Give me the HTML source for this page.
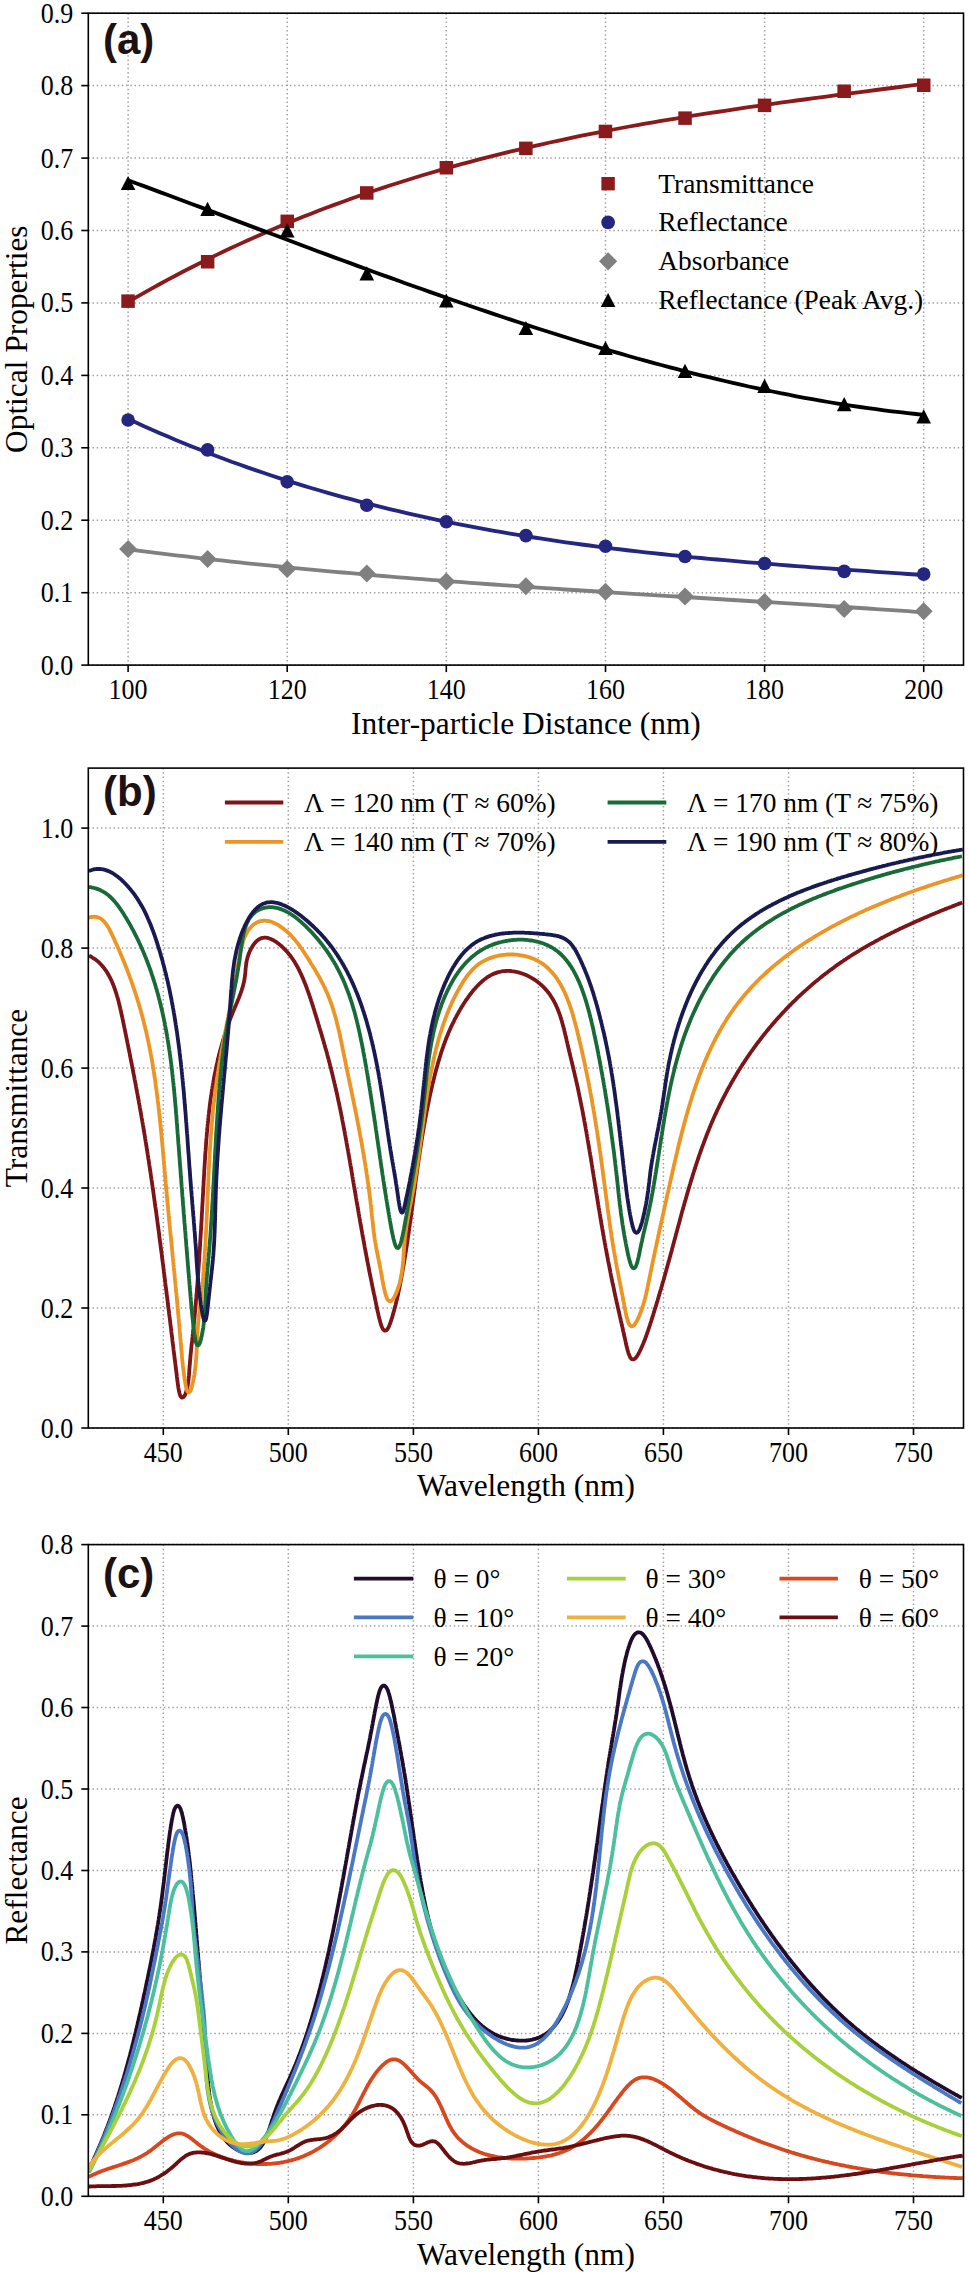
<!DOCTYPE html>
<html><head><meta charset="utf-8"><title>Optical properties</title>
<style>html,body{margin:0;padding:0;background:#fff;width:969px;height:2274px;overflow:hidden}svg{display:block}</style></head>
<body><svg width="969" height="2274" viewBox="0 0 969 2274" font-family='"Liberation Serif", serif' fill="#000">
<rect x="0" y="0" width="969" height="2274" fill="#fff"/>
<line x1="128.1" y1="13.2" x2="128.1" y2="665.1" stroke="#a2a2a2" stroke-width="1.5" stroke-dasharray="1.5 2.7"/>
<line x1="287.2" y1="13.2" x2="287.2" y2="665.1" stroke="#a2a2a2" stroke-width="1.5" stroke-dasharray="1.5 2.7"/>
<line x1="446.3" y1="13.2" x2="446.3" y2="665.1" stroke="#a2a2a2" stroke-width="1.5" stroke-dasharray="1.5 2.7"/>
<line x1="605.5" y1="13.2" x2="605.5" y2="665.1" stroke="#a2a2a2" stroke-width="1.5" stroke-dasharray="1.5 2.7"/>
<line x1="764.6" y1="13.2" x2="764.6" y2="665.1" stroke="#a2a2a2" stroke-width="1.5" stroke-dasharray="1.5 2.7"/>
<line x1="923.7" y1="13.2" x2="923.7" y2="665.1" stroke="#a2a2a2" stroke-width="1.5" stroke-dasharray="1.5 2.7"/>
<line x1="88.3" y1="665.1" x2="963.5" y2="665.1" stroke="#a2a2a2" stroke-width="1.5" stroke-dasharray="1.5 2.7"/>
<line x1="88.3" y1="592.7" x2="963.5" y2="592.7" stroke="#a2a2a2" stroke-width="1.5" stroke-dasharray="1.5 2.7"/>
<line x1="88.3" y1="520.2" x2="963.5" y2="520.2" stroke="#a2a2a2" stroke-width="1.5" stroke-dasharray="1.5 2.7"/>
<line x1="88.3" y1="447.8" x2="963.5" y2="447.8" stroke="#a2a2a2" stroke-width="1.5" stroke-dasharray="1.5 2.7"/>
<line x1="88.3" y1="375.4" x2="963.5" y2="375.4" stroke="#a2a2a2" stroke-width="1.5" stroke-dasharray="1.5 2.7"/>
<line x1="88.3" y1="302.9" x2="963.5" y2="302.9" stroke="#a2a2a2" stroke-width="1.5" stroke-dasharray="1.5 2.7"/>
<line x1="88.3" y1="230.5" x2="963.5" y2="230.5" stroke="#a2a2a2" stroke-width="1.5" stroke-dasharray="1.5 2.7"/>
<line x1="88.3" y1="158.1" x2="963.5" y2="158.1" stroke="#a2a2a2" stroke-width="1.5" stroke-dasharray="1.5 2.7"/>
<line x1="88.3" y1="85.6" x2="963.5" y2="85.6" stroke="#a2a2a2" stroke-width="1.5" stroke-dasharray="1.5 2.7"/>
<line x1="88.3" y1="13.2" x2="963.5" y2="13.2" stroke="#a2a2a2" stroke-width="1.5" stroke-dasharray="1.5 2.7"/>
<clipPath id="clipA"><rect x="88.3" y="13.2" width="875.2" height="651.9"/></clipPath>
<path d="M128.1,302.0 L136.0,297.4 L144.0,292.9 L152.0,288.4 L159.9,284.0 L167.9,279.7 L175.8,275.5 L183.8,271.3 L191.7,267.2 L199.7,263.2 L207.6,259.2 L215.6,255.4 L223.6,251.5 L231.5,247.8 L239.5,244.1 L247.4,240.5 L255.4,236.9 L263.3,233.4 L271.3,230.0 L279.3,226.6 L287.2,223.3 L295.2,220.0 L303.1,216.8 L311.1,213.7 L319.0,210.6 L327.0,207.5 L334.9,204.6 L342.9,201.7 L350.9,198.8 L358.8,196.0 L366.8,193.2 L374.7,190.5 L382.7,187.9 L390.6,185.3 L398.6,182.7 L406.6,180.2 L414.5,177.7 L422.5,175.3 L430.4,173.0 L438.4,170.6 L446.3,168.4 L454.3,166.1 L462.2,163.9 L470.2,161.8 L478.2,159.7 L486.1,157.6 L494.1,155.6 L502.0,153.6 L510.0,151.7 L517.9,149.8 L525.9,147.9 L533.9,146.1 L541.8,144.3 L549.8,142.5 L557.7,140.8 L565.7,139.1 L573.6,137.4 L581.6,135.7 L589.6,134.1 L597.5,132.6 L605.5,131.0 L613.4,129.5 L621.4,128.0 L629.3,126.5 L637.3,125.1 L645.2,123.7 L653.2,122.3 L661.2,120.9 L669.1,119.6 L677.1,118.3 L685.0,117.0 L693.0,115.7 L700.9,114.4 L708.9,113.2 L716.9,112.0 L724.8,110.8 L732.8,109.6 L740.7,108.4 L748.7,107.2 L756.6,106.1 L764.6,104.9 L772.5,103.8 L780.5,102.7 L788.5,101.6 L796.4,100.5 L804.4,99.5 L812.3,98.4 L820.3,97.3 L828.2,96.3 L836.2,95.2 L844.2,94.2 L852.1,93.1 L860.1,92.1 L868.0,91.1 L876.0,90.0 L883.9,89.0 L891.9,88.0 L899.8,87.0 L907.8,85.9 L915.8,84.9 L923.7,83.9" fill="none" stroke="#8a1a1c" stroke-width="3.8" stroke-linejoin="round" stroke-linecap="butt" />
<path d="M128.1,419.0 L136.0,422.6 L144.0,426.2 L152.0,429.7 L159.9,433.2 L167.9,436.6 L175.8,440.0 L183.8,443.2 L191.7,446.4 L199.7,449.6 L207.6,452.7 L215.6,455.7 L223.6,458.7 L231.5,461.7 L239.5,464.5 L247.4,467.4 L255.4,470.1 L263.3,472.8 L271.3,475.5 L279.3,478.1 L287.2,480.6 L295.2,483.1 L303.1,485.6 L311.1,488.0 L319.0,490.3 L327.0,492.6 L334.9,494.9 L342.9,497.1 L350.9,499.2 L358.8,501.3 L366.8,503.4 L374.7,505.4 L382.7,507.4 L390.6,509.3 L398.6,511.2 L406.6,513.1 L414.5,514.9 L422.5,516.6 L430.4,518.4 L438.4,520.1 L446.3,521.7 L454.3,523.3 L462.2,524.9 L470.2,526.4 L478.2,527.9 L486.1,529.4 L494.1,530.8 L502.0,532.2 L510.0,533.6 L517.9,534.9 L525.9,536.2 L533.9,537.5 L541.8,538.7 L549.8,539.9 L557.7,541.1 L565.7,542.3 L573.6,543.4 L581.6,544.5 L589.6,545.5 L597.5,546.6 L605.5,547.6 L613.4,548.6 L621.4,549.5 L629.3,550.5 L637.3,551.4 L645.2,552.3 L653.2,553.2 L661.2,554.0 L669.1,554.9 L677.1,555.7 L685.0,556.5 L693.0,557.3 L700.9,558.0 L708.9,558.8 L716.9,559.5 L724.8,560.2 L732.8,560.9 L740.7,561.6 L748.7,562.3 L756.6,562.9 L764.6,563.6 L772.5,564.2 L780.5,564.9 L788.5,565.5 L796.4,566.1 L804.4,566.7 L812.3,567.3 L820.3,567.9 L828.2,568.4 L836.2,569.0 L844.2,569.6 L852.1,570.1 L860.1,570.7 L868.0,571.2 L876.0,571.8 L883.9,572.3 L891.9,572.9 L899.8,573.4 L907.8,574.0 L915.8,574.5 L923.7,575.1" fill="none" stroke="#24267f" stroke-width="3.8" stroke-linejoin="round" stroke-linecap="butt" />
<path d="M128.1,549.3 L136.0,550.4 L144.0,551.4 L152.0,552.4 L159.9,553.3 L167.9,554.3 L175.8,555.3 L183.8,556.2 L191.7,557.1 L199.7,558.1 L207.6,559.0 L215.6,559.8 L223.6,560.7 L231.5,561.6 L239.5,562.4 L247.4,563.3 L255.4,564.1 L263.3,564.9 L271.3,565.7 L279.3,566.5 L287.2,567.3 L295.2,568.1 L303.1,568.9 L311.1,569.6 L319.0,570.4 L327.0,571.1 L334.9,571.8 L342.9,572.5 L350.9,573.2 L358.8,573.9 L366.8,574.6 L374.7,575.3 L382.7,576.0 L390.6,576.6 L398.6,577.3 L406.6,577.9 L414.5,578.6 L422.5,579.2 L430.4,579.8 L438.4,580.4 L446.3,581.0 L454.3,581.6 L462.2,582.2 L470.2,582.8 L478.2,583.4 L486.1,584.0 L494.1,584.5 L502.0,585.1 L510.0,585.7 L517.9,586.2 L525.9,586.8 L533.9,587.3 L541.8,587.9 L549.8,588.4 L557.7,588.9 L565.7,589.5 L573.6,590.0 L581.6,590.5 L589.6,591.0 L597.5,591.5 L605.5,592.0 L613.4,592.6 L621.4,593.1 L629.3,593.6 L637.3,594.1 L645.2,594.6 L653.2,595.1 L661.2,595.6 L669.1,596.1 L677.1,596.5 L685.0,597.0 L693.0,597.5 L700.9,598.0 L708.9,598.5 L716.9,599.0 L724.8,599.5 L732.8,600.0 L740.7,600.5 L748.7,601.0 L756.6,601.5 L764.6,602.0 L772.5,602.4 L780.5,602.9 L788.5,603.4 L796.4,603.9 L804.4,604.4 L812.3,604.9 L820.3,605.4 L828.2,606.0 L836.2,606.5 L844.2,607.0 L852.1,607.5 L860.1,608.0 L868.0,608.5 L876.0,609.1 L883.9,609.6 L891.9,610.1 L899.8,610.7 L907.8,611.2 L915.8,611.8 L923.7,612.3" fill="none" stroke="#808080" stroke-width="3.8" stroke-linejoin="round" stroke-linecap="butt" />
<path d="M128.1,180.2 L136.0,183.2 L144.0,186.1 L152.0,189.1 L159.9,192.1 L167.9,195.0 L175.8,198.0 L183.8,201.0 L191.7,204.0 L199.7,206.9 L207.6,209.9 L215.6,212.9 L223.6,215.9 L231.5,218.9 L239.5,221.9 L247.4,224.9 L255.4,227.9 L263.3,230.9 L271.3,233.8 L279.3,236.8 L287.2,239.8 L295.2,242.8 L303.1,245.7 L311.1,248.7 L319.0,251.7 L327.0,254.6 L334.9,257.6 L342.9,260.5 L350.9,263.4 L358.8,266.4 L366.8,269.3 L374.7,272.2 L382.7,275.1 L390.6,277.9 L398.6,280.8 L406.6,283.7 L414.5,286.5 L422.5,289.3 L430.4,292.1 L438.4,294.9 L446.3,297.7 L454.3,300.5 L462.2,303.2 L470.2,306.0 L478.2,308.7 L486.1,311.4 L494.1,314.1 L502.0,316.7 L510.0,319.4 L517.9,322.0 L525.9,324.6 L533.9,327.2 L541.8,329.7 L549.8,332.3 L557.7,334.8 L565.7,337.3 L573.6,339.7 L581.6,342.2 L589.6,344.6 L597.5,347.0 L605.5,349.3 L613.4,351.6 L621.4,353.9 L629.3,356.2 L637.3,358.5 L645.2,360.7 L653.2,362.9 L661.2,365.0 L669.1,367.1 L677.1,369.2 L685.0,371.3 L693.0,373.3 L700.9,375.3 L708.9,377.2 L716.9,379.2 L724.8,381.0 L732.8,382.9 L740.7,384.7 L748.7,386.5 L756.6,388.2 L764.6,389.9 L772.5,391.5 L780.5,393.2 L788.5,394.7 L796.4,396.3 L804.4,397.8 L812.3,399.2 L820.3,400.6 L828.2,402.0 L836.2,403.3 L844.2,404.6 L852.1,405.8 L860.1,407.0 L868.0,408.1 L876.0,409.2 L883.9,410.3 L891.9,411.3 L899.8,412.2 L907.8,413.1 L915.8,414.0 L923.7,414.8" fill="none" stroke="#000000" stroke-width="3.8" stroke-linejoin="round" stroke-linecap="butt" />
<path d="M128.1,539.9 L137.1,548.9 L128.1,557.9 L119.1,548.9Z" fill="#808080"/>
<path d="M207.6,549.9 L216.6,558.9 L207.6,567.9 L198.6,558.9Z" fill="#808080"/>
<path d="M287.2,559.9 L296.2,568.9 L287.2,577.9 L278.2,568.9Z" fill="#808080"/>
<path d="M366.8,564.5 L375.8,573.5 L366.8,582.5 L357.8,573.5Z" fill="#808080"/>
<path d="M446.3,572.6 L455.3,581.6 L446.3,590.6 L437.3,581.6Z" fill="#808080"/>
<path d="M525.9,577.2 L534.9,586.2 L525.9,595.2 L516.9,586.2Z" fill="#808080"/>
<path d="M605.5,582.8 L614.5,591.8 L605.5,600.8 L596.5,591.8Z" fill="#808080"/>
<path d="M685.0,587.4 L694.0,596.4 L685.0,605.4 L676.0,596.4Z" fill="#808080"/>
<path d="M764.6,593.0 L773.6,602.0 L764.6,611.0 L755.6,602.0Z" fill="#808080"/>
<path d="M844.2,599.9 L853.2,608.9 L844.2,617.9 L835.2,608.9Z" fill="#808080"/>
<path d="M923.7,602.2 L932.7,611.2 L923.7,620.2 L914.7,611.2Z" fill="#808080"/>
<circle cx="128.1" cy="420.0" r="6.8" fill="#24267f"/>
<circle cx="207.6" cy="449.9" r="6.8" fill="#24267f"/>
<circle cx="287.2" cy="481.7" r="6.8" fill="#24267f"/>
<circle cx="366.8" cy="505.3" r="6.8" fill="#24267f"/>
<circle cx="446.3" cy="521.7" r="6.8" fill="#24267f"/>
<circle cx="525.9" cy="535.6" r="6.8" fill="#24267f"/>
<circle cx="605.5" cy="546.3" r="6.8" fill="#24267f"/>
<circle cx="685.0" cy="556.5" r="6.8" fill="#24267f"/>
<circle cx="764.6" cy="563.5" r="6.8" fill="#24267f"/>
<circle cx="844.2" cy="571.4" r="6.8" fill="#24267f"/>
<circle cx="923.7" cy="574.1" r="6.8" fill="#24267f"/>
<rect x="121.3" y="294.4" width="13.5" height="13.5" fill="#8a1a1c"/>
<rect x="200.9" y="255.0" width="13.5" height="13.5" fill="#8a1a1c"/>
<rect x="280.5" y="214.6" width="13.5" height="13.5" fill="#8a1a1c"/>
<rect x="360.0" y="186.2" width="13.5" height="13.5" fill="#8a1a1c"/>
<rect x="439.6" y="161.0" width="13.5" height="13.5" fill="#8a1a1c"/>
<rect x="519.1" y="141.6" width="13.5" height="13.5" fill="#8a1a1c"/>
<rect x="598.7" y="124.7" width="13.5" height="13.5" fill="#8a1a1c"/>
<rect x="678.3" y="111.4" width="13.5" height="13.5" fill="#8a1a1c"/>
<rect x="757.8" y="98.6" width="13.5" height="13.5" fill="#8a1a1c"/>
<rect x="837.4" y="84.5" width="13.5" height="13.5" fill="#8a1a1c"/>
<rect x="917.0" y="78.5" width="13.5" height="13.5" fill="#8a1a1c"/>
<path d="M128.1,175.9 L135.4,190.1 L120.8,190.1Z" fill="#000000"/>
<path d="M207.6,201.7 L214.9,215.9 L200.3,215.9Z" fill="#000000"/>
<path d="M287.2,223.3 L294.5,237.6 L279.9,237.6Z" fill="#000000"/>
<path d="M366.8,266.2 L374.1,280.4 L359.5,280.4Z" fill="#000000"/>
<path d="M446.3,293.4 L453.6,307.6 L439.0,307.6Z" fill="#000000"/>
<path d="M525.9,320.9 L533.2,335.1 L518.6,335.1Z" fill="#000000"/>
<path d="M605.5,340.9 L612.8,355.1 L598.2,355.1Z" fill="#000000"/>
<path d="M685.0,363.8 L692.3,378.0 L677.7,378.0Z" fill="#000000"/>
<path d="M764.6,378.7 L771.9,392.9 L757.3,392.9Z" fill="#000000"/>
<path d="M844.2,397.1 L851.5,411.3 L836.9,411.3Z" fill="#000000"/>
<path d="M923.7,409.2 L931.0,423.4 L916.4,423.4Z" fill="#000000"/>
<rect x="601.4" y="177.0" width="13.4" height="13.4" fill="#8a1a1c"/>
<text x="658.3" y="192.7" font-size="27.4">Transmittance</text>
<circle cx="608.1" cy="222.4" r="6.85" fill="#24267f"/>
<text x="658.3" y="231.4" font-size="27.4">Reflectance</text>
<path d="M608.1,252.2 L617.2,261.3 L608.1,270.4 L599.0,261.3Z" fill="#808080"/>
<text x="658.3" y="270.3" font-size="27.4">Absorbance</text>
<path d="M608.1,292.9 L615.4,307.1 L600.8,307.1Z" fill="#000000"/>
<text x="658.3" y="309.2" font-size="27.4">Reflectance (Peak Avg.)</text>
<text x="103" y="54" font-family='"Liberation Sans", sans-serif' font-weight="bold" font-size="42" fill="#1c1212">(a)</text>
<rect x="88.3" y="13.2" width="875.2" height="651.9" fill="none" stroke="#000" stroke-width="1.6"/>
<line x1="128.1" y1="665.1" x2="128.1" y2="672.1" stroke="#000" stroke-width="1.6"/>
<text transform="translate(128.1,698.7) scale(1,1.11)" text-anchor="middle" font-size="26">100</text>
<line x1="287.2" y1="665.1" x2="287.2" y2="672.1" stroke="#000" stroke-width="1.6"/>
<text transform="translate(287.2,698.7) scale(1,1.11)" text-anchor="middle" font-size="26">120</text>
<line x1="446.3" y1="665.1" x2="446.3" y2="672.1" stroke="#000" stroke-width="1.6"/>
<text transform="translate(446.3,698.7) scale(1,1.11)" text-anchor="middle" font-size="26">140</text>
<line x1="605.5" y1="665.1" x2="605.5" y2="672.1" stroke="#000" stroke-width="1.6"/>
<text transform="translate(605.5,698.7) scale(1,1.11)" text-anchor="middle" font-size="26">160</text>
<line x1="764.6" y1="665.1" x2="764.6" y2="672.1" stroke="#000" stroke-width="1.6"/>
<text transform="translate(764.6,698.7) scale(1,1.11)" text-anchor="middle" font-size="26">180</text>
<line x1="923.7" y1="665.1" x2="923.7" y2="672.1" stroke="#000" stroke-width="1.6"/>
<text transform="translate(923.7,698.7) scale(1,1.11)" text-anchor="middle" font-size="26">200</text>
<line x1="81.3" y1="665.1" x2="88.3" y2="665.1" stroke="#000" stroke-width="1.6"/>
<text transform="translate(73.2,674.6) scale(1,1.11)" text-anchor="end" font-size="26">0.0</text>
<line x1="81.3" y1="592.7" x2="88.3" y2="592.7" stroke="#000" stroke-width="1.6"/>
<text transform="translate(73.2,602.2) scale(1,1.11)" text-anchor="end" font-size="26">0.1</text>
<line x1="81.3" y1="520.2" x2="88.3" y2="520.2" stroke="#000" stroke-width="1.6"/>
<text transform="translate(73.2,529.7) scale(1,1.11)" text-anchor="end" font-size="26">0.2</text>
<line x1="81.3" y1="447.8" x2="88.3" y2="447.8" stroke="#000" stroke-width="1.6"/>
<text transform="translate(73.2,457.3) scale(1,1.11)" text-anchor="end" font-size="26">0.3</text>
<line x1="81.3" y1="375.4" x2="88.3" y2="375.4" stroke="#000" stroke-width="1.6"/>
<text transform="translate(73.2,384.9) scale(1,1.11)" text-anchor="end" font-size="26">0.4</text>
<line x1="81.3" y1="302.9" x2="88.3" y2="302.9" stroke="#000" stroke-width="1.6"/>
<text transform="translate(73.2,312.4) scale(1,1.11)" text-anchor="end" font-size="26">0.5</text>
<line x1="81.3" y1="230.5" x2="88.3" y2="230.5" stroke="#000" stroke-width="1.6"/>
<text transform="translate(73.2,240.0) scale(1,1.11)" text-anchor="end" font-size="26">0.6</text>
<line x1="81.3" y1="158.1" x2="88.3" y2="158.1" stroke="#000" stroke-width="1.6"/>
<text transform="translate(73.2,167.6) scale(1,1.11)" text-anchor="end" font-size="26">0.7</text>
<line x1="81.3" y1="85.6" x2="88.3" y2="85.6" stroke="#000" stroke-width="1.6"/>
<text transform="translate(73.2,95.1) scale(1,1.11)" text-anchor="end" font-size="26">0.8</text>
<line x1="81.3" y1="13.2" x2="88.3" y2="13.2" stroke="#000" stroke-width="1.6"/>
<text transform="translate(73.2,22.7) scale(1,1.11)" text-anchor="end" font-size="26">0.9</text>
<text x="525.9" y="733.7" text-anchor="middle" font-size="31.4">Inter-particle Distance (nm)</text>
<text transform="translate(27.0,339.2) rotate(-90)" text-anchor="middle" font-size="31.4">Optical Properties</text>
<line x1="163.3" y1="768.1" x2="163.3" y2="1428.0" stroke="#a2a2a2" stroke-width="1.5" stroke-dasharray="1.5 2.7"/>
<line x1="288.3" y1="768.1" x2="288.3" y2="1428.0" stroke="#a2a2a2" stroke-width="1.5" stroke-dasharray="1.5 2.7"/>
<line x1="413.4" y1="768.1" x2="413.4" y2="1428.0" stroke="#a2a2a2" stroke-width="1.5" stroke-dasharray="1.5 2.7"/>
<line x1="538.4" y1="768.1" x2="538.4" y2="1428.0" stroke="#a2a2a2" stroke-width="1.5" stroke-dasharray="1.5 2.7"/>
<line x1="663.4" y1="768.1" x2="663.4" y2="1428.0" stroke="#a2a2a2" stroke-width="1.5" stroke-dasharray="1.5 2.7"/>
<line x1="788.5" y1="768.1" x2="788.5" y2="1428.0" stroke="#a2a2a2" stroke-width="1.5" stroke-dasharray="1.5 2.7"/>
<line x1="913.5" y1="768.1" x2="913.5" y2="1428.0" stroke="#a2a2a2" stroke-width="1.5" stroke-dasharray="1.5 2.7"/>
<line x1="88.3" y1="1428.0" x2="963.5" y2="1428.0" stroke="#a2a2a2" stroke-width="1.5" stroke-dasharray="1.5 2.7"/>
<line x1="88.3" y1="1308.0" x2="963.5" y2="1308.0" stroke="#a2a2a2" stroke-width="1.5" stroke-dasharray="1.5 2.7"/>
<line x1="88.3" y1="1188.0" x2="963.5" y2="1188.0" stroke="#a2a2a2" stroke-width="1.5" stroke-dasharray="1.5 2.7"/>
<line x1="88.3" y1="1068.1" x2="963.5" y2="1068.1" stroke="#a2a2a2" stroke-width="1.5" stroke-dasharray="1.5 2.7"/>
<line x1="88.3" y1="948.1" x2="963.5" y2="948.1" stroke="#a2a2a2" stroke-width="1.5" stroke-dasharray="1.5 2.7"/>
<line x1="88.3" y1="828.1" x2="963.5" y2="828.1" stroke="#a2a2a2" stroke-width="1.5" stroke-dasharray="1.5 2.7"/>
<clipPath id="clipB"><rect x="88.3" y="768.1" width="875.2" height="659.9"/></clipPath>
<path d="M88.9,955.6 L89.8,956.1 L91.1,956.7 L92.3,957.5 L93.6,958.3 L94.9,959.1 L96.1,960.0 L97.2,960.9 L98.4,961.9 L99.5,962.9 L100.5,964.0 L101.6,965.1 L102.5,966.2 L103.5,967.4 L104.4,968.5 L105.3,969.8 L106.2,971.0 L107.0,972.2 L107.8,973.5 L108.5,974.8 L109.2,976.1 L109.9,977.5 L110.6,978.8 L111.3,980.2 L111.9,981.5 L112.5,982.9 L113.0,984.3 L113.6,985.7 L114.1,987.1 L114.6,988.5 L115.1,989.9 L115.6,991.3 L116.1,992.8 L116.5,994.2 L116.9,995.6 L117.4,997.1 L117.8,998.5 L118.2,1000.0 L118.6,1001.4 L118.9,1002.9 L119.3,1004.3 L119.6,1005.8 L120.0,1007.2 L120.3,1008.7 L120.7,1010.2 L121.0,1011.6 L121.3,1013.1 L121.6,1014.5 L121.9,1016.0 L122.3,1017.5 L122.6,1019.0 L122.9,1020.4 L123.2,1021.9 L123.5,1023.4 L123.8,1024.8 L124.1,1026.3 L124.4,1027.8 L124.7,1029.2 L125.0,1030.7 L125.3,1032.2 L125.6,1033.6 L125.9,1035.1 L126.2,1036.6 L126.5,1038.1 L126.8,1039.5 L127.1,1041.0 L127.4,1042.5 L127.7,1043.9 L128.0,1045.4 L128.3,1046.9 L128.6,1048.3 L128.9,1049.8 L129.2,1051.3 L129.5,1052.8 L129.8,1054.2 L130.0,1055.7 L130.3,1057.2 L130.6,1058.6 L130.9,1060.1 L131.2,1061.6 L131.5,1063.1 L131.8,1064.5 L132.1,1066.0 L132.4,1067.5 L132.7,1068.9 L132.9,1070.4 L133.2,1071.9 L133.5,1073.4 L133.8,1074.8 L134.1,1076.3 L134.4,1077.8 L134.6,1079.3 L134.9,1080.7 L135.2,1082.2 L135.5,1083.7 L135.8,1085.1 L136.0,1086.6 L136.3,1088.1 L136.6,1089.6 L136.9,1091.0 L137.1,1092.5 L137.4,1094.0 L137.7,1095.5 L137.9,1096.9 L138.2,1098.4 L138.5,1099.9 L138.8,1101.4 L139.0,1102.8 L139.3,1104.3 L139.6,1105.8 L139.8,1107.3 L140.1,1108.8 L140.3,1110.2 L140.6,1111.7 L140.9,1113.2 L141.1,1114.7 L141.4,1116.1 L141.6,1117.6 L141.9,1119.1 L142.2,1120.6 L142.4,1122.1 L142.7,1123.5 L142.9,1125.0 L143.2,1126.5 L143.4,1128.0 L143.7,1129.4 L143.9,1130.9 L144.2,1132.4 L144.4,1133.9 L144.7,1135.4 L144.9,1136.8 L145.1,1138.3 L145.4,1139.8 L145.6,1141.3 L145.9,1142.8 L146.1,1144.2 L146.3,1145.7 L146.6,1147.2 L146.8,1148.7 L147.0,1150.2 L147.3,1151.7 L147.5,1153.1 L147.7,1154.6 L148.0,1156.1 L148.2,1157.6 L148.4,1159.1 L148.7,1160.5 L148.9,1162.0 L149.1,1163.5 L149.3,1165.0 L149.6,1166.5 L149.8,1168.0 L150.0,1169.4 L150.2,1170.9 L150.5,1172.4 L150.7,1173.9 L150.9,1175.4 L151.1,1176.9 L151.3,1178.3 L151.5,1179.8 L151.8,1181.3 L152.0,1182.8 L152.2,1184.3 L152.4,1185.8 L152.6,1187.3 L152.8,1188.7 L153.1,1190.2 L153.3,1191.7 L153.5,1193.2 L153.7,1194.7 L153.9,1196.2 L154.1,1197.7 L154.3,1199.1 L154.5,1200.6 L154.7,1202.1 L154.9,1203.6 L155.1,1205.1 L155.3,1206.6 L155.6,1208.1 L155.8,1209.5 L156.0,1211.0 L156.2,1212.5 L156.4,1214.0 L156.6,1215.5 L156.8,1217.0 L157.0,1218.5 L157.2,1219.9 L157.4,1221.4 L157.6,1222.9 L157.8,1224.4 L158.0,1225.9 L158.2,1227.4 L158.4,1228.9 L158.6,1230.3 L158.8,1231.8 L159.0,1233.3 L159.2,1234.8 L159.3,1236.3 L159.5,1237.8 L159.7,1239.3 L159.9,1240.8 L160.1,1242.2 L160.3,1243.7 L160.5,1245.2 L160.7,1246.7 L160.9,1248.2 L161.1,1249.7 L161.3,1251.2 L161.5,1252.7 L161.7,1254.1 L161.9,1255.6 L162.0,1257.1 L162.2,1258.6 L162.4,1260.1 L162.6,1261.6 L162.8,1263.1 L163.0,1264.6 L163.2,1266.1 L163.4,1267.5 L163.6,1269.0 L163.8,1270.5 L163.9,1272.0 L164.1,1273.5 L164.3,1275.0 L164.5,1276.5 L164.7,1278.0 L164.9,1279.4 L165.1,1280.9 L165.2,1282.4 L165.4,1283.9 L165.6,1285.4 L165.8,1286.9 L166.0,1288.4 L166.2,1289.9 L166.4,1291.4 L166.5,1292.8 L166.7,1294.3 L166.9,1295.8 L167.1,1297.3 L167.3,1298.8 L167.5,1300.3 L167.7,1301.8 L167.8,1303.3 L168.0,1304.7 L168.2,1306.2 L168.4,1307.7 L168.6,1309.2 L168.8,1310.7 L169.0,1312.2 L169.1,1313.7 L169.3,1315.2 L169.5,1316.7 L169.7,1318.1 L169.9,1319.6 L170.1,1321.1 L170.2,1322.6 L170.4,1324.1 L170.6,1325.6 L170.8,1327.1 L171.0,1328.6 L171.2,1330.1 L171.3,1331.5 L171.5,1333.0 L171.7,1334.5 L171.9,1336.0 L172.1,1337.5 L172.3,1339.0 L172.4,1340.5 L172.6,1342.0 L172.8,1343.5 L173.0,1344.9 L173.2,1346.4 L173.4,1347.9 L173.5,1349.4 L173.7,1350.9 L173.9,1352.4 L174.1,1353.9 L174.3,1355.4 L174.5,1356.9 L174.6,1358.3 L174.8,1359.8 L175.0,1361.3 L175.2,1362.8 L175.4,1364.3 L175.6,1365.8 L175.7,1367.3 L175.9,1368.8 L176.1,1370.3 L176.3,1371.7 L176.5,1373.2 L176.7,1374.7 L176.8,1376.2 L177.0,1377.7 L177.2,1379.2 L177.4,1380.7 L177.6,1382.2 L177.8,1383.6 L178.0,1385.1 L178.2,1386.6 L178.4,1388.1 L178.7,1389.6 L179.0,1391.1 L179.3,1392.5 L179.7,1394.0 L180.1,1395.4 L180.8,1396.7 L181.7,1397.5 L182.7,1397.5 L183.8,1396.8 L184.6,1395.6 L185.3,1394.3 L185.8,1392.9 L186.3,1391.5 L186.7,1390.0 L187.1,1388.6 L187.4,1387.1 L187.7,1385.6 L187.9,1384.2 L188.2,1382.7 L188.4,1381.2 L188.5,1379.7 L188.7,1378.2 L188.8,1376.7 L189.0,1375.2 L189.1,1373.7 L189.2,1372.2 L189.3,1370.7 L189.4,1369.2 L189.5,1367.8 L189.6,1366.3 L189.8,1364.8 L189.9,1363.3 L190.0,1361.8 L190.1,1360.3 L190.3,1358.8 L190.4,1357.3 L190.5,1355.8 L190.7,1354.3 L190.8,1352.8 L191.0,1351.3 L191.1,1349.8 L191.3,1348.3 L191.4,1346.8 L191.6,1345.3 L191.7,1343.9 L191.9,1342.4 L192.1,1340.9 L192.2,1339.4 L192.4,1337.9 L192.6,1336.4 L192.7,1334.9 L192.9,1333.4 L193.0,1331.9 L193.2,1330.4 L193.4,1328.9 L193.5,1327.4 L193.7,1326.0 L193.8,1324.5 L194.0,1323.0 L194.1,1321.5 L194.3,1320.0 L194.4,1318.5 L194.6,1317.0 L194.7,1315.5 L194.8,1314.0 L195.0,1312.5 L195.1,1311.0 L195.3,1309.5 L195.4,1308.0 L195.5,1306.5 L195.7,1305.1 L195.8,1303.6 L195.9,1302.1 L196.0,1300.6 L196.2,1299.1 L196.3,1297.6 L196.4,1296.1 L196.5,1294.6 L196.7,1293.1 L196.8,1291.6 L196.9,1290.1 L197.0,1288.6 L197.1,1287.1 L197.3,1285.6 L197.4,1284.1 L197.5,1282.6 L197.6,1281.1 L197.7,1279.6 L197.8,1278.1 L197.9,1276.6 L198.0,1275.1 L198.2,1273.7 L198.3,1272.2 L198.4,1270.7 L198.5,1269.2 L198.6,1267.7 L198.7,1266.2 L198.8,1264.7 L198.9,1263.2 L199.0,1261.7 L199.1,1260.2 L199.2,1258.7 L199.3,1257.2 L199.4,1255.7 L199.5,1254.2 L199.6,1252.7 L199.7,1251.2 L199.8,1249.7 L199.9,1248.2 L200.0,1246.7 L200.1,1245.2 L200.1,1243.7 L200.2,1242.2 L200.3,1240.7 L200.4,1239.2 L200.5,1237.7 L200.6,1236.2 L200.7,1234.7 L200.8,1233.2 L200.9,1231.7 L201.0,1230.2 L201.1,1228.7 L201.1,1227.2 L201.2,1225.7 L201.3,1224.3 L201.4,1222.8 L201.5,1221.3 L201.6,1219.8 L201.7,1218.3 L201.7,1216.8 L201.8,1215.3 L201.9,1213.8 L202.0,1212.3 L202.1,1210.8 L202.2,1209.3 L202.2,1207.8 L202.3,1206.3 L202.4,1204.8 L202.5,1203.3 L202.6,1201.8 L202.7,1200.3 L202.7,1198.8 L202.8,1197.3 L202.9,1195.8 L203.0,1194.3 L203.1,1192.8 L203.2,1191.3 L203.2,1189.8 L203.3,1188.3 L203.4,1186.8 L203.5,1185.3 L203.6,1183.8 L203.6,1182.3 L203.7,1180.8 L203.8,1179.3 L203.9,1177.8 L204.0,1176.3 L204.1,1174.8 L204.2,1173.3 L204.2,1171.8 L204.3,1170.3 L204.4,1168.8 L204.5,1167.3 L204.6,1165.8 L204.7,1164.3 L204.8,1162.8 L204.9,1161.4 L205.0,1159.9 L205.1,1158.4 L205.1,1156.9 L205.2,1155.4 L205.3,1153.9 L205.4,1152.4 L205.6,1150.9 L205.7,1149.4 L205.8,1147.9 L205.9,1146.4 L206.0,1144.9 L206.1,1143.4 L206.2,1141.9 L206.3,1140.4 L206.4,1138.9 L206.6,1137.4 L206.7,1135.9 L206.8,1134.4 L206.9,1132.9 L207.1,1131.4 L207.2,1129.9 L207.3,1128.4 L207.5,1127.0 L207.6,1125.5 L207.8,1124.0 L207.9,1122.5 L208.1,1121.0 L208.2,1119.5 L208.4,1118.0 L208.5,1116.5 L208.7,1115.0 L208.9,1113.5 L209.0,1112.0 L209.2,1110.5 L209.4,1109.1 L209.6,1107.6 L209.7,1106.1 L209.9,1104.6 L210.1,1103.1 L210.3,1101.6 L210.5,1100.1 L210.7,1098.6 L210.9,1097.2 L211.2,1095.7 L211.4,1094.2 L211.6,1092.7 L211.8,1091.2 L212.0,1089.7 L212.3,1088.3 L212.5,1086.8 L212.8,1085.3 L213.0,1083.8 L213.3,1082.3 L213.5,1080.9 L213.8,1079.4 L214.1,1077.9 L214.3,1076.4 L214.6,1075.0 L214.9,1073.5 L215.2,1072.0 L215.5,1070.5 L215.8,1069.1 L216.1,1067.6 L216.4,1066.1 L216.7,1064.7 L217.1,1063.2 L217.4,1061.8 L217.7,1060.3 L218.1,1058.8 L218.4,1057.4 L218.8,1055.9 L219.2,1054.5 L219.5,1053.0 L219.9,1051.6 L220.3,1050.1 L220.7,1048.7 L221.1,1047.2 L221.5,1045.8 L221.9,1044.3 L222.3,1042.9 L222.7,1041.4 L223.1,1040.0 L223.6,1038.6 L224.0,1037.1 L224.4,1035.7 L224.9,1034.3 L225.4,1032.8 L225.8,1031.4 L226.3,1030.0 L226.8,1028.6 L227.3,1027.1 L227.8,1025.7 L228.3,1024.3 L228.8,1022.9 L229.3,1021.5 L229.8,1020.1 L230.3,1018.7 L230.9,1017.3 L231.4,1015.9 L232.0,1014.5 L232.5,1013.1 L233.1,1011.7 L233.7,1010.3 L234.3,1009.0 L234.8,1007.6 L235.4,1006.2 L236.0,1004.8 L236.6,1003.4 L237.2,1002.0 L237.7,1000.6 L238.3,999.3 L238.9,997.9 L239.4,996.5 L239.9,995.1 L240.5,993.7 L241.0,992.2 L241.5,990.8 L241.9,989.4 L242.4,988.0 L242.8,986.5 L243.2,985.1 L243.6,983.6 L243.9,982.2 L244.2,980.7 L244.5,979.2 L244.7,977.8 L244.9,976.3 L245.1,974.8 L245.3,973.3 L245.4,971.8 L245.5,970.3 L245.6,968.8 L245.8,967.3 L246.0,965.8 L246.1,964.3 L246.4,962.9 L246.6,961.4 L246.9,959.9 L247.3,958.5 L247.7,957.0 L248.1,955.6 L248.6,954.2 L249.2,952.8 L249.7,951.4 L250.4,950.0 L251.1,948.7 L251.8,947.4 L252.6,946.1 L253.4,944.9 L254.3,943.7 L255.3,942.5 L256.3,941.4 L257.4,940.5 L258.6,939.6 L259.9,938.8 L261.3,938.2 L262.7,937.8 L264.2,937.7 L265.7,937.7 L267.2,937.9 L268.6,938.2 L270.0,938.7 L271.4,939.3 L272.8,939.9 L274.1,940.7 L275.3,941.4 L276.6,942.3 L277.8,943.2 L279.0,944.1 L280.1,945.0 L281.3,946.0 L282.4,947.0 L283.5,948.1 L284.5,949.1 L285.6,950.2 L286.6,951.3 L287.6,952.4 L288.5,953.6 L289.5,954.7 L290.4,955.9 L291.3,957.1 L292.2,958.3 L293.0,959.6 L293.9,960.8 L294.7,962.1 L295.4,963.4 L296.2,964.7 L296.9,966.0 L297.7,967.3 L298.4,968.6 L299.0,970.0 L299.7,971.3 L300.3,972.6 L301.0,974.0 L301.6,975.4 L302.2,976.7 L302.8,978.1 L303.4,979.5 L304.0,980.9 L304.5,982.3 L305.1,983.7 L305.6,985.1 L306.2,986.5 L306.7,987.9 L307.2,989.3 L307.7,990.7 L308.2,992.1 L308.7,993.5 L309.2,994.9 L309.7,996.3 L310.2,997.8 L310.7,999.2 L311.1,1000.6 L311.6,1002.0 L312.1,1003.5 L312.5,1004.9 L313.0,1006.3 L313.4,1007.8 L313.9,1009.2 L314.3,1010.6 L314.7,1012.1 L315.2,1013.5 L315.6,1014.9 L316.1,1016.4 L316.5,1017.8 L316.9,1019.2 L317.4,1020.7 L317.8,1022.1 L318.2,1023.5 L318.7,1025.0 L319.1,1026.4 L319.5,1027.8 L320.0,1029.3 L320.4,1030.7 L320.8,1032.2 L321.3,1033.6 L321.7,1035.0 L322.1,1036.5 L322.5,1037.9 L323.0,1039.4 L323.4,1040.8 L323.8,1042.2 L324.2,1043.7 L324.6,1045.1 L325.0,1046.6 L325.4,1048.0 L325.8,1049.4 L326.3,1050.9 L326.7,1052.3 L327.1,1053.8 L327.4,1055.2 L327.8,1056.7 L328.2,1058.1 L328.6,1059.6 L329.0,1061.0 L329.4,1062.5 L329.8,1063.9 L330.1,1065.4 L330.5,1066.8 L330.9,1068.3 L331.2,1069.7 L331.6,1071.2 L332.0,1072.7 L332.3,1074.1 L332.7,1075.6 L333.0,1077.0 L333.4,1078.5 L333.7,1079.9 L334.1,1081.4 L334.4,1082.9 L334.8,1084.3 L335.1,1085.8 L335.4,1087.2 L335.8,1088.7 L336.1,1090.2 L336.4,1091.6 L336.8,1093.1 L337.1,1094.6 L337.4,1096.0 L337.7,1097.5 L338.0,1099.0 L338.3,1100.4 L338.7,1101.9 L339.0,1103.4 L339.3,1104.8 L339.6,1106.3 L339.9,1107.8 L340.2,1109.2 L340.5,1110.7 L340.8,1112.2 L341.1,1113.7 L341.4,1115.1 L341.7,1116.6 L342.0,1118.1 L342.2,1119.5 L342.5,1121.0 L342.8,1122.5 L343.1,1124.0 L343.4,1125.4 L343.7,1126.9 L343.9,1128.4 L344.2,1129.9 L344.5,1131.3 L344.8,1132.8 L345.0,1134.3 L345.3,1135.7 L345.6,1137.2 L345.8,1138.7 L346.1,1140.2 L346.4,1141.7 L346.6,1143.1 L346.9,1144.6 L347.2,1146.1 L347.4,1147.6 L347.7,1149.0 L348.0,1150.5 L348.2,1152.0 L348.5,1153.5 L348.7,1154.9 L349.0,1156.4 L349.3,1157.9 L349.5,1159.4 L349.8,1160.9 L350.0,1162.3 L350.3,1163.8 L350.5,1165.3 L350.8,1166.8 L351.0,1168.2 L351.3,1169.7 L351.5,1171.2 L351.8,1172.7 L352.0,1174.2 L352.3,1175.6 L352.5,1177.1 L352.8,1178.6 L353.0,1180.1 L353.3,1181.6 L353.5,1183.0 L353.8,1184.5 L354.0,1186.0 L354.3,1187.5 L354.5,1189.0 L354.8,1190.4 L355.0,1191.9 L355.3,1193.4 L355.5,1194.9 L355.8,1196.3 L356.0,1197.8 L356.3,1199.3 L356.5,1200.8 L356.8,1202.3 L357.0,1203.7 L357.3,1205.2 L357.6,1206.7 L357.8,1208.2 L358.1,1209.7 L358.3,1211.1 L358.6,1212.6 L358.8,1214.1 L359.1,1215.6 L359.3,1217.0 L359.6,1218.5 L359.9,1220.0 L360.1,1221.5 L360.4,1223.0 L360.6,1224.4 L360.9,1225.9 L361.2,1227.4 L361.4,1228.9 L361.7,1230.3 L362.0,1231.8 L362.2,1233.3 L362.5,1234.8 L362.7,1236.2 L363.0,1237.7 L363.3,1239.2 L363.6,1240.7 L363.8,1242.2 L364.1,1243.6 L364.4,1245.1 L364.6,1246.6 L364.9,1248.1 L365.2,1249.5 L365.5,1251.0 L365.7,1252.5 L366.0,1253.9 L366.3,1255.4 L366.6,1256.9 L366.8,1258.4 L367.1,1259.8 L367.4,1261.3 L367.7,1262.8 L368.0,1264.3 L368.3,1265.7 L368.6,1267.2 L368.8,1268.7 L369.1,1270.2 L369.4,1271.6 L369.7,1273.1 L370.0,1274.6 L370.3,1276.0 L370.6,1277.5 L370.9,1279.0 L371.2,1280.4 L371.5,1281.9 L371.8,1283.4 L372.1,1284.9 L372.4,1286.3 L372.7,1287.8 L373.0,1289.3 L373.3,1290.7 L373.6,1292.2 L373.9,1293.7 L374.3,1295.1 L374.6,1296.6 L374.9,1298.1 L375.2,1299.5 L375.5,1301.0 L375.8,1302.5 L376.1,1303.9 L376.4,1305.4 L376.7,1306.9 L377.0,1308.3 L377.3,1309.8 L377.6,1311.3 L378.0,1312.7 L378.3,1314.2 L378.6,1315.7 L379.0,1317.1 L379.3,1318.6 L379.7,1320.0 L380.1,1321.5 L380.5,1322.9 L380.9,1324.4 L381.4,1325.8 L382.0,1327.2 L382.6,1328.5 L383.4,1329.7 L384.4,1330.6 L385.6,1330.7 L386.7,1330.1 L387.6,1329.0 L388.3,1327.7 L389.0,1326.4 L389.5,1325.0 L390.1,1323.6 L390.6,1322.2 L391.1,1320.7 L391.5,1319.3 L392.0,1317.9 L392.4,1316.4 L392.8,1315.0 L393.2,1313.6 L393.6,1312.1 L394.1,1310.7 L394.4,1309.2 L394.8,1307.8 L395.2,1306.3 L395.6,1304.9 L395.9,1303.4 L396.3,1302.0 L396.6,1300.5 L397.0,1299.0 L397.3,1297.6 L397.7,1296.1 L398.0,1294.7 L398.3,1293.2 L398.6,1291.7 L398.9,1290.2 L399.2,1288.8 L399.5,1287.3 L399.8,1285.8 L400.1,1284.4 L400.4,1282.9 L400.7,1281.4 L400.9,1279.9 L401.2,1278.5 L401.5,1277.0 L401.8,1275.5 L402.0,1274.0 L402.3,1272.6 L402.6,1271.1 L402.8,1269.6 L403.1,1268.1 L403.3,1266.7 L403.6,1265.2 L403.9,1263.7 L404.1,1262.2 L404.3,1260.7 L404.6,1259.3 L404.8,1257.8 L405.1,1256.3 L405.3,1254.8 L405.5,1253.3 L405.8,1251.9 L406.0,1250.4 L406.2,1248.9 L406.5,1247.4 L406.7,1245.9 L406.9,1244.5 L407.2,1243.0 L407.4,1241.5 L407.6,1240.0 L407.8,1238.5 L408.0,1237.0 L408.3,1235.5 L408.5,1234.1 L408.7,1232.6 L408.9,1231.1 L409.1,1229.6 L409.3,1228.1 L409.5,1226.6 L409.7,1225.2 L409.9,1223.7 L410.1,1222.2 L410.4,1220.7 L410.6,1219.2 L410.8,1217.7 L411.0,1216.2 L411.2,1214.8 L411.4,1213.3 L411.6,1211.8 L411.8,1210.3 L412.0,1208.8 L412.2,1207.3 L412.4,1205.8 L412.6,1204.3 L412.8,1202.9 L413.0,1201.4 L413.2,1199.9 L413.4,1198.4 L413.6,1196.9 L413.8,1195.4 L414.0,1193.9 L414.2,1192.5 L414.4,1191.0 L414.6,1189.5 L414.8,1188.0 L415.0,1186.5 L415.2,1185.0 L415.4,1183.5 L415.6,1182.1 L415.8,1180.6 L416.0,1179.1 L416.2,1177.6 L416.4,1176.1 L416.6,1174.6 L416.8,1173.1 L417.0,1171.6 L417.2,1170.2 L417.4,1168.7 L417.6,1167.2 L417.9,1165.7 L418.1,1164.2 L418.3,1162.7 L418.5,1161.3 L418.7,1159.8 L418.9,1158.3 L419.1,1156.8 L419.4,1155.3 L419.6,1153.8 L419.8,1152.3 L420.0,1150.9 L420.2,1149.4 L420.5,1147.9 L420.7,1146.4 L420.9,1144.9 L421.2,1143.5 L421.4,1142.0 L421.6,1140.5 L421.9,1139.0 L422.1,1137.5 L422.3,1136.0 L422.6,1134.6 L422.8,1133.1 L423.1,1131.6 L423.3,1130.1 L423.6,1128.6 L423.8,1127.2 L424.1,1125.7 L424.4,1124.2 L424.6,1122.7 L424.9,1121.3 L425.1,1119.8 L425.4,1118.3 L425.7,1116.8 L426.0,1115.4 L426.2,1113.9 L426.5,1112.4 L426.8,1110.9 L427.1,1109.5 L427.4,1108.0 L427.7,1106.5 L428.0,1105.1 L428.3,1103.6 L428.6,1102.1 L428.9,1100.6 L429.2,1099.2 L429.5,1097.7 L429.8,1096.2 L430.1,1094.8 L430.4,1093.3 L430.8,1091.8 L431.1,1090.4 L431.4,1088.9 L431.8,1087.5 L432.1,1086.0 L432.4,1084.5 L432.8,1083.1 L433.1,1081.6 L433.5,1080.2 L433.9,1078.7 L434.2,1077.3 L434.6,1075.8 L435.0,1074.3 L435.3,1072.9 L435.7,1071.4 L436.1,1070.0 L436.5,1068.5 L436.9,1067.1 L437.3,1065.7 L437.7,1064.2 L438.1,1062.8 L438.5,1061.3 L439.0,1059.9 L439.4,1058.4 L439.8,1057.0 L440.3,1055.6 L440.7,1054.2 L441.2,1052.7 L441.6,1051.3 L442.1,1049.9 L442.6,1048.5 L443.1,1047.0 L443.6,1045.6 L444.1,1044.2 L444.6,1042.8 L445.1,1041.4 L445.6,1040.0 L446.2,1038.6 L446.7,1037.2 L447.3,1035.8 L447.9,1034.4 L448.4,1033.0 L449.0,1031.6 L449.6,1030.3 L450.2,1028.9 L450.8,1027.5 L451.5,1026.2 L452.1,1024.8 L452.7,1023.5 L453.4,1022.1 L454.1,1020.8 L454.7,1019.4 L455.4,1018.1 L456.1,1016.8 L456.8,1015.4 L457.6,1014.1 L458.3,1012.8 L459.0,1011.5 L459.8,1010.2 L460.5,1008.9 L461.3,1007.6 L462.1,1006.3 L462.9,1005.1 L463.7,1003.8 L464.5,1002.5 L465.3,1001.3 L466.1,1000.0 L467.0,998.8 L467.9,997.6 L468.7,996.4 L469.6,995.2 L470.5,994.0 L471.4,992.8 L472.4,991.6 L473.3,990.4 L474.3,989.3 L475.3,988.2 L476.3,987.0 L477.3,986.0 L478.4,984.9 L479.4,983.8 L480.5,982.8 L481.6,981.8 L482.8,980.8 L483.9,979.9 L485.1,978.9 L486.3,978.0 L487.5,977.2 L488.8,976.4 L490.1,975.6 L491.4,974.9 L492.8,974.2 L494.1,973.6 L495.5,973.1 L496.9,972.6 L498.4,972.1 L499.8,971.8 L501.3,971.5 L502.8,971.2 L504.2,971.1 L505.7,971.0 L507.2,970.9 L508.7,970.9 L510.2,971.0 L511.7,971.2 L513.2,971.3 L514.7,971.6 L516.2,971.9 L517.6,972.2 L519.1,972.6 L520.5,973.0 L521.9,973.5 L523.4,974.0 L524.7,974.5 L526.1,975.1 L527.5,975.7 L528.8,976.4 L530.2,977.1 L531.5,977.8 L532.8,978.6 L534.0,979.4 L535.3,980.2 L536.5,981.1 L537.7,982.0 L538.9,982.9 L540.0,983.9 L541.2,984.8 L542.3,985.9 L543.4,986.9 L544.4,988.0 L545.4,989.1 L546.4,990.2 L547.4,991.3 L548.3,992.5 L549.2,993.7 L550.1,994.9 L550.9,996.2 L551.7,997.4 L552.5,998.7 L553.3,1000.0 L554.0,1001.3 L554.7,1002.7 L555.4,1004.0 L556.0,1005.4 L556.6,1006.7 L557.2,1008.1 L557.8,1009.5 L558.3,1010.9 L558.9,1012.3 L559.4,1013.7 L559.9,1015.1 L560.4,1016.5 L560.8,1018.0 L561.3,1019.4 L561.7,1020.8 L562.1,1022.3 L562.5,1023.7 L562.9,1025.2 L563.3,1026.6 L563.7,1028.1 L564.1,1029.5 L564.4,1031.0 L564.8,1032.4 L565.1,1033.9 L565.5,1035.3 L565.8,1036.8 L566.2,1038.3 L566.5,1039.7 L566.8,1041.2 L567.2,1042.6 L567.5,1044.1 L567.8,1045.6 L568.2,1047.0 L568.5,1048.5 L568.9,1050.0 L569.2,1051.4 L569.6,1052.9 L569.9,1054.3 L570.3,1055.8 L570.6,1057.2 L571.0,1058.7 L571.3,1060.2 L571.7,1061.6 L572.0,1063.1 L572.4,1064.5 L572.7,1066.0 L573.1,1067.5 L573.4,1068.9 L573.8,1070.4 L574.1,1071.8 L574.5,1073.3 L574.8,1074.8 L575.1,1076.2 L575.5,1077.7 L575.8,1079.1 L576.1,1080.6 L576.5,1082.1 L576.8,1083.5 L577.1,1085.0 L577.5,1086.5 L577.8,1087.9 L578.1,1089.4 L578.4,1090.9 L578.7,1092.3 L579.0,1093.8 L579.3,1095.3 L579.6,1096.7 L579.9,1098.2 L580.2,1099.7 L580.5,1101.1 L580.8,1102.6 L581.1,1104.1 L581.4,1105.5 L581.7,1107.0 L582.0,1108.5 L582.3,1110.0 L582.6,1111.4 L582.9,1112.9 L583.1,1114.4 L583.4,1115.9 L583.7,1117.3 L584.0,1118.8 L584.2,1120.3 L584.5,1121.8 L584.8,1123.2 L585.0,1124.7 L585.3,1126.2 L585.6,1127.7 L585.8,1129.1 L586.1,1130.6 L586.4,1132.1 L586.6,1133.6 L586.9,1135.0 L587.1,1136.5 L587.4,1138.0 L587.6,1139.5 L587.9,1141.0 L588.1,1142.4 L588.4,1143.9 L588.6,1145.4 L588.9,1146.9 L589.1,1148.4 L589.4,1149.8 L589.6,1151.3 L589.9,1152.8 L590.1,1154.3 L590.4,1155.8 L590.6,1157.2 L590.9,1158.7 L591.1,1160.2 L591.3,1161.7 L591.6,1163.2 L591.8,1164.6 L592.1,1166.1 L592.3,1167.6 L592.5,1169.1 L592.8,1170.6 L593.0,1172.0 L593.2,1173.5 L593.5,1175.0 L593.7,1176.5 L594.0,1178.0 L594.2,1179.4 L594.4,1180.9 L594.7,1182.4 L594.9,1183.9 L595.1,1185.4 L595.4,1186.9 L595.6,1188.3 L595.9,1189.8 L596.1,1191.3 L596.3,1192.8 L596.6,1194.3 L596.8,1195.7 L597.0,1197.2 L597.3,1198.7 L597.5,1200.2 L597.8,1201.7 L598.0,1203.1 L598.2,1204.6 L598.5,1206.1 L598.7,1207.6 L599.0,1209.1 L599.2,1210.5 L599.5,1212.0 L599.7,1213.5 L600.0,1215.0 L600.2,1216.5 L600.4,1217.9 L600.7,1219.4 L600.9,1220.9 L601.2,1222.4 L601.4,1223.9 L601.7,1225.3 L602.0,1226.8 L602.2,1228.3 L602.5,1229.8 L602.7,1231.2 L603.0,1232.7 L603.2,1234.2 L603.5,1235.7 L603.8,1237.2 L604.0,1238.6 L604.3,1240.1 L604.6,1241.6 L604.8,1243.1 L605.1,1244.5 L605.4,1246.0 L605.6,1247.5 L605.9,1249.0 L606.2,1250.4 L606.5,1251.9 L606.7,1253.4 L607.0,1254.9 L607.3,1256.3 L607.6,1257.8 L607.9,1259.3 L608.1,1260.8 L608.4,1262.2 L608.7,1263.7 L609.0,1265.2 L609.3,1266.6 L609.6,1268.1 L609.9,1269.6 L610.2,1271.1 L610.4,1272.5 L610.7,1274.0 L611.0,1275.5 L611.3,1276.9 L611.6,1278.4 L611.9,1279.9 L612.2,1281.4 L612.5,1282.8 L612.8,1284.3 L613.2,1285.8 L613.5,1287.2 L613.8,1288.7 L614.1,1290.2 L614.4,1291.6 L614.7,1293.1 L615.0,1294.6 L615.3,1296.0 L615.7,1297.5 L616.0,1299.0 L616.3,1300.4 L616.6,1301.9 L617.0,1303.4 L617.3,1304.8 L617.6,1306.3 L617.9,1307.7 L618.3,1309.2 L618.6,1310.7 L618.9,1312.1 L619.3,1313.6 L619.6,1315.1 L619.9,1316.5 L620.3,1318.0 L620.6,1319.4 L620.9,1320.9 L621.3,1322.4 L621.6,1323.8 L621.9,1325.3 L622.3,1326.8 L622.6,1328.2 L622.9,1329.7 L623.2,1331.2 L623.6,1332.6 L623.9,1334.1 L624.2,1335.5 L624.5,1337.0 L624.9,1338.5 L625.2,1339.9 L625.5,1341.4 L625.8,1342.9 L626.1,1344.3 L626.5,1345.8 L626.8,1347.3 L627.2,1348.7 L627.6,1350.2 L628.0,1351.6 L628.4,1353.0 L628.9,1354.5 L629.5,1355.8 L630.1,1357.2 L631.0,1358.4 L632.0,1359.2 L633.3,1359.4 L634.5,1358.9 L635.6,1358.0 L636.5,1356.8 L637.4,1355.6 L638.2,1354.3 L638.9,1353.0 L639.6,1351.6 L640.2,1350.3 L640.9,1348.9 L641.5,1347.6 L642.1,1346.2 L642.7,1344.8 L643.3,1343.5 L643.9,1342.1 L644.4,1340.7 L645.0,1339.3 L645.5,1337.9 L646.0,1336.5 L646.5,1335.1 L647.0,1333.6 L647.5,1332.2 L648.0,1330.8 L648.5,1329.4 L648.9,1328.0 L649.4,1326.5 L649.9,1325.1 L650.3,1323.7 L650.8,1322.3 L651.3,1320.8 L651.7,1319.4 L652.2,1318.0 L652.6,1316.5 L653.1,1315.1 L653.5,1313.7 L654.0,1312.2 L654.4,1310.8 L654.8,1309.4 L655.3,1307.9 L655.7,1306.5 L656.2,1305.1 L656.6,1303.6 L657.0,1302.2 L657.5,1300.8 L657.9,1299.3 L658.3,1297.9 L658.7,1296.4 L659.2,1295.0 L659.6,1293.6 L660.0,1292.1 L660.4,1290.7 L660.9,1289.3 L661.3,1287.8 L661.7,1286.4 L662.1,1284.9 L662.5,1283.5 L662.9,1282.0 L663.4,1280.6 L663.8,1279.2 L664.2,1277.7 L664.6,1276.3 L665.0,1274.8 L665.4,1273.4 L665.8,1271.9 L666.2,1270.5 L666.6,1269.1 L667.0,1267.6 L667.4,1266.2 L667.8,1264.7 L668.2,1263.3 L668.6,1261.8 L669.0,1260.4 L669.4,1258.9 L669.8,1257.5 L670.2,1256.0 L670.6,1254.6 L671.0,1253.1 L671.4,1251.7 L671.8,1250.2 L672.1,1248.8 L672.5,1247.4 L672.9,1245.9 L673.3,1244.5 L673.7,1243.0 L674.1,1241.6 L674.5,1240.1 L674.9,1238.7 L675.3,1237.2 L675.7,1235.8 L676.0,1234.3 L676.4,1232.9 L676.8,1231.4 L677.2,1230.0 L677.6,1228.5 L678.0,1227.1 L678.4,1225.6 L678.8,1224.2 L679.2,1222.7 L679.6,1221.3 L680.0,1219.8 L680.3,1218.4 L680.7,1216.9 L681.1,1215.5 L681.5,1214.0 L681.9,1212.6 L682.3,1211.1 L682.7,1209.7 L683.1,1208.3 L683.5,1206.8 L683.9,1205.4 L684.3,1203.9 L684.7,1202.5 L685.1,1201.0 L685.6,1199.6 L686.0,1198.1 L686.4,1196.7 L686.8,1195.3 L687.2,1193.8 L687.6,1192.4 L688.0,1190.9 L688.5,1189.5 L688.9,1188.1 L689.3,1186.6 L689.7,1185.2 L690.2,1183.8 L690.6,1182.3 L691.0,1180.9 L691.5,1179.4 L691.9,1178.0 L692.4,1176.6 L692.8,1175.1 L693.2,1173.7 L693.7,1172.3 L694.1,1170.9 L694.6,1169.4 L695.1,1168.0 L695.5,1166.6 L696.0,1165.1 L696.5,1163.7 L696.9,1162.3 L697.4,1160.9 L697.9,1159.4 L698.4,1158.0 L698.8,1156.6 L699.3,1155.2 L699.8,1153.8 L700.3,1152.4 L700.8,1150.9 L701.3,1149.5 L701.8,1148.1 L702.3,1146.7 L702.8,1145.3 L703.4,1143.9 L703.9,1142.5 L704.4,1141.1 L704.9,1139.7 L705.5,1138.3 L706.0,1136.9 L706.5,1135.5 L707.1,1134.1 L707.6,1132.7 L708.2,1131.3 L708.8,1129.9 L709.3,1128.5 L709.9,1127.1 L710.5,1125.7 L711.0,1124.3 L711.6,1123.0 L712.2,1121.6 L712.8,1120.2 L713.4,1118.8 L714.0,1117.5 L714.6,1116.1 L715.2,1114.7 L715.9,1113.4 L716.5,1112.0 L717.1,1110.6 L717.7,1109.3 L718.4,1107.9 L719.0,1106.6 L719.7,1105.2 L720.3,1103.9 L721.0,1102.5 L721.7,1101.2 L722.3,1099.8 L723.0,1098.5 L723.7,1097.2 L724.4,1095.8 L725.1,1094.5 L725.8,1093.2 L726.5,1091.8 L727.2,1090.5 L727.9,1089.2 L728.6,1087.9 L729.4,1086.6 L730.1,1085.3 L730.8,1083.9 L731.6,1082.6 L732.3,1081.3 L733.1,1080.0 L733.8,1078.7 L734.6,1077.5 L735.3,1076.2 L736.1,1074.9 L736.9,1073.6 L737.7,1072.3 L738.4,1071.0 L739.2,1069.8 L740.0,1068.5 L740.8,1067.2 L741.6,1066.0 L742.4,1064.7 L743.3,1063.4 L744.1,1062.2 L744.9,1060.9 L745.7,1059.7 L746.6,1058.4 L747.4,1057.2 L748.3,1055.9 L749.1,1054.7 L750.0,1053.5 L750.8,1052.3 L751.7,1051.0 L752.6,1049.8 L753.4,1048.6 L754.3,1047.4 L755.2,1046.2 L756.1,1045.0 L757.0,1043.7 L757.9,1042.5 L758.8,1041.3 L759.7,1040.2 L760.6,1039.0 L761.5,1037.8 L762.4,1036.6 L763.4,1035.4 L764.3,1034.2 L765.2,1033.1 L766.2,1031.9 L767.1,1030.7 L768.1,1029.6 L769.0,1028.4 L770.0,1027.3 L771.0,1026.1 L771.9,1025.0 L772.9,1023.8 L773.9,1022.7 L774.9,1021.6 L775.9,1020.4 L776.8,1019.3 L777.8,1018.2 L778.8,1017.1 L779.9,1016.0 L780.9,1014.9 L781.9,1013.7 L782.9,1012.6 L783.9,1011.6 L785.0,1010.5 L786.0,1009.4 L787.0,1008.3 L788.1,1007.2 L789.1,1006.1 L790.2,1005.1 L791.2,1004.0 L792.3,1002.9 L793.3,1001.9 L794.4,1000.8 L795.5,999.8 L796.6,998.7 L797.6,997.7 L798.7,996.7 L799.8,995.6 L800.9,994.6 L802.0,993.6 L803.1,992.6 L804.2,991.6 L805.3,990.6 L806.5,989.6 L807.6,988.6 L808.7,987.6 L809.8,986.6 L811.0,985.6 L812.1,984.6 L813.2,983.6 L814.4,982.7 L815.5,981.7 L816.7,980.8 L817.8,979.8 L819.0,978.9 L820.2,977.9 L821.3,977.0 L822.5,976.0 L823.7,975.1 L824.9,974.2 L826.1,973.3 L827.3,972.4 L828.5,971.4 L829.7,970.5 L830.9,969.6 L832.1,968.8 L833.3,967.9 L834.5,967.0 L835.7,966.1 L836.9,965.2 L838.1,964.4 L839.4,963.5 L840.6,962.7 L841.8,961.8 L843.1,961.0 L844.3,960.1 L845.6,959.3 L846.8,958.5 L848.1,957.7 L849.3,956.8 L850.6,956.0 L851.9,955.2 L853.1,954.4 L854.4,953.6 L855.7,952.8 L857.0,952.0 L858.2,951.3 L859.5,950.5 L860.8,949.7 L862.1,948.9 L863.4,948.2 L864.7,947.4 L866.0,946.7 L867.3,945.9 L868.6,945.2 L869.9,944.4 L871.2,943.7 L872.5,943.0 L873.8,942.3 L875.1,941.5 L876.5,940.8 L877.8,940.1 L879.1,939.4 L880.4,938.7 L881.7,938.0 L883.1,937.3 L884.4,936.6 L885.7,935.9 L887.1,935.2 L888.4,934.5 L889.8,933.9 L891.1,933.2 L892.4,932.5 L893.8,931.9 L895.1,931.2 L896.5,930.5 L897.8,929.9 L899.2,929.2 L900.5,928.6 L901.9,928.0 L903.2,927.3 L904.6,926.7 L906.0,926.0 L907.3,925.4 L908.7,924.8 L910.0,924.2 L911.4,923.5 L912.8,922.9 L914.1,922.3 L915.5,921.7 L916.9,921.1 L918.3,920.5 L919.6,919.9 L921.0,919.3 L922.4,918.7 L923.8,918.1 L925.1,917.5 L926.5,916.9 L927.9,916.3 L929.3,915.7 L930.7,915.1 L932.0,914.6 L933.4,914.0 L934.8,913.4 L936.2,912.8 L937.6,912.3 L939.0,911.7 L940.4,911.1 L941.7,910.6 L943.1,910.0 L944.5,909.4 L945.9,908.9 L947.3,908.3 L948.7,907.8 L950.1,907.2 L951.5,906.7 L952.9,906.1 L954.3,905.6 L955.7,905.0 L957.1,904.5 L958.5,903.9 L959.9,903.4 L961.2,902.9 L962.3,902.4" fill="none" stroke="#7c1418" stroke-width="3.8" stroke-linejoin="round" stroke-linecap="butt" clip-path="url(#clipB)" />
<path d="M88.8,917.7 L89.8,917.4 L91.2,917.0 L92.6,916.8 L94.1,916.7 L95.6,916.8 L97.0,917.1 L98.5,917.5 L99.8,918.2 L101.1,918.9 L102.3,919.8 L103.4,920.9 L104.4,921.9 L105.4,923.1 L106.3,924.3 L107.1,925.5 L107.9,926.8 L108.7,928.1 L109.4,929.4 L110.1,930.7 L110.8,932.1 L111.4,933.4 L112.1,934.8 L112.7,936.1 L113.4,937.5 L114.0,938.8 L114.6,940.2 L115.2,941.6 L115.8,942.9 L116.5,944.3 L117.1,945.7 L117.7,947.0 L118.3,948.4 L118.9,949.8 L119.5,951.2 L120.1,952.5 L120.7,953.9 L121.2,955.3 L121.8,956.7 L122.4,958.1 L123.0,959.5 L123.5,960.9 L124.1,962.2 L124.7,963.6 L125.2,965.0 L125.8,966.4 L126.3,967.8 L126.9,969.2 L127.4,970.6 L127.9,972.0 L128.5,973.4 L129.0,974.8 L129.5,976.2 L130.0,977.6 L130.5,979.0 L131.1,980.5 L131.6,981.9 L132.1,983.3 L132.6,984.7 L133.0,986.1 L133.5,987.5 L134.0,989.0 L134.5,990.4 L135.0,991.8 L135.4,993.2 L135.9,994.7 L136.3,996.1 L136.8,997.5 L137.3,998.9 L137.7,1000.4 L138.1,1001.8 L138.6,1003.2 L139.0,1004.7 L139.4,1006.1 L139.8,1007.6 L140.3,1009.0 L140.7,1010.4 L141.1,1011.9 L141.5,1013.3 L141.9,1014.8 L142.3,1016.2 L142.6,1017.7 L143.0,1019.1 L143.4,1020.6 L143.8,1022.0 L144.1,1023.5 L144.5,1024.9 L144.9,1026.4 L145.2,1027.9 L145.6,1029.3 L145.9,1030.8 L146.3,1032.2 L146.6,1033.7 L146.9,1035.2 L147.3,1036.6 L147.6,1038.1 L147.9,1039.6 L148.2,1041.0 L148.5,1042.5 L148.8,1044.0 L149.1,1045.4 L149.4,1046.9 L149.7,1048.4 L150.0,1049.8 L150.3,1051.3 L150.6,1052.8 L150.8,1054.3 L151.1,1055.7 L151.4,1057.2 L151.6,1058.7 L151.9,1060.2 L152.2,1061.7 L152.4,1063.1 L152.7,1064.6 L152.9,1066.1 L153.1,1067.6 L153.4,1069.1 L153.6,1070.5 L153.9,1072.0 L154.1,1073.5 L154.3,1075.0 L154.5,1076.5 L154.8,1077.9 L155.0,1079.4 L155.2,1080.9 L155.4,1082.4 L155.6,1083.9 L155.8,1085.4 L156.0,1086.9 L156.2,1088.3 L156.4,1089.8 L156.6,1091.3 L156.8,1092.8 L157.0,1094.3 L157.2,1095.8 L157.4,1097.3 L157.6,1098.8 L157.7,1100.2 L157.9,1101.7 L158.1,1103.2 L158.3,1104.7 L158.5,1106.2 L158.6,1107.7 L158.8,1109.2 L159.0,1110.7 L159.1,1112.2 L159.3,1113.7 L159.5,1115.1 L159.6,1116.6 L159.8,1118.1 L159.9,1119.6 L160.1,1121.1 L160.2,1122.6 L160.4,1124.1 L160.5,1125.6 L160.7,1127.1 L160.8,1128.6 L161.0,1130.1 L161.1,1131.6 L161.3,1133.1 L161.4,1134.5 L161.6,1136.0 L161.7,1137.5 L161.8,1139.0 L162.0,1140.5 L162.1,1142.0 L162.3,1143.5 L162.4,1145.0 L162.5,1146.5 L162.7,1148.0 L162.8,1149.5 L162.9,1151.0 L163.1,1152.5 L163.2,1154.0 L163.3,1155.5 L163.5,1157.0 L163.6,1158.4 L163.7,1159.9 L163.9,1161.4 L164.0,1162.9 L164.1,1164.4 L164.3,1165.9 L164.4,1167.4 L164.5,1168.9 L164.6,1170.4 L164.8,1171.9 L164.9,1173.4 L165.0,1174.9 L165.2,1176.4 L165.3,1177.9 L165.4,1179.4 L165.6,1180.9 L165.7,1182.4 L165.8,1183.9 L166.0,1185.3 L166.1,1186.8 L166.2,1188.3 L166.4,1189.8 L166.5,1191.3 L166.6,1192.8 L166.8,1194.3 L166.9,1195.8 L167.0,1197.3 L167.2,1198.8 L167.3,1200.3 L167.4,1201.8 L167.6,1203.3 L167.7,1204.8 L167.9,1206.3 L168.0,1207.8 L168.1,1209.2 L168.3,1210.7 L168.4,1212.2 L168.6,1213.7 L168.7,1215.2 L168.9,1216.7 L169.0,1218.2 L169.1,1219.7 L169.3,1221.2 L169.4,1222.7 L169.6,1224.2 L169.7,1225.7 L169.9,1227.2 L170.0,1228.7 L170.2,1230.1 L170.3,1231.6 L170.4,1233.1 L170.6,1234.6 L170.7,1236.1 L170.9,1237.6 L171.0,1239.1 L171.2,1240.6 L171.3,1242.1 L171.5,1243.6 L171.6,1245.1 L171.8,1246.6 L171.9,1248.1 L172.1,1249.6 L172.2,1251.0 L172.4,1252.5 L172.5,1254.0 L172.6,1255.5 L172.8,1257.0 L172.9,1258.5 L173.1,1260.0 L173.2,1261.5 L173.4,1263.0 L173.5,1264.5 L173.7,1266.0 L173.8,1267.5 L174.0,1269.0 L174.1,1270.5 L174.3,1271.9 L174.4,1273.4 L174.6,1274.9 L174.7,1276.4 L174.8,1277.9 L175.0,1279.4 L175.1,1280.9 L175.3,1282.4 L175.4,1283.9 L175.6,1285.4 L175.7,1286.9 L175.9,1288.4 L176.0,1289.9 L176.1,1291.4 L176.3,1292.9 L176.4,1294.3 L176.6,1295.8 L176.7,1297.3 L176.9,1298.8 L177.0,1300.3 L177.1,1301.8 L177.3,1303.3 L177.4,1304.8 L177.5,1306.3 L177.7,1307.8 L177.8,1309.3 L178.0,1310.8 L178.1,1312.3 L178.2,1313.8 L178.4,1315.3 L178.5,1316.7 L178.6,1318.2 L178.8,1319.7 L178.9,1321.2 L179.0,1322.7 L179.2,1324.2 L179.3,1325.7 L179.4,1327.2 L179.6,1328.7 L179.7,1330.2 L179.8,1331.7 L180.0,1333.2 L180.1,1334.7 L180.2,1336.2 L180.3,1337.7 L180.5,1339.2 L180.6,1340.7 L180.7,1342.2 L180.8,1343.6 L181.0,1345.1 L181.1,1346.6 L181.2,1348.1 L181.3,1349.6 L181.5,1351.1 L181.6,1352.6 L181.7,1354.1 L181.9,1355.6 L182.0,1357.1 L182.1,1358.6 L182.3,1360.1 L182.4,1361.6 L182.6,1363.1 L182.8,1364.6 L182.9,1366.0 L183.1,1367.5 L183.3,1369.0 L183.5,1370.5 L183.7,1372.0 L183.9,1373.5 L184.1,1375.0 L184.3,1376.5 L184.5,1377.9 L184.7,1379.4 L184.9,1380.9 L185.2,1382.4 L185.4,1383.9 L185.7,1385.3 L186.0,1386.8 L186.3,1388.3 L186.7,1389.7 L187.2,1391.1 L188.0,1392.1 L188.9,1392.4 L189.8,1391.7 L190.5,1390.5 L191.0,1389.1 L191.5,1387.7 L191.9,1386.3 L192.3,1384.8 L192.6,1383.4 L193.0,1381.9 L193.3,1380.4 L193.6,1379.0 L193.9,1377.5 L194.1,1376.0 L194.4,1374.5 L194.6,1373.1 L194.8,1371.6 L195.0,1370.1 L195.2,1368.6 L195.4,1367.1 L195.5,1365.6 L195.7,1364.1 L195.8,1362.6 L195.9,1361.1 L196.1,1359.6 L196.2,1358.1 L196.3,1356.7 L196.4,1355.2 L196.5,1353.7 L196.6,1352.2 L196.6,1350.7 L196.7,1349.2 L196.8,1347.7 L196.9,1346.2 L196.9,1344.7 L197.0,1343.2 L197.1,1341.7 L197.1,1340.2 L197.2,1338.7 L197.3,1337.2 L197.4,1335.7 L197.4,1334.2 L197.5,1332.7 L197.6,1331.2 L197.7,1329.7 L197.8,1328.2 L197.9,1326.7 L198.0,1325.2 L198.1,1323.7 L198.2,1322.2 L198.4,1320.7 L198.5,1319.2 L198.7,1317.7 L198.8,1316.2 L199.0,1314.7 L199.2,1313.3 L199.3,1311.8 L199.5,1310.3 L199.7,1308.8 L199.9,1307.3 L200.1,1305.8 L200.2,1304.3 L200.4,1302.8 L200.6,1301.3 L200.8,1299.9 L201.0,1298.4 L201.1,1296.9 L201.3,1295.4 L201.5,1293.9 L201.6,1292.4 L201.8,1290.9 L201.9,1289.4 L202.1,1287.9 L202.2,1286.4 L202.4,1284.9 L202.5,1283.4 L202.7,1282.0 L202.8,1280.5 L202.9,1279.0 L203.1,1277.5 L203.2,1276.0 L203.3,1274.5 L203.4,1273.0 L203.6,1271.5 L203.7,1270.0 L203.8,1268.5 L203.9,1267.0 L204.0,1265.5 L204.1,1264.0 L204.2,1262.5 L204.4,1261.0 L204.5,1259.5 L204.6,1258.0 L204.7,1256.5 L204.8,1255.0 L204.8,1253.5 L204.9,1252.0 L205.0,1250.5 L205.1,1249.0 L205.2,1247.5 L205.3,1246.1 L205.4,1244.6 L205.5,1243.1 L205.6,1241.6 L205.6,1240.1 L205.7,1238.6 L205.8,1237.1 L205.9,1235.6 L205.9,1234.1 L206.0,1232.6 L206.1,1231.1 L206.2,1229.6 L206.2,1228.1 L206.3,1226.6 L206.4,1225.1 L206.5,1223.6 L206.5,1222.1 L206.6,1220.6 L206.7,1219.1 L206.7,1217.6 L206.8,1216.1 L206.9,1214.6 L206.9,1213.1 L207.0,1211.6 L207.1,1210.1 L207.1,1208.6 L207.2,1207.1 L207.2,1205.6 L207.3,1204.1 L207.4,1202.6 L207.4,1201.1 L207.5,1199.6 L207.6,1198.1 L207.6,1196.6 L207.7,1195.1 L207.8,1193.6 L207.8,1192.1 L207.9,1190.6 L207.9,1189.1 L208.0,1187.6 L208.1,1186.1 L208.1,1184.6 L208.2,1183.1 L208.3,1181.6 L208.3,1180.1 L208.4,1178.6 L208.5,1177.1 L208.5,1175.6 L208.6,1174.1 L208.7,1172.6 L208.8,1171.1 L208.8,1169.6 L208.9,1168.1 L209.0,1166.6 L209.1,1165.1 L209.1,1163.6 L209.2,1162.1 L209.3,1160.6 L209.4,1159.1 L209.5,1157.7 L209.5,1156.2 L209.6,1154.7 L209.7,1153.2 L209.8,1151.7 L209.9,1150.2 L210.0,1148.7 L210.1,1147.2 L210.2,1145.7 L210.3,1144.2 L210.4,1142.7 L210.5,1141.2 L210.6,1139.7 L210.7,1138.2 L210.8,1136.7 L210.9,1135.2 L211.0,1133.7 L211.1,1132.2 L211.2,1130.7 L211.3,1129.2 L211.5,1127.7 L211.6,1126.2 L211.7,1124.7 L211.8,1123.2 L212.0,1121.7 L212.1,1120.2 L212.2,1118.8 L212.4,1117.3 L212.5,1115.8 L212.6,1114.3 L212.8,1112.8 L212.9,1111.3 L213.1,1109.8 L213.2,1108.3 L213.4,1106.8 L213.6,1105.3 L213.7,1103.8 L213.9,1102.3 L214.1,1100.8 L214.2,1099.4 L214.4,1097.9 L214.6,1096.4 L214.8,1094.9 L215.0,1093.4 L215.1,1091.9 L215.3,1090.4 L215.5,1088.9 L215.7,1087.5 L215.9,1086.0 L216.2,1084.5 L216.4,1083.0 L216.6,1081.5 L216.8,1080.0 L217.0,1078.5 L217.2,1077.1 L217.5,1075.6 L217.7,1074.1 L217.9,1072.6 L218.2,1071.1 L218.4,1069.7 L218.7,1068.2 L218.9,1066.7 L219.1,1065.2 L219.4,1063.7 L219.6,1062.3 L219.9,1060.8 L220.2,1059.3 L220.4,1057.8 L220.7,1056.3 L220.9,1054.9 L221.2,1053.4 L221.5,1051.9 L221.7,1050.4 L222.0,1049.0 L222.3,1047.5 L222.6,1046.0 L222.8,1044.5 L223.1,1043.1 L223.4,1041.6 L223.7,1040.1 L224.0,1038.6 L224.2,1037.2 L224.5,1035.7 L224.8,1034.2 L225.1,1032.8 L225.4,1031.3 L225.7,1029.8 L225.9,1028.3 L226.2,1026.9 L226.5,1025.4 L226.8,1023.9 L227.1,1022.4 L227.4,1021.0 L227.7,1019.5 L228.0,1018.0 L228.3,1016.6 L228.5,1015.1 L228.8,1013.6 L229.1,1012.1 L229.4,1010.7 L229.7,1009.2 L230.0,1007.7 L230.3,1006.3 L230.6,1004.8 L230.9,1003.3 L231.1,1001.8 L231.4,1000.4 L231.7,998.9 L232.0,997.4 L232.3,995.9 L232.6,994.5 L232.9,993.0 L233.1,991.5 L233.4,990.1 L233.7,988.6 L234.0,987.1 L234.2,985.6 L234.5,984.2 L234.8,982.7 L235.1,981.2 L235.3,979.7 L235.6,978.3 L235.9,976.8 L236.1,975.3 L236.4,973.8 L236.6,972.3 L236.9,970.9 L237.2,969.4 L237.4,967.9 L237.7,966.4 L237.9,965.0 L238.1,963.5 L238.4,962.0 L238.6,960.5 L238.9,959.0 L239.2,957.6 L239.4,956.1 L239.7,954.6 L240.0,953.1 L240.3,951.7 L240.6,950.2 L241.0,948.7 L241.3,947.3 L241.7,945.8 L242.1,944.4 L242.6,943.0 L243.0,941.5 L243.5,940.1 L244.1,938.7 L244.6,937.3 L245.3,936.0 L245.9,934.6 L246.6,933.3 L247.3,932.0 L248.1,930.7 L248.9,929.5 L249.9,928.3 L250.8,927.1 L251.9,926.1 L253.0,925.0 L254.1,924.1 L255.4,923.3 L256.7,922.6 L258.0,921.9 L259.5,921.4 L260.9,921.0 L262.4,920.8 L263.9,920.6 L265.3,920.6 L266.8,920.8 L268.3,921.0 L269.8,921.3 L271.2,921.8 L272.6,922.3 L274.0,922.9 L275.3,923.5 L276.7,924.2 L278.0,924.9 L279.2,925.7 L280.5,926.6 L281.7,927.4 L282.9,928.3 L284.1,929.3 L285.3,930.2 L286.4,931.2 L287.5,932.2 L288.6,933.2 L289.7,934.2 L290.8,935.3 L291.8,936.4 L292.8,937.5 L293.8,938.6 L294.8,939.7 L295.7,940.9 L296.7,942.1 L297.6,943.2 L298.5,944.4 L299.4,945.6 L300.3,946.9 L301.2,948.1 L302.0,949.3 L302.9,950.6 L303.7,951.8 L304.5,953.1 L305.3,954.3 L306.1,955.6 L306.9,956.8 L307.8,958.1 L308.6,959.4 L309.4,960.6 L310.2,961.9 L310.9,963.2 L311.7,964.5 L312.5,965.7 L313.3,967.0 L314.1,968.3 L314.9,969.6 L315.6,970.9 L316.4,972.2 L317.1,973.5 L317.9,974.8 L318.6,976.1 L319.4,977.4 L320.1,978.7 L320.8,980.0 L321.5,981.3 L322.2,982.7 L322.9,984.0 L323.5,985.3 L324.2,986.7 L324.9,988.0 L325.5,989.4 L326.1,990.8 L326.7,992.1 L327.3,993.5 L327.9,994.9 L328.5,996.3 L329.0,997.7 L329.6,999.1 L330.1,1000.5 L330.6,1001.9 L331.1,1003.3 L331.6,1004.7 L332.1,1006.1 L332.6,1007.6 L333.0,1009.0 L333.5,1010.4 L333.9,1011.9 L334.3,1013.3 L334.8,1014.7 L335.2,1016.2 L335.6,1017.6 L336.0,1019.1 L336.4,1020.5 L336.7,1022.0 L337.1,1023.4 L337.5,1024.9 L337.8,1026.3 L338.2,1027.8 L338.5,1029.2 L338.9,1030.7 L339.2,1032.2 L339.6,1033.6 L339.9,1035.1 L340.2,1036.6 L340.5,1038.0 L340.8,1039.5 L341.1,1041.0 L341.4,1042.4 L341.7,1043.9 L342.0,1045.4 L342.3,1046.8 L342.6,1048.3 L342.9,1049.8 L343.2,1051.3 L343.5,1052.7 L343.8,1054.2 L344.1,1055.7 L344.4,1057.1 L344.7,1058.6 L345.0,1060.1 L345.3,1061.5 L345.6,1063.0 L345.9,1064.5 L346.2,1066.0 L346.5,1067.4 L346.8,1068.9 L347.1,1070.4 L347.4,1071.8 L347.7,1073.3 L348.0,1074.8 L348.3,1076.2 L348.6,1077.7 L348.9,1079.2 L349.2,1080.6 L349.5,1082.1 L349.9,1083.6 L350.2,1085.0 L350.5,1086.5 L350.8,1088.0 L351.1,1089.5 L351.4,1090.9 L351.7,1092.4 L352.0,1093.9 L352.3,1095.3 L352.6,1096.8 L352.9,1098.3 L353.2,1099.7 L353.5,1101.2 L353.8,1102.7 L354.1,1104.1 L354.4,1105.6 L354.7,1107.1 L355.0,1108.6 L355.3,1110.0 L355.6,1111.5 L355.9,1113.0 L356.2,1114.4 L356.5,1115.9 L356.8,1117.4 L357.0,1118.9 L357.3,1120.3 L357.6,1121.8 L357.9,1123.3 L358.2,1124.7 L358.5,1126.2 L358.8,1127.7 L359.0,1129.2 L359.3,1130.6 L359.6,1132.1 L359.9,1133.6 L360.1,1135.1 L360.4,1136.5 L360.7,1138.0 L361.0,1139.5 L361.2,1141.0 L361.5,1142.4 L361.8,1143.9 L362.0,1145.4 L362.3,1146.9 L362.5,1148.3 L362.8,1149.8 L363.0,1151.3 L363.3,1152.8 L363.6,1154.3 L363.8,1155.7 L364.0,1157.2 L364.3,1158.7 L364.5,1160.2 L364.8,1161.7 L365.0,1163.1 L365.3,1164.6 L365.5,1166.1 L365.7,1167.6 L366.0,1169.1 L366.2,1170.5 L366.4,1172.0 L366.6,1173.5 L366.9,1175.0 L367.1,1176.5 L367.3,1178.0 L367.5,1179.5 L367.7,1180.9 L367.9,1182.4 L368.2,1183.9 L368.4,1185.4 L368.6,1186.9 L368.8,1188.4 L369.0,1189.9 L369.2,1191.3 L369.4,1192.8 L369.5,1194.3 L369.7,1195.8 L369.9,1197.3 L370.1,1198.8 L370.3,1200.3 L370.5,1201.8 L370.6,1203.2 L370.8,1204.7 L371.0,1206.2 L371.1,1207.7 L371.3,1209.2 L371.5,1210.7 L371.6,1212.2 L371.8,1213.7 L371.9,1215.2 L372.1,1216.7 L372.2,1218.2 L372.4,1219.7 L372.6,1221.1 L372.7,1222.6 L372.9,1224.1 L373.0,1225.6 L373.2,1227.1 L373.4,1228.6 L373.5,1230.1 L373.7,1231.6 L373.9,1233.1 L374.1,1234.6 L374.3,1236.0 L374.5,1237.5 L374.7,1239.0 L375.0,1240.5 L375.2,1242.0 L375.5,1243.5 L375.7,1244.9 L376.0,1246.4 L376.3,1247.9 L376.5,1249.4 L376.8,1250.8 L377.1,1252.3 L377.4,1253.8 L377.7,1255.2 L378.0,1256.7 L378.3,1258.2 L378.6,1259.6 L378.9,1261.1 L379.2,1262.6 L379.5,1264.1 L379.8,1265.5 L380.1,1267.0 L380.3,1268.5 L380.6,1270.0 L380.9,1271.4 L381.2,1272.9 L381.4,1274.4 L381.7,1275.9 L382.0,1277.3 L382.2,1278.8 L382.5,1280.3 L382.8,1281.8 L383.0,1283.2 L383.3,1284.7 L383.6,1286.2 L383.9,1287.6 L384.2,1289.1 L384.6,1290.6 L384.9,1292.0 L385.3,1293.5 L385.7,1294.9 L386.2,1296.4 L386.7,1297.8 L387.3,1299.1 L388.2,1300.3 L389.2,1301.1 L390.4,1301.3 L391.6,1300.7 L392.6,1299.7 L393.5,1298.5 L394.2,1297.2 L394.9,1295.8 L395.6,1294.5 L396.2,1293.1 L396.8,1291.7 L397.3,1290.3 L397.8,1288.9 L398.3,1287.5 L398.7,1286.1 L399.2,1284.6 L399.6,1283.2 L400.0,1281.7 L400.3,1280.3 L400.6,1278.8 L400.9,1277.3 L401.2,1275.9 L401.5,1274.4 L401.7,1272.9 L402.0,1271.4 L402.2,1269.9 L402.4,1268.5 L402.6,1267.0 L402.7,1265.5 L402.9,1264.0 L403.0,1262.5 L403.2,1261.0 L403.3,1259.5 L403.4,1258.0 L403.5,1256.5 L403.6,1255.0 L403.7,1253.5 L403.8,1252.0 L403.9,1250.5 L404.0,1249.0 L404.1,1247.5 L404.2,1246.0 L404.3,1244.5 L404.5,1243.1 L404.6,1241.6 L404.7,1240.1 L404.9,1238.6 L405.0,1237.1 L405.2,1235.6 L405.4,1234.1 L405.6,1232.6 L405.8,1231.1 L406.0,1229.6 L406.2,1228.2 L406.4,1226.7 L406.6,1225.2 L406.9,1223.7 L407.1,1222.2 L407.4,1220.7 L407.6,1219.3 L407.9,1217.8 L408.1,1216.3 L408.4,1214.8 L408.7,1213.4 L409.0,1211.9 L409.2,1210.4 L409.5,1208.9 L409.8,1207.5 L410.1,1206.0 L410.4,1204.5 L410.7,1203.1 L411.0,1201.6 L411.3,1200.1 L411.6,1198.6 L411.8,1197.2 L412.1,1195.7 L412.4,1194.2 L412.7,1192.8 L413.0,1191.3 L413.2,1189.8 L413.5,1188.3 L413.8,1186.9 L414.0,1185.4 L414.3,1183.9 L414.6,1182.4 L414.8,1180.9 L415.1,1179.5 L415.3,1178.0 L415.5,1176.5 L415.8,1175.0 L416.0,1173.5 L416.3,1172.1 L416.5,1170.6 L416.7,1169.1 L416.9,1167.6 L417.2,1166.1 L417.4,1164.6 L417.6,1163.2 L417.8,1161.7 L418.0,1160.2 L418.2,1158.7 L418.4,1157.2 L418.7,1155.7 L418.9,1154.2 L419.1,1152.8 L419.3,1151.3 L419.5,1149.8 L419.7,1148.3 L419.9,1146.8 L420.1,1145.3 L420.3,1143.8 L420.5,1142.4 L420.7,1140.9 L420.9,1139.4 L421.1,1137.9 L421.3,1136.4 L421.5,1134.9 L421.7,1133.4 L421.9,1131.9 L422.1,1130.5 L422.3,1129.0 L422.5,1127.5 L422.7,1126.0 L422.9,1124.5 L423.1,1123.0 L423.3,1121.5 L423.5,1120.1 L423.7,1118.6 L423.9,1117.1 L424.1,1115.6 L424.3,1114.1 L424.5,1112.6 L424.7,1111.1 L424.9,1109.7 L425.1,1108.2 L425.3,1106.7 L425.5,1105.2 L425.7,1103.7 L426.0,1102.2 L426.2,1100.7 L426.4,1099.3 L426.6,1097.8 L426.9,1096.3 L427.1,1094.8 L427.3,1093.3 L427.5,1091.9 L427.8,1090.4 L428.0,1088.9 L428.3,1087.4 L428.5,1085.9 L428.8,1084.5 L429.0,1083.0 L429.3,1081.5 L429.5,1080.0 L429.8,1078.5 L430.1,1077.1 L430.3,1075.6 L430.6,1074.1 L430.9,1072.6 L431.2,1071.2 L431.5,1069.7 L431.8,1068.2 L432.1,1066.8 L432.4,1065.3 L432.7,1063.8 L433.0,1062.4 L433.3,1060.9 L433.6,1059.4 L434.0,1058.0 L434.3,1056.5 L434.6,1055.0 L435.0,1053.6 L435.3,1052.1 L435.7,1050.7 L436.0,1049.2 L436.4,1047.7 L436.8,1046.3 L437.2,1044.8 L437.5,1043.4 L437.9,1041.9 L438.3,1040.5 L438.7,1039.1 L439.1,1037.6 L439.6,1036.2 L440.0,1034.7 L440.4,1033.3 L440.9,1031.9 L441.3,1030.4 L441.8,1029.0 L442.2,1027.6 L442.7,1026.2 L443.2,1024.7 L443.7,1023.3 L444.2,1021.9 L444.7,1020.5 L445.2,1019.1 L445.7,1017.7 L446.2,1016.3 L446.8,1014.9 L447.3,1013.5 L447.9,1012.1 L448.4,1010.7 L449.0,1009.3 L449.6,1007.9 L450.2,1006.5 L450.8,1005.2 L451.4,1003.8 L452.0,1002.4 L452.6,1001.1 L453.3,999.7 L453.9,998.4 L454.6,997.0 L455.3,995.7 L456.0,994.3 L456.7,993.0 L457.4,991.7 L458.1,990.4 L458.8,989.1 L459.6,987.8 L460.3,986.5 L461.1,985.2 L461.8,983.9 L462.6,982.6 L463.4,981.3 L464.2,980.1 L465.1,978.8 L465.9,977.6 L466.8,976.4 L467.7,975.2 L468.7,974.0 L469.6,972.9 L470.6,971.7 L471.6,970.6 L472.6,969.5 L473.7,968.5 L474.8,967.4 L475.9,966.4 L477.0,965.5 L478.2,964.5 L479.4,963.7 L480.7,962.8 L481.9,962.0 L483.2,961.3 L484.6,960.6 L485.9,959.9 L487.3,959.3 L488.6,958.7 L490.0,958.1 L491.4,957.6 L492.9,957.1 L494.3,956.7 L495.8,956.3 L497.2,956.0 L498.7,955.7 L500.1,955.4 L501.6,955.1 L503.1,954.9 L504.6,954.8 L506.1,954.6 L507.6,954.5 L509.1,954.5 L510.6,954.5 L512.1,954.5 L513.6,954.5 L515.1,954.6 L516.6,954.7 L518.1,954.9 L519.6,955.1 L521.0,955.3 L522.5,955.6 L524.0,955.9 L525.5,956.2 L526.9,956.6 L528.3,957.0 L529.8,957.4 L531.2,957.9 L532.6,958.5 L534.0,959.0 L535.3,959.7 L536.7,960.3 L538.0,961.0 L539.3,961.8 L540.6,962.5 L541.9,963.4 L543.1,964.2 L544.3,965.1 L545.5,966.0 L546.6,967.0 L547.7,968.0 L548.8,969.0 L549.9,970.1 L550.9,971.2 L551.9,972.3 L552.9,973.4 L553.9,974.6 L554.8,975.7 L555.7,976.9 L556.6,978.2 L557.4,979.4 L558.2,980.7 L559.0,981.9 L559.8,983.2 L560.6,984.5 L561.3,985.8 L562.0,987.1 L562.7,988.5 L563.4,989.8 L564.0,991.1 L564.7,992.5 L565.3,993.9 L565.9,995.2 L566.5,996.6 L567.0,998.0 L567.6,999.4 L568.1,1000.8 L568.7,1002.2 L569.2,1003.6 L569.7,1005.0 L570.2,1006.5 L570.6,1007.9 L571.1,1009.3 L571.6,1010.7 L572.0,1012.2 L572.5,1013.6 L572.9,1015.0 L573.3,1016.5 L573.7,1017.9 L574.1,1019.4 L574.5,1020.8 L574.9,1022.3 L575.3,1023.7 L575.7,1025.2 L576.1,1026.6 L576.4,1028.1 L576.8,1029.5 L577.2,1031.0 L577.5,1032.4 L577.9,1033.9 L578.2,1035.3 L578.6,1036.8 L578.9,1038.3 L579.3,1039.7 L579.6,1041.2 L580.0,1042.6 L580.3,1044.1 L580.6,1045.6 L581.0,1047.0 L581.3,1048.5 L581.7,1049.9 L582.0,1051.4 L582.3,1052.9 L582.6,1054.3 L583.0,1055.8 L583.3,1057.3 L583.6,1058.7 L583.9,1060.2 L584.2,1061.7 L584.6,1063.1 L584.9,1064.6 L585.2,1066.1 L585.5,1067.5 L585.8,1069.0 L586.1,1070.5 L586.4,1071.9 L586.7,1073.4 L587.0,1074.9 L587.3,1076.3 L587.6,1077.8 L587.9,1079.3 L588.2,1080.8 L588.5,1082.2 L588.8,1083.7 L589.1,1085.2 L589.3,1086.6 L589.6,1088.1 L589.9,1089.6 L590.2,1091.1 L590.4,1092.5 L590.7,1094.0 L591.0,1095.5 L591.3,1097.0 L591.5,1098.4 L591.8,1099.9 L592.1,1101.4 L592.3,1102.9 L592.6,1104.4 L592.8,1105.8 L593.1,1107.3 L593.4,1108.8 L593.6,1110.3 L593.9,1111.7 L594.1,1113.2 L594.4,1114.7 L594.6,1116.2 L594.8,1117.7 L595.1,1119.1 L595.3,1120.6 L595.6,1122.1 L595.8,1123.6 L596.0,1125.1 L596.3,1126.5 L596.5,1128.0 L596.7,1129.5 L597.0,1131.0 L597.2,1132.5 L597.4,1134.0 L597.7,1135.4 L597.9,1136.9 L598.1,1138.4 L598.3,1139.9 L598.6,1141.4 L598.8,1142.9 L599.0,1144.3 L599.2,1145.8 L599.4,1147.3 L599.6,1148.8 L599.8,1150.3 L600.1,1151.8 L600.3,1153.2 L600.5,1154.7 L600.7,1156.2 L600.9,1157.7 L601.1,1159.2 L601.3,1160.7 L601.5,1162.2 L601.7,1163.6 L601.9,1165.1 L602.1,1166.6 L602.3,1168.1 L602.5,1169.6 L602.7,1171.1 L602.9,1172.6 L603.1,1174.1 L603.3,1175.5 L603.5,1177.0 L603.7,1178.5 L603.9,1180.0 L604.1,1181.5 L604.3,1183.0 L604.5,1184.5 L604.7,1186.0 L604.9,1187.4 L605.1,1188.9 L605.3,1190.4 L605.5,1191.9 L605.7,1193.4 L605.9,1194.9 L606.1,1196.4 L606.3,1197.8 L606.5,1199.3 L606.7,1200.8 L606.9,1202.3 L607.1,1203.8 L607.2,1205.3 L607.4,1206.8 L607.6,1208.3 L607.8,1209.7 L608.0,1211.2 L608.2,1212.7 L608.5,1214.2 L608.7,1215.7 L608.9,1217.2 L609.1,1218.7 L609.3,1220.1 L609.5,1221.6 L609.7,1223.1 L609.9,1224.6 L610.1,1226.1 L610.3,1227.6 L610.5,1229.1 L610.8,1230.5 L611.0,1232.0 L611.2,1233.5 L611.4,1235.0 L611.6,1236.5 L611.9,1238.0 L612.1,1239.4 L612.3,1240.9 L612.6,1242.4 L612.8,1243.9 L613.0,1245.4 L613.3,1246.8 L613.5,1248.3 L613.8,1249.8 L614.0,1251.3 L614.3,1252.8 L614.5,1254.2 L614.8,1255.7 L615.0,1257.2 L615.3,1258.7 L615.6,1260.2 L615.8,1261.6 L616.1,1263.1 L616.4,1264.6 L616.7,1266.1 L616.9,1267.5 L617.2,1269.0 L617.5,1270.5 L617.8,1271.9 L618.1,1273.4 L618.4,1274.9 L618.6,1276.4 L618.9,1277.8 L619.2,1279.3 L619.5,1280.8 L619.8,1282.2 L620.1,1283.7 L620.4,1285.2 L620.7,1286.7 L621.0,1288.1 L621.2,1289.6 L621.5,1291.1 L621.8,1292.6 L622.1,1294.0 L622.4,1295.5 L622.7,1297.0 L622.9,1298.4 L623.2,1299.9 L623.5,1301.4 L623.8,1302.9 L624.1,1304.3 L624.3,1305.8 L624.6,1307.3 L624.9,1308.8 L625.2,1310.2 L625.5,1311.7 L625.8,1313.2 L626.1,1314.6 L626.4,1316.1 L626.8,1317.6 L627.2,1319.0 L627.6,1320.4 L628.1,1321.9 L628.7,1323.2 L629.4,1324.6 L630.2,1325.6 L631.4,1326.3 L632.6,1326.1 L633.8,1325.4 L634.8,1324.3 L635.6,1323.1 L636.4,1321.8 L637.1,1320.5 L637.8,1319.2 L638.4,1317.8 L639.0,1316.4 L639.6,1315.0 L640.1,1313.6 L640.7,1312.2 L641.2,1310.8 L641.7,1309.4 L642.2,1308.0 L642.6,1306.6 L643.1,1305.1 L643.5,1303.7 L644.0,1302.3 L644.4,1300.8 L644.8,1299.4 L645.2,1297.9 L645.5,1296.5 L645.9,1295.0 L646.2,1293.6 L646.6,1292.1 L646.9,1290.6 L647.2,1289.2 L647.5,1287.7 L647.8,1286.2 L648.1,1284.8 L648.4,1283.3 L648.7,1281.8 L649.0,1280.4 L649.3,1278.9 L649.6,1277.4 L649.9,1275.9 L650.2,1274.5 L650.5,1273.0 L650.8,1271.5 L651.1,1270.1 L651.4,1268.6 L651.7,1267.1 L652.0,1265.7 L652.3,1264.2 L652.6,1262.7 L652.9,1261.3 L653.2,1259.8 L653.5,1258.3 L653.9,1256.8 L654.2,1255.4 L654.5,1253.9 L654.8,1252.4 L655.1,1251.0 L655.4,1249.5 L655.7,1248.0 L656.0,1246.6 L656.3,1245.1 L656.7,1243.6 L657.0,1242.2 L657.3,1240.7 L657.6,1239.2 L657.9,1237.8 L658.2,1236.3 L658.6,1234.8 L658.9,1233.4 L659.2,1231.9 L659.5,1230.4 L659.8,1229.0 L660.1,1227.5 L660.5,1226.1 L660.8,1224.6 L661.1,1223.1 L661.4,1221.7 L661.8,1220.2 L662.1,1218.7 L662.4,1217.3 L662.7,1215.8 L663.0,1214.3 L663.4,1212.9 L663.7,1211.4 L664.0,1209.9 L664.3,1208.5 L664.7,1207.0 L665.0,1205.5 L665.3,1204.1 L665.6,1202.6 L666.0,1201.2 L666.3,1199.7 L666.6,1198.2 L666.9,1196.8 L667.3,1195.3 L667.6,1193.8 L667.9,1192.4 L668.3,1190.9 L668.6,1189.4 L668.9,1188.0 L669.2,1186.5 L669.6,1185.0 L669.9,1183.6 L670.2,1182.1 L670.5,1180.7 L670.9,1179.2 L671.2,1177.7 L671.5,1176.3 L671.9,1174.8 L672.2,1173.3 L672.5,1171.9 L672.8,1170.4 L673.2,1168.9 L673.5,1167.5 L673.8,1166.0 L674.2,1164.6 L674.5,1163.1 L674.8,1161.6 L675.2,1160.2 L675.5,1158.7 L675.9,1157.3 L676.2,1155.8 L676.5,1154.3 L676.9,1152.9 L677.2,1151.4 L677.6,1150.0 L677.9,1148.5 L678.3,1147.0 L678.6,1145.6 L679.0,1144.1 L679.3,1142.7 L679.7,1141.2 L680.1,1139.8 L680.4,1138.3 L680.8,1136.8 L681.2,1135.4 L681.5,1133.9 L681.9,1132.5 L682.3,1131.0 L682.7,1129.6 L683.0,1128.1 L683.4,1126.7 L683.8,1125.2 L684.2,1123.8 L684.6,1122.3 L685.0,1120.9 L685.4,1119.4 L685.8,1118.0 L686.2,1116.5 L686.6,1115.1 L687.0,1113.7 L687.4,1112.2 L687.8,1110.8 L688.2,1109.3 L688.7,1107.9 L689.1,1106.5 L689.5,1105.0 L690.0,1103.6 L690.4,1102.1 L690.8,1100.7 L691.3,1099.3 L691.7,1097.9 L692.2,1096.4 L692.6,1095.0 L693.1,1093.6 L693.6,1092.1 L694.0,1090.7 L694.5,1089.3 L695.0,1087.9 L695.5,1086.5 L696.0,1085.0 L696.5,1083.6 L697.0,1082.2 L697.5,1080.8 L698.0,1079.4 L698.5,1078.0 L699.0,1076.6 L699.5,1075.2 L700.1,1073.8 L700.6,1072.3 L701.1,1070.9 L701.7,1069.6 L702.2,1068.2 L702.8,1066.8 L703.3,1065.4 L703.9,1064.0 L704.5,1062.6 L705.0,1061.2 L705.6,1059.8 L706.2,1058.4 L706.8,1057.1 L707.4,1055.7 L708.0,1054.3 L708.6,1053.0 L709.3,1051.6 L709.9,1050.2 L710.5,1048.9 L711.2,1047.5 L711.8,1046.2 L712.5,1044.8 L713.1,1043.5 L713.8,1042.1 L714.5,1040.8 L715.2,1039.5 L715.8,1038.1 L716.5,1036.8 L717.3,1035.5 L718.0,1034.1 L718.7,1032.8 L719.4,1031.5 L720.1,1030.2 L720.9,1028.9 L721.6,1027.6 L722.4,1026.3 L723.2,1025.0 L723.9,1023.7 L724.7,1022.5 L725.5,1021.2 L726.3,1019.9 L727.1,1018.6 L727.9,1017.4 L728.7,1016.1 L729.6,1014.9 L730.4,1013.6 L731.3,1012.4 L732.1,1011.2 L733.0,1009.9 L733.8,1008.7 L734.7,1007.5 L735.6,1006.3 L736.5,1005.1 L737.4,1003.9 L738.3,1002.7 L739.3,1001.5 L740.2,1000.4 L741.1,999.2 L742.1,998.0 L743.0,996.9 L744.0,995.7 L745.0,994.6 L745.9,993.4 L746.9,992.3 L747.9,991.2 L748.9,990.1 L749.9,988.9 L750.9,987.8 L751.9,986.7 L753.0,985.6 L754.0,984.6 L755.1,983.5 L756.1,982.4 L757.1,981.3 L758.2,980.3 L759.3,979.2 L760.3,978.2 L761.4,977.1 L762.5,976.1 L763.6,975.1 L764.7,974.0 L765.8,973.0 L766.9,972.0 L768.0,971.0 L769.1,970.0 L770.3,969.0 L771.4,968.0 L772.5,967.0 L773.7,966.1 L774.8,965.1 L776.0,964.1 L777.1,963.2 L778.3,962.2 L779.5,961.3 L780.6,960.4 L781.8,959.4 L783.0,958.5 L784.2,957.6 L785.4,956.7 L786.6,955.8 L787.7,954.9 L789.0,954.0 L790.2,953.1 L791.4,952.2 L792.6,951.3 L793.8,950.4 L795.0,949.6 L796.3,948.7 L797.5,947.8 L798.7,947.0 L800.0,946.1 L801.2,945.3 L802.5,944.5 L803.7,943.6 L805.0,942.8 L806.2,942.0 L807.5,941.2 L808.7,940.4 L810.0,939.6 L811.3,938.8 L812.5,938.0 L813.8,937.2 L815.1,936.4 L816.4,935.6 L817.7,934.9 L819.0,934.1 L820.3,933.3 L821.6,932.6 L822.8,931.8 L824.1,931.1 L825.5,930.3 L826.8,929.6 L828.1,928.9 L829.4,928.1 L830.7,927.4 L832.0,926.7 L833.3,926.0 L834.7,925.3 L836.0,924.6 L837.3,923.9 L838.6,923.2 L840.0,922.5 L841.3,921.8 L842.6,921.1 L844.0,920.4 L845.3,919.8 L846.6,919.1 L848.0,918.4 L849.3,917.8 L850.7,917.1 L852.0,916.5 L853.4,915.8 L854.7,915.2 L856.1,914.5 L857.5,913.9 L858.8,913.2 L860.2,912.6 L861.5,912.0 L862.9,911.4 L864.3,910.8 L865.6,910.1 L867.0,909.5 L868.4,908.9 L869.8,908.3 L871.1,907.7 L872.5,907.1 L873.9,906.5 L875.3,905.9 L876.6,905.4 L878.0,904.8 L879.4,904.2 L880.8,903.6 L882.2,903.1 L883.6,902.5 L885.0,901.9 L886.4,901.4 L887.7,900.8 L889.1,900.2 L890.5,899.7 L891.9,899.1 L893.3,898.6 L894.7,898.1 L896.1,897.5 L897.5,897.0 L898.9,896.5 L900.3,895.9 L901.7,895.4 L903.1,894.9 L904.6,894.4 L906.0,893.8 L907.4,893.3 L908.8,892.8 L910.2,892.3 L911.6,891.8 L913.0,891.3 L914.4,890.8 L915.8,890.3 L917.3,889.8 L918.7,889.3 L920.1,888.8 L921.5,888.3 L922.9,887.8 L924.4,887.4 L925.8,886.9 L927.2,886.4 L928.6,885.9 L930.0,885.4 L931.5,885.0 L932.9,884.5 L934.3,884.0 L935.7,883.6 L937.2,883.1 L938.6,882.7 L940.0,882.2 L941.5,881.7 L942.9,881.3 L944.3,880.8 L945.7,880.4 L947.2,880.0 L948.6,879.5 L950.0,879.1 L951.5,878.6 L952.9,878.2 L954.4,877.8 L955.8,877.3 L957.2,876.9 L958.7,876.5 L960.1,876.0 L961.4,875.6 L962.4,875.3" fill="none" stroke="#ec9424" stroke-width="3.8" stroke-linejoin="round" stroke-linecap="butt" clip-path="url(#clipB)" />
<path d="M88.9,887.1 L89.9,887.2 L91.3,887.4 L92.7,887.7 L94.2,888.0 L95.6,888.4 L97.1,888.9 L98.5,889.4 L99.9,889.9 L101.2,890.6 L102.5,891.3 L103.8,892.0 L105.1,892.8 L106.3,893.7 L107.5,894.6 L108.7,895.5 L109.8,896.5 L110.9,897.5 L112.0,898.6 L113.0,899.7 L114.1,900.8 L115.0,901.9 L116.0,903.1 L116.9,904.2 L117.8,905.4 L118.7,906.6 L119.6,907.9 L120.4,909.1 L121.3,910.3 L122.1,911.6 L122.9,912.8 L123.7,914.1 L124.5,915.4 L125.3,916.7 L126.1,917.9 L126.9,919.2 L127.6,920.5 L128.4,921.8 L129.1,923.1 L129.9,924.4 L130.6,925.7 L131.3,927.0 L132.0,928.4 L132.8,929.7 L133.5,931.0 L134.2,932.3 L134.8,933.7 L135.5,935.0 L136.2,936.3 L136.9,937.7 L137.5,939.0 L138.2,940.4 L138.8,941.7 L139.4,943.1 L140.1,944.5 L140.7,945.8 L141.3,947.2 L141.9,948.6 L142.5,950.0 L143.1,951.3 L143.7,952.7 L144.3,954.1 L144.8,955.5 L145.4,956.9 L146.0,958.3 L146.5,959.7 L147.0,961.1 L147.6,962.5 L148.1,963.9 L148.6,965.3 L149.2,966.7 L149.7,968.1 L150.2,969.5 L150.7,970.9 L151.2,972.3 L151.6,973.8 L152.1,975.2 L152.6,976.6 L153.1,978.0 L153.5,979.5 L154.0,980.9 L154.4,982.3 L154.9,983.7 L155.3,985.2 L155.7,986.6 L156.1,988.1 L156.6,989.5 L157.0,990.9 L157.4,992.4 L157.8,993.8 L158.2,995.3 L158.6,996.7 L158.9,998.2 L159.3,999.6 L159.7,1001.1 L160.1,1002.5 L160.4,1004.0 L160.8,1005.4 L161.1,1006.9 L161.5,1008.4 L161.8,1009.8 L162.2,1011.3 L162.5,1012.8 L162.8,1014.2 L163.1,1015.7 L163.4,1017.1 L163.8,1018.6 L164.1,1020.1 L164.4,1021.6 L164.7,1023.0 L164.9,1024.5 L165.2,1026.0 L165.5,1027.4 L165.8,1028.9 L166.1,1030.4 L166.3,1031.9 L166.6,1033.3 L166.9,1034.8 L167.1,1036.3 L167.4,1037.8 L167.6,1039.3 L167.9,1040.7 L168.1,1042.2 L168.3,1043.7 L168.6,1045.2 L168.8,1046.7 L169.0,1048.1 L169.2,1049.6 L169.5,1051.1 L169.7,1052.6 L169.9,1054.1 L170.1,1055.6 L170.3,1057.1 L170.5,1058.5 L170.7,1060.0 L170.9,1061.5 L171.1,1063.0 L171.3,1064.5 L171.5,1066.0 L171.6,1067.5 L171.8,1069.0 L172.0,1070.4 L172.2,1071.9 L172.3,1073.4 L172.5,1074.9 L172.7,1076.4 L172.8,1077.9 L173.0,1079.4 L173.1,1080.9 L173.3,1082.4 L173.5,1083.9 L173.6,1085.4 L173.8,1086.9 L173.9,1088.3 L174.0,1089.8 L174.2,1091.3 L174.3,1092.8 L174.5,1094.3 L174.6,1095.8 L174.7,1097.3 L174.9,1098.8 L175.0,1100.3 L175.1,1101.8 L175.3,1103.3 L175.4,1104.8 L175.5,1106.3 L175.7,1107.8 L175.8,1109.3 L175.9,1110.8 L176.0,1112.3 L176.1,1113.7 L176.3,1115.2 L176.4,1116.7 L176.5,1118.2 L176.6,1119.7 L176.7,1121.2 L176.8,1122.7 L177.0,1124.2 L177.1,1125.7 L177.2,1127.2 L177.3,1128.7 L177.4,1130.2 L177.5,1131.7 L177.6,1133.2 L177.8,1134.7 L177.9,1136.2 L178.0,1137.7 L178.1,1139.2 L178.2,1140.7 L178.3,1142.2 L178.4,1143.7 L178.6,1145.2 L178.7,1146.7 L178.8,1148.1 L178.9,1149.6 L179.0,1151.1 L179.1,1152.6 L179.2,1154.1 L179.3,1155.6 L179.5,1157.1 L179.6,1158.6 L179.7,1160.1 L179.8,1161.6 L179.9,1163.1 L180.0,1164.6 L180.1,1166.1 L180.3,1167.6 L180.4,1169.1 L180.5,1170.6 L180.6,1172.1 L180.7,1173.6 L180.8,1175.1 L180.9,1176.6 L181.1,1178.1 L181.2,1179.6 L181.3,1181.1 L181.4,1182.5 L181.5,1184.0 L181.6,1185.5 L181.7,1187.0 L181.9,1188.5 L182.0,1190.0 L182.1,1191.5 L182.2,1193.0 L182.3,1194.5 L182.4,1196.0 L182.6,1197.5 L182.7,1199.0 L182.8,1200.5 L182.9,1202.0 L183.0,1203.5 L183.1,1205.0 L183.3,1206.5 L183.4,1208.0 L183.5,1209.5 L183.6,1211.0 L183.7,1212.5 L183.8,1214.0 L184.0,1215.4 L184.1,1216.9 L184.2,1218.4 L184.3,1219.9 L184.4,1221.4 L184.5,1222.9 L184.7,1224.4 L184.8,1225.9 L184.9,1227.4 L185.0,1228.9 L185.1,1230.4 L185.3,1231.9 L185.4,1233.4 L185.5,1234.9 L185.6,1236.4 L185.7,1237.9 L185.9,1239.4 L186.0,1240.9 L186.1,1242.4 L186.2,1243.9 L186.3,1245.4 L186.5,1246.8 L186.6,1248.3 L186.7,1249.8 L186.8,1251.3 L186.9,1252.8 L187.1,1254.3 L187.2,1255.8 L187.3,1257.3 L187.4,1258.8 L187.6,1260.3 L187.7,1261.8 L187.8,1263.3 L187.9,1264.8 L188.0,1266.3 L188.2,1267.8 L188.3,1269.3 L188.4,1270.8 L188.5,1272.3 L188.7,1273.8 L188.8,1275.3 L188.9,1276.7 L189.0,1278.2 L189.2,1279.7 L189.3,1281.2 L189.4,1282.7 L189.5,1284.2 L189.7,1285.7 L189.8,1287.2 L189.9,1288.7 L190.0,1290.2 L190.2,1291.7 L190.3,1293.2 L190.4,1294.7 L190.5,1296.2 L190.7,1297.7 L190.8,1299.2 L190.9,1300.7 L191.1,1302.2 L191.2,1303.7 L191.3,1305.1 L191.4,1306.6 L191.6,1308.1 L191.7,1309.6 L191.9,1311.1 L192.0,1312.6 L192.1,1314.1 L192.3,1315.6 L192.4,1317.1 L192.6,1318.6 L192.8,1320.1 L192.9,1321.6 L193.1,1323.1 L193.2,1324.5 L193.4,1326.0 L193.6,1327.5 L193.8,1329.0 L194.0,1330.5 L194.1,1332.0 L194.3,1333.5 L194.6,1335.0 L194.8,1336.4 L195.0,1337.9 L195.3,1339.4 L195.6,1340.9 L195.9,1342.3 L196.4,1343.7 L197.0,1344.9 L197.9,1345.4 L198.8,1344.9 L199.5,1343.8 L200.0,1342.4 L200.5,1341.0 L200.9,1339.5 L201.2,1338.1 L201.6,1336.6 L201.9,1335.2 L202.2,1333.7 L202.4,1332.2 L202.7,1330.7 L202.9,1329.3 L203.2,1327.8 L203.4,1326.3 L203.6,1324.8 L203.8,1323.3 L203.9,1321.8 L204.1,1320.3 L204.3,1318.8 L204.4,1317.3 L204.5,1315.9 L204.6,1314.4 L204.8,1312.9 L204.8,1311.4 L204.9,1309.9 L205.0,1308.4 L205.1,1306.9 L205.1,1305.4 L205.2,1303.9 L205.2,1302.4 L205.3,1300.9 L205.4,1299.4 L205.4,1297.9 L205.5,1296.4 L205.6,1294.9 L205.7,1293.4 L205.8,1291.9 L205.9,1290.4 L206.0,1288.9 L206.1,1287.4 L206.2,1285.9 L206.3,1284.4 L206.4,1282.9 L206.5,1281.4 L206.6,1279.9 L206.7,1278.4 L206.9,1276.9 L207.0,1275.4 L207.1,1273.9 L207.2,1272.4 L207.4,1270.9 L207.5,1269.5 L207.6,1268.0 L207.8,1266.5 L207.9,1265.0 L208.0,1263.5 L208.2,1262.0 L208.3,1260.5 L208.4,1259.0 L208.6,1257.5 L208.7,1256.0 L208.8,1254.5 L208.9,1253.0 L209.1,1251.5 L209.2,1250.0 L209.3,1248.5 L209.4,1247.0 L209.6,1245.5 L209.7,1244.0 L209.8,1242.6 L209.9,1241.1 L210.0,1239.6 L210.2,1238.1 L210.3,1236.6 L210.4,1235.1 L210.5,1233.6 L210.6,1232.1 L210.7,1230.6 L210.8,1229.1 L210.9,1227.6 L211.0,1226.1 L211.1,1224.6 L211.2,1223.1 L211.3,1221.6 L211.4,1220.1 L211.5,1218.6 L211.6,1217.1 L211.7,1215.6 L211.8,1214.1 L211.9,1212.6 L212.0,1211.1 L212.1,1209.6 L212.2,1208.1 L212.2,1206.6 L212.3,1205.1 L212.4,1203.6 L212.5,1202.1 L212.6,1200.6 L212.7,1199.1 L212.8,1197.7 L212.8,1196.2 L212.9,1194.7 L213.0,1193.2 L213.1,1191.7 L213.2,1190.2 L213.3,1188.7 L213.3,1187.2 L213.4,1185.7 L213.5,1184.2 L213.6,1182.7 L213.7,1181.2 L213.7,1179.7 L213.8,1178.2 L213.9,1176.7 L214.0,1175.2 L214.0,1173.7 L214.1,1172.2 L214.2,1170.7 L214.3,1169.2 L214.4,1167.7 L214.4,1166.2 L214.5,1164.7 L214.6,1163.2 L214.7,1161.7 L214.8,1160.2 L214.8,1158.7 L214.9,1157.2 L215.0,1155.7 L215.1,1154.2 L215.1,1152.7 L215.2,1151.2 L215.3,1149.7 L215.4,1148.2 L215.5,1146.7 L215.6,1145.2 L215.6,1143.7 L215.7,1142.2 L215.8,1140.7 L215.9,1139.2 L216.0,1137.7 L216.1,1136.2 L216.1,1134.7 L216.2,1133.2 L216.3,1131.7 L216.4,1130.3 L216.5,1128.8 L216.6,1127.3 L216.7,1125.8 L216.8,1124.3 L216.9,1122.8 L217.0,1121.3 L217.1,1119.8 L217.2,1118.3 L217.3,1116.8 L217.3,1115.3 L217.4,1113.8 L217.6,1112.3 L217.7,1110.8 L217.8,1109.3 L217.9,1107.8 L218.0,1106.3 L218.1,1104.8 L218.2,1103.3 L218.3,1101.8 L218.4,1100.3 L218.5,1098.8 L218.6,1097.3 L218.8,1095.8 L218.9,1094.3 L219.0,1092.8 L219.1,1091.3 L219.2,1089.9 L219.4,1088.4 L219.5,1086.9 L219.6,1085.4 L219.7,1083.9 L219.9,1082.4 L220.0,1080.9 L220.1,1079.4 L220.3,1077.9 L220.4,1076.4 L220.6,1074.9 L220.7,1073.4 L220.9,1071.9 L221.0,1070.4 L221.2,1068.9 L221.3,1067.4 L221.5,1066.0 L221.6,1064.5 L221.8,1063.0 L222.0,1061.5 L222.1,1060.0 L222.3,1058.5 L222.5,1057.0 L222.7,1055.5 L222.9,1054.0 L223.1,1052.5 L223.2,1051.1 L223.4,1049.6 L223.6,1048.1 L223.9,1046.6 L224.1,1045.1 L224.3,1043.6 L224.5,1042.1 L224.7,1040.7 L224.9,1039.2 L225.2,1037.7 L225.4,1036.2 L225.7,1034.7 L225.9,1033.3 L226.2,1031.8 L226.4,1030.3 L226.7,1028.8 L226.9,1027.3 L227.2,1025.9 L227.5,1024.4 L227.7,1022.9 L228.0,1021.4 L228.3,1020.0 L228.6,1018.5 L228.9,1017.0 L229.2,1015.6 L229.4,1014.1 L229.7,1012.6 L230.0,1011.1 L230.3,1009.7 L230.6,1008.2 L230.9,1006.7 L231.2,1005.3 L231.5,1003.8 L231.8,1002.3 L232.1,1000.8 L232.4,999.4 L232.7,997.9 L233.0,996.4 L233.3,995.0 L233.6,993.5 L233.9,992.0 L234.2,990.6 L234.4,989.1 L234.7,987.6 L235.0,986.1 L235.3,984.7 L235.6,983.2 L235.9,981.7 L236.1,980.2 L236.4,978.8 L236.7,977.3 L236.9,975.8 L237.2,974.3 L237.4,972.9 L237.7,971.4 L238.0,969.9 L238.2,968.4 L238.4,966.9 L238.7,965.5 L238.9,964.0 L239.1,962.5 L239.4,961.0 L239.6,959.5 L239.8,958.0 L240.0,956.6 L240.2,955.1 L240.4,953.6 L240.6,952.1 L240.8,950.6 L241.0,949.1 L241.2,947.6 L241.4,946.2 L241.6,944.7 L241.9,943.2 L242.1,941.7 L242.3,940.2 L242.6,938.7 L242.9,937.3 L243.2,935.8 L243.5,934.3 L243.8,932.9 L244.2,931.4 L244.6,930.0 L245.0,928.5 L245.5,927.1 L246.0,925.7 L246.5,924.3 L247.1,922.9 L247.8,921.6 L248.5,920.2 L249.2,918.9 L250.0,917.7 L250.9,916.5 L251.8,915.3 L252.9,914.2 L253.9,913.2 L255.1,912.2 L256.3,911.3 L257.6,910.5 L258.9,909.8 L260.2,909.2 L261.6,908.7 L263.1,908.2 L264.5,907.8 L266.0,907.5 L267.5,907.3 L269.0,907.2 L270.5,907.2 L272.0,907.2 L273.4,907.4 L274.9,907.6 L276.4,907.9 L277.9,908.2 L279.3,908.6 L280.7,909.1 L282.1,909.6 L283.5,910.2 L284.9,910.8 L286.2,911.5 L287.5,912.2 L288.8,912.9 L290.1,913.7 L291.4,914.5 L292.6,915.4 L293.9,916.2 L295.1,917.1 L296.3,918.0 L297.4,918.9 L298.6,919.9 L299.8,920.9 L300.9,921.8 L302.0,922.8 L303.1,923.8 L304.2,924.9 L305.3,925.9 L306.4,926.9 L307.4,928.0 L308.5,929.1 L309.5,930.1 L310.6,931.2 L311.6,932.3 L312.6,933.4 L313.6,934.5 L314.6,935.6 L315.6,936.8 L316.6,937.9 L317.6,939.0 L318.5,940.2 L319.5,941.4 L320.4,942.5 L321.4,943.7 L322.3,944.9 L323.2,946.1 L324.1,947.3 L325.0,948.5 L325.9,949.7 L326.8,950.9 L327.6,952.1 L328.5,953.4 L329.3,954.6 L330.1,955.9 L330.9,957.1 L331.7,958.4 L332.5,959.7 L333.3,961.0 L334.1,962.2 L334.8,963.5 L335.6,964.8 L336.3,966.2 L337.0,967.5 L337.7,968.8 L338.4,970.1 L339.1,971.5 L339.8,972.8 L340.4,974.1 L341.1,975.5 L341.7,976.9 L342.4,978.2 L343.0,979.6 L343.6,981.0 L344.2,982.3 L344.8,983.7 L345.3,985.1 L345.9,986.5 L346.4,987.9 L347.0,989.3 L347.5,990.7 L348.0,992.1 L348.6,993.5 L349.1,994.9 L349.6,996.3 L350.0,997.7 L350.5,999.2 L351.0,1000.6 L351.5,1002.0 L351.9,1003.5 L352.4,1004.9 L352.8,1006.3 L353.2,1007.8 L353.6,1009.2 L354.1,1010.6 L354.5,1012.1 L354.9,1013.5 L355.3,1015.0 L355.6,1016.4 L356.0,1017.9 L356.4,1019.3 L356.8,1020.8 L357.1,1022.2 L357.5,1023.7 L357.8,1025.2 L358.2,1026.6 L358.5,1028.1 L358.8,1029.5 L359.2,1031.0 L359.5,1032.5 L359.8,1033.9 L360.1,1035.4 L360.4,1036.9 L360.7,1038.3 L361.0,1039.8 L361.3,1041.3 L361.6,1042.7 L361.9,1044.2 L362.2,1045.7 L362.5,1047.2 L362.8,1048.6 L363.1,1050.1 L363.3,1051.6 L363.6,1053.1 L363.9,1054.5 L364.2,1056.0 L364.4,1057.5 L364.7,1059.0 L365.0,1060.4 L365.2,1061.9 L365.5,1063.4 L365.7,1064.9 L366.0,1066.3 L366.3,1067.8 L366.5,1069.3 L366.8,1070.8 L367.0,1072.3 L367.3,1073.7 L367.5,1075.2 L367.8,1076.7 L368.0,1078.2 L368.3,1079.7 L368.5,1081.1 L368.7,1082.6 L369.0,1084.1 L369.2,1085.6 L369.5,1087.1 L369.7,1088.5 L369.9,1090.0 L370.2,1091.5 L370.4,1093.0 L370.6,1094.5 L370.9,1095.9 L371.1,1097.4 L371.3,1098.9 L371.6,1100.4 L371.8,1101.9 L372.0,1103.4 L372.3,1104.8 L372.5,1106.3 L372.7,1107.8 L372.9,1109.3 L373.2,1110.8 L373.4,1112.3 L373.6,1113.7 L373.8,1115.2 L374.1,1116.7 L374.3,1118.2 L374.5,1119.7 L374.7,1121.2 L375.0,1122.6 L375.2,1124.1 L375.4,1125.6 L375.6,1127.1 L375.8,1128.6 L376.0,1130.1 L376.3,1131.5 L376.5,1133.0 L376.7,1134.5 L376.9,1136.0 L377.1,1137.5 L377.3,1139.0 L377.6,1140.4 L377.8,1141.9 L378.0,1143.4 L378.2,1144.9 L378.4,1146.4 L378.6,1147.9 L378.9,1149.4 L379.1,1150.8 L379.3,1152.3 L379.5,1153.8 L379.7,1155.3 L379.9,1156.8 L380.1,1158.3 L380.4,1159.7 L380.6,1161.2 L380.8,1162.7 L381.0,1164.2 L381.2,1165.7 L381.4,1167.2 L381.7,1168.6 L381.9,1170.1 L382.1,1171.6 L382.3,1173.1 L382.5,1174.6 L382.8,1176.1 L383.0,1177.6 L383.2,1179.0 L383.4,1180.5 L383.7,1182.0 L383.9,1183.5 L384.1,1185.0 L384.4,1186.4 L384.6,1187.9 L384.8,1189.4 L385.1,1190.9 L385.3,1192.4 L385.5,1193.9 L385.8,1195.3 L386.0,1196.8 L386.2,1198.3 L386.5,1199.8 L386.7,1201.3 L387.0,1202.7 L387.2,1204.2 L387.4,1205.7 L387.7,1207.2 L387.9,1208.7 L388.2,1210.1 L388.4,1211.6 L388.7,1213.1 L388.9,1214.6 L389.2,1216.1 L389.4,1217.5 L389.7,1219.0 L389.9,1220.5 L390.2,1222.0 L390.4,1223.4 L390.7,1224.9 L391.0,1226.4 L391.2,1227.9 L391.5,1229.4 L391.8,1230.8 L392.1,1232.3 L392.4,1233.8 L392.7,1235.2 L393.0,1236.7 L393.3,1238.2 L393.7,1239.6 L394.1,1241.1 L394.5,1242.5 L394.9,1244.0 L395.4,1245.4 L396.1,1246.7 L396.9,1247.7 L397.9,1248.0 L398.9,1247.4 L399.6,1246.2 L400.2,1244.8 L400.7,1243.4 L401.1,1242.0 L401.5,1240.5 L401.8,1239.1 L402.2,1237.6 L402.5,1236.1 L402.8,1234.7 L403.1,1233.2 L403.4,1231.7 L403.7,1230.3 L404.0,1228.8 L404.2,1227.3 L404.5,1225.8 L404.8,1224.4 L405.1,1222.9 L405.3,1221.4 L405.6,1219.9 L405.9,1218.5 L406.1,1217.0 L406.4,1215.5 L406.6,1214.0 L406.9,1212.6 L407.2,1211.1 L407.4,1209.6 L407.7,1208.1 L407.9,1206.6 L408.2,1205.2 L408.4,1203.7 L408.6,1202.2 L408.9,1200.7 L409.1,1199.2 L409.4,1197.8 L409.6,1196.3 L409.9,1194.8 L410.1,1193.3 L410.3,1191.8 L410.6,1190.4 L410.8,1188.9 L411.1,1187.4 L411.3,1185.9 L411.6,1184.4 L411.8,1183.0 L412.1,1181.5 L412.3,1180.0 L412.5,1178.5 L412.8,1177.0 L413.0,1175.6 L413.3,1174.1 L413.5,1172.6 L413.8,1171.1 L414.0,1169.6 L414.3,1168.2 L414.5,1166.7 L414.8,1165.2 L415.0,1163.7 L415.2,1162.2 L415.5,1160.8 L415.7,1159.3 L416.0,1157.8 L416.2,1156.3 L416.4,1154.8 L416.7,1153.4 L416.9,1151.9 L417.1,1150.4 L417.4,1148.9 L417.6,1147.4 L417.8,1145.9 L418.1,1144.5 L418.3,1143.0 L418.5,1141.5 L418.7,1140.0 L419.0,1138.5 L419.2,1137.0 L419.4,1135.6 L419.6,1134.1 L419.8,1132.6 L420.0,1131.1 L420.3,1129.6 L420.5,1128.1 L420.7,1126.6 L420.9,1125.2 L421.1,1123.7 L421.3,1122.2 L421.5,1120.7 L421.6,1119.2 L421.8,1117.7 L422.0,1116.2 L422.2,1114.7 L422.4,1113.3 L422.6,1111.8 L422.7,1110.3 L422.9,1108.8 L423.1,1107.3 L423.2,1105.8 L423.4,1104.3 L423.6,1102.8 L423.7,1101.3 L423.9,1099.8 L424.1,1098.4 L424.2,1096.9 L424.4,1095.4 L424.6,1093.9 L424.7,1092.4 L424.9,1090.9 L425.1,1089.4 L425.2,1087.9 L425.4,1086.4 L425.6,1084.9 L425.7,1083.4 L425.9,1082.0 L426.1,1080.5 L426.2,1079.0 L426.4,1077.5 L426.6,1076.0 L426.8,1074.5 L426.9,1073.0 L427.1,1071.5 L427.3,1070.0 L427.5,1068.6 L427.7,1067.1 L427.9,1065.6 L428.1,1064.1 L428.3,1062.6 L428.5,1061.1 L428.7,1059.6 L428.9,1058.1 L429.1,1056.7 L429.3,1055.2 L429.6,1053.7 L429.8,1052.2 L430.0,1050.7 L430.3,1049.3 L430.5,1047.8 L430.8,1046.3 L431.0,1044.8 L431.3,1043.3 L431.6,1041.9 L431.9,1040.4 L432.2,1038.9 L432.5,1037.5 L432.8,1036.0 L433.1,1034.5 L433.4,1033.0 L433.7,1031.6 L434.0,1030.1 L434.4,1028.7 L434.7,1027.2 L435.1,1025.7 L435.5,1024.3 L435.8,1022.8 L436.2,1021.4 L436.6,1019.9 L437.0,1018.5 L437.4,1017.1 L437.9,1015.6 L438.3,1014.2 L438.8,1012.8 L439.2,1011.3 L439.7,1009.9 L440.2,1008.5 L440.7,1007.1 L441.2,1005.7 L441.7,1004.2 L442.2,1002.8 L442.8,1001.4 L443.3,1000.1 L443.9,998.7 L444.5,997.3 L445.0,995.9 L445.7,994.5 L446.3,993.2 L446.9,991.8 L447.6,990.5 L448.2,989.1 L448.9,987.8 L449.6,986.4 L450.3,985.1 L451.0,983.8 L451.7,982.5 L452.5,981.2 L453.2,979.9 L454.0,978.6 L454.8,977.3 L455.6,976.1 L456.4,974.8 L457.3,973.6 L458.1,972.3 L459.0,971.1 L459.9,969.9 L460.8,968.7 L461.8,967.6 L462.7,966.4 L463.7,965.3 L464.7,964.1 L465.7,963.0 L466.7,961.9 L467.8,960.9 L468.8,959.8 L469.9,958.8 L471.0,957.8 L472.2,956.8 L473.3,955.8 L474.5,954.9 L475.7,954.0 L476.9,953.1 L478.1,952.2 L479.3,951.4 L480.6,950.6 L481.9,949.8 L483.2,949.0 L484.5,948.3 L485.8,947.6 L487.2,947.0 L488.5,946.3 L489.9,945.7 L491.3,945.2 L492.7,944.6 L494.1,944.1 L495.5,943.6 L497.0,943.2 L498.4,942.7 L499.8,942.3 L501.3,942.0 L502.8,941.6 L504.2,941.3 L505.7,941.0 L507.2,940.8 L508.7,940.5 L510.1,940.3 L511.6,940.1 L513.1,940.0 L514.6,939.9 L516.1,939.8 L517.6,939.7 L519.1,939.7 L520.6,939.7 L522.1,939.7 L523.6,939.7 L525.1,939.8 L526.6,939.9 L528.1,940.1 L529.6,940.3 L531.1,940.5 L532.5,940.7 L534.0,941.0 L535.5,941.3 L536.9,941.6 L538.4,942.0 L539.8,942.4 L541.3,942.8 L542.7,943.3 L544.1,943.8 L545.5,944.4 L546.9,945.0 L548.2,945.6 L549.6,946.3 L550.9,947.0 L552.2,947.7 L553.5,948.5 L554.7,949.3 L556.0,950.2 L557.2,951.1 L558.3,952.0 L559.5,953.0 L560.6,954.0 L561.7,955.0 L562.7,956.1 L563.8,957.2 L564.8,958.3 L565.7,959.5 L566.7,960.6 L567.6,961.8 L568.5,963.0 L569.4,964.2 L570.2,965.5 L571.1,966.7 L571.9,968.0 L572.6,969.3 L573.4,970.5 L574.1,971.9 L574.8,973.2 L575.5,974.5 L576.2,975.8 L576.9,977.2 L577.5,978.5 L578.1,979.9 L578.8,981.3 L579.4,982.7 L579.9,984.0 L580.5,985.4 L581.0,986.8 L581.6,988.2 L582.1,989.6 L582.6,991.0 L583.1,992.4 L583.6,993.9 L584.1,995.3 L584.6,996.7 L585.0,998.1 L585.5,999.6 L585.9,1001.0 L586.4,1002.4 L586.8,1003.9 L587.2,1005.3 L587.6,1006.8 L588.0,1008.2 L588.4,1009.6 L588.8,1011.1 L589.2,1012.5 L589.6,1014.0 L589.9,1015.5 L590.3,1016.9 L590.7,1018.4 L591.0,1019.8 L591.4,1021.3 L591.7,1022.7 L592.1,1024.2 L592.4,1025.7 L592.7,1027.1 L593.1,1028.6 L593.4,1030.0 L593.7,1031.5 L594.0,1033.0 L594.3,1034.4 L594.7,1035.9 L595.0,1037.4 L595.3,1038.8 L595.6,1040.3 L595.9,1041.8 L596.2,1043.3 L596.5,1044.7 L596.8,1046.2 L597.1,1047.7 L597.4,1049.1 L597.7,1050.6 L598.0,1052.1 L598.3,1053.6 L598.5,1055.0 L598.8,1056.5 L599.1,1058.0 L599.4,1059.4 L599.7,1060.9 L599.9,1062.4 L600.2,1063.9 L600.5,1065.3 L600.8,1066.8 L601.0,1068.3 L601.3,1069.8 L601.6,1071.2 L601.8,1072.7 L602.1,1074.2 L602.4,1075.7 L602.6,1077.1 L602.9,1078.6 L603.2,1080.1 L603.4,1081.6 L603.7,1083.1 L603.9,1084.5 L604.2,1086.0 L604.4,1087.5 L604.7,1089.0 L604.9,1090.5 L605.2,1091.9 L605.4,1093.4 L605.6,1094.9 L605.9,1096.4 L606.1,1097.9 L606.4,1099.3 L606.6,1100.8 L606.8,1102.3 L607.1,1103.8 L607.3,1105.3 L607.5,1106.7 L607.8,1108.2 L608.0,1109.7 L608.2,1111.2 L608.4,1112.7 L608.7,1114.2 L608.9,1115.6 L609.1,1117.1 L609.3,1118.6 L609.5,1120.1 L609.7,1121.6 L610.0,1123.1 L610.2,1124.5 L610.4,1126.0 L610.6,1127.5 L610.8,1129.0 L611.0,1130.5 L611.2,1132.0 L611.4,1133.5 L611.6,1134.9 L611.8,1136.4 L612.0,1137.9 L612.2,1139.4 L612.4,1140.9 L612.6,1142.4 L612.8,1143.9 L613.0,1145.4 L613.2,1146.8 L613.4,1148.3 L613.6,1149.8 L613.8,1151.3 L614.0,1152.8 L614.2,1154.3 L614.3,1155.8 L614.5,1157.3 L614.7,1158.7 L614.9,1160.2 L615.1,1161.7 L615.2,1163.2 L615.4,1164.7 L615.6,1166.2 L615.8,1167.7 L615.9,1169.2 L616.1,1170.7 L616.3,1172.2 L616.4,1173.6 L616.6,1175.1 L616.8,1176.6 L616.9,1178.1 L617.1,1179.6 L617.3,1181.1 L617.4,1182.6 L617.6,1184.1 L617.7,1185.6 L617.9,1187.1 L618.1,1188.6 L618.2,1190.1 L618.4,1191.5 L618.5,1193.0 L618.7,1194.5 L618.9,1196.0 L619.0,1197.5 L619.2,1199.0 L619.4,1200.5 L619.6,1202.0 L619.7,1203.5 L619.9,1205.0 L620.1,1206.4 L620.3,1207.9 L620.5,1209.4 L620.7,1210.9 L620.8,1212.4 L621.0,1213.9 L621.2,1215.4 L621.5,1216.9 L621.7,1218.3 L621.9,1219.8 L622.1,1221.3 L622.3,1222.8 L622.5,1224.3 L622.8,1225.8 L623.0,1227.2 L623.2,1228.7 L623.5,1230.2 L623.7,1231.7 L624.0,1233.2 L624.2,1234.6 L624.5,1236.1 L624.8,1237.6 L625.0,1239.1 L625.3,1240.5 L625.6,1242.0 L625.8,1243.5 L626.1,1245.0 L626.4,1246.4 L626.7,1247.9 L627.0,1249.4 L627.3,1250.9 L627.6,1252.3 L627.9,1253.8 L628.2,1255.3 L628.6,1256.7 L628.9,1258.2 L629.3,1259.6 L629.7,1261.1 L630.1,1262.5 L630.6,1263.9 L631.1,1265.3 L631.8,1266.7 L632.6,1267.8 L633.6,1268.3 L634.6,1268.0 L635.5,1267.0 L636.1,1265.7 L636.6,1264.3 L637.1,1262.9 L637.5,1261.4 L637.9,1260.0 L638.2,1258.5 L638.6,1257.0 L638.9,1255.6 L639.2,1254.1 L639.5,1252.6 L639.8,1251.2 L640.1,1249.7 L640.4,1248.2 L640.7,1246.8 L641.0,1245.3 L641.3,1243.8 L641.6,1242.4 L642.0,1240.9 L642.3,1239.4 L642.6,1238.0 L642.9,1236.5 L643.2,1235.0 L643.6,1233.6 L643.9,1232.1 L644.3,1230.7 L644.6,1229.2 L645.0,1227.7 L645.3,1226.3 L645.7,1224.8 L646.0,1223.4 L646.4,1221.9 L646.7,1220.4 L647.0,1219.0 L647.4,1217.5 L647.7,1216.1 L648.0,1214.6 L648.4,1213.1 L648.7,1211.7 L649.0,1210.2 L649.3,1208.7 L649.6,1207.3 L649.9,1205.8 L650.2,1204.3 L650.5,1202.8 L650.8,1201.4 L651.1,1199.9 L651.4,1198.4 L651.6,1197.0 L651.9,1195.5 L652.2,1194.0 L652.5,1192.5 L652.7,1191.1 L653.0,1189.6 L653.2,1188.1 L653.5,1186.6 L653.8,1185.1 L654.0,1183.7 L654.3,1182.2 L654.5,1180.7 L654.8,1179.2 L655.0,1177.7 L655.2,1176.3 L655.5,1174.8 L655.7,1173.3 L656.0,1171.8 L656.2,1170.3 L656.4,1168.9 L656.7,1167.4 L656.9,1165.9 L657.1,1164.4 L657.4,1162.9 L657.6,1161.5 L657.8,1160.0 L658.1,1158.5 L658.3,1157.0 L658.5,1155.5 L658.8,1154.0 L659.0,1152.6 L659.2,1151.1 L659.4,1149.6 L659.7,1148.1 L659.9,1146.6 L660.1,1145.2 L660.4,1143.7 L660.6,1142.2 L660.8,1140.7 L661.1,1139.2 L661.3,1137.7 L661.5,1136.3 L661.8,1134.8 L662.0,1133.3 L662.2,1131.8 L662.5,1130.3 L662.7,1128.9 L662.9,1127.4 L663.2,1125.9 L663.4,1124.4 L663.7,1122.9 L663.9,1121.4 L664.1,1120.0 L664.4,1118.5 L664.6,1117.0 L664.9,1115.5 L665.2,1114.1 L665.4,1112.6 L665.7,1111.1 L665.9,1109.6 L666.2,1108.1 L666.5,1106.7 L666.7,1105.2 L667.0,1103.7 L667.3,1102.2 L667.6,1100.8 L667.8,1099.3 L668.1,1097.8 L668.4,1096.4 L668.7,1094.9 L669.0,1093.4 L669.3,1091.9 L669.6,1090.5 L669.9,1089.0 L670.2,1087.5 L670.5,1086.1 L670.8,1084.6 L671.2,1083.1 L671.5,1081.7 L671.8,1080.2 L672.1,1078.7 L672.5,1077.3 L672.8,1075.8 L673.2,1074.4 L673.5,1072.9 L673.9,1071.4 L674.2,1070.0 L674.6,1068.5 L675.0,1067.1 L675.3,1065.6 L675.7,1064.2 L676.1,1062.7 L676.5,1061.3 L676.9,1059.8 L677.3,1058.4 L677.7,1056.9 L678.1,1055.5 L678.5,1054.1 L679.0,1052.6 L679.4,1051.2 L679.8,1049.8 L680.3,1048.3 L680.7,1046.9 L681.2,1045.5 L681.6,1044.0 L682.1,1042.6 L682.6,1041.2 L683.0,1039.8 L683.5,1038.3 L684.0,1036.9 L684.5,1035.5 L685.0,1034.1 L685.5,1032.7 L686.1,1031.3 L686.6,1029.9 L687.1,1028.5 L687.7,1027.1 L688.2,1025.7 L688.8,1024.3 L689.3,1022.9 L689.9,1021.5 L690.4,1020.1 L691.0,1018.7 L691.6,1017.3 L692.2,1016.0 L692.8,1014.6 L693.4,1013.2 L694.0,1011.9 L694.7,1010.5 L695.3,1009.1 L695.9,1007.8 L696.6,1006.4 L697.2,1005.1 L697.9,1003.7 L698.5,1002.4 L699.2,1001.0 L699.9,999.7 L700.6,998.4 L701.3,997.0 L702.0,995.7 L702.7,994.4 L703.4,993.1 L704.1,991.8 L704.9,990.5 L705.6,989.2 L706.4,987.9 L707.1,986.6 L707.9,985.3 L708.7,984.0 L709.5,982.7 L710.3,981.4 L711.1,980.2 L711.9,978.9 L712.7,977.6 L713.5,976.4 L714.3,975.1 L715.2,973.9 L716.0,972.7 L716.9,971.4 L717.8,970.2 L718.6,969.0 L719.5,967.8 L720.4,966.6 L721.3,965.4 L722.2,964.2 L723.2,963.0 L724.1,961.8 L725.0,960.7 L726.0,959.5 L726.9,958.3 L727.9,957.2 L728.9,956.1 L729.8,954.9 L730.8,953.8 L731.8,952.7 L732.9,951.6 L733.9,950.5 L734.9,949.4 L735.9,948.3 L737.0,947.2 L738.0,946.2 L739.1,945.1 L740.2,944.1 L741.3,943.0 L742.4,942.0 L743.5,941.0 L744.6,940.0 L745.7,939.0 L746.8,938.0 L748.0,937.0 L749.1,936.1 L750.3,935.1 L751.4,934.2 L752.6,933.2 L753.8,932.3 L755.0,931.4 L756.2,930.5 L757.4,929.6 L758.6,928.7 L759.8,927.8 L761.0,926.9 L762.2,926.1 L763.5,925.2 L764.7,924.4 L765.9,923.5 L767.2,922.7 L768.5,921.9 L769.7,921.1 L771.0,920.3 L772.3,919.5 L773.5,918.7 L774.8,917.9 L776.1,917.1 L777.4,916.4 L778.7,915.6 L780.0,914.9 L781.3,914.1 L782.6,913.4 L783.9,912.7 L785.3,912.0 L786.6,911.3 L787.9,910.6 L789.2,909.9 L790.6,909.2 L791.9,908.5 L793.3,907.8 L794.6,907.2 L795.9,906.5 L797.3,905.9 L798.6,905.2 L800.0,904.6 L801.4,904.0 L802.7,903.3 L804.1,902.7 L805.5,902.1 L806.8,901.5 L808.2,900.9 L809.6,900.3 L811.0,899.7 L812.4,899.1 L813.7,898.5 L815.1,898.0 L816.5,897.4 L817.9,896.8 L819.3,896.3 L820.7,895.7 L822.1,895.2 L823.5,894.6 L824.9,894.1 L826.3,893.6 L827.7,893.0 L829.1,892.5 L830.5,892.0 L831.9,891.5 L833.3,891.0 L834.7,890.4 L836.1,889.9 L837.5,889.4 L839.0,888.9 L840.4,888.4 L841.8,888.0 L843.2,887.5 L844.6,887.0 L846.1,886.5 L847.5,886.0 L848.9,885.5 L850.3,885.1 L851.7,884.6 L853.2,884.1 L854.6,883.7 L856.0,883.2 L857.5,882.7 L858.9,882.3 L860.3,881.8 L861.7,881.4 L863.2,880.9 L864.6,880.5 L866.0,880.0 L867.5,879.6 L868.9,879.2 L870.3,878.7 L871.8,878.3 L873.2,877.9 L874.7,877.4 L876.1,877.0 L877.5,876.6 L879.0,876.2 L880.4,875.8 L881.9,875.3 L883.3,874.9 L884.7,874.5 L886.2,874.1 L887.6,873.7 L889.1,873.3 L890.5,872.9 L892.0,872.5 L893.4,872.1 L894.9,871.7 L896.3,871.3 L897.8,870.9 L899.2,870.6 L900.7,870.2 L902.1,869.8 L903.6,869.4 L905.0,869.0 L906.5,868.7 L907.9,868.3 L909.4,867.9 L910.8,867.6 L912.3,867.2 L913.7,866.8 L915.2,866.5 L916.7,866.1 L918.1,865.8 L919.6,865.4 L921.0,865.1 L922.5,864.7 L923.9,864.4 L925.4,864.0 L926.9,863.7 L928.3,863.4 L929.8,863.0 L931.3,862.7 L932.7,862.4 L934.2,862.0 L935.6,861.7 L937.1,861.4 L938.6,861.1 L940.0,860.7 L941.5,860.4 L943.0,860.1 L944.4,859.8 L945.9,859.5 L947.4,859.2 L948.8,858.9 L950.3,858.6 L951.8,858.3 L953.2,857.9 L954.7,857.6 L956.2,857.3 L957.7,857.1 L959.1,856.8 L960.6,856.5 L961.9,856.2" fill="none" stroke="#186b36" stroke-width="3.8" stroke-linejoin="round" stroke-linecap="butt" clip-path="url(#clipB)" />
<path d="M88.8,871.0 L89.8,870.6 L91.1,870.2 L92.5,869.7 L94.0,869.4 L95.4,869.1 L96.9,869.0 L98.4,868.9 L99.9,869.0 L101.4,869.1 L102.9,869.3 L104.3,869.7 L105.8,870.1 L107.2,870.6 L108.6,871.1 L110.0,871.8 L111.3,872.4 L112.6,873.2 L113.9,874.0 L115.1,874.8 L116.3,875.7 L117.5,876.6 L118.7,877.5 L119.9,878.5 L121.0,879.4 L122.1,880.5 L123.2,881.5 L124.2,882.5 L125.3,883.6 L126.3,884.7 L127.3,885.8 L128.3,886.9 L129.3,888.1 L130.3,889.2 L131.2,890.4 L132.2,891.6 L133.1,892.7 L134.0,893.9 L134.9,895.2 L135.7,896.4 L136.6,897.6 L137.4,898.9 L138.2,900.1 L139.0,901.4 L139.8,902.7 L140.6,904.0 L141.3,905.3 L142.1,906.6 L142.8,907.9 L143.5,909.2 L144.2,910.5 L144.9,911.9 L145.5,913.2 L146.2,914.6 L146.8,915.9 L147.4,917.3 L148.0,918.7 L148.6,920.0 L149.2,921.4 L149.8,922.8 L150.4,924.2 L150.9,925.6 L151.5,927.0 L152.0,928.4 L152.5,929.8 L153.1,931.2 L153.6,932.6 L154.1,934.0 L154.6,935.4 L155.1,936.8 L155.6,938.3 L156.0,939.7 L156.5,941.1 L157.0,942.5 L157.4,944.0 L157.9,945.4 L158.3,946.8 L158.8,948.3 L159.2,949.7 L159.7,951.1 L160.1,952.6 L160.5,954.0 L160.9,955.4 L161.3,956.9 L161.8,958.3 L162.2,959.8 L162.6,961.2 L162.9,962.7 L163.3,964.1 L163.7,965.6 L164.1,967.0 L164.5,968.5 L164.8,969.9 L165.2,971.4 L165.6,972.8 L165.9,974.3 L166.3,975.7 L166.6,977.2 L167.0,978.7 L167.3,980.1 L167.7,981.6 L168.0,983.0 L168.3,984.5 L168.6,986.0 L169.0,987.4 L169.3,988.9 L169.6,990.4 L169.9,991.8 L170.2,993.3 L170.5,994.8 L170.8,996.3 L171.1,997.7 L171.4,999.2 L171.7,1000.7 L171.9,1002.1 L172.2,1003.6 L172.5,1005.1 L172.8,1006.6 L173.0,1008.0 L173.3,1009.5 L173.6,1011.0 L173.8,1012.5 L174.1,1014.0 L174.3,1015.4 L174.6,1016.9 L174.8,1018.4 L175.0,1019.9 L175.3,1021.4 L175.5,1022.8 L175.7,1024.3 L176.0,1025.8 L176.2,1027.3 L176.4,1028.8 L176.6,1030.2 L176.9,1031.7 L177.1,1033.2 L177.3,1034.7 L177.5,1036.2 L177.7,1037.7 L177.9,1039.2 L178.1,1040.6 L178.3,1042.1 L178.5,1043.6 L178.7,1045.1 L178.9,1046.6 L179.1,1048.1 L179.3,1049.6 L179.5,1051.1 L179.6,1052.5 L179.8,1054.0 L180.0,1055.5 L180.2,1057.0 L180.3,1058.5 L180.5,1060.0 L180.7,1061.5 L180.9,1063.0 L181.0,1064.5 L181.2,1066.0 L181.3,1067.4 L181.5,1068.9 L181.7,1070.4 L181.8,1071.9 L182.0,1073.4 L182.1,1074.9 L182.3,1076.4 L182.4,1077.9 L182.6,1079.4 L182.7,1080.9 L182.9,1082.4 L183.0,1083.9 L183.1,1085.4 L183.3,1086.9 L183.4,1088.3 L183.6,1089.8 L183.7,1091.3 L183.8,1092.8 L184.0,1094.3 L184.1,1095.8 L184.2,1097.3 L184.3,1098.8 L184.5,1100.3 L184.6,1101.8 L184.7,1103.3 L184.8,1104.8 L185.0,1106.3 L185.1,1107.8 L185.2,1109.3 L185.3,1110.8 L185.5,1112.3 L185.6,1113.8 L185.7,1115.3 L185.8,1116.7 L185.9,1118.2 L186.0,1119.7 L186.1,1121.2 L186.3,1122.7 L186.4,1124.2 L186.5,1125.7 L186.6,1127.2 L186.7,1128.7 L186.8,1130.2 L186.9,1131.7 L187.0,1133.2 L187.2,1134.7 L187.3,1136.2 L187.4,1137.7 L187.5,1139.2 L187.6,1140.7 L187.7,1142.2 L187.8,1143.7 L187.9,1145.2 L188.0,1146.7 L188.1,1148.2 L188.2,1149.7 L188.3,1151.2 L188.4,1152.6 L188.6,1154.1 L188.7,1155.6 L188.8,1157.1 L188.9,1158.6 L189.0,1160.1 L189.1,1161.6 L189.2,1163.1 L189.3,1164.6 L189.4,1166.1 L189.5,1167.6 L189.6,1169.1 L189.8,1170.6 L189.9,1172.1 L190.0,1173.6 L190.1,1175.1 L190.2,1176.6 L190.3,1178.1 L190.4,1179.6 L190.5,1181.1 L190.7,1182.6 L190.8,1184.1 L190.9,1185.6 L191.0,1187.1 L191.1,1188.5 L191.2,1190.0 L191.4,1191.5 L191.5,1193.0 L191.6,1194.5 L191.7,1196.0 L191.9,1197.5 L192.0,1199.0 L192.1,1200.5 L192.2,1202.0 L192.3,1203.5 L192.5,1205.0 L192.6,1206.5 L192.7,1208.0 L192.8,1209.5 L193.0,1211.0 L193.1,1212.5 L193.2,1214.0 L193.3,1215.5 L193.5,1217.0 L193.6,1218.4 L193.7,1219.9 L193.8,1221.4 L193.9,1222.9 L194.1,1224.4 L194.2,1225.9 L194.3,1227.4 L194.4,1228.9 L194.5,1230.4 L194.7,1231.9 L194.8,1233.4 L194.9,1234.9 L195.0,1236.4 L195.1,1237.9 L195.2,1239.4 L195.3,1240.9 L195.4,1242.4 L195.6,1243.9 L195.7,1245.4 L195.8,1246.9 L195.9,1248.4 L196.0,1249.9 L196.1,1251.4 L196.2,1252.9 L196.2,1254.3 L196.3,1255.8 L196.4,1257.3 L196.5,1258.8 L196.6,1260.3 L196.7,1261.8 L196.8,1263.3 L196.9,1264.8 L197.0,1266.3 L197.1,1267.8 L197.2,1269.3 L197.3,1270.8 L197.4,1272.3 L197.5,1273.8 L197.7,1275.3 L197.8,1276.8 L197.9,1278.3 L198.1,1279.8 L198.2,1281.3 L198.3,1282.8 L198.5,1284.3 L198.6,1285.8 L198.8,1287.2 L199.0,1288.7 L199.1,1290.2 L199.3,1291.7 L199.5,1293.2 L199.7,1294.7 L199.8,1296.2 L200.0,1297.7 L200.2,1299.2 L200.4,1300.6 L200.6,1302.1 L200.8,1303.6 L201.0,1305.1 L201.3,1306.6 L201.5,1308.1 L201.7,1309.6 L202.0,1311.0 L202.2,1312.5 L202.5,1314.0 L202.8,1315.5 L203.1,1316.9 L203.5,1318.4 L203.9,1319.7 L204.6,1320.5 L205.3,1320.4 L205.9,1319.4 L206.2,1318.0 L206.5,1316.5 L206.8,1315.0 L207.0,1313.5 L207.2,1312.0 L207.4,1310.6 L207.5,1309.1 L207.7,1307.6 L207.9,1306.1 L208.0,1304.6 L208.2,1303.1 L208.3,1301.6 L208.5,1300.1 L208.7,1298.6 L208.8,1297.1 L209.0,1295.6 L209.1,1294.1 L209.3,1292.7 L209.5,1291.2 L209.6,1289.7 L209.8,1288.2 L210.0,1286.7 L210.1,1285.2 L210.3,1283.7 L210.5,1282.2 L210.6,1280.7 L210.8,1279.2 L211.0,1277.8 L211.1,1276.3 L211.3,1274.8 L211.5,1273.3 L211.6,1271.8 L211.8,1270.3 L212.0,1268.8 L212.1,1267.3 L212.3,1265.8 L212.4,1264.3 L212.6,1262.8 L212.7,1261.3 L212.9,1259.9 L213.0,1258.4 L213.1,1256.9 L213.3,1255.4 L213.4,1253.9 L213.5,1252.4 L213.6,1250.9 L213.7,1249.4 L213.8,1247.9 L213.9,1246.4 L214.0,1244.9 L214.1,1243.4 L214.2,1241.9 L214.3,1240.4 L214.3,1238.9 L214.4,1237.4 L214.5,1235.9 L214.5,1234.4 L214.6,1232.9 L214.7,1231.4 L214.7,1229.9 L214.8,1228.4 L214.8,1226.9 L214.9,1225.4 L214.9,1223.9 L215.0,1222.4 L215.0,1220.9 L215.1,1219.4 L215.1,1217.9 L215.2,1216.4 L215.2,1214.9 L215.2,1213.4 L215.3,1211.9 L215.3,1210.4 L215.4,1208.9 L215.4,1207.4 L215.4,1205.9 L215.5,1204.4 L215.5,1202.9 L215.6,1201.4 L215.6,1199.9 L215.7,1198.4 L215.7,1196.9 L215.7,1195.4 L215.8,1193.9 L215.8,1192.4 L215.9,1190.9 L215.9,1189.4 L216.0,1187.9 L216.1,1186.4 L216.1,1184.9 L216.2,1183.4 L216.2,1181.9 L216.3,1180.4 L216.4,1178.9 L216.4,1177.4 L216.5,1175.9 L216.6,1174.4 L216.7,1172.9 L216.7,1171.4 L216.8,1170.0 L216.9,1168.5 L217.0,1167.0 L217.1,1165.5 L217.1,1164.0 L217.2,1162.5 L217.3,1161.0 L217.4,1159.5 L217.5,1158.0 L217.6,1156.5 L217.7,1155.0 L217.8,1153.5 L217.9,1152.0 L218.0,1150.5 L218.1,1149.0 L218.2,1147.5 L218.3,1146.0 L218.4,1144.5 L218.5,1143.0 L218.6,1141.5 L218.7,1140.0 L218.8,1138.5 L218.9,1137.0 L219.0,1135.5 L219.2,1134.0 L219.3,1132.5 L219.4,1131.0 L219.5,1129.5 L219.6,1128.0 L219.7,1126.6 L219.9,1125.1 L220.0,1123.6 L220.1,1122.1 L220.2,1120.6 L220.3,1119.1 L220.5,1117.6 L220.6,1116.1 L220.7,1114.6 L220.9,1113.1 L221.0,1111.6 L221.1,1110.1 L221.2,1108.6 L221.4,1107.1 L221.5,1105.6 L221.6,1104.1 L221.8,1102.6 L221.9,1101.1 L222.0,1099.6 L222.2,1098.2 L222.3,1096.7 L222.4,1095.2 L222.6,1093.7 L222.7,1092.2 L222.8,1090.7 L223.0,1089.2 L223.1,1087.7 L223.2,1086.2 L223.4,1084.7 L223.5,1083.2 L223.7,1081.7 L223.8,1080.2 L223.9,1078.7 L224.1,1077.2 L224.2,1075.7 L224.3,1074.3 L224.5,1072.8 L224.6,1071.3 L224.8,1069.8 L224.9,1068.3 L225.0,1066.8 L225.2,1065.3 L225.3,1063.8 L225.4,1062.3 L225.6,1060.8 L225.7,1059.3 L225.8,1057.8 L226.0,1056.3 L226.1,1054.8 L226.3,1053.3 L226.4,1051.8 L226.5,1050.4 L226.7,1048.9 L226.8,1047.4 L226.9,1045.9 L227.1,1044.4 L227.2,1042.9 L227.3,1041.4 L227.4,1039.9 L227.6,1038.4 L227.7,1036.9 L227.8,1035.4 L228.0,1033.9 L228.1,1032.4 L228.2,1030.9 L228.3,1029.4 L228.5,1027.9 L228.6,1026.4 L228.7,1024.9 L228.8,1023.5 L229.0,1022.0 L229.1,1020.5 L229.2,1019.0 L229.3,1017.5 L229.4,1016.0 L229.5,1014.5 L229.7,1013.0 L229.8,1011.5 L229.9,1010.0 L230.0,1008.5 L230.1,1007.0 L230.2,1005.5 L230.3,1004.0 L230.4,1002.5 L230.5,1001.0 L230.6,999.5 L230.7,998.0 L230.8,996.5 L230.9,995.0 L231.0,993.5 L231.1,992.0 L231.2,990.5 L231.4,989.0 L231.5,987.5 L231.6,986.1 L231.7,984.6 L231.8,983.1 L231.9,981.6 L232.1,980.1 L232.2,978.6 L232.4,977.1 L232.5,975.6 L232.7,974.1 L232.8,972.6 L233.0,971.1 L233.2,969.6 L233.4,968.1 L233.6,966.7 L233.8,965.2 L234.0,963.7 L234.2,962.2 L234.5,960.7 L234.7,959.3 L235.0,957.8 L235.3,956.3 L235.6,954.8 L235.9,953.4 L236.2,951.9 L236.5,950.4 L236.9,949.0 L237.2,947.5 L237.6,946.1 L238.0,944.6 L238.4,943.2 L238.9,941.7 L239.3,940.3 L239.7,938.9 L240.2,937.5 L240.7,936.0 L241.2,934.6 L241.7,933.2 L242.3,931.8 L242.8,930.4 L243.4,929.0 L244.0,927.7 L244.6,926.3 L245.2,924.9 L245.9,923.6 L246.6,922.2 L247.3,920.9 L248.0,919.6 L248.7,918.3 L249.5,917.0 L250.3,915.8 L251.2,914.5 L252.1,913.3 L253.0,912.1 L254.0,911.0 L255.0,909.9 L256.0,908.8 L257.1,907.8 L258.3,906.8 L259.4,905.9 L260.7,905.1 L262.0,904.4 L263.3,903.7 L264.7,903.2 L266.2,902.7 L267.6,902.4 L269.1,902.3 L270.6,902.2 L272.1,902.2 L273.6,902.4 L275.1,902.6 L276.6,902.9 L278.0,903.2 L279.4,903.6 L280.9,904.1 L282.3,904.7 L283.7,905.2 L285.0,905.8 L286.4,906.5 L287.7,907.2 L289.0,907.9 L290.3,908.6 L291.6,909.4 L292.9,910.2 L294.2,911.0 L295.4,911.8 L296.6,912.7 L297.9,913.5 L299.1,914.4 L300.3,915.3 L301.5,916.2 L302.6,917.2 L303.8,918.1 L305.0,919.1 L306.1,920.0 L307.3,921.0 L308.4,922.0 L309.5,923.0 L310.6,924.0 L311.7,925.0 L312.8,926.0 L313.9,927.0 L315.0,928.1 L316.1,929.1 L317.1,930.2 L318.2,931.3 L319.2,932.3 L320.3,933.4 L321.3,934.5 L322.3,935.6 L323.3,936.8 L324.3,937.9 L325.3,939.0 L326.2,940.2 L327.2,941.3 L328.1,942.5 L329.1,943.7 L330.0,944.8 L330.9,946.0 L331.8,947.2 L332.7,948.4 L333.6,949.7 L334.4,950.9 L335.3,952.1 L336.1,953.4 L337.0,954.6 L337.8,955.9 L338.6,957.1 L339.4,958.4 L340.2,959.7 L341.0,960.9 L341.7,962.2 L342.5,963.5 L343.3,964.8 L344.0,966.1 L344.7,967.4 L345.5,968.7 L346.2,970.1 L346.9,971.4 L347.6,972.7 L348.2,974.1 L348.9,975.4 L349.6,976.7 L350.2,978.1 L350.9,979.4 L351.5,980.8 L352.1,982.2 L352.8,983.5 L353.4,984.9 L354.0,986.3 L354.6,987.7 L355.2,989.0 L355.7,990.4 L356.3,991.8 L356.9,993.2 L357.4,994.6 L358.0,996.0 L358.5,997.4 L359.0,998.8 L359.6,1000.2 L360.1,1001.6 L360.6,1003.0 L361.1,1004.4 L361.6,1005.8 L362.1,1007.3 L362.6,1008.7 L363.0,1010.1 L363.5,1011.5 L364.0,1013.0 L364.4,1014.4 L364.9,1015.8 L365.3,1017.3 L365.7,1018.7 L366.2,1020.1 L366.6,1021.6 L367.0,1023.0 L367.4,1024.4 L367.8,1025.9 L368.2,1027.3 L368.6,1028.8 L369.0,1030.2 L369.4,1031.7 L369.8,1033.1 L370.2,1034.6 L370.5,1036.0 L370.9,1037.5 L371.2,1038.9 L371.6,1040.4 L372.0,1041.9 L372.3,1043.3 L372.6,1044.8 L373.0,1046.2 L373.3,1047.7 L373.6,1049.2 L374.0,1050.6 L374.3,1052.1 L374.6,1053.6 L374.9,1055.0 L375.2,1056.5 L375.5,1058.0 L375.8,1059.4 L376.1,1060.9 L376.4,1062.4 L376.7,1063.9 L377.0,1065.3 L377.3,1066.8 L377.5,1068.3 L377.8,1069.8 L378.1,1071.2 L378.4,1072.7 L378.6,1074.2 L378.9,1075.7 L379.1,1077.1 L379.4,1078.6 L379.7,1080.1 L379.9,1081.6 L380.2,1083.0 L380.4,1084.5 L380.7,1086.0 L380.9,1087.5 L381.1,1089.0 L381.4,1090.4 L381.6,1091.9 L381.9,1093.4 L382.1,1094.9 L382.3,1096.4 L382.6,1097.9 L382.8,1099.3 L383.0,1100.8 L383.3,1102.3 L383.5,1103.8 L383.7,1105.3 L383.9,1106.7 L384.2,1108.2 L384.4,1109.7 L384.6,1111.2 L384.8,1112.7 L385.1,1114.2 L385.3,1115.6 L385.5,1117.1 L385.7,1118.6 L385.9,1120.1 L386.2,1121.6 L386.4,1123.1 L386.6,1124.6 L386.8,1126.0 L387.0,1127.5 L387.3,1129.0 L387.5,1130.5 L387.7,1132.0 L387.9,1133.5 L388.1,1134.9 L388.4,1136.4 L388.6,1137.9 L388.8,1139.4 L389.0,1140.9 L389.3,1142.3 L389.5,1143.8 L389.7,1145.3 L390.0,1146.8 L390.2,1148.3 L390.4,1149.8 L390.7,1151.2 L390.9,1152.7 L391.2,1154.2 L391.4,1155.7 L391.7,1157.2 L391.9,1158.6 L392.2,1160.1 L392.4,1161.6 L392.7,1163.1 L393.0,1164.5 L393.2,1166.0 L393.5,1167.5 L393.7,1169.0 L394.0,1170.5 L394.2,1171.9 L394.5,1173.4 L394.7,1174.9 L395.0,1176.4 L395.2,1177.9 L395.5,1179.3 L395.7,1180.8 L395.9,1182.3 L396.1,1183.8 L396.4,1185.3 L396.6,1186.7 L396.8,1188.2 L397.0,1189.7 L397.3,1191.2 L397.5,1192.7 L397.7,1194.2 L397.9,1195.7 L398.1,1197.1 L398.3,1198.6 L398.5,1200.1 L398.8,1201.6 L399.0,1203.1 L399.3,1204.6 L399.5,1206.0 L399.8,1207.5 L400.1,1209.0 L400.5,1210.4 L401.0,1211.7 L401.7,1212.6 L402.5,1212.5 L403.2,1211.5 L403.6,1210.2 L404.0,1208.7 L404.3,1207.2 L404.7,1205.8 L405.0,1204.3 L405.3,1202.8 L405.6,1201.4 L405.9,1199.9 L406.2,1198.4 L406.5,1197.0 L406.9,1195.5 L407.2,1194.0 L407.5,1192.6 L407.8,1191.1 L408.1,1189.6 L408.4,1188.2 L408.7,1186.7 L409.0,1185.2 L409.3,1183.8 L409.6,1182.3 L409.9,1180.8 L410.1,1179.3 L410.4,1177.9 L410.7,1176.4 L411.0,1174.9 L411.3,1173.5 L411.6,1172.0 L411.8,1170.5 L412.1,1169.0 L412.4,1167.6 L412.7,1166.1 L412.9,1164.6 L413.2,1163.1 L413.5,1161.7 L413.7,1160.2 L414.0,1158.7 L414.3,1157.2 L414.5,1155.7 L414.8,1154.3 L415.0,1152.8 L415.3,1151.3 L415.5,1149.8 L415.8,1148.4 L416.0,1146.9 L416.3,1145.4 L416.5,1143.9 L416.7,1142.4 L417.0,1141.0 L417.2,1139.5 L417.4,1138.0 L417.7,1136.5 L417.9,1135.0 L418.1,1133.5 L418.3,1132.1 L418.5,1130.6 L418.7,1129.1 L419.0,1127.6 L419.2,1126.1 L419.4,1124.6 L419.6,1123.1 L419.8,1121.6 L419.9,1120.2 L420.1,1118.7 L420.3,1117.2 L420.5,1115.7 L420.7,1114.2 L420.9,1112.7 L421.0,1111.2 L421.2,1109.7 L421.4,1108.2 L421.5,1106.8 L421.7,1105.3 L421.8,1103.8 L422.0,1102.3 L422.2,1100.8 L422.3,1099.3 L422.5,1097.8 L422.6,1096.3 L422.8,1094.8 L422.9,1093.3 L423.1,1091.8 L423.2,1090.3 L423.4,1088.8 L423.5,1087.4 L423.7,1085.9 L423.8,1084.4 L424.0,1082.9 L424.1,1081.4 L424.3,1079.9 L424.4,1078.4 L424.6,1076.9 L424.7,1075.4 L424.9,1073.9 L425.0,1072.4 L425.2,1070.9 L425.3,1069.4 L425.5,1068.0 L425.7,1066.5 L425.8,1065.0 L426.0,1063.5 L426.2,1062.0 L426.3,1060.5 L426.5,1059.0 L426.7,1057.5 L426.9,1056.0 L427.1,1054.6 L427.3,1053.1 L427.5,1051.6 L427.7,1050.1 L427.9,1048.6 L428.1,1047.1 L428.3,1045.6 L428.5,1044.2 L428.8,1042.7 L429.0,1041.2 L429.2,1039.7 L429.5,1038.2 L429.7,1036.7 L430.0,1035.3 L430.3,1033.8 L430.5,1032.3 L430.8,1030.8 L431.1,1029.4 L431.4,1027.9 L431.7,1026.4 L432.0,1025.0 L432.3,1023.5 L432.6,1022.0 L433.0,1020.6 L433.3,1019.1 L433.6,1017.6 L434.0,1016.2 L434.4,1014.7 L434.7,1013.3 L435.1,1011.8 L435.5,1010.4 L435.9,1008.9 L436.3,1007.5 L436.8,1006.1 L437.2,1004.6 L437.6,1003.2 L438.1,1001.8 L438.5,1000.3 L439.0,998.9 L439.5,997.5 L440.0,996.1 L440.5,994.7 L441.0,993.3 L441.5,991.8 L442.1,990.4 L442.6,989.1 L443.2,987.7 L443.8,986.3 L444.3,984.9 L444.9,983.5 L445.5,982.1 L446.2,980.8 L446.8,979.4 L447.4,978.1 L448.1,976.7 L448.7,975.4 L449.4,974.0 L450.1,972.7 L450.8,971.4 L451.5,970.1 L452.3,968.7 L453.0,967.4 L453.8,966.2 L454.6,964.9 L455.4,963.6 L456.2,962.4 L457.0,961.1 L457.9,959.9 L458.8,958.7 L459.7,957.5 L460.6,956.3 L461.5,955.1 L462.5,954.0 L463.5,952.8 L464.5,951.7 L465.5,950.7 L466.6,949.6 L467.7,948.6 L468.8,947.6 L469.9,946.6 L471.1,945.6 L472.3,944.7 L473.5,943.8 L474.7,943.0 L476.0,942.2 L477.3,941.4 L478.6,940.7 L479.9,940.0 L481.3,939.3 L482.7,938.7 L484.0,938.2 L485.4,937.6 L486.8,937.1 L488.3,936.6 L489.7,936.2 L491.1,935.8 L492.6,935.4 L494.1,935.1 L495.5,934.7 L497.0,934.5 L498.5,934.2 L499.9,933.9 L501.4,933.7 L502.9,933.5 L504.4,933.4 L505.9,933.2 L507.4,933.1 L508.9,933.0 L510.4,932.9 L511.9,932.8 L513.4,932.7 L514.9,932.7 L516.4,932.7 L517.9,932.6 L519.4,932.6 L520.9,932.7 L522.4,932.7 L523.9,932.7 L525.4,932.8 L526.9,932.8 L528.4,932.9 L529.9,933.0 L531.4,933.1 L532.9,933.2 L534.4,933.3 L535.9,933.4 L537.4,933.5 L538.9,933.6 L540.3,933.8 L541.8,933.9 L543.3,934.0 L544.8,934.2 L546.3,934.3 L547.8,934.5 L549.3,934.6 L550.8,934.8 L552.3,935.0 L553.8,935.3 L555.2,935.5 L556.7,935.8 L558.2,936.2 L559.6,936.6 L561.0,937.1 L562.4,937.6 L563.8,938.3 L565.1,939.0 L566.3,939.8 L567.6,940.7 L568.7,941.6 L569.8,942.7 L570.8,943.7 L571.8,944.9 L572.7,946.1 L573.5,947.3 L574.4,948.6 L575.2,949.8 L575.9,951.1 L576.7,952.4 L577.4,953.8 L578.1,955.1 L578.7,956.4 L579.4,957.8 L580.0,959.1 L580.7,960.5 L581.3,961.9 L581.9,963.2 L582.5,964.6 L583.1,966.0 L583.7,967.3 L584.3,968.7 L584.9,970.1 L585.4,971.5 L586.0,972.9 L586.6,974.3 L587.1,975.7 L587.6,977.1 L588.2,978.5 L588.7,979.9 L589.2,981.3 L589.7,982.7 L590.2,984.1 L590.7,985.5 L591.2,987.0 L591.7,988.4 L592.1,989.8 L592.6,991.2 L593.1,992.7 L593.5,994.1 L593.9,995.5 L594.4,997.0 L594.8,998.4 L595.2,999.8 L595.7,1001.3 L596.1,1002.7 L596.5,1004.2 L596.9,1005.6 L597.3,1007.1 L597.7,1008.5 L598.1,1009.9 L598.5,1011.4 L598.8,1012.8 L599.2,1014.3 L599.6,1015.8 L600.0,1017.2 L600.3,1018.7 L600.7,1020.1 L601.1,1021.6 L601.4,1023.0 L601.8,1024.5 L602.1,1025.9 L602.5,1027.4 L602.8,1028.9 L603.2,1030.3 L603.5,1031.8 L603.9,1033.2 L604.2,1034.7 L604.5,1036.2 L604.8,1037.6 L605.2,1039.1 L605.5,1040.6 L605.8,1042.0 L606.1,1043.5 L606.4,1045.0 L606.7,1046.4 L607.0,1047.9 L607.3,1049.4 L607.6,1050.8 L607.9,1052.3 L608.2,1053.8 L608.5,1055.3 L608.8,1056.7 L609.0,1058.2 L609.3,1059.7 L609.6,1061.2 L609.9,1062.6 L610.1,1064.1 L610.4,1065.6 L610.6,1067.1 L610.9,1068.5 L611.2,1070.0 L611.4,1071.5 L611.6,1073.0 L611.9,1074.5 L612.1,1075.9 L612.4,1077.4 L612.6,1078.9 L612.8,1080.4 L613.1,1081.9 L613.3,1083.3 L613.5,1084.8 L613.7,1086.3 L614.0,1087.8 L614.2,1089.3 L614.4,1090.8 L614.6,1092.3 L614.8,1093.7 L615.0,1095.2 L615.2,1096.7 L615.4,1098.2 L615.6,1099.7 L615.8,1101.2 L616.0,1102.7 L616.2,1104.1 L616.4,1105.6 L616.6,1107.1 L616.8,1108.6 L617.0,1110.1 L617.2,1111.6 L617.4,1113.1 L617.6,1114.6 L617.7,1116.0 L617.9,1117.5 L618.1,1119.0 L618.3,1120.5 L618.5,1122.0 L618.6,1123.5 L618.8,1125.0 L619.0,1126.5 L619.2,1128.0 L619.3,1129.4 L619.5,1130.9 L619.7,1132.4 L619.9,1133.9 L620.0,1135.4 L620.2,1136.9 L620.4,1138.4 L620.5,1139.9 L620.7,1141.4 L620.9,1142.9 L621.0,1144.4 L621.2,1145.8 L621.4,1147.3 L621.6,1148.8 L621.7,1150.3 L621.9,1151.8 L622.1,1153.3 L622.2,1154.8 L622.4,1156.3 L622.6,1157.8 L622.7,1159.3 L622.9,1160.7 L623.1,1162.2 L623.2,1163.7 L623.4,1165.2 L623.6,1166.7 L623.7,1168.2 L623.9,1169.7 L624.1,1171.2 L624.3,1172.7 L624.4,1174.2 L624.6,1175.6 L624.8,1177.1 L625.0,1178.6 L625.1,1180.1 L625.3,1181.6 L625.5,1183.1 L625.7,1184.6 L625.9,1186.1 L626.1,1187.6 L626.2,1189.1 L626.4,1190.5 L626.6,1192.0 L626.8,1193.5 L627.0,1195.0 L627.2,1196.5 L627.4,1198.0 L627.7,1199.5 L627.9,1200.9 L628.1,1202.4 L628.3,1203.9 L628.6,1205.4 L628.8,1206.9 L629.0,1208.3 L629.3,1209.8 L629.5,1211.3 L629.8,1212.8 L630.0,1214.3 L630.3,1215.7 L630.6,1217.2 L630.9,1218.7 L631.2,1220.2 L631.5,1221.6 L631.8,1223.1 L632.2,1224.5 L632.5,1226.0 L633.0,1227.4 L633.4,1228.9 L634.0,1230.3 L634.6,1231.5 L635.5,1232.5 L636.6,1232.8 L637.7,1232.3 L638.6,1231.2 L639.3,1229.9 L639.9,1228.5 L640.4,1227.1 L640.9,1225.7 L641.3,1224.2 L641.8,1222.8 L642.2,1221.4 L642.5,1219.9 L642.9,1218.4 L643.3,1217.0 L643.6,1215.5 L644.0,1214.1 L644.3,1212.6 L644.6,1211.1 L644.9,1209.7 L645.2,1208.2 L645.5,1206.7 L645.8,1205.3 L646.1,1203.8 L646.3,1202.3 L646.6,1200.8 L646.8,1199.4 L647.1,1197.9 L647.3,1196.4 L647.5,1194.9 L647.7,1193.4 L648.0,1191.9 L648.2,1190.4 L648.3,1189.0 L648.5,1187.5 L648.7,1186.0 L648.9,1184.5 L649.1,1183.0 L649.3,1181.5 L649.4,1180.0 L649.6,1178.5 L649.8,1177.0 L650.0,1175.6 L650.1,1174.1 L650.3,1172.6 L650.5,1171.1 L650.7,1169.6 L650.9,1168.1 L651.1,1166.6 L651.4,1165.2 L651.6,1163.7 L651.8,1162.2 L652.1,1160.7 L652.3,1159.2 L652.6,1157.8 L652.8,1156.3 L653.1,1154.8 L653.4,1153.3 L653.6,1151.8 L653.9,1150.4 L654.2,1148.9 L654.5,1147.4 L654.7,1145.9 L655.0,1144.5 L655.3,1143.0 L655.6,1141.5 L655.9,1140.1 L656.2,1138.6 L656.5,1137.1 L656.7,1135.6 L657.0,1134.2 L657.3,1132.7 L657.6,1131.2 L657.9,1129.8 L658.2,1128.3 L658.5,1126.8 L658.7,1125.3 L659.0,1123.9 L659.3,1122.4 L659.6,1120.9 L659.9,1119.4 L660.1,1118.0 L660.4,1116.5 L660.6,1115.0 L660.9,1113.5 L661.2,1112.1 L661.4,1110.6 L661.7,1109.1 L661.9,1107.6 L662.1,1106.1 L662.4,1104.6 L662.6,1103.2 L662.8,1101.7 L663.0,1100.2 L663.3,1098.7 L663.5,1097.2 L663.7,1095.7 L663.9,1094.3 L664.1,1092.8 L664.3,1091.3 L664.6,1089.8 L664.8,1088.3 L665.0,1086.8 L665.2,1085.4 L665.4,1083.9 L665.6,1082.4 L665.9,1080.9 L666.1,1079.4 L666.3,1077.9 L666.6,1076.5 L666.8,1075.0 L667.0,1073.5 L667.3,1072.0 L667.5,1070.5 L667.8,1069.1 L668.1,1067.6 L668.3,1066.1 L668.6,1064.6 L668.9,1063.2 L669.2,1061.7 L669.5,1060.2 L669.8,1058.8 L670.1,1057.3 L670.4,1055.8 L670.7,1054.3 L671.0,1052.9 L671.4,1051.4 L671.7,1050.0 L672.0,1048.5 L672.4,1047.0 L672.7,1045.6 L673.1,1044.1 L673.5,1042.7 L673.8,1041.2 L674.2,1039.8 L674.6,1038.3 L675.0,1036.9 L675.4,1035.4 L675.8,1034.0 L676.2,1032.5 L676.6,1031.1 L677.1,1029.7 L677.5,1028.2 L677.9,1026.8 L678.4,1025.4 L678.8,1023.9 L679.3,1022.5 L679.8,1021.1 L680.2,1019.7 L680.7,1018.2 L681.2,1016.8 L681.7,1015.4 L682.2,1014.0 L682.7,1012.6 L683.2,1011.2 L683.7,1009.8 L684.3,1008.4 L684.8,1007.0 L685.4,1005.6 L685.9,1004.2 L686.5,1002.8 L687.0,1001.4 L687.6,1000.0 L688.2,998.6 L688.8,997.2 L689.4,995.9 L690.0,994.5 L690.6,993.1 L691.2,991.8 L691.9,990.4 L692.5,989.0 L693.2,987.7 L693.8,986.3 L694.5,985.0 L695.2,983.7 L695.8,982.3 L696.5,981.0 L697.2,979.7 L698.0,978.3 L698.7,977.0 L699.4,975.7 L700.1,974.4 L700.9,973.1 L701.6,971.8 L702.4,970.5 L703.2,969.2 L704.0,968.0 L704.7,966.7 L705.5,965.4 L706.4,964.2 L707.2,962.9 L708.0,961.6 L708.8,960.4 L709.7,959.2 L710.6,957.9 L711.4,956.7 L712.3,955.5 L713.2,954.3 L714.1,953.1 L715.0,951.9 L715.9,950.7 L716.8,949.5 L717.8,948.4 L718.7,947.2 L719.7,946.1 L720.7,944.9 L721.6,943.8 L722.6,942.6 L723.6,941.5 L724.6,940.4 L725.7,939.3 L726.7,938.2 L727.7,937.2 L728.8,936.1 L729.9,935.0 L730.9,934.0 L732.0,932.9 L733.1,931.9 L734.2,930.9 L735.3,929.9 L736.4,928.9 L737.6,927.9 L738.7,927.0 L739.9,926.0 L741.0,925.0 L742.2,924.1 L743.4,923.2 L744.6,922.3 L745.8,921.3 L747.0,920.4 L748.2,919.6 L749.4,918.7 L750.6,917.8 L751.8,917.0 L753.1,916.1 L754.3,915.3 L755.6,914.4 L756.8,913.6 L758.1,912.8 L759.4,912.0 L760.6,911.2 L761.9,910.5 L763.2,909.7 L764.5,908.9 L765.8,908.2 L767.1,907.4 L768.4,906.7 L769.7,906.0 L771.0,905.3 L772.4,904.5 L773.7,903.8 L775.0,903.2 L776.4,902.5 L777.7,901.8 L779.0,901.1 L780.4,900.5 L781.7,899.8 L783.1,899.2 L784.5,898.5 L785.8,897.9 L787.2,897.3 L788.5,896.7 L789.9,896.0 L791.3,895.4 L792.7,894.9 L794.0,894.3 L795.4,893.7 L796.8,893.1 L798.2,892.5 L799.6,892.0 L801.0,891.4 L802.4,890.9 L803.8,890.3 L805.2,889.8 L806.6,889.2 L808.0,888.7 L809.4,888.2 L810.8,887.7 L812.2,887.1 L813.6,886.6 L815.0,886.1 L816.4,885.6 L817.9,885.1 L819.3,884.6 L820.7,884.2 L822.1,883.7 L823.5,883.2 L825.0,882.7 L826.4,882.3 L827.8,881.8 L829.2,881.3 L830.7,880.9 L832.1,880.4 L833.5,880.0 L835.0,879.5 L836.4,879.1 L837.8,878.6 L839.3,878.2 L840.7,877.8 L842.1,877.3 L843.6,876.9 L845.0,876.5 L846.4,876.1 L847.9,875.6 L849.3,875.2 L850.8,874.8 L852.2,874.4 L853.6,874.0 L855.1,873.6 L856.5,873.2 L858.0,872.8 L859.4,872.4 L860.9,872.0 L862.3,871.6 L863.8,871.2 L865.2,870.8 L866.7,870.4 L868.1,870.0 L869.6,869.6 L871.0,869.2 L872.5,868.8 L873.9,868.4 L875.4,868.1 L876.8,867.7 L878.3,867.3 L879.7,866.9 L881.2,866.6 L882.6,866.2 L884.1,865.8 L885.5,865.5 L887.0,865.1 L888.4,864.7 L889.9,864.4 L891.4,864.0 L892.8,863.7 L894.3,863.3 L895.7,863.0 L897.2,862.6 L898.6,862.3 L900.1,861.9 L901.6,861.6 L903.0,861.3 L904.5,860.9 L906.0,860.6 L907.4,860.3 L908.9,859.9 L910.3,859.6 L911.8,859.3 L913.3,859.0 L914.7,858.7 L916.2,858.3 L917.7,858.0 L919.1,857.7 L920.6,857.4 L922.1,857.1 L923.5,856.8 L925.0,856.5 L926.5,856.2 L928.0,855.9 L929.4,855.6 L930.9,855.3 L932.4,855.0 L933.8,854.7 L935.3,854.4 L936.8,854.1 L938.3,853.8 L939.7,853.6 L941.2,853.3 L942.7,853.0 L944.2,852.7 L945.6,852.4 L947.1,852.2 L948.6,851.9 L950.1,851.6 L951.5,851.4 L953.0,851.1 L954.5,850.8 L956.0,850.6 L957.4,850.3 L958.9,850.1 L960.4,849.8 L961.8,849.6 L962.8,849.4" fill="none" stroke="#1a1a52" stroke-width="3.8" stroke-linejoin="round" stroke-linecap="butt" clip-path="url(#clipB)" />
<line x1="224.9" y1="802.5" x2="283.3" y2="802.5" stroke="#7c1418" stroke-width="3.8"/>
<text x="304.1" y="812.0" font-size="27.4">Λ = 120 nm (T ≈ 60%)</text>
<line x1="224.9" y1="841.8" x2="283.3" y2="841.8" stroke="#ec9424" stroke-width="3.8"/>
<text x="304.1" y="851.3" font-size="27.4">Λ = 140 nm (T ≈ 70%)</text>
<line x1="607.6" y1="802.5" x2="666.3" y2="802.5" stroke="#186b36" stroke-width="3.8"/>
<text x="687.0" y="812.0" font-size="27.4">Λ = 170 nm (T ≈ 75%)</text>
<line x1="607.6" y1="841.8" x2="666.3" y2="841.8" stroke="#1a1a52" stroke-width="3.8"/>
<text x="687.0" y="851.3" font-size="27.4">Λ = 190 nm (T ≈ 80%)</text>
<text x="103" y="805.5" font-family='"Liberation Sans", sans-serif' font-weight="bold" font-size="42" fill="#1c1212">(b)</text>
<rect x="88.3" y="768.1" width="875.2" height="659.9" fill="none" stroke="#000" stroke-width="1.6"/>
<line x1="163.3" y1="1428.0" x2="163.3" y2="1435.0" stroke="#000" stroke-width="1.6"/>
<text transform="translate(163.3,1461.6) scale(1,1.11)" text-anchor="middle" font-size="26">450</text>
<line x1="288.3" y1="1428.0" x2="288.3" y2="1435.0" stroke="#000" stroke-width="1.6"/>
<text transform="translate(288.3,1461.6) scale(1,1.11)" text-anchor="middle" font-size="26">500</text>
<line x1="413.4" y1="1428.0" x2="413.4" y2="1435.0" stroke="#000" stroke-width="1.6"/>
<text transform="translate(413.4,1461.6) scale(1,1.11)" text-anchor="middle" font-size="26">550</text>
<line x1="538.4" y1="1428.0" x2="538.4" y2="1435.0" stroke="#000" stroke-width="1.6"/>
<text transform="translate(538.4,1461.6) scale(1,1.11)" text-anchor="middle" font-size="26">600</text>
<line x1="663.4" y1="1428.0" x2="663.4" y2="1435.0" stroke="#000" stroke-width="1.6"/>
<text transform="translate(663.4,1461.6) scale(1,1.11)" text-anchor="middle" font-size="26">650</text>
<line x1="788.5" y1="1428.0" x2="788.5" y2="1435.0" stroke="#000" stroke-width="1.6"/>
<text transform="translate(788.5,1461.6) scale(1,1.11)" text-anchor="middle" font-size="26">700</text>
<line x1="913.5" y1="1428.0" x2="913.5" y2="1435.0" stroke="#000" stroke-width="1.6"/>
<text transform="translate(913.5,1461.6) scale(1,1.11)" text-anchor="middle" font-size="26">750</text>
<line x1="81.3" y1="1428.0" x2="88.3" y2="1428.0" stroke="#000" stroke-width="1.6"/>
<text transform="translate(73.2,1437.5) scale(1,1.11)" text-anchor="end" font-size="26">0.0</text>
<line x1="81.3" y1="1308.0" x2="88.3" y2="1308.0" stroke="#000" stroke-width="1.6"/>
<text transform="translate(73.2,1317.5) scale(1,1.11)" text-anchor="end" font-size="26">0.2</text>
<line x1="81.3" y1="1188.0" x2="88.3" y2="1188.0" stroke="#000" stroke-width="1.6"/>
<text transform="translate(73.2,1197.5) scale(1,1.11)" text-anchor="end" font-size="26">0.4</text>
<line x1="81.3" y1="1068.1" x2="88.3" y2="1068.1" stroke="#000" stroke-width="1.6"/>
<text transform="translate(73.2,1077.6) scale(1,1.11)" text-anchor="end" font-size="26">0.6</text>
<line x1="81.3" y1="948.1" x2="88.3" y2="948.1" stroke="#000" stroke-width="1.6"/>
<text transform="translate(73.2,957.6) scale(1,1.11)" text-anchor="end" font-size="26">0.8</text>
<line x1="81.3" y1="828.1" x2="88.3" y2="828.1" stroke="#000" stroke-width="1.6"/>
<text transform="translate(73.2,837.6) scale(1,1.11)" text-anchor="end" font-size="26">1.0</text>
<text x="525.9" y="1496.2" text-anchor="middle" font-size="31.4">Wavelength (nm)</text>
<text transform="translate(27.2,1098.0) rotate(-90)" text-anchor="middle" font-size="31.4">Transmittance</text>
<line x1="163.3" y1="1544.6" x2="163.3" y2="2196.3" stroke="#a2a2a2" stroke-width="1.5" stroke-dasharray="1.5 2.7"/>
<line x1="288.3" y1="1544.6" x2="288.3" y2="2196.3" stroke="#a2a2a2" stroke-width="1.5" stroke-dasharray="1.5 2.7"/>
<line x1="413.4" y1="1544.6" x2="413.4" y2="2196.3" stroke="#a2a2a2" stroke-width="1.5" stroke-dasharray="1.5 2.7"/>
<line x1="538.4" y1="1544.6" x2="538.4" y2="2196.3" stroke="#a2a2a2" stroke-width="1.5" stroke-dasharray="1.5 2.7"/>
<line x1="663.4" y1="1544.6" x2="663.4" y2="2196.3" stroke="#a2a2a2" stroke-width="1.5" stroke-dasharray="1.5 2.7"/>
<line x1="788.5" y1="1544.6" x2="788.5" y2="2196.3" stroke="#a2a2a2" stroke-width="1.5" stroke-dasharray="1.5 2.7"/>
<line x1="913.5" y1="1544.6" x2="913.5" y2="2196.3" stroke="#a2a2a2" stroke-width="1.5" stroke-dasharray="1.5 2.7"/>
<line x1="88.3" y1="2196.3" x2="963.5" y2="2196.3" stroke="#a2a2a2" stroke-width="1.5" stroke-dasharray="1.5 2.7"/>
<line x1="88.3" y1="2114.8" x2="963.5" y2="2114.8" stroke="#a2a2a2" stroke-width="1.5" stroke-dasharray="1.5 2.7"/>
<line x1="88.3" y1="2033.4" x2="963.5" y2="2033.4" stroke="#a2a2a2" stroke-width="1.5" stroke-dasharray="1.5 2.7"/>
<line x1="88.3" y1="1951.9" x2="963.5" y2="1951.9" stroke="#a2a2a2" stroke-width="1.5" stroke-dasharray="1.5 2.7"/>
<line x1="88.3" y1="1870.5" x2="963.5" y2="1870.5" stroke="#a2a2a2" stroke-width="1.5" stroke-dasharray="1.5 2.7"/>
<line x1="88.3" y1="1789.0" x2="963.5" y2="1789.0" stroke="#a2a2a2" stroke-width="1.5" stroke-dasharray="1.5 2.7"/>
<line x1="88.3" y1="1707.5" x2="963.5" y2="1707.5" stroke="#a2a2a2" stroke-width="1.5" stroke-dasharray="1.5 2.7"/>
<line x1="88.3" y1="1626.1" x2="963.5" y2="1626.1" stroke="#a2a2a2" stroke-width="1.5" stroke-dasharray="1.5 2.7"/>
<line x1="88.3" y1="1544.6" x2="963.5" y2="1544.6" stroke="#a2a2a2" stroke-width="1.5" stroke-dasharray="1.5 2.7"/>
<clipPath id="clipC"><rect x="88.3" y="1544.6" width="875.2" height="651.7"/></clipPath>
<path d="M89.0,2169.1 L89.4,2168.3 L89.9,2167.4 L90.4,2166.2 L91.0,2165.0 L91.6,2163.7 L92.2,2162.4 L92.9,2161.1 L93.5,2159.7 L94.1,2158.3 L94.7,2157.0 L95.4,2155.6 L96.0,2154.2 L96.6,2152.9 L97.2,2151.5 L97.8,2150.1 L98.4,2148.7 L99.0,2147.4 L99.6,2146.0 L100.2,2144.6 L100.8,2143.2 L101.3,2141.8 L101.9,2140.5 L102.5,2139.1 L103.1,2137.7 L103.6,2136.3 L104.2,2134.9 L104.7,2133.5 L105.3,2132.1 L105.8,2130.7 L106.4,2129.3 L106.9,2127.9 L107.5,2126.5 L108.0,2125.1 L108.5,2123.7 L109.0,2122.3 L109.6,2120.9 L110.1,2119.5 L110.6,2118.1 L111.1,2116.7 L111.6,2115.3 L112.1,2113.8 L112.6,2112.4 L113.1,2111.0 L113.6,2109.6 L114.1,2108.2 L114.6,2106.8 L115.0,2105.3 L115.5,2103.9 L116.0,2102.5 L116.5,2101.1 L116.9,2099.6 L117.4,2098.2 L117.9,2096.8 L118.3,2095.4 L118.8,2093.9 L119.2,2092.5 L119.7,2091.1 L120.1,2089.6 L120.6,2088.2 L121.0,2086.8 L121.4,2085.3 L121.9,2083.9 L122.3,2082.5 L122.7,2081.0 L123.1,2079.6 L123.6,2078.1 L124.0,2076.7 L124.4,2075.3 L124.8,2073.8 L125.2,2072.4 L125.6,2070.9 L126.0,2069.5 L126.4,2068.1 L126.8,2066.6 L127.2,2065.2 L127.6,2063.7 L128.0,2062.3 L128.4,2060.8 L128.8,2059.4 L129.2,2057.9 L129.6,2056.5 L130.0,2055.0 L130.3,2053.6 L130.7,2052.1 L131.1,2050.7 L131.5,2049.2 L131.8,2047.8 L132.2,2046.3 L132.6,2044.8 L132.9,2043.4 L133.3,2041.9 L133.6,2040.5 L134.0,2039.0 L134.4,2037.6 L134.7,2036.1 L135.1,2034.6 L135.4,2033.2 L135.8,2031.7 L136.1,2030.3 L136.5,2028.8 L136.8,2027.4 L137.1,2025.9 L137.5,2024.4 L137.8,2023.0 L138.2,2021.5 L138.5,2020.0 L138.8,2018.6 L139.2,2017.1 L139.5,2015.7 L139.8,2014.2 L140.2,2012.7 L140.5,2011.3 L140.8,2009.8 L141.1,2008.3 L141.5,2006.9 L141.8,2005.4 L142.1,2003.9 L142.4,2002.5 L142.8,2001.0 L143.1,1999.6 L143.4,1998.1 L143.7,1996.6 L144.0,1995.2 L144.3,1993.7 L144.7,1992.2 L145.0,1990.8 L145.3,1989.3 L145.6,1987.8 L145.9,1986.4 L146.2,1984.9 L146.5,1983.4 L146.8,1982.0 L147.2,1980.5 L147.5,1979.0 L147.8,1977.5 L148.1,1976.1 L148.4,1974.6 L148.7,1973.1 L149.0,1971.7 L149.3,1970.2 L149.6,1968.7 L149.9,1967.3 L150.2,1965.8 L150.5,1964.3 L150.8,1962.9 L151.1,1961.4 L151.4,1959.9 L151.7,1958.4 L151.9,1957.0 L152.2,1955.5 L152.5,1954.0 L152.8,1952.5 L153.1,1951.1 L153.4,1949.6 L153.7,1948.1 L153.9,1946.7 L154.2,1945.2 L154.5,1943.7 L154.8,1942.2 L155.0,1940.8 L155.3,1939.3 L155.6,1937.8 L155.8,1936.3 L156.1,1934.9 L156.3,1933.4 L156.6,1931.9 L156.9,1930.4 L157.1,1928.9 L157.4,1927.5 L157.6,1926.0 L157.9,1924.5 L158.1,1923.0 L158.3,1921.5 L158.6,1920.1 L158.8,1918.6 L159.0,1917.1 L159.3,1915.6 L159.5,1914.1 L159.7,1912.6 L159.9,1911.2 L160.2,1909.7 L160.4,1908.2 L160.6,1906.7 L160.8,1905.2 L161.0,1903.7 L161.2,1902.3 L161.4,1900.8 L161.6,1899.3 L161.8,1897.8 L162.0,1896.3 L162.2,1894.8 L162.4,1893.3 L162.6,1891.8 L162.7,1890.4 L162.9,1888.9 L163.1,1887.4 L163.3,1885.9 L163.5,1884.4 L163.7,1882.9 L163.9,1881.4 L164.0,1879.9 L164.2,1878.4 L164.4,1877.0 L164.6,1875.5 L164.7,1874.0 L164.9,1872.5 L165.1,1871.0 L165.3,1869.5 L165.5,1868.0 L165.6,1866.5 L165.8,1865.0 L166.0,1863.5 L166.2,1862.1 L166.3,1860.6 L166.5,1859.1 L166.7,1857.6 L166.9,1856.1 L167.0,1854.6 L167.2,1853.1 L167.4,1851.6 L167.6,1850.1 L167.8,1848.7 L168.0,1847.2 L168.1,1845.7 L168.3,1844.2 L168.5,1842.7 L168.7,1841.2 L168.9,1839.7 L169.1,1838.2 L169.3,1836.8 L169.5,1835.3 L169.7,1833.8 L169.9,1832.3 L170.1,1830.8 L170.4,1829.3 L170.6,1827.8 L170.8,1826.4 L171.1,1824.9 L171.3,1823.4 L171.6,1821.9 L171.8,1820.4 L172.1,1819.0 L172.4,1817.5 L172.7,1816.0 L173.0,1814.6 L173.3,1813.1 L173.7,1811.7 L174.1,1810.3 L174.6,1809.0 L175.2,1807.8 L175.8,1806.8 L176.5,1806.1 L177.3,1805.7 L178.0,1805.8 L178.8,1806.2 L179.5,1807.0 L180.1,1808.0 L180.7,1809.3 L181.1,1810.6 L181.6,1812.0 L182.0,1813.5 L182.3,1814.9 L182.7,1816.4 L183.0,1817.8 L183.3,1819.3 L183.6,1820.8 L183.9,1822.2 L184.2,1823.7 L184.4,1825.2 L184.7,1826.7 L184.9,1828.1 L185.2,1829.6 L185.4,1831.1 L185.7,1832.6 L185.9,1834.1 L186.1,1835.5 L186.4,1837.0 L186.6,1838.5 L186.8,1840.0 L187.0,1841.5 L187.3,1843.0 L187.5,1844.5 L187.7,1845.9 L187.9,1847.4 L188.1,1848.9 L188.3,1850.4 L188.5,1851.9 L188.7,1853.4 L188.8,1854.9 L189.0,1856.3 L189.2,1857.8 L189.4,1859.3 L189.6,1860.8 L189.7,1862.3 L189.9,1863.8 L190.1,1865.3 L190.2,1866.8 L190.4,1868.3 L190.6,1869.8 L190.7,1871.3 L190.9,1872.7 L191.0,1874.2 L191.2,1875.7 L191.3,1877.2 L191.4,1878.7 L191.6,1880.2 L191.7,1881.7 L191.9,1883.2 L192.0,1884.7 L192.2,1886.2 L192.3,1887.7 L192.4,1889.2 L192.6,1890.7 L192.7,1892.2 L192.8,1893.7 L193.0,1895.1 L193.1,1896.6 L193.2,1898.1 L193.4,1899.6 L193.5,1901.1 L193.6,1902.6 L193.8,1904.1 L193.9,1905.6 L194.0,1907.1 L194.2,1908.6 L194.3,1910.1 L194.4,1911.6 L194.6,1913.1 L194.7,1914.6 L194.8,1916.1 L194.9,1917.6 L195.1,1919.1 L195.2,1920.5 L195.3,1922.0 L195.5,1923.5 L195.6,1925.0 L195.7,1926.5 L195.8,1928.0 L196.0,1929.5 L196.1,1931.0 L196.2,1932.5 L196.3,1934.0 L196.5,1935.5 L196.6,1937.0 L196.7,1938.5 L196.8,1940.0 L197.0,1941.5 L197.1,1943.0 L197.2,1944.5 L197.3,1946.0 L197.5,1947.5 L197.6,1948.9 L197.7,1950.4 L197.8,1951.9 L198.0,1953.4 L198.1,1954.9 L198.2,1956.4 L198.3,1957.9 L198.4,1959.4 L198.6,1960.9 L198.7,1962.4 L198.8,1963.9 L198.9,1965.4 L199.0,1966.9 L199.2,1968.4 L199.3,1969.9 L199.4,1971.4 L199.5,1972.9 L199.6,1974.4 L199.8,1975.9 L199.9,1977.4 L200.0,1978.9 L200.1,1980.3 L200.2,1981.8 L200.3,1983.3 L200.5,1984.8 L200.6,1986.3 L200.7,1987.8 L200.8,1989.3 L200.9,1990.8 L201.0,1992.3 L201.2,1993.8 L201.3,1995.3 L201.4,1996.8 L201.5,1998.3 L201.6,1999.8 L201.7,2001.3 L201.9,2002.8 L202.0,2004.3 L202.1,2005.8 L202.2,2007.3 L202.3,2008.8 L202.4,2010.3 L202.6,2011.8 L202.7,2013.2 L202.8,2014.7 L202.9,2016.2 L203.0,2017.7 L203.1,2019.2 L203.2,2020.7 L203.4,2022.2 L203.5,2023.7 L203.6,2025.2 L203.7,2026.7 L203.8,2028.2 L203.9,2029.7 L204.0,2031.2 L204.2,2032.7 L204.3,2034.2 L204.4,2035.7 L204.5,2037.2 L204.6,2038.7 L204.7,2040.2 L204.9,2041.7 L205.0,2043.2 L205.1,2044.7 L205.2,2046.2 L205.3,2047.6 L205.4,2049.1 L205.5,2050.6 L205.7,2052.1 L205.8,2053.6 L205.9,2055.1 L206.0,2056.6 L206.1,2058.1 L206.2,2059.6 L206.4,2061.1 L206.5,2062.6 L206.6,2064.1 L206.7,2065.6 L206.8,2067.1 L206.9,2068.6 L207.1,2070.1 L207.2,2071.6 L207.3,2073.1 L207.4,2074.6 L207.5,2076.1 L207.7,2077.6 L207.8,2079.0 L207.9,2080.5 L208.1,2082.0 L208.2,2083.5 L208.3,2085.0 L208.5,2086.5 L208.6,2088.0 L208.8,2089.5 L209.0,2091.0 L209.1,2092.5 L209.3,2094.0 L209.5,2095.5 L209.7,2096.9 L209.9,2098.4 L210.2,2099.9 L210.4,2101.4 L210.7,2102.9 L210.9,2104.3 L211.2,2105.8 L211.5,2107.3 L211.8,2108.8 L212.1,2110.2 L212.4,2111.7 L212.8,2113.1 L213.2,2114.6 L213.6,2116.0 L214.0,2117.5 L214.4,2118.9 L214.9,2120.3 L215.4,2121.7 L215.9,2123.2 L216.4,2124.6 L217.0,2125.9 L217.6,2127.3 L218.2,2128.7 L218.9,2130.0 L219.6,2131.3 L220.3,2132.7 L221.0,2134.0 L221.8,2135.2 L222.7,2136.5 L223.5,2137.7 L224.4,2138.9 L225.4,2140.0 L226.3,2141.2 L227.4,2142.3 L228.4,2143.3 L229.5,2144.3 L230.6,2145.3 L231.8,2146.3 L233.0,2147.2 L234.2,2148.0 L235.5,2148.8 L236.7,2149.6 L238.1,2150.3 L239.4,2150.9 L240.8,2151.5 L242.2,2151.9 L243.6,2152.4 L245.1,2152.7 L246.5,2152.9 L248.0,2153.0 L249.4,2153.0 L250.9,2152.9 L252.3,2152.6 L253.7,2152.2 L255.0,2151.6 L256.3,2151.0 L257.5,2150.1 L258.6,2149.2 L259.7,2148.2 L260.6,2147.1 L261.5,2145.9 L262.4,2144.7 L263.2,2143.4 L263.9,2142.1 L264.6,2140.8 L265.2,2139.5 L265.8,2138.1 L266.4,2136.7 L267.0,2135.3 L267.5,2133.9 L268.0,2132.5 L268.5,2131.1 L269.0,2129.7 L269.5,2128.3 L270.0,2126.8 L270.4,2125.4 L270.9,2124.0 L271.4,2122.6 L271.8,2121.1 L272.3,2119.7 L272.8,2118.3 L273.2,2116.9 L273.7,2115.4 L274.2,2114.0 L274.7,2112.6 L275.2,2111.2 L275.7,2109.8 L276.2,2108.4 L276.8,2107.0 L277.3,2105.6 L277.9,2104.2 L278.4,2102.8 L279.0,2101.4 L279.6,2100.0 L280.2,2098.7 L280.8,2097.3 L281.4,2095.9 L282.0,2094.5 L282.6,2093.2 L283.3,2091.8 L283.9,2090.5 L284.5,2089.1 L285.2,2087.7 L285.8,2086.4 L286.4,2085.0 L287.1,2083.7 L287.7,2082.3 L288.3,2080.9 L289.0,2079.6 L289.6,2078.2 L290.2,2076.9 L290.8,2075.5 L291.4,2074.1 L292.0,2072.7 L292.6,2071.4 L293.2,2070.0 L293.8,2068.6 L294.4,2067.2 L295.0,2065.8 L295.6,2064.5 L296.1,2063.1 L296.7,2061.7 L297.2,2060.3 L297.8,2058.9 L298.3,2057.5 L298.9,2056.1 L299.4,2054.7 L300.0,2053.3 L300.5,2051.9 L301.0,2050.5 L301.5,2049.1 L302.0,2047.7 L302.5,2046.3 L303.1,2044.8 L303.6,2043.4 L304.1,2042.0 L304.5,2040.6 L305.0,2039.2 L305.5,2037.8 L306.0,2036.3 L306.5,2034.9 L306.9,2033.5 L307.4,2032.1 L307.9,2030.6 L308.3,2029.2 L308.8,2027.8 L309.2,2026.4 L309.7,2024.9 L310.1,2023.5 L310.6,2022.1 L311.0,2020.6 L311.5,2019.2 L311.9,2017.8 L312.3,2016.3 L312.7,2014.9 L313.2,2013.4 L313.6,2012.0 L314.0,2010.6 L314.4,2009.1 L314.8,2007.7 L315.2,2006.2 L315.6,2004.8 L316.0,2003.3 L316.4,2001.9 L316.8,2000.4 L317.2,1999.0 L317.6,1997.5 L318.0,1996.1 L318.4,1994.6 L318.8,1993.2 L319.1,1991.7 L319.5,1990.3 L319.9,1988.8 L320.3,1987.4 L320.6,1985.9 L321.0,1984.5 L321.4,1983.0 L321.7,1981.6 L322.1,1980.1 L322.4,1978.7 L322.8,1977.2 L323.2,1975.7 L323.5,1974.3 L323.9,1972.8 L324.2,1971.4 L324.5,1969.9 L324.9,1968.4 L325.2,1967.0 L325.6,1965.5 L325.9,1964.1 L326.2,1962.6 L326.6,1961.1 L326.9,1959.7 L327.2,1958.2 L327.6,1956.7 L327.9,1955.3 L328.2,1953.8 L328.5,1952.4 L328.9,1950.9 L329.2,1949.4 L329.5,1948.0 L329.8,1946.5 L330.1,1945.0 L330.4,1943.6 L330.7,1942.1 L331.1,1940.6 L331.4,1939.2 L331.7,1937.7 L332.0,1936.2 L332.3,1934.7 L332.6,1933.3 L332.9,1931.8 L333.2,1930.3 L333.5,1928.9 L333.8,1927.4 L334.1,1925.9 L334.4,1924.5 L334.7,1923.0 L335.0,1921.5 L335.3,1920.0 L335.5,1918.6 L335.8,1917.1 L336.1,1915.6 L336.4,1914.2 L336.7,1912.7 L337.0,1911.2 L337.3,1909.7 L337.5,1908.3 L337.8,1906.8 L338.1,1905.3 L338.4,1903.8 L338.7,1902.4 L338.9,1900.9 L339.2,1899.4 L339.5,1897.9 L339.8,1896.5 L340.0,1895.0 L340.3,1893.5 L340.6,1892.0 L340.9,1890.6 L341.1,1889.1 L341.4,1887.6 L341.7,1886.1 L341.9,1884.7 L342.2,1883.2 L342.5,1881.7 L342.7,1880.2 L343.0,1878.8 L343.3,1877.3 L343.5,1875.8 L343.8,1874.3 L344.1,1872.9 L344.3,1871.4 L344.6,1869.9 L344.9,1868.4 L345.1,1867.0 L345.4,1865.5 L345.7,1864.0 L345.9,1862.5 L346.2,1861.0 L346.5,1859.6 L346.7,1858.1 L347.0,1856.6 L347.2,1855.1 L347.5,1853.7 L347.8,1852.2 L348.0,1850.7 L348.3,1849.2 L348.6,1847.8 L348.8,1846.3 L349.1,1844.8 L349.3,1843.3 L349.6,1841.8 L349.9,1840.4 L350.1,1838.9 L350.4,1837.4 L350.7,1835.9 L350.9,1834.5 L351.2,1833.0 L351.4,1831.5 L351.7,1830.0 L352.0,1828.6 L352.2,1827.1 L352.5,1825.6 L352.8,1824.1 L353.0,1822.7 L353.3,1821.2 L353.6,1819.7 L353.8,1818.2 L354.1,1816.8 L354.4,1815.3 L354.6,1813.8 L354.9,1812.3 L355.2,1810.8 L355.5,1809.4 L355.7,1807.9 L356.0,1806.4 L356.3,1804.9 L356.6,1803.5 L356.8,1802.0 L357.1,1800.5 L357.4,1799.1 L357.7,1797.6 L357.9,1796.1 L358.2,1794.6 L358.5,1793.2 L358.8,1791.7 L359.1,1790.2 L359.4,1788.7 L359.7,1787.3 L360.0,1785.8 L360.3,1784.3 L360.6,1782.9 L360.8,1781.4 L361.1,1779.9 L361.5,1778.4 L361.8,1777.0 L362.1,1775.5 L362.4,1774.0 L362.7,1772.6 L363.0,1771.1 L363.3,1769.6 L363.6,1768.2 L363.9,1766.7 L364.2,1765.2 L364.6,1763.8 L364.9,1762.3 L365.2,1760.8 L365.5,1759.4 L365.8,1757.9 L366.1,1756.4 L366.4,1755.0 L366.7,1753.5 L367.1,1752.0 L367.4,1750.6 L367.7,1749.1 L368.0,1747.6 L368.3,1746.2 L368.6,1744.7 L368.9,1743.2 L369.2,1741.8 L369.5,1740.3 L369.8,1738.8 L370.1,1737.3 L370.3,1735.9 L370.6,1734.4 L370.9,1732.9 L371.2,1731.5 L371.5,1730.0 L371.8,1728.5 L372.0,1727.0 L372.3,1725.6 L372.6,1724.1 L372.8,1722.6 L373.1,1721.1 L373.4,1719.7 L373.7,1718.2 L373.9,1716.7 L374.2,1715.2 L374.5,1713.8 L374.7,1712.3 L375.0,1710.8 L375.3,1709.3 L375.6,1707.9 L375.9,1706.4 L376.2,1704.9 L376.5,1703.4 L376.8,1702.0 L377.1,1700.5 L377.4,1699.0 L377.8,1697.6 L378.1,1696.1 L378.5,1694.7 L378.9,1693.2 L379.3,1691.8 L379.8,1690.4 L380.3,1689.1 L380.9,1687.9 L381.6,1686.9 L382.4,1686.1 L383.2,1685.6 L384.1,1685.6 L384.9,1685.9 L385.7,1686.6 L386.4,1687.6 L387.1,1688.7 L387.7,1690.0 L388.2,1691.4 L388.6,1692.8 L389.1,1694.2 L389.5,1695.7 L389.9,1697.1 L390.2,1698.6 L390.6,1700.0 L390.9,1701.5 L391.3,1703.0 L391.6,1704.4 L391.9,1705.9 L392.2,1707.4 L392.5,1708.8 L392.8,1710.3 L393.1,1711.8 L393.4,1713.2 L393.7,1714.7 L394.0,1716.2 L394.3,1717.7 L394.6,1719.1 L394.8,1720.6 L395.1,1722.1 L395.4,1723.6 L395.7,1725.0 L396.0,1726.5 L396.2,1728.0 L396.5,1729.5 L396.8,1730.9 L397.1,1732.4 L397.3,1733.9 L397.6,1735.3 L397.9,1736.8 L398.2,1738.3 L398.4,1739.8 L398.7,1741.2 L399.0,1742.7 L399.3,1744.2 L399.5,1745.7 L399.8,1747.1 L400.1,1748.6 L400.3,1750.1 L400.6,1751.6 L400.9,1753.0 L401.2,1754.5 L401.4,1756.0 L401.7,1757.5 L402.0,1759.0 L402.2,1760.4 L402.5,1761.9 L402.7,1763.4 L403.0,1764.9 L403.2,1766.3 L403.5,1767.8 L403.8,1769.3 L404.0,1770.8 L404.2,1772.3 L404.5,1773.7 L404.7,1775.2 L405.0,1776.7 L405.2,1778.2 L405.5,1779.7 L405.7,1781.1 L405.9,1782.6 L406.2,1784.1 L406.4,1785.6 L406.6,1787.1 L406.8,1788.6 L407.1,1790.0 L407.3,1791.5 L407.5,1793.0 L407.7,1794.5 L408.0,1796.0 L408.2,1797.5 L408.4,1798.9 L408.6,1800.4 L408.8,1801.9 L409.0,1803.4 L409.3,1804.9 L409.5,1806.4 L409.7,1807.8 L409.9,1809.3 L410.1,1810.8 L410.3,1812.3 L410.5,1813.8 L410.8,1815.3 L411.0,1816.7 L411.2,1818.2 L411.4,1819.7 L411.6,1821.2 L411.8,1822.7 L412.0,1824.2 L412.2,1825.7 L412.4,1827.1 L412.7,1828.6 L412.9,1830.1 L413.1,1831.6 L413.3,1833.1 L413.5,1834.6 L413.7,1836.1 L413.9,1837.5 L414.1,1839.0 L414.4,1840.5 L414.6,1842.0 L414.8,1843.5 L415.0,1845.0 L415.2,1846.4 L415.4,1847.9 L415.7,1849.4 L415.9,1850.9 L416.1,1852.4 L416.3,1853.9 L416.6,1855.3 L416.8,1856.8 L417.0,1858.3 L417.2,1859.8 L417.5,1861.3 L417.7,1862.8 L417.9,1864.2 L418.2,1865.7 L418.4,1867.2 L418.7,1868.7 L418.9,1870.2 L419.1,1871.6 L419.4,1873.1 L419.6,1874.6 L419.9,1876.1 L420.1,1877.6 L420.4,1879.0 L420.6,1880.5 L420.9,1882.0 L421.2,1883.5 L421.4,1884.9 L421.7,1886.4 L421.9,1887.9 L422.2,1889.4 L422.5,1890.9 L422.8,1892.3 L423.1,1893.8 L423.3,1895.3 L423.6,1896.7 L423.9,1898.2 L424.2,1899.7 L424.5,1901.2 L424.8,1902.6 L425.1,1904.1 L425.4,1905.6 L425.7,1907.0 L426.1,1908.5 L426.4,1910.0 L426.7,1911.4 L427.0,1912.9 L427.4,1914.3 L427.7,1915.8 L428.1,1917.3 L428.4,1918.7 L428.8,1920.2 L429.1,1921.6 L429.5,1923.1 L429.9,1924.5 L430.2,1926.0 L430.6,1927.5 L431.0,1928.9 L431.4,1930.3 L431.8,1931.8 L432.2,1933.2 L432.6,1934.7 L433.0,1936.1 L433.5,1937.6 L433.9,1939.0 L434.3,1940.4 L434.8,1941.9 L435.2,1943.3 L435.7,1944.7 L436.2,1946.1 L436.6,1947.6 L437.1,1949.0 L437.6,1950.4 L438.1,1951.8 L438.6,1953.2 L439.1,1954.6 L439.6,1956.1 L440.1,1957.5 L440.7,1958.9 L441.2,1960.3 L441.8,1961.7 L442.3,1963.1 L442.9,1964.4 L443.4,1965.8 L444.0,1967.2 L444.6,1968.6 L445.2,1970.0 L445.8,1971.3 L446.4,1972.7 L447.0,1974.1 L447.7,1975.4 L448.3,1976.8 L448.9,1978.2 L449.6,1979.5 L450.2,1980.9 L450.9,1982.2 L451.6,1983.5 L452.3,1984.9 L453.0,1986.2 L453.7,1987.5 L454.4,1988.8 L455.1,1990.2 L455.8,1991.5 L456.6,1992.8 L457.3,1994.1 L458.1,1995.4 L458.8,1996.7 L459.6,1998.0 L460.4,1999.2 L461.2,2000.5 L462.0,2001.8 L462.8,2003.0 L463.6,2004.3 L464.4,2005.5 L465.3,2006.8 L466.1,2008.0 L467.0,2009.2 L467.9,2010.4 L468.8,2011.6 L469.7,2012.8 L470.6,2014.0 L471.6,2015.2 L472.5,2016.3 L473.5,2017.5 L474.5,2018.6 L475.5,2019.7 L476.6,2020.8 L477.6,2021.8 L478.7,2022.9 L479.8,2023.9 L480.9,2024.9 L482.0,2025.9 L483.2,2026.8 L484.4,2027.8 L485.6,2028.7 L486.8,2029.5 L488.0,2030.4 L489.3,2031.2 L490.5,2032.0 L491.8,2032.7 L493.1,2033.5 L494.5,2034.2 L495.8,2034.8 L497.2,2035.4 L498.5,2036.0 L499.9,2036.6 L501.3,2037.1 L502.8,2037.6 L504.2,2038.0 L505.6,2038.4 L507.1,2038.8 L508.5,2039.2 L510.0,2039.5 L511.5,2039.8 L512.9,2040.0 L514.4,2040.2 L515.9,2040.4 L517.4,2040.5 L518.9,2040.6 L520.4,2040.7 L521.9,2040.7 L523.4,2040.6 L524.9,2040.6 L526.4,2040.5 L527.9,2040.3 L529.3,2040.1 L530.8,2039.9 L532.3,2039.6 L533.7,2039.2 L535.2,2038.8 L536.6,2038.4 L538.0,2037.9 L539.4,2037.3 L540.7,2036.7 L542.1,2036.1 L543.4,2035.3 L544.7,2034.6 L545.9,2033.8 L547.1,2032.9 L548.3,2032.0 L549.5,2031.0 L550.6,2030.0 L551.7,2029.0 L552.7,2027.9 L553.7,2026.8 L554.7,2025.7 L555.6,2024.6 L556.6,2023.4 L557.4,2022.2 L558.3,2020.9 L559.1,2019.7 L559.9,2018.4 L560.7,2017.1 L561.4,2015.8 L562.1,2014.5 L562.8,2013.2 L563.5,2011.8 L564.1,2010.5 L564.8,2009.1 L565.4,2007.7 L566.0,2006.4 L566.5,2005.0 L567.1,2003.6 L567.6,2002.2 L568.1,2000.8 L568.6,1999.4 L569.1,1997.9 L569.6,1996.5 L570.0,1995.1 L570.5,1993.7 L570.9,1992.2 L571.3,1990.8 L571.7,1989.3 L572.1,1987.9 L572.5,1986.4 L572.9,1985.0 L573.3,1983.5 L573.6,1982.1 L574.0,1980.6 L574.3,1979.2 L574.7,1977.7 L575.0,1976.2 L575.3,1974.8 L575.6,1973.3 L576.0,1971.8 L576.3,1970.4 L576.6,1968.9 L576.9,1967.4 L577.2,1966.0 L577.5,1964.5 L577.8,1963.0 L578.1,1961.6 L578.3,1960.1 L578.6,1958.6 L578.9,1957.1 L579.2,1955.7 L579.5,1954.2 L579.7,1952.7 L580.0,1951.2 L580.3,1949.8 L580.6,1948.3 L580.8,1946.8 L581.1,1945.3 L581.4,1943.9 L581.7,1942.4 L581.9,1940.9 L582.2,1939.4 L582.5,1938.0 L582.7,1936.5 L583.0,1935.0 L583.2,1933.5 L583.5,1932.1 L583.8,1930.6 L584.0,1929.1 L584.3,1927.6 L584.5,1926.1 L584.8,1924.7 L585.0,1923.2 L585.3,1921.7 L585.5,1920.2 L585.8,1918.8 L586.0,1917.3 L586.3,1915.8 L586.5,1914.3 L586.8,1912.8 L587.0,1911.4 L587.3,1909.9 L587.5,1908.4 L587.7,1906.9 L588.0,1905.4 L588.2,1903.9 L588.4,1902.5 L588.7,1901.0 L588.9,1899.5 L589.1,1898.0 L589.4,1896.5 L589.6,1895.1 L589.8,1893.6 L590.1,1892.1 L590.3,1890.6 L590.5,1889.1 L590.7,1887.6 L591.0,1886.2 L591.2,1884.7 L591.4,1883.2 L591.6,1881.7 L591.9,1880.2 L592.1,1878.7 L592.3,1877.3 L592.5,1875.8 L592.7,1874.3 L593.0,1872.8 L593.2,1871.3 L593.4,1869.8 L593.6,1868.4 L593.8,1866.9 L594.0,1865.4 L594.2,1863.9 L594.4,1862.4 L594.7,1860.9 L594.9,1859.4 L595.1,1858.0 L595.3,1856.5 L595.5,1855.0 L595.7,1853.5 L595.9,1852.0 L596.1,1850.5 L596.3,1849.0 L596.5,1847.6 L596.7,1846.1 L596.9,1844.6 L597.2,1843.1 L597.4,1841.6 L597.6,1840.1 L597.8,1838.6 L598.0,1837.2 L598.2,1835.7 L598.4,1834.2 L598.6,1832.7 L598.8,1831.2 L599.0,1829.7 L599.2,1828.2 L599.4,1826.8 L599.6,1825.3 L599.8,1823.8 L600.0,1822.3 L600.2,1820.8 L600.4,1819.3 L600.6,1817.8 L600.8,1816.4 L601.0,1814.9 L601.2,1813.4 L601.4,1811.9 L601.6,1810.4 L601.8,1808.9 L602.0,1807.4 L602.2,1806.0 L602.4,1804.5 L602.7,1803.0 L602.9,1801.5 L603.1,1800.0 L603.3,1798.5 L603.5,1797.0 L603.7,1795.6 L603.9,1794.1 L604.1,1792.6 L604.3,1791.1 L604.5,1789.6 L604.7,1788.1 L604.9,1786.6 L605.1,1785.2 L605.4,1783.7 L605.6,1782.2 L605.8,1780.7 L606.0,1779.2 L606.2,1777.7 L606.4,1776.2 L606.6,1774.8 L606.9,1773.3 L607.1,1771.8 L607.3,1770.3 L607.5,1768.8 L607.8,1767.3 L608.0,1765.9 L608.2,1764.4 L608.4,1762.9 L608.7,1761.4 L608.9,1759.9 L609.1,1758.5 L609.4,1757.0 L609.6,1755.5 L609.9,1754.0 L610.1,1752.5 L610.4,1751.1 L610.6,1749.6 L610.9,1748.1 L611.1,1746.6 L611.4,1745.1 L611.6,1743.7 L611.9,1742.2 L612.1,1740.7 L612.4,1739.2 L612.6,1737.7 L612.9,1736.3 L613.1,1734.8 L613.4,1733.3 L613.6,1731.8 L613.9,1730.3 L614.1,1728.9 L614.4,1727.4 L614.6,1725.9 L614.8,1724.4 L615.1,1722.9 L615.3,1721.5 L615.6,1720.0 L615.8,1718.5 L616.0,1717.0 L616.2,1715.5 L616.5,1714.1 L616.7,1712.6 L616.9,1711.1 L617.1,1709.6 L617.3,1708.1 L617.5,1706.6 L617.8,1705.1 L618.0,1703.7 L618.2,1702.2 L618.4,1700.7 L618.6,1699.2 L618.8,1697.7 L619.0,1696.2 L619.2,1694.7 L619.4,1693.3 L619.6,1691.8 L619.8,1690.3 L620.0,1688.8 L620.3,1687.3 L620.5,1685.8 L620.7,1684.4 L620.9,1682.9 L621.2,1681.4 L621.4,1679.9 L621.6,1678.4 L621.9,1676.9 L622.1,1675.5 L622.4,1674.0 L622.7,1672.5 L622.9,1671.0 L623.2,1669.6 L623.5,1668.1 L623.8,1666.6 L624.1,1665.2 L624.4,1663.7 L624.7,1662.2 L625.0,1660.8 L625.4,1659.3 L625.7,1657.8 L626.1,1656.4 L626.5,1654.9 L626.8,1653.5 L627.2,1652.0 L627.6,1650.6 L628.1,1649.1 L628.5,1647.7 L629.0,1646.3 L629.4,1644.9 L629.9,1643.5 L630.5,1642.1 L631.0,1640.7 L631.6,1639.3 L632.3,1638.0 L633.0,1636.7 L633.8,1635.5 L634.7,1634.4 L635.6,1633.5 L636.7,1632.8 L637.8,1632.4 L639.0,1632.3 L640.1,1632.5 L641.3,1633.0 L642.3,1633.8 L643.3,1634.8 L644.2,1635.9 L645.1,1637.0 L645.9,1638.3 L646.7,1639.6 L647.4,1640.9 L648.1,1642.2 L648.7,1643.5 L649.4,1644.9 L650.0,1646.2 L650.7,1647.6 L651.3,1649.0 L651.9,1650.3 L652.5,1651.7 L653.1,1653.1 L653.7,1654.5 L654.3,1655.9 L654.8,1657.2 L655.4,1658.6 L656.0,1660.0 L656.5,1661.4 L657.1,1662.8 L657.6,1664.2 L658.1,1665.6 L658.6,1667.0 L659.2,1668.4 L659.7,1669.8 L660.2,1671.3 L660.7,1672.7 L661.1,1674.1 L661.6,1675.5 L662.1,1676.9 L662.6,1678.4 L663.0,1679.8 L663.5,1681.2 L664.0,1682.6 L664.4,1684.1 L664.9,1685.5 L665.3,1686.9 L665.7,1688.4 L666.2,1689.8 L666.6,1691.3 L667.0,1692.7 L667.4,1694.1 L667.8,1695.6 L668.2,1697.0 L668.6,1698.5 L669.0,1699.9 L669.4,1701.4 L669.8,1702.8 L670.2,1704.3 L670.6,1705.7 L671.0,1707.2 L671.3,1708.6 L671.7,1710.1 L672.1,1711.5 L672.5,1713.0 L672.8,1714.4 L673.2,1715.9 L673.6,1717.3 L673.9,1718.8 L674.3,1720.2 L674.7,1721.7 L675.0,1723.2 L675.4,1724.6 L675.7,1726.1 L676.1,1727.5 L676.5,1729.0 L676.8,1730.4 L677.2,1731.9 L677.5,1733.4 L677.9,1734.8 L678.2,1736.3 L678.6,1737.7 L679.0,1739.2 L679.3,1740.6 L679.7,1742.1 L680.0,1743.5 L680.4,1745.0 L680.8,1746.5 L681.1,1747.9 L681.5,1749.4 L681.9,1750.8 L682.3,1752.3 L682.6,1753.7 L683.0,1755.2 L683.4,1756.6 L683.8,1758.1 L684.2,1759.5 L684.6,1761.0 L685.0,1762.4 L685.4,1763.9 L685.8,1765.3 L686.2,1766.7 L686.6,1768.2 L687.0,1769.6 L687.5,1771.1 L687.9,1772.5 L688.3,1773.9 L688.8,1775.4 L689.2,1776.8 L689.7,1778.2 L690.1,1779.7 L690.6,1781.1 L691.1,1782.5 L691.6,1783.9 L692.0,1785.3 L692.5,1786.8 L693.0,1788.2 L693.5,1789.6 L694.0,1791.0 L694.5,1792.4 L695.0,1793.8 L695.5,1795.2 L696.1,1796.6 L696.6,1798.0 L697.1,1799.5 L697.7,1800.9 L698.2,1802.2 L698.8,1803.6 L699.3,1805.0 L699.9,1806.4 L700.4,1807.8 L701.0,1809.2 L701.6,1810.6 L702.1,1812.0 L702.7,1813.4 L703.3,1814.7 L703.9,1816.1 L704.5,1817.5 L705.1,1818.9 L705.7,1820.3 L706.3,1821.6 L706.9,1823.0 L707.5,1824.4 L708.1,1825.7 L708.8,1827.1 L709.4,1828.5 L710.0,1829.8 L710.7,1831.2 L711.3,1832.5 L711.9,1833.9 L712.6,1835.2 L713.2,1836.6 L713.9,1837.9 L714.5,1839.3 L715.2,1840.6 L715.9,1842.0 L716.5,1843.3 L717.2,1844.7 L717.9,1846.0 L718.6,1847.3 L719.3,1848.7 L719.9,1850.0 L720.6,1851.3 L721.3,1852.7 L722.0,1854.0 L722.7,1855.3 L723.4,1856.7 L724.1,1858.0 L724.8,1859.3 L725.5,1860.6 L726.3,1861.9 L727.0,1863.3 L727.7,1864.6 L728.4,1865.9 L729.2,1867.2 L729.9,1868.5 L730.6,1869.8 L731.3,1871.1 L732.1,1872.4 L732.8,1873.7 L733.6,1875.0 L734.3,1876.3 L735.1,1877.6 L735.8,1878.9 L736.6,1880.2 L737.3,1881.5 L738.1,1882.8 L738.8,1884.1 L739.6,1885.4 L740.4,1886.7 L741.1,1888.0 L741.9,1889.3 L742.7,1890.6 L743.5,1891.9 L744.2,1893.1 L745.0,1894.4 L745.8,1895.7 L746.6,1897.0 L747.4,1898.3 L748.1,1899.5 L748.9,1900.8 L749.7,1902.1 L750.5,1903.3 L751.3,1904.6 L752.1,1905.9 L752.9,1907.2 L753.7,1908.4 L754.5,1909.7 L755.4,1910.9 L756.2,1912.2 L757.0,1913.5 L757.8,1914.7 L758.6,1916.0 L759.4,1917.2 L760.3,1918.5 L761.1,1919.7 L761.9,1921.0 L762.8,1922.2 L763.6,1923.5 L764.4,1924.7 L765.3,1925.9 L766.1,1927.2 L767.0,1928.4 L767.8,1929.7 L768.7,1930.9 L769.6,1932.1 L770.4,1933.4 L771.3,1934.6 L772.1,1935.8 L773.0,1937.0 L773.9,1938.2 L774.8,1939.5 L775.6,1940.7 L776.5,1941.9 L777.4,1943.1 L778.3,1944.3 L779.2,1945.5 L780.1,1946.7 L781.0,1947.9 L781.9,1949.1 L782.8,1950.3 L783.7,1951.5 L784.6,1952.7 L785.5,1953.9 L786.4,1955.1 L787.3,1956.3 L788.2,1957.5 L789.2,1958.7 L790.1,1959.8 L791.0,1961.0 L791.9,1962.2 L792.9,1963.4 L793.8,1964.5 L794.8,1965.7 L795.7,1966.9 L796.7,1968.0 L797.6,1969.2 L798.6,1970.3 L799.5,1971.5 L800.5,1972.6 L801.5,1973.8 L802.4,1974.9 L803.4,1976.1 L804.4,1977.2 L805.4,1978.4 L806.3,1979.5 L807.3,1980.6 L808.3,1981.7 L809.3,1982.9 L810.3,1984.0 L811.3,1985.1 L812.3,1986.2 L813.3,1987.3 L814.3,1988.4 L815.3,1989.5 L816.4,1990.6 L817.4,1991.7 L818.4,1992.8 L819.4,1993.9 L820.5,1995.0 L821.5,1996.1 L822.5,1997.2 L823.6,1998.3 L824.6,1999.3 L825.7,2000.4 L826.7,2001.5 L827.8,2002.5 L828.8,2003.6 L829.9,2004.7 L831.0,2005.7 L832.0,2006.8 L833.1,2007.8 L834.2,2008.9 L835.3,2009.9 L836.4,2010.9 L837.5,2012.0 L838.5,2013.0 L839.6,2014.0 L840.7,2015.0 L841.9,2016.0 L843.0,2017.1 L844.1,2018.1 L845.2,2019.1 L846.3,2020.1 L847.4,2021.1 L848.6,2022.1 L849.7,2023.0 L850.8,2024.0 L852.0,2025.0 L853.1,2026.0 L854.2,2026.9 L855.4,2027.9 L856.5,2028.9 L857.7,2029.8 L858.9,2030.8 L860.0,2031.7 L861.2,2032.7 L862.3,2033.6 L863.5,2034.6 L864.7,2035.5 L865.9,2036.4 L867.1,2037.3 L868.2,2038.3 L869.4,2039.2 L870.6,2040.1 L871.8,2041.0 L873.0,2041.9 L874.2,2042.8 L875.4,2043.7 L876.6,2044.6 L877.8,2045.5 L879.0,2046.4 L880.2,2047.3 L881.5,2048.1 L882.7,2049.0 L883.9,2049.9 L885.1,2050.8 L886.3,2051.6 L887.6,2052.5 L888.8,2053.3 L890.0,2054.2 L891.3,2055.0 L892.5,2055.9 L893.7,2056.7 L895.0,2057.6 L896.2,2058.4 L897.5,2059.3 L898.7,2060.1 L900.0,2060.9 L901.2,2061.8 L902.5,2062.6 L903.7,2063.4 L905.0,2064.2 L906.2,2065.0 L907.5,2065.8 L908.8,2066.7 L910.0,2067.5 L911.3,2068.3 L912.6,2069.1 L913.8,2069.9 L915.1,2070.7 L916.4,2071.5 L917.6,2072.3 L918.9,2073.0 L920.2,2073.8 L921.5,2074.6 L922.8,2075.4 L924.0,2076.2 L925.3,2077.0 L926.6,2077.7 L927.9,2078.5 L929.2,2079.3 L930.5,2080.0 L931.8,2080.8 L933.0,2081.6 L934.3,2082.3 L935.6,2083.1 L936.9,2083.8 L938.2,2084.6 L939.5,2085.4 L940.8,2086.1 L942.1,2086.9 L943.4,2087.6 L944.7,2088.4 L946.0,2089.1 L947.3,2089.8 L948.6,2090.6 L949.9,2091.3 L951.2,2092.1 L952.5,2092.8 L953.8,2093.5 L955.1,2094.3 L956.4,2095.0 L957.7,2095.7 L958.9,2096.4 L960.0,2097.0 L961.0,2097.5 L961.8,2098.0" fill="none" stroke="#220c2c" stroke-width="3.8" stroke-linejoin="round" stroke-linecap="butt" clip-path="url(#clipC)" />
<path d="M89.0,2170.6 L89.4,2169.8 L89.8,2168.8 L90.4,2167.7 L90.9,2166.5 L91.6,2165.2 L92.2,2163.9 L92.8,2162.5 L93.4,2161.2 L94.0,2159.8 L94.7,2158.4 L95.3,2157.1 L95.9,2155.7 L96.5,2154.3 L97.1,2152.9 L97.7,2151.6 L98.3,2150.2 L98.9,2148.8 L99.5,2147.5 L100.1,2146.1 L100.7,2144.7 L101.3,2143.3 L101.9,2141.9 L102.5,2140.5 L103.0,2139.2 L103.6,2137.8 L104.2,2136.4 L104.8,2135.0 L105.3,2133.6 L105.9,2132.2 L106.4,2130.8 L107.0,2129.4 L107.6,2128.0 L108.1,2126.7 L108.7,2125.3 L109.2,2123.9 L109.8,2122.5 L110.3,2121.1 L110.8,2119.7 L111.4,2118.3 L111.9,2116.9 L112.4,2115.5 L112.9,2114.1 L113.5,2112.6 L114.0,2111.2 L114.5,2109.8 L115.0,2108.4 L115.5,2107.0 L116.0,2105.6 L116.5,2104.2 L117.1,2102.8 L117.6,2101.4 L118.1,2099.9 L118.5,2098.5 L119.0,2097.1 L119.5,2095.7 L120.0,2094.3 L120.5,2092.9 L121.0,2091.4 L121.5,2090.0 L121.9,2088.6 L122.4,2087.2 L122.9,2085.7 L123.3,2084.3 L123.8,2082.9 L124.3,2081.5 L124.7,2080.0 L125.2,2078.6 L125.6,2077.2 L126.1,2075.8 L126.6,2074.3 L127.0,2072.9 L127.4,2071.5 L127.9,2070.0 L128.3,2068.6 L128.8,2067.2 L129.2,2065.7 L129.6,2064.3 L130.1,2062.8 L130.5,2061.4 L130.9,2060.0 L131.3,2058.5 L131.8,2057.1 L132.2,2055.6 L132.6,2054.2 L133.0,2052.8 L133.4,2051.3 L133.8,2049.9 L134.2,2048.4 L134.6,2047.0 L135.0,2045.5 L135.4,2044.1 L135.8,2042.7 L136.2,2041.2 L136.6,2039.8 L137.0,2038.3 L137.4,2036.9 L137.8,2035.4 L138.2,2034.0 L138.5,2032.5 L138.9,2031.1 L139.3,2029.6 L139.7,2028.2 L140.0,2026.7 L140.4,2025.2 L140.8,2023.8 L141.1,2022.3 L141.5,2020.9 L141.9,2019.4 L142.2,2018.0 L142.6,2016.5 L142.9,2015.1 L143.3,2013.6 L143.6,2012.1 L144.0,2010.7 L144.3,2009.2 L144.7,2007.8 L145.0,2006.3 L145.3,2004.8 L145.7,2003.4 L146.0,2001.9 L146.3,2000.4 L146.7,1999.0 L147.0,1997.5 L147.3,1996.1 L147.7,1994.6 L148.0,1993.1 L148.3,1991.7 L148.6,1990.2 L148.9,1988.7 L149.3,1987.3 L149.6,1985.8 L149.9,1984.3 L150.2,1982.9 L150.5,1981.4 L150.8,1979.9 L151.1,1978.5 L151.4,1977.0 L151.7,1975.5 L152.0,1974.1 L152.3,1972.6 L152.6,1971.1 L152.9,1969.6 L153.2,1968.2 L153.5,1966.7 L153.8,1965.2 L154.1,1963.8 L154.4,1962.3 L154.7,1960.8 L155.0,1959.3 L155.3,1957.9 L155.6,1956.4 L155.9,1954.9 L156.1,1953.5 L156.4,1952.0 L156.7,1950.5 L157.0,1949.0 L157.3,1947.6 L157.6,1946.1 L157.9,1944.6 L158.1,1943.2 L158.4,1941.7 L158.7,1940.2 L159.0,1938.7 L159.3,1937.3 L159.6,1935.8 L159.8,1934.3 L160.1,1932.8 L160.4,1931.4 L160.7,1929.9 L161.0,1928.4 L161.2,1926.9 L161.5,1925.5 L161.8,1924.0 L162.1,1922.5 L162.3,1921.0 L162.6,1919.6 L162.9,1918.1 L163.1,1916.6 L163.4,1915.1 L163.6,1913.7 L163.9,1912.2 L164.1,1910.7 L164.4,1909.2 L164.6,1907.7 L164.9,1906.3 L165.1,1904.8 L165.3,1903.3 L165.5,1901.8 L165.8,1900.3 L166.0,1898.8 L166.2,1897.4 L166.4,1895.9 L166.6,1894.4 L166.8,1892.9 L167.0,1891.4 L167.2,1889.9 L167.4,1888.4 L167.6,1887.0 L167.8,1885.5 L168.0,1884.0 L168.2,1882.5 L168.4,1881.0 L168.6,1879.5 L168.8,1878.0 L169.0,1876.6 L169.2,1875.1 L169.4,1873.6 L169.6,1872.1 L169.8,1870.6 L170.1,1869.1 L170.3,1867.6 L170.5,1866.2 L170.7,1864.7 L170.9,1863.2 L171.1,1861.7 L171.3,1860.2 L171.5,1858.7 L171.8,1857.2 L172.0,1855.8 L172.2,1854.3 L172.5,1852.8 L172.7,1851.3 L172.9,1849.8 L173.2,1848.4 L173.4,1846.9 L173.7,1845.4 L174.0,1843.9 L174.3,1842.5 L174.6,1841.0 L174.9,1839.5 L175.3,1838.1 L175.6,1836.6 L176.1,1835.3 L176.5,1833.9 L177.1,1832.7 L177.7,1831.7 L178.4,1831.0 L179.2,1830.7 L180.0,1830.7 L180.8,1831.1 L181.5,1831.9 L182.1,1833.0 L182.7,1834.2 L183.2,1835.5 L183.6,1836.9 L184.0,1838.4 L184.4,1839.8 L184.7,1841.3 L185.0,1842.7 L185.4,1844.2 L185.7,1845.7 L185.9,1847.1 L186.2,1848.6 L186.5,1850.1 L186.7,1851.6 L187.0,1853.1 L187.2,1854.5 L187.4,1856.0 L187.7,1857.5 L187.9,1859.0 L188.1,1860.5 L188.3,1862.0 L188.5,1863.4 L188.7,1864.9 L188.9,1866.4 L189.1,1867.9 L189.3,1869.4 L189.4,1870.9 L189.6,1872.4 L189.8,1873.9 L189.9,1875.4 L190.1,1876.9 L190.2,1878.3 L190.4,1879.8 L190.5,1881.3 L190.6,1882.8 L190.8,1884.3 L190.9,1885.8 L191.0,1887.3 L191.1,1888.8 L191.2,1890.3 L191.3,1891.8 L191.4,1893.3 L191.5,1894.8 L191.6,1896.3 L191.7,1897.8 L191.8,1899.3 L191.9,1900.8 L192.0,1902.3 L192.1,1903.8 L192.2,1905.3 L192.3,1906.8 L192.4,1908.3 L192.4,1909.8 L192.5,1911.3 L192.6,1912.8 L192.7,1914.3 L192.9,1915.7 L193.0,1917.2 L193.1,1918.7 L193.2,1920.2 L193.3,1921.7 L193.5,1923.2 L193.6,1924.7 L193.7,1926.2 L193.9,1927.7 L194.0,1929.2 L194.2,1930.7 L194.3,1932.2 L194.5,1933.7 L194.6,1935.2 L194.8,1936.7 L195.0,1938.1 L195.1,1939.6 L195.3,1941.1 L195.5,1942.6 L195.6,1944.1 L195.8,1945.6 L196.0,1947.1 L196.2,1948.6 L196.4,1950.1 L196.5,1951.6 L196.7,1953.0 L196.9,1954.5 L197.1,1956.0 L197.3,1957.5 L197.5,1959.0 L197.7,1960.5 L197.9,1962.0 L198.0,1963.5 L198.2,1964.9 L198.4,1966.4 L198.6,1967.9 L198.8,1969.4 L199.0,1970.9 L199.2,1972.4 L199.4,1973.9 L199.6,1975.4 L199.7,1976.9 L199.9,1978.3 L200.1,1979.8 L200.3,1981.3 L200.5,1982.8 L200.7,1984.3 L200.8,1985.8 L201.0,1987.3 L201.2,1988.8 L201.4,1990.3 L201.6,1991.7 L201.7,1993.2 L201.9,1994.7 L202.1,1996.2 L202.2,1997.7 L202.4,1999.2 L202.5,2000.7 L202.7,2002.2 L202.8,2003.7 L203.0,2005.2 L203.1,2006.7 L203.3,2008.2 L203.4,2009.6 L203.6,2011.1 L203.7,2012.6 L203.8,2014.1 L203.9,2015.6 L204.1,2017.1 L204.2,2018.6 L204.3,2020.1 L204.4,2021.6 L204.5,2023.1 L204.6,2024.6 L204.7,2026.1 L204.8,2027.6 L204.8,2029.1 L204.9,2030.6 L205.0,2032.1 L205.1,2033.6 L205.1,2035.1 L205.2,2036.6 L205.2,2038.1 L205.3,2039.6 L205.3,2041.1 L205.4,2042.6 L205.4,2044.1 L205.4,2045.6 L205.5,2047.1 L205.5,2048.6 L205.5,2050.1 L205.5,2051.6 L205.6,2053.1 L205.6,2054.6 L205.6,2056.1 L205.7,2057.6 L205.7,2059.1 L205.7,2060.6 L205.8,2062.1 L205.8,2063.6 L205.8,2065.1 L205.9,2066.6 L205.9,2068.1 L206.0,2069.6 L206.1,2071.1 L206.1,2072.6 L206.2,2074.1 L206.3,2075.6 L206.4,2077.1 L206.5,2078.6 L206.6,2080.1 L206.7,2081.5 L206.9,2083.0 L207.0,2084.5 L207.2,2086.0 L207.3,2087.5 L207.5,2089.0 L207.7,2090.5 L207.9,2092.0 L208.2,2093.5 L208.4,2094.9 L208.6,2096.4 L208.9,2097.9 L209.2,2099.4 L209.5,2100.8 L209.8,2102.3 L210.2,2103.8 L210.5,2105.2 L210.9,2106.7 L211.3,2108.1 L211.7,2109.6 L212.1,2111.0 L212.6,2112.4 L213.1,2113.8 L213.6,2115.2 L214.1,2116.7 L214.6,2118.0 L215.2,2119.4 L215.8,2120.8 L216.4,2122.2 L217.0,2123.5 L217.7,2124.9 L218.4,2126.2 L219.1,2127.5 L219.8,2128.9 L220.6,2130.1 L221.3,2131.4 L222.1,2132.7 L222.9,2134.0 L223.8,2135.2 L224.6,2136.4 L225.5,2137.6 L226.4,2138.8 L227.4,2140.0 L228.3,2141.2 L229.3,2142.3 L230.3,2143.4 L231.3,2144.5 L232.4,2145.6 L233.5,2146.6 L234.6,2147.6 L235.7,2148.5 L236.9,2149.4 L238.1,2150.3 L239.4,2151.0 L240.7,2151.7 L242.0,2152.3 L243.4,2152.8 L244.8,2153.1 L246.2,2153.3 L247.7,2153.3 L249.1,2153.1 L250.5,2152.8 L251.8,2152.3 L253.1,2151.7 L254.4,2150.9 L255.6,2150.1 L256.7,2149.1 L257.8,2148.1 L258.8,2147.0 L259.7,2145.9 L260.7,2144.7 L261.6,2143.5 L262.4,2142.3 L263.2,2141.0 L264.0,2139.8 L264.8,2138.5 L265.6,2137.2 L266.3,2135.9 L267.0,2134.6 L267.7,2133.2 L268.4,2131.9 L269.1,2130.6 L269.7,2129.2 L270.4,2127.9 L271.0,2126.5 L271.6,2125.1 L272.3,2123.8 L272.9,2122.4 L273.5,2121.0 L274.1,2119.7 L274.7,2118.3 L275.3,2116.9 L275.9,2115.6 L276.5,2114.2 L277.1,2112.8 L277.7,2111.4 L278.3,2110.1 L278.9,2108.7 L279.5,2107.3 L280.1,2105.9 L280.7,2104.6 L281.3,2103.2 L281.9,2101.8 L282.5,2100.4 L283.1,2099.0 L283.7,2097.7 L284.3,2096.3 L284.9,2094.9 L285.4,2093.5 L286.0,2092.1 L286.6,2090.8 L287.2,2089.4 L287.8,2088.0 L288.4,2086.6 L288.9,2085.2 L289.5,2083.8 L290.1,2082.5 L290.7,2081.1 L291.2,2079.7 L291.8,2078.3 L292.4,2076.9 L292.9,2075.5 L293.5,2074.1 L294.1,2072.7 L294.6,2071.4 L295.2,2070.0 L295.8,2068.6 L296.3,2067.2 L296.9,2065.8 L297.4,2064.4 L298.0,2063.0 L298.5,2061.6 L299.1,2060.2 L299.6,2058.8 L300.1,2057.4 L300.7,2056.0 L301.2,2054.6 L301.7,2053.2 L302.3,2051.8 L302.8,2050.4 L303.3,2049.0 L303.9,2047.6 L304.4,2046.2 L304.9,2044.8 L305.4,2043.4 L305.9,2042.0 L306.4,2040.5 L306.9,2039.1 L307.4,2037.7 L307.9,2036.3 L308.4,2034.9 L308.9,2033.5 L309.4,2032.1 L309.9,2030.6 L310.4,2029.2 L310.9,2027.8 L311.4,2026.4 L311.8,2025.0 L312.3,2023.5 L312.8,2022.1 L313.3,2020.7 L313.7,2019.3 L314.2,2017.8 L314.6,2016.4 L315.1,2015.0 L315.5,2013.5 L316.0,2012.1 L316.4,2010.7 L316.9,2009.2 L317.3,2007.8 L317.8,2006.4 L318.2,2004.9 L318.6,2003.5 L319.1,2002.1 L319.5,2000.6 L319.9,1999.2 L320.3,1997.8 L320.8,1996.3 L321.2,1994.9 L321.6,1993.4 L322.0,1992.0 L322.4,1990.5 L322.8,1989.1 L323.2,1987.7 L323.6,1986.2 L324.0,1984.8 L324.4,1983.3 L324.8,1981.9 L325.2,1980.4 L325.6,1979.0 L326.0,1977.5 L326.4,1976.1 L326.8,1974.6 L327.2,1973.2 L327.6,1971.7 L327.9,1970.3 L328.3,1968.8 L328.7,1967.4 L329.1,1965.9 L329.5,1964.5 L329.8,1963.0 L330.2,1961.6 L330.6,1960.1 L330.9,1958.7 L331.3,1957.2 L331.7,1955.8 L332.0,1954.3 L332.4,1952.8 L332.7,1951.4 L333.1,1949.9 L333.5,1948.5 L333.8,1947.0 L334.2,1945.6 L334.5,1944.1 L334.9,1942.6 L335.2,1941.2 L335.6,1939.7 L335.9,1938.3 L336.3,1936.8 L336.6,1935.3 L336.9,1933.9 L337.3,1932.4 L337.6,1931.0 L338.0,1929.5 L338.3,1928.0 L338.6,1926.6 L339.0,1925.1 L339.3,1923.7 L339.6,1922.2 L340.0,1920.7 L340.3,1919.3 L340.6,1917.8 L341.0,1916.3 L341.3,1914.9 L341.6,1913.4 L341.9,1911.9 L342.3,1910.5 L342.6,1909.0 L342.9,1907.6 L343.2,1906.1 L343.6,1904.6 L343.9,1903.2 L344.2,1901.7 L344.5,1900.2 L344.8,1898.8 L345.1,1897.3 L345.5,1895.8 L345.8,1894.4 L346.1,1892.9 L346.4,1891.4 L346.7,1890.0 L347.0,1888.5 L347.3,1887.0 L347.7,1885.6 L348.0,1884.1 L348.3,1882.6 L348.6,1881.2 L348.9,1879.7 L349.2,1878.2 L349.5,1876.8 L349.8,1875.3 L350.1,1873.8 L350.4,1872.3 L350.7,1870.9 L351.0,1869.4 L351.3,1867.9 L351.7,1866.5 L352.0,1865.0 L352.3,1863.5 L352.6,1862.1 L352.9,1860.6 L353.2,1859.1 L353.5,1857.7 L353.8,1856.2 L354.1,1854.7 L354.4,1853.2 L354.7,1851.8 L355.0,1850.3 L355.3,1848.8 L355.6,1847.4 L355.9,1845.9 L356.2,1844.4 L356.5,1843.0 L356.8,1841.5 L357.1,1840.0 L357.4,1838.6 L357.7,1837.1 L358.0,1835.6 L358.3,1834.1 L358.6,1832.7 L358.9,1831.2 L359.2,1829.7 L359.5,1828.3 L359.8,1826.8 L360.1,1825.3 L360.4,1823.9 L360.7,1822.4 L361.0,1820.9 L361.3,1819.4 L361.6,1818.0 L361.9,1816.5 L362.2,1815.0 L362.5,1813.6 L362.8,1812.1 L363.1,1810.6 L363.4,1809.2 L363.7,1807.7 L364.0,1806.2 L364.3,1804.8 L364.6,1803.3 L364.9,1801.8 L365.2,1800.4 L365.5,1798.9 L365.9,1797.4 L366.2,1795.9 L366.5,1794.5 L366.7,1793.0 L367.0,1791.5 L367.3,1790.1 L367.6,1788.6 L367.9,1787.1 L368.2,1785.7 L368.5,1784.2 L368.8,1782.7 L369.1,1781.2 L369.4,1779.8 L369.6,1778.3 L369.9,1776.8 L370.2,1775.3 L370.4,1773.9 L370.7,1772.4 L371.0,1770.9 L371.2,1769.4 L371.5,1768.0 L371.8,1766.5 L372.0,1765.0 L372.3,1763.5 L372.5,1762.0 L372.8,1760.6 L373.0,1759.1 L373.3,1757.6 L373.6,1756.1 L373.8,1754.7 L374.1,1753.2 L374.3,1751.7 L374.6,1750.2 L374.8,1748.7 L375.1,1747.3 L375.4,1745.8 L375.6,1744.3 L375.9,1742.8 L376.2,1741.4 L376.4,1739.9 L376.7,1738.4 L377.0,1736.9 L377.3,1735.5 L377.6,1734.0 L377.9,1732.5 L378.2,1731.1 L378.5,1729.6 L378.8,1728.1 L379.2,1726.7 L379.5,1725.2 L379.9,1723.8 L380.3,1722.3 L380.7,1720.9 L381.2,1719.5 L381.7,1718.1 L382.2,1716.8 L382.9,1715.7 L383.6,1714.8 L384.5,1714.2 L385.3,1714.0 L386.2,1714.1 L387.0,1714.6 L387.8,1715.5 L388.4,1716.5 L389.1,1717.8 L389.6,1719.1 L390.1,1720.5 L390.5,1721.9 L390.9,1723.4 L391.3,1724.8 L391.7,1726.3 L392.0,1727.7 L392.4,1729.2 L392.7,1730.6 L393.0,1732.1 L393.3,1733.6 L393.6,1735.0 L393.9,1736.5 L394.2,1738.0 L394.5,1739.5 L394.7,1740.9 L395.0,1742.4 L395.3,1743.9 L395.5,1745.4 L395.8,1746.8 L396.0,1748.3 L396.3,1749.8 L396.5,1751.3 L396.8,1752.8 L397.0,1754.2 L397.3,1755.7 L397.5,1757.2 L397.7,1758.7 L398.0,1760.2 L398.2,1761.6 L398.4,1763.1 L398.7,1764.6 L398.9,1766.1 L399.1,1767.6 L399.4,1769.1 L399.6,1770.5 L399.8,1772.0 L400.1,1773.5 L400.3,1775.0 L400.5,1776.5 L400.8,1777.9 L401.0,1779.4 L401.2,1780.9 L401.5,1782.4 L401.7,1783.9 L402.0,1785.4 L402.2,1786.8 L402.4,1788.3 L402.7,1789.8 L402.9,1791.3 L403.2,1792.8 L403.4,1794.2 L403.7,1795.7 L404.0,1797.2 L404.2,1798.7 L404.5,1800.1 L404.8,1801.6 L405.1,1803.1 L405.3,1804.6 L405.6,1806.0 L405.9,1807.5 L406.2,1809.0 L406.5,1810.4 L406.8,1811.9 L407.0,1813.4 L407.3,1814.9 L407.6,1816.3 L407.9,1817.8 L408.2,1819.3 L408.4,1820.8 L408.7,1822.2 L409.0,1823.7 L409.2,1825.2 L409.5,1826.7 L409.7,1828.2 L410.0,1829.6 L410.2,1831.1 L410.4,1832.6 L410.7,1834.1 L410.9,1835.6 L411.1,1837.0 L411.3,1838.5 L411.5,1840.0 L411.8,1841.5 L412.0,1843.0 L412.2,1844.5 L412.4,1846.0 L412.6,1847.4 L412.8,1848.9 L413.0,1850.4 L413.3,1851.9 L413.5,1853.4 L413.7,1854.9 L413.9,1856.3 L414.1,1857.8 L414.4,1859.3 L414.6,1860.8 L414.8,1862.3 L415.1,1863.7 L415.3,1865.2 L415.6,1866.7 L415.8,1868.2 L416.1,1869.7 L416.4,1871.1 L416.6,1872.6 L416.9,1874.1 L417.2,1875.6 L417.5,1877.0 L417.7,1878.5 L418.0,1880.0 L418.3,1881.5 L418.6,1882.9 L418.9,1884.4 L419.2,1885.9 L419.5,1887.3 L419.8,1888.8 L420.2,1890.3 L420.5,1891.7 L420.8,1893.2 L421.1,1894.7 L421.5,1896.1 L421.8,1897.6 L422.1,1899.0 L422.5,1900.5 L422.8,1902.0 L423.2,1903.4 L423.5,1904.9 L423.9,1906.3 L424.3,1907.8 L424.6,1909.2 L425.0,1910.7 L425.4,1912.1 L425.8,1913.6 L426.2,1915.0 L426.5,1916.5 L426.9,1917.9 L427.3,1919.4 L427.7,1920.8 L428.1,1922.3 L428.6,1923.7 L429.0,1925.2 L429.4,1926.6 L429.8,1928.0 L430.2,1929.5 L430.7,1930.9 L431.1,1932.3 L431.6,1933.8 L432.0,1935.2 L432.4,1936.6 L432.9,1938.1 L433.4,1939.5 L433.8,1940.9 L434.3,1942.4 L434.8,1943.8 L435.2,1945.2 L435.7,1946.6 L436.2,1948.0 L436.7,1949.5 L437.2,1950.9 L437.7,1952.3 L438.2,1953.7 L438.7,1955.1 L439.2,1956.5 L439.7,1957.9 L440.2,1959.3 L440.8,1960.7 L441.3,1962.2 L441.8,1963.6 L442.4,1965.0 L442.9,1966.3 L443.5,1967.7 L444.0,1969.1 L444.6,1970.5 L445.1,1971.9 L445.7,1973.3 L446.3,1974.7 L446.9,1976.1 L447.5,1977.5 L448.1,1978.8 L448.6,1980.2 L449.3,1981.6 L449.9,1983.0 L450.5,1984.3 L451.1,1985.7 L451.7,1987.0 L452.4,1988.4 L453.0,1989.8 L453.7,1991.1 L454.3,1992.4 L455.0,1993.8 L455.7,1995.1 L456.4,1996.4 L457.1,1997.8 L457.9,1999.1 L458.6,2000.4 L459.4,2001.7 L460.1,2002.9 L460.9,2004.2 L461.7,2005.5 L462.6,2006.7 L463.4,2008.0 L464.2,2009.2 L465.1,2010.4 L466.0,2011.6 L466.9,2012.8 L467.8,2014.0 L468.8,2015.2 L469.7,2016.3 L470.7,2017.5 L471.7,2018.6 L472.7,2019.7 L473.7,2020.8 L474.7,2021.9 L475.8,2023.0 L476.9,2024.0 L477.9,2025.1 L479.0,2026.1 L480.1,2027.1 L481.3,2028.1 L482.4,2029.1 L483.5,2030.0 L484.7,2031.0 L485.9,2031.9 L487.1,2032.8 L488.3,2033.7 L489.5,2034.6 L490.7,2035.5 L491.9,2036.3 L493.2,2037.2 L494.4,2038.0 L495.7,2038.7 L497.0,2039.5 L498.3,2040.3 L499.6,2041.0 L501.0,2041.7 L502.3,2042.3 L503.6,2043.0 L505.0,2043.6 L506.4,2044.2 L507.8,2044.7 L509.2,2045.2 L510.6,2045.7 L512.0,2046.1 L513.5,2046.5 L514.9,2046.9 L516.4,2047.1 L517.9,2047.4 L519.4,2047.6 L520.8,2047.7 L522.3,2047.7 L523.8,2047.7 L525.3,2047.6 L526.8,2047.4 L528.2,2047.1 L529.7,2046.8 L531.1,2046.3 L532.5,2045.8 L533.9,2045.3 L535.2,2044.6 L536.5,2043.9 L537.8,2043.1 L539.0,2042.3 L540.2,2041.4 L541.4,2040.5 L542.6,2039.6 L543.7,2038.6 L544.8,2037.5 L545.8,2036.5 L546.8,2035.4 L547.8,2034.3 L548.8,2033.1 L549.7,2031.9 L550.7,2030.8 L551.6,2029.6 L552.4,2028.4 L553.3,2027.1 L554.1,2025.9 L555.0,2024.6 L555.8,2023.4 L556.6,2022.1 L557.3,2020.8 L558.1,2019.5 L558.9,2018.2 L559.6,2016.9 L560.3,2015.6 L561.0,2014.3 L561.8,2013.0 L562.4,2011.7 L563.1,2010.3 L563.8,2009.0 L564.5,2007.6 L565.2,2006.3 L565.8,2004.9 L566.5,2003.6 L567.1,2002.2 L567.7,2000.9 L568.4,1999.5 L569.0,1998.1 L569.6,1996.8 L570.2,1995.4 L570.8,1994.0 L571.3,1992.6 L571.9,1991.3 L572.5,1989.9 L573.0,1988.5 L573.6,1987.1 L574.1,1985.7 L574.7,1984.3 L575.2,1982.9 L575.7,1981.5 L576.2,1980.1 L576.7,1978.6 L577.2,1977.2 L577.7,1975.8 L578.2,1974.4 L578.7,1973.0 L579.2,1971.5 L579.6,1970.1 L580.1,1968.7 L580.5,1967.3 L580.9,1965.8 L581.4,1964.4 L581.8,1962.9 L582.2,1961.5 L582.6,1960.1 L583.0,1958.6 L583.4,1957.2 L583.8,1955.7 L584.2,1954.3 L584.6,1952.8 L585.0,1951.4 L585.3,1949.9 L585.7,1948.5 L586.0,1947.0 L586.4,1945.5 L586.7,1944.1 L587.0,1942.6 L587.4,1941.2 L587.7,1939.7 L588.0,1938.2 L588.3,1936.8 L588.6,1935.3 L588.9,1933.8 L589.2,1932.3 L589.5,1930.9 L589.8,1929.4 L590.1,1927.9 L590.4,1926.5 L590.6,1925.0 L590.9,1923.5 L591.2,1922.0 L591.4,1920.5 L591.7,1919.1 L591.9,1917.6 L592.2,1916.1 L592.4,1914.6 L592.6,1913.1 L592.9,1911.7 L593.1,1910.2 L593.3,1908.7 L593.5,1907.2 L593.7,1905.7 L594.0,1904.2 L594.2,1902.8 L594.4,1901.3 L594.6,1899.8 L594.8,1898.3 L595.0,1896.8 L595.2,1895.3 L595.3,1893.8 L595.5,1892.3 L595.7,1890.9 L595.9,1889.4 L596.1,1887.9 L596.3,1886.4 L596.4,1884.9 L596.6,1883.4 L596.8,1881.9 L596.9,1880.4 L597.1,1878.9 L597.3,1877.4 L597.4,1876.0 L597.6,1874.5 L597.7,1873.0 L597.9,1871.5 L598.1,1870.0 L598.2,1868.5 L598.4,1867.0 L598.5,1865.5 L598.7,1864.0 L598.8,1862.5 L599.0,1861.0 L599.1,1859.5 L599.3,1858.1 L599.4,1856.6 L599.5,1855.1 L599.7,1853.6 L599.8,1852.1 L600.0,1850.6 L600.1,1849.1 L600.3,1847.6 L600.4,1846.1 L600.6,1844.6 L600.7,1843.1 L600.9,1841.6 L601.0,1840.1 L601.1,1838.6 L601.3,1837.2 L601.4,1835.7 L601.6,1834.2 L601.7,1832.7 L601.9,1831.2 L602.0,1829.7 L602.2,1828.2 L602.3,1826.7 L602.5,1825.2 L602.7,1823.7 L602.8,1822.2 L603.0,1820.7 L603.1,1819.2 L603.3,1817.8 L603.5,1816.3 L603.6,1814.8 L603.8,1813.3 L604.0,1811.8 L604.1,1810.3 L604.3,1808.8 L604.5,1807.3 L604.7,1805.8 L604.9,1804.3 L605.0,1802.9 L605.2,1801.4 L605.4,1799.9 L605.6,1798.4 L605.8,1796.9 L606.0,1795.4 L606.2,1793.9 L606.4,1792.4 L606.6,1791.0 L606.9,1789.5 L607.1,1788.0 L607.3,1786.5 L607.5,1785.0 L607.8,1783.5 L608.0,1782.1 L608.2,1780.6 L608.5,1779.1 L608.7,1777.6 L609.0,1776.1 L609.2,1774.7 L609.5,1773.2 L609.7,1771.7 L610.0,1770.2 L610.3,1768.8 L610.6,1767.3 L610.8,1765.8 L611.1,1764.3 L611.4,1762.9 L611.7,1761.4 L612.0,1759.9 L612.3,1758.5 L612.6,1757.0 L612.9,1755.5 L613.2,1754.1 L613.6,1752.6 L613.9,1751.1 L614.2,1749.7 L614.5,1748.2 L614.9,1746.7 L615.2,1745.3 L615.5,1743.8 L615.9,1742.4 L616.2,1740.9 L616.6,1739.4 L616.9,1738.0 L617.3,1736.5 L617.6,1735.1 L618.0,1733.6 L618.3,1732.1 L618.7,1730.7 L619.1,1729.2 L619.5,1727.8 L619.8,1726.3 L620.2,1724.9 L620.6,1723.4 L621.0,1722.0 L621.3,1720.5 L621.7,1719.1 L622.1,1717.6 L622.5,1716.2 L622.9,1714.7 L623.3,1713.3 L623.7,1711.8 L624.1,1710.4 L624.5,1708.9 L624.9,1707.5 L625.3,1706.1 L625.7,1704.6 L626.1,1703.2 L626.5,1701.7 L626.9,1700.3 L627.3,1698.8 L627.7,1697.4 L628.1,1695.9 L628.5,1694.5 L629.0,1693.1 L629.4,1691.6 L629.8,1690.2 L630.2,1688.7 L630.6,1687.3 L631.0,1685.9 L631.5,1684.4 L631.9,1683.0 L632.3,1681.5 L632.7,1680.1 L633.1,1678.7 L633.6,1677.2 L634.0,1675.8 L634.4,1674.4 L634.9,1672.9 L635.3,1671.5 L635.8,1670.1 L636.3,1668.7 L636.9,1667.3 L637.5,1665.9 L638.1,1664.7 L638.9,1663.5 L639.7,1662.6 L640.7,1661.8 L641.7,1661.4 L642.8,1661.3 L643.9,1661.5 L645.0,1662.0 L646.0,1662.8 L646.9,1663.8 L647.8,1665.0 L648.7,1666.2 L649.4,1667.4 L650.2,1668.7 L650.9,1670.0 L651.6,1671.4 L652.2,1672.7 L652.9,1674.1 L653.5,1675.5 L654.1,1676.8 L654.7,1678.2 L655.3,1679.6 L655.8,1681.0 L656.4,1682.4 L656.9,1683.8 L657.5,1685.2 L658.0,1686.6 L658.5,1688.0 L659.0,1689.4 L659.5,1690.8 L660.0,1692.2 L660.5,1693.6 L660.9,1695.1 L661.4,1696.5 L661.8,1697.9 L662.3,1699.4 L662.7,1700.8 L663.1,1702.2 L663.6,1703.7 L664.0,1705.1 L664.4,1706.6 L664.8,1708.0 L665.2,1709.4 L665.6,1710.9 L666.0,1712.3 L666.4,1713.8 L666.7,1715.2 L667.1,1716.7 L667.5,1718.1 L667.9,1719.6 L668.2,1721.1 L668.6,1722.5 L669.0,1724.0 L669.3,1725.4 L669.7,1726.9 L670.1,1728.3 L670.4,1729.8 L670.8,1731.2 L671.2,1732.7 L671.5,1734.1 L671.9,1735.6 L672.3,1737.0 L672.7,1738.5 L673.1,1740.0 L673.4,1741.4 L673.8,1742.8 L674.2,1744.3 L674.6,1745.7 L675.0,1747.2 L675.4,1748.6 L675.8,1750.1 L676.2,1751.5 L676.7,1753.0 L677.1,1754.4 L677.5,1755.8 L677.9,1757.3 L678.4,1758.7 L678.8,1760.1 L679.3,1761.6 L679.7,1763.0 L680.2,1764.4 L680.6,1765.9 L681.1,1767.3 L681.5,1768.7 L682.0,1770.2 L682.5,1771.6 L682.9,1773.0 L683.4,1774.4 L683.9,1775.8 L684.4,1777.3 L684.9,1778.7 L685.4,1780.1 L685.9,1781.5 L686.4,1782.9 L686.9,1784.3 L687.4,1785.7 L687.9,1787.1 L688.4,1788.6 L689.0,1790.0 L689.5,1791.4 L690.0,1792.8 L690.6,1794.2 L691.1,1795.6 L691.6,1797.0 L692.2,1798.4 L692.7,1799.8 L693.3,1801.2 L693.8,1802.5 L694.4,1803.9 L695.0,1805.3 L695.5,1806.7 L696.1,1808.1 L696.7,1809.5 L697.3,1810.9 L697.8,1812.2 L698.4,1813.6 L699.0,1815.0 L699.6,1816.4 L700.2,1817.8 L700.8,1819.1 L701.4,1820.5 L702.0,1821.9 L702.6,1823.3 L703.3,1824.6 L703.9,1826.0 L704.5,1827.4 L705.1,1828.7 L705.7,1830.1 L706.4,1831.4 L707.0,1832.8 L707.6,1834.2 L708.3,1835.5 L708.9,1836.9 L709.6,1838.2 L710.2,1839.6 L710.9,1840.9 L711.5,1842.3 L712.2,1843.6 L712.9,1845.0 L713.5,1846.3 L714.2,1847.7 L714.9,1849.0 L715.5,1850.3 L716.2,1851.7 L716.9,1853.0 L717.6,1854.3 L718.3,1855.7 L719.0,1857.0 L719.7,1858.3 L720.3,1859.7 L721.0,1861.0 L721.7,1862.3 L722.5,1863.6 L723.2,1865.0 L723.9,1866.3 L724.6,1867.6 L725.3,1868.9 L726.0,1870.2 L726.7,1871.6 L727.5,1872.9 L728.2,1874.2 L728.9,1875.5 L729.7,1876.8 L730.4,1878.1 L731.1,1879.4 L731.9,1880.7 L732.6,1882.0 L733.4,1883.3 L734.1,1884.6 L734.9,1885.9 L735.6,1887.2 L736.4,1888.5 L737.1,1889.8 L737.9,1891.1 L738.6,1892.4 L739.4,1893.7 L740.2,1895.0 L741.0,1896.3 L741.7,1897.5 L742.5,1898.8 L743.3,1900.1 L744.1,1901.4 L744.9,1902.7 L745.6,1903.9 L746.4,1905.2 L747.2,1906.5 L748.0,1907.8 L748.8,1909.0 L749.6,1910.3 L750.4,1911.6 L751.2,1912.8 L752.1,1914.1 L752.9,1915.3 L753.7,1916.6 L754.5,1917.9 L755.3,1919.1 L756.2,1920.4 L757.0,1921.6 L757.8,1922.9 L758.6,1924.1 L759.5,1925.4 L760.3,1926.6 L761.2,1927.8 L762.0,1929.1 L762.9,1930.3 L763.7,1931.5 L764.6,1932.8 L765.4,1934.0 L766.3,1935.2 L767.2,1936.5 L768.0,1937.7 L768.9,1938.9 L769.8,1940.1 L770.6,1941.3 L771.5,1942.6 L772.4,1943.8 L773.3,1945.0 L774.2,1946.2 L775.1,1947.4 L776.0,1948.6 L776.9,1949.8 L777.8,1951.0 L778.7,1952.2 L779.6,1953.4 L780.5,1954.6 L781.4,1955.8 L782.3,1957.0 L783.2,1958.1 L784.2,1959.3 L785.1,1960.5 L786.0,1961.7 L787.0,1962.9 L787.9,1964.0 L788.8,1965.2 L789.8,1966.4 L790.7,1967.5 L791.7,1968.7 L792.6,1969.8 L793.6,1971.0 L794.6,1972.1 L795.5,1973.3 L796.5,1974.4 L797.5,1975.6 L798.4,1976.7 L799.4,1977.9 L800.4,1979.0 L801.4,1980.1 L802.4,1981.3 L803.4,1982.4 L804.3,1983.5 L805.3,1984.6 L806.3,1985.7 L807.4,1986.9 L808.4,1988.0 L809.4,1989.1 L810.4,1990.2 L811.4,1991.3 L812.4,1992.4 L813.5,1993.5 L814.5,1994.6 L815.5,1995.6 L816.6,1996.7 L817.6,1997.8 L818.6,1998.9 L819.7,2000.0 L820.7,2001.0 L821.8,2002.1 L822.8,2003.2 L823.9,2004.2 L825.0,2005.3 L826.0,2006.3 L827.1,2007.4 L828.2,2008.4 L829.3,2009.5 L830.3,2010.5 L831.4,2011.5 L832.5,2012.6 L833.6,2013.6 L834.7,2014.6 L835.8,2015.6 L836.9,2016.7 L838.0,2017.7 L839.1,2018.7 L840.2,2019.7 L841.4,2020.7 L842.5,2021.7 L843.6,2022.7 L844.7,2023.7 L845.9,2024.6 L847.0,2025.6 L848.1,2026.6 L849.3,2027.6 L850.4,2028.5 L851.6,2029.5 L852.7,2030.5 L853.9,2031.4 L855.1,2032.4 L856.2,2033.3 L857.4,2034.3 L858.6,2035.2 L859.7,2036.1 L860.9,2037.1 L862.1,2038.0 L863.3,2038.9 L864.4,2039.8 L865.6,2040.8 L866.8,2041.7 L868.0,2042.6 L869.2,2043.5 L870.4,2044.4 L871.6,2045.3 L872.8,2046.2 L874.0,2047.1 L875.2,2048.0 L876.4,2048.8 L877.7,2049.7 L878.9,2050.6 L880.1,2051.5 L881.3,2052.4 L882.5,2053.2 L883.8,2054.1 L885.0,2055.0 L886.2,2055.8 L887.4,2056.7 L888.7,2057.5 L889.9,2058.4 L891.1,2059.2 L892.4,2060.1 L893.6,2060.9 L894.9,2061.8 L896.1,2062.6 L897.4,2063.4 L898.6,2064.3 L899.8,2065.1 L901.1,2065.9 L902.3,2066.8 L903.6,2067.6 L904.9,2068.4 L906.1,2069.2 L907.4,2070.0 L908.6,2070.9 L909.9,2071.7 L911.2,2072.5 L912.4,2073.3 L913.7,2074.1 L914.9,2074.9 L916.2,2075.7 L917.5,2076.5 L918.7,2077.3 L920.0,2078.1 L921.3,2078.9 L922.6,2079.7 L923.8,2080.5 L925.1,2081.3 L926.4,2082.1 L927.7,2082.9 L928.9,2083.6 L930.2,2084.4 L931.5,2085.2 L932.8,2086.0 L934.0,2086.8 L935.3,2087.6 L936.6,2088.4 L937.9,2089.1 L939.2,2089.9 L940.5,2090.7 L941.7,2091.5 L943.0,2092.2 L944.3,2093.0 L945.6,2093.8 L946.9,2094.6 L948.2,2095.3 L949.4,2096.1 L950.7,2096.9 L952.0,2097.7 L953.3,2098.4 L954.6,2099.2 L955.9,2100.0 L957.1,2100.7 L958.3,2101.4 L959.4,2102.1 L960.5,2102.7 L961.3,2103.2" fill="none" stroke="#4a78c4" stroke-width="3.8" stroke-linejoin="round" stroke-linecap="butt" clip-path="url(#clipC)" />
<path d="M89.0,2172.4 L89.4,2171.6 L89.9,2170.6 L90.4,2169.5 L91.0,2168.3 L91.7,2167.0 L92.3,2165.7 L93.0,2164.4 L93.6,2163.0 L94.3,2161.7 L94.9,2160.3 L95.6,2159.0 L96.2,2157.6 L96.9,2156.3 L97.5,2154.9 L98.1,2153.6 L98.8,2152.2 L99.4,2150.8 L100.0,2149.5 L100.7,2148.1 L101.3,2146.8 L101.9,2145.4 L102.5,2144.0 L103.1,2142.7 L103.8,2141.3 L104.4,2139.9 L105.0,2138.5 L105.6,2137.2 L106.2,2135.8 L106.8,2134.4 L107.4,2133.0 L108.0,2131.7 L108.6,2130.3 L109.1,2128.9 L109.7,2127.5 L110.3,2126.1 L110.9,2124.8 L111.5,2123.4 L112.0,2122.0 L112.6,2120.6 L113.2,2119.2 L113.8,2117.8 L114.3,2116.4 L114.9,2115.0 L115.4,2113.7 L116.0,2112.3 L116.5,2110.9 L117.1,2109.5 L117.6,2108.1 L118.2,2106.7 L118.7,2105.3 L119.3,2103.9 L119.8,2102.5 L120.3,2101.1 L120.9,2099.7 L121.4,2098.3 L121.9,2096.9 L122.5,2095.5 L123.0,2094.1 L123.5,2092.7 L124.0,2091.2 L124.5,2089.8 L125.1,2088.4 L125.6,2087.0 L126.1,2085.6 L126.6,2084.2 L127.1,2082.8 L127.6,2081.4 L128.1,2079.9 L128.6,2078.5 L129.1,2077.1 L129.5,2075.7 L130.0,2074.3 L130.5,2072.9 L131.0,2071.4 L131.5,2070.0 L132.0,2068.6 L132.4,2067.2 L132.9,2065.7 L133.4,2064.3 L133.8,2062.9 L134.3,2061.5 L134.8,2060.0 L135.2,2058.6 L135.7,2057.2 L136.1,2055.8 L136.6,2054.3 L137.0,2052.9 L137.5,2051.5 L137.9,2050.0 L138.4,2048.6 L138.8,2047.2 L139.2,2045.7 L139.7,2044.3 L140.1,2042.9 L140.5,2041.4 L141.0,2040.0 L141.4,2038.5 L141.8,2037.1 L142.2,2035.7 L142.7,2034.2 L143.1,2032.8 L143.5,2031.3 L143.9,2029.9 L144.3,2028.5 L144.7,2027.0 L145.1,2025.6 L145.5,2024.1 L145.9,2022.7 L146.3,2021.2 L146.7,2019.8 L147.1,2018.3 L147.5,2016.9 L147.9,2015.4 L148.2,2014.0 L148.6,2012.5 L149.0,2011.1 L149.4,2009.6 L149.7,2008.2 L150.1,2006.7 L150.5,2005.3 L150.8,2003.8 L151.2,2002.4 L151.6,2000.9 L151.9,1999.4 L152.3,1998.0 L152.6,1996.5 L153.0,1995.1 L153.3,1993.6 L153.7,1992.2 L154.0,1990.7 L154.4,1989.2 L154.7,1987.8 L155.0,1986.3 L155.4,1984.8 L155.7,1983.4 L156.0,1981.9 L156.4,1980.5 L156.7,1979.0 L157.0,1977.5 L157.3,1976.1 L157.6,1974.6 L158.0,1973.1 L158.3,1971.7 L158.6,1970.2 L158.9,1968.7 L159.2,1967.3 L159.5,1965.8 L159.8,1964.3 L160.1,1962.8 L160.4,1961.4 L160.7,1959.9 L161.0,1958.4 L161.2,1957.0 L161.5,1955.5 L161.8,1954.0 L162.1,1952.5 L162.4,1951.1 L162.6,1949.6 L162.9,1948.1 L163.2,1946.6 L163.5,1945.2 L163.7,1943.7 L164.0,1942.2 L164.3,1940.7 L164.5,1939.3 L164.8,1937.8 L165.0,1936.3 L165.3,1934.8 L165.5,1933.3 L165.8,1931.9 L166.0,1930.4 L166.3,1928.9 L166.5,1927.4 L166.8,1925.9 L167.0,1924.5 L167.3,1923.0 L167.5,1921.5 L167.7,1920.0 L168.0,1918.5 L168.2,1917.1 L168.4,1915.6 L168.7,1914.1 L168.9,1912.6 L169.1,1911.1 L169.4,1909.7 L169.6,1908.2 L169.9,1906.7 L170.1,1905.2 L170.4,1903.7 L170.7,1902.3 L171.0,1900.8 L171.3,1899.3 L171.6,1897.9 L172.0,1896.4 L172.4,1895.0 L172.8,1893.5 L173.2,1892.1 L173.7,1890.7 L174.2,1889.3 L174.8,1887.9 L175.4,1886.6 L176.1,1885.3 L176.8,1884.1 L177.7,1883.1 L178.6,1882.2 L179.6,1881.7 L180.6,1881.5 L181.6,1881.7 L182.5,1882.2 L183.4,1883.0 L184.2,1884.1 L184.8,1885.3 L185.4,1886.6 L185.9,1888.0 L186.4,1889.4 L186.8,1890.8 L187.2,1892.3 L187.6,1893.7 L187.9,1895.2 L188.3,1896.6 L188.6,1898.1 L188.9,1899.6 L189.1,1901.1 L189.4,1902.5 L189.7,1904.0 L189.9,1905.5 L190.2,1907.0 L190.4,1908.4 L190.6,1909.9 L190.9,1911.4 L191.1,1912.9 L191.3,1914.4 L191.5,1915.9 L191.7,1917.4 L191.9,1918.8 L192.1,1920.3 L192.3,1921.8 L192.5,1923.3 L192.6,1924.8 L192.8,1926.3 L193.0,1927.8 L193.1,1929.3 L193.3,1930.8 L193.5,1932.2 L193.6,1933.7 L193.8,1935.2 L193.9,1936.7 L194.0,1938.2 L194.2,1939.7 L194.3,1941.2 L194.5,1942.7 L194.6,1944.2 L194.7,1945.7 L194.8,1947.2 L195.0,1948.7 L195.1,1950.2 L195.2,1951.7 L195.3,1953.2 L195.5,1954.7 L195.6,1956.2 L195.7,1957.6 L195.9,1959.1 L196.0,1960.6 L196.2,1962.1 L196.3,1963.6 L196.4,1965.1 L196.6,1966.6 L196.7,1968.1 L196.9,1969.6 L197.0,1971.1 L197.2,1972.6 L197.4,1974.1 L197.5,1975.6 L197.7,1977.0 L197.9,1978.5 L198.0,1980.0 L198.2,1981.5 L198.4,1983.0 L198.5,1984.5 L198.7,1986.0 L198.9,1987.5 L199.1,1989.0 L199.2,1990.5 L199.4,1991.9 L199.6,1993.4 L199.8,1994.9 L200.0,1996.4 L200.1,1997.9 L200.3,1999.4 L200.5,2000.9 L200.7,2002.4 L200.9,2003.9 L201.1,2005.3 L201.3,2006.8 L201.5,2008.3 L201.7,2009.8 L201.9,2011.3 L202.1,2012.8 L202.2,2014.3 L202.4,2015.8 L202.6,2017.2 L202.8,2018.7 L203.0,2020.2 L203.2,2021.7 L203.4,2023.2 L203.6,2024.7 L203.8,2026.2 L204.0,2027.6 L204.2,2029.1 L204.4,2030.6 L204.6,2032.1 L204.8,2033.6 L205.1,2035.1 L205.3,2036.6 L205.5,2038.1 L205.7,2039.5 L205.9,2041.0 L206.1,2042.5 L206.3,2044.0 L206.5,2045.5 L206.7,2047.0 L206.9,2048.5 L207.1,2049.9 L207.3,2051.4 L207.5,2052.9 L207.7,2054.4 L207.9,2055.9 L208.1,2057.4 L208.3,2058.9 L208.5,2060.3 L208.8,2061.8 L209.0,2063.3 L209.2,2064.8 L209.4,2066.3 L209.6,2067.8 L209.8,2069.2 L210.1,2070.7 L210.3,2072.2 L210.5,2073.7 L210.8,2075.2 L211.0,2076.7 L211.3,2078.1 L211.5,2079.6 L211.8,2081.1 L212.1,2082.6 L212.4,2084.0 L212.6,2085.5 L212.9,2087.0 L213.2,2088.4 L213.6,2089.9 L213.9,2091.4 L214.2,2092.8 L214.6,2094.3 L214.9,2095.7 L215.3,2097.2 L215.7,2098.7 L216.1,2100.1 L216.5,2101.5 L216.9,2103.0 L217.3,2104.4 L217.8,2105.9 L218.2,2107.3 L218.7,2108.7 L219.2,2110.1 L219.7,2111.5 L220.2,2112.9 L220.7,2114.4 L221.2,2115.8 L221.8,2117.1 L222.4,2118.5 L223.0,2119.9 L223.6,2121.3 L224.2,2122.7 L224.8,2124.0 L225.4,2125.4 L226.1,2126.7 L226.8,2128.1 L227.5,2129.4 L228.2,2130.7 L228.9,2132.0 L229.6,2133.3 L230.4,2134.6 L231.1,2135.9 L231.9,2137.2 L232.7,2138.5 L233.5,2139.7 L234.3,2141.0 L235.2,2142.2 L236.1,2143.4 L237.0,2144.6 L237.9,2145.8 L238.9,2146.9 L240.0,2147.9 L241.1,2148.8 L242.2,2149.7 L243.5,2150.3 L244.8,2150.8 L246.1,2151.1 L247.5,2151.1 L248.8,2151.0 L250.2,2150.6 L251.4,2150.0 L252.7,2149.3 L253.9,2148.5 L255.1,2147.6 L256.2,2146.6 L257.2,2145.6 L258.3,2144.5 L259.3,2143.4 L260.3,2142.3 L261.3,2141.1 L262.2,2140.0 L263.2,2138.8 L264.1,2137.7 L265.1,2136.5 L266.0,2135.3 L266.9,2134.1 L267.8,2132.9 L268.6,2131.7 L269.5,2130.5 L270.4,2129.2 L271.2,2128.0 L272.0,2126.7 L272.9,2125.5 L273.7,2124.2 L274.5,2123.0 L275.3,2121.7 L276.1,2120.4 L276.8,2119.1 L277.6,2117.8 L278.4,2116.5 L279.1,2115.2 L279.9,2113.9 L280.6,2112.6 L281.3,2111.3 L282.0,2110.0 L282.8,2108.7 L283.5,2107.4 L284.2,2106.0 L284.9,2104.7 L285.6,2103.4 L286.3,2102.1 L287.0,2100.7 L287.7,2099.4 L288.3,2098.1 L289.0,2096.7 L289.7,2095.4 L290.4,2094.0 L291.1,2092.7 L291.7,2091.4 L292.4,2090.0 L293.1,2088.7 L293.7,2087.3 L294.4,2086.0 L295.0,2084.6 L295.7,2083.3 L296.4,2081.9 L297.0,2080.6 L297.7,2079.3 L298.3,2077.9 L299.0,2076.6 L299.7,2075.2 L300.3,2073.9 L301.0,2072.5 L301.6,2071.2 L302.3,2069.8 L302.9,2068.5 L303.6,2067.1 L304.2,2065.8 L304.9,2064.4 L305.5,2063.0 L306.2,2061.7 L306.8,2060.3 L307.4,2059.0 L308.1,2057.6 L308.7,2056.2 L309.3,2054.9 L309.9,2053.5 L310.5,2052.1 L311.1,2050.8 L311.7,2049.4 L312.3,2048.0 L312.9,2046.6 L313.5,2045.3 L314.1,2043.9 L314.7,2042.5 L315.2,2041.1 L315.8,2039.7 L316.4,2038.3 L316.9,2036.9 L317.5,2035.5 L318.0,2034.2 L318.6,2032.8 L319.1,2031.4 L319.7,2030.0 L320.2,2028.6 L320.7,2027.2 L321.3,2025.7 L321.8,2024.3 L322.3,2022.9 L322.8,2021.5 L323.3,2020.1 L323.8,2018.7 L324.3,2017.3 L324.8,2015.9 L325.3,2014.5 L325.8,2013.0 L326.3,2011.6 L326.8,2010.2 L327.2,2008.8 L327.7,2007.4 L328.2,2005.9 L328.7,2004.5 L329.1,2003.1 L329.6,2001.6 L330.0,2000.2 L330.5,1998.8 L330.9,1997.4 L331.4,1995.9 L331.8,1994.5 L332.3,1993.1 L332.7,1991.6 L333.1,1990.2 L333.6,1988.7 L334.0,1987.3 L334.4,1985.9 L334.8,1984.4 L335.3,1983.0 L335.7,1981.6 L336.1,1980.1 L336.5,1978.7 L336.9,1977.2 L337.3,1975.8 L337.7,1974.3 L338.1,1972.9 L338.5,1971.4 L338.9,1970.0 L339.3,1968.5 L339.7,1967.1 L340.1,1965.6 L340.4,1964.2 L340.8,1962.7 L341.2,1961.3 L341.6,1959.8 L341.9,1958.4 L342.3,1956.9 L342.7,1955.5 L343.1,1954.0 L343.4,1952.6 L343.8,1951.1 L344.1,1949.7 L344.5,1948.2 L344.9,1946.7 L345.2,1945.3 L345.6,1943.8 L345.9,1942.4 L346.3,1940.9 L346.6,1939.5 L347.0,1938.0 L347.3,1936.5 L347.7,1935.1 L348.0,1933.6 L348.4,1932.2 L348.7,1930.7 L349.1,1929.2 L349.4,1927.8 L349.8,1926.3 L350.1,1924.9 L350.5,1923.4 L350.8,1921.9 L351.1,1920.5 L351.5,1919.0 L351.8,1917.6 L352.2,1916.1 L352.5,1914.6 L352.9,1913.2 L353.2,1911.7 L353.5,1910.3 L353.9,1908.8 L354.2,1907.3 L354.6,1905.9 L354.9,1904.4 L355.3,1903.0 L355.6,1901.5 L355.9,1900.0 L356.3,1898.6 L356.6,1897.1 L357.0,1895.7 L357.3,1894.2 L357.7,1892.7 L358.0,1891.3 L358.4,1889.8 L358.7,1888.4 L359.1,1886.9 L359.4,1885.5 L359.8,1884.0 L360.2,1882.5 L360.5,1881.1 L360.9,1879.6 L361.3,1878.2 L361.6,1876.7 L362.0,1875.3 L362.4,1873.8 L362.7,1872.4 L363.1,1870.9 L363.5,1869.5 L363.9,1868.0 L364.3,1866.6 L364.6,1865.1 L365.0,1863.7 L365.4,1862.2 L365.8,1860.8 L366.2,1859.3 L366.6,1857.9 L367.0,1856.4 L367.4,1855.0 L367.8,1853.5 L368.2,1852.1 L368.6,1850.6 L369.0,1849.2 L369.4,1847.7 L369.8,1846.3 L370.2,1844.9 L370.6,1843.4 L370.9,1842.0 L371.3,1840.5 L371.7,1839.0 L372.1,1837.6 L372.4,1836.1 L372.8,1834.7 L373.1,1833.2 L373.5,1831.8 L373.8,1830.3 L374.2,1828.8 L374.5,1827.4 L374.8,1825.9 L375.2,1824.5 L375.5,1823.0 L375.8,1821.5 L376.1,1820.1 L376.4,1818.6 L376.8,1817.1 L377.1,1815.7 L377.4,1814.2 L377.7,1812.7 L378.0,1811.3 L378.3,1809.8 L378.7,1808.3 L379.0,1806.9 L379.3,1805.4 L379.6,1803.9 L380.0,1802.5 L380.3,1801.0 L380.6,1799.6 L381.0,1798.1 L381.4,1796.6 L381.7,1795.2 L382.1,1793.7 L382.5,1792.3 L382.9,1790.9 L383.4,1789.4 L383.8,1788.0 L384.3,1786.6 L384.9,1785.3 L385.5,1784.0 L386.2,1782.9 L387.0,1782.0 L387.9,1781.4 L388.8,1781.1 L389.8,1781.2 L390.7,1781.6 L391.6,1782.4 L392.3,1783.4 L393.0,1784.6 L393.6,1785.9 L394.2,1787.3 L394.7,1788.7 L395.2,1790.1 L395.6,1791.5 L396.1,1793.0 L396.5,1794.4 L396.9,1795.9 L397.3,1797.3 L397.7,1798.8 L398.0,1800.2 L398.4,1801.7 L398.7,1803.1 L399.1,1804.6 L399.4,1806.0 L399.7,1807.5 L400.1,1809.0 L400.4,1810.4 L400.7,1811.9 L401.0,1813.4 L401.3,1814.8 L401.6,1816.3 L402.0,1817.8 L402.3,1819.2 L402.6,1820.7 L402.9,1822.2 L403.2,1823.6 L403.5,1825.1 L403.8,1826.6 L404.1,1828.1 L404.4,1829.5 L404.7,1831.0 L405.0,1832.5 L405.3,1833.9 L405.6,1835.4 L405.9,1836.9 L406.2,1838.3 L406.5,1839.8 L406.8,1841.3 L407.1,1842.7 L407.5,1844.2 L407.8,1845.7 L408.1,1847.1 L408.5,1848.6 L408.8,1850.0 L409.2,1851.5 L409.5,1853.0 L409.9,1854.4 L410.3,1855.9 L410.7,1857.3 L411.1,1858.7 L411.5,1860.2 L411.9,1861.6 L412.3,1863.1 L412.8,1864.5 L413.2,1866.0 L413.6,1867.4 L414.0,1868.8 L414.4,1870.3 L414.8,1871.7 L415.2,1873.2 L415.6,1874.6 L416.0,1876.1 L416.4,1877.5 L416.8,1879.0 L417.2,1880.4 L417.6,1881.8 L418.0,1883.3 L418.4,1884.7 L418.8,1886.2 L419.2,1887.6 L419.6,1889.1 L420.0,1890.5 L420.4,1892.0 L420.8,1893.4 L421.3,1894.9 L421.7,1896.3 L422.1,1897.7 L422.5,1899.2 L422.9,1900.6 L423.3,1902.1 L423.7,1903.5 L424.1,1905.0 L424.5,1906.4 L424.9,1907.8 L425.4,1909.3 L425.8,1910.7 L426.2,1912.2 L426.6,1913.6 L427.1,1915.0 L427.5,1916.5 L427.9,1917.9 L428.4,1919.3 L428.8,1920.8 L429.2,1922.2 L429.7,1923.6 L430.1,1925.1 L430.6,1926.5 L431.0,1927.9 L431.5,1929.4 L432.0,1930.8 L432.4,1932.2 L432.9,1933.6 L433.4,1935.1 L433.8,1936.5 L434.3,1937.9 L434.8,1939.3 L435.3,1940.7 L435.8,1942.2 L436.3,1943.6 L436.8,1945.0 L437.3,1946.4 L437.8,1947.8 L438.3,1949.2 L438.8,1950.6 L439.3,1952.0 L439.9,1953.4 L440.4,1954.9 L440.9,1956.3 L441.5,1957.7 L442.0,1959.0 L442.6,1960.4 L443.1,1961.8 L443.7,1963.2 L444.2,1964.6 L444.8,1966.0 L445.4,1967.4 L446.0,1968.8 L446.6,1970.1 L447.2,1971.5 L447.8,1972.9 L448.4,1974.3 L449.0,1975.6 L449.6,1977.0 L450.2,1978.4 L450.8,1979.7 L451.5,1981.1 L452.1,1982.5 L452.7,1983.8 L453.4,1985.2 L454.0,1986.5 L454.7,1987.9 L455.4,1989.2 L456.0,1990.6 L456.7,1991.9 L457.4,1993.2 L458.1,1994.6 L458.8,1995.9 L459.5,1997.2 L460.2,1998.6 L460.9,1999.9 L461.6,2001.2 L462.3,2002.5 L463.0,2003.8 L463.7,2005.1 L464.5,2006.5 L465.2,2007.8 L465.9,2009.1 L466.7,2010.4 L467.4,2011.7 L468.2,2013.0 L468.9,2014.3 L469.7,2015.6 L470.5,2016.8 L471.2,2018.1 L472.0,2019.4 L472.8,2020.7 L473.6,2022.0 L474.3,2023.3 L475.1,2024.5 L475.9,2025.8 L476.7,2027.1 L477.5,2028.3 L478.3,2029.6 L479.2,2030.9 L480.0,2032.1 L480.8,2033.4 L481.6,2034.6 L482.5,2035.9 L483.3,2037.1 L484.2,2038.3 L485.1,2039.6 L485.9,2040.8 L486.8,2042.0 L487.7,2043.2 L488.6,2044.4 L489.6,2045.5 L490.5,2046.7 L491.5,2047.9 L492.4,2049.0 L493.4,2050.1 L494.4,2051.2 L495.5,2052.3 L496.5,2053.4 L497.6,2054.4 L498.7,2055.5 L499.8,2056.5 L500.9,2057.4 L502.1,2058.4 L503.3,2059.3 L504.5,2060.2 L505.7,2061.0 L507.0,2061.8 L508.3,2062.5 L509.6,2063.2 L510.9,2063.9 L512.3,2064.5 L513.7,2065.0 L515.1,2065.5 L516.5,2065.9 L518.0,2066.3 L519.4,2066.6 L520.9,2066.9 L522.4,2067.1 L523.9,2067.3 L525.4,2067.4 L526.9,2067.4 L528.3,2067.4 L529.8,2067.4 L531.3,2067.2 L532.8,2067.1 L534.3,2066.9 L535.8,2066.6 L537.2,2066.3 L538.7,2065.9 L540.1,2065.5 L541.5,2065.1 L542.9,2064.6 L544.3,2064.0 L545.7,2063.4 L547.1,2062.8 L548.4,2062.1 L549.7,2061.4 L551.0,2060.7 L552.3,2059.9 L553.5,2059.0 L554.7,2058.1 L555.9,2057.2 L557.0,2056.3 L558.2,2055.3 L559.3,2054.3 L560.3,2053.2 L561.3,2052.1 L562.3,2051.0 L563.3,2049.9 L564.3,2048.7 L565.2,2047.5 L566.1,2046.3 L566.9,2045.1 L567.8,2043.9 L568.6,2042.6 L569.3,2041.3 L570.1,2040.0 L570.8,2038.7 L571.5,2037.4 L572.2,2036.1 L572.9,2034.7 L573.5,2033.4 L574.2,2032.0 L574.8,2030.6 L575.3,2029.3 L575.9,2027.9 L576.5,2026.5 L577.0,2025.1 L577.5,2023.7 L578.0,2022.2 L578.5,2020.8 L579.0,2019.4 L579.4,2018.0 L579.9,2016.5 L580.3,2015.1 L580.7,2013.7 L581.1,2012.2 L581.5,2010.8 L581.9,2009.3 L582.3,2007.9 L582.7,2006.4 L583.0,2005.0 L583.4,2003.5 L583.7,2002.1 L584.1,2000.6 L584.4,1999.1 L584.7,1997.7 L585.1,1996.2 L585.4,1994.7 L585.7,1993.3 L586.0,1991.8 L586.3,1990.3 L586.5,1988.9 L586.8,1987.4 L587.1,1985.9 L587.4,1984.4 L587.7,1983.0 L587.9,1981.5 L588.2,1980.0 L588.5,1978.5 L588.7,1977.1 L589.0,1975.6 L589.2,1974.1 L589.5,1972.6 L589.8,1971.1 L590.0,1969.7 L590.3,1968.2 L590.5,1966.7 L590.8,1965.2 L591.0,1963.8 L591.3,1962.3 L591.6,1960.8 L591.8,1959.3 L592.1,1957.8 L592.3,1956.4 L592.6,1954.9 L592.9,1953.4 L593.2,1951.9 L593.4,1950.5 L593.7,1949.0 L594.0,1947.5 L594.3,1946.0 L594.6,1944.6 L594.8,1943.1 L595.1,1941.6 L595.4,1940.2 L595.7,1938.7 L596.0,1937.2 L596.3,1935.7 L596.6,1934.3 L596.9,1932.8 L597.2,1931.3 L597.5,1929.9 L597.8,1928.4 L598.1,1926.9 L598.4,1925.4 L598.7,1924.0 L599.0,1922.5 L599.3,1921.0 L599.6,1919.6 L599.9,1918.1 L600.2,1916.6 L600.5,1915.2 L600.8,1913.7 L601.1,1912.2 L601.4,1910.8 L601.7,1909.3 L602.0,1907.8 L602.3,1906.4 L602.6,1904.9 L602.9,1903.4 L603.2,1901.9 L603.5,1900.5 L603.8,1899.0 L604.1,1897.5 L604.4,1896.1 L604.7,1894.6 L605.0,1893.1 L605.3,1891.7 L605.6,1890.2 L605.9,1888.7 L606.2,1887.2 L606.5,1885.8 L606.8,1884.3 L607.1,1882.8 L607.3,1881.4 L607.6,1879.9 L607.9,1878.4 L608.2,1876.9 L608.5,1875.5 L608.7,1874.0 L609.0,1872.5 L609.3,1871.0 L609.5,1869.6 L609.8,1868.1 L610.1,1866.6 L610.3,1865.1 L610.6,1863.7 L610.8,1862.2 L611.1,1860.7 L611.3,1859.2 L611.6,1857.7 L611.8,1856.3 L612.1,1854.8 L612.3,1853.3 L612.5,1851.8 L612.8,1850.3 L613.0,1848.8 L613.2,1847.4 L613.5,1845.9 L613.7,1844.4 L613.9,1842.9 L614.1,1841.4 L614.3,1839.9 L614.5,1838.5 L614.8,1837.0 L615.0,1835.5 L615.2,1834.0 L615.4,1832.5 L615.6,1831.0 L615.8,1829.6 L616.0,1828.1 L616.2,1826.6 L616.4,1825.1 L616.7,1823.6 L616.9,1822.1 L617.1,1820.6 L617.3,1819.2 L617.5,1817.7 L617.8,1816.2 L618.0,1814.7 L618.3,1813.2 L618.5,1811.8 L618.8,1810.3 L619.0,1808.8 L619.3,1807.3 L619.6,1805.8 L619.8,1804.4 L620.1,1802.9 L620.4,1801.4 L620.8,1800.0 L621.1,1798.5 L621.4,1797.0 L621.8,1795.6 L622.1,1794.1 L622.5,1792.7 L622.9,1791.2 L623.3,1789.8 L623.7,1788.3 L624.1,1786.9 L624.5,1785.4 L624.9,1784.0 L625.3,1782.6 L625.7,1781.1 L626.1,1779.7 L626.5,1778.2 L626.9,1776.8 L627.4,1775.3 L627.8,1773.9 L628.2,1772.5 L628.6,1771.0 L629.0,1769.6 L629.4,1768.1 L629.8,1766.7 L630.2,1765.3 L630.6,1763.8 L631.0,1762.4 L631.5,1760.9 L631.9,1759.5 L632.3,1758.0 L632.7,1756.6 L633.1,1755.2 L633.6,1753.7 L634.0,1752.3 L634.5,1750.9 L635.0,1749.4 L635.5,1748.0 L636.0,1746.6 L636.6,1745.2 L637.2,1743.9 L637.8,1742.5 L638.5,1741.2 L639.2,1739.9 L640.0,1738.7 L640.9,1737.5 L641.8,1736.4 L642.9,1735.5 L644.0,1734.7 L645.2,1734.1 L646.5,1733.8 L647.9,1733.6 L649.2,1733.7 L650.6,1734.1 L651.9,1734.6 L653.1,1735.3 L654.3,1736.1 L655.5,1737.0 L656.6,1738.0 L657.6,1739.0 L658.6,1740.2 L659.5,1741.3 L660.4,1742.5 L661.2,1743.8 L662.0,1745.0 L662.8,1746.3 L663.5,1747.6 L664.1,1749.0 L664.7,1750.3 L665.3,1751.7 L665.9,1753.1 L666.4,1754.5 L666.9,1755.9 L667.4,1757.3 L667.9,1758.8 L668.3,1760.2 L668.8,1761.6 L669.2,1763.1 L669.6,1764.5 L670.1,1765.9 L670.5,1767.4 L670.9,1768.8 L671.4,1770.2 L671.8,1771.7 L672.3,1773.1 L672.8,1774.5 L673.3,1775.9 L673.8,1777.3 L674.3,1778.8 L674.8,1780.2 L675.3,1781.6 L675.8,1783.0 L676.4,1784.4 L676.9,1785.8 L677.5,1787.2 L678.0,1788.6 L678.6,1789.9 L679.2,1791.3 L679.7,1792.7 L680.3,1794.1 L680.9,1795.5 L681.5,1796.9 L682.1,1798.3 L682.6,1799.6 L683.2,1801.0 L683.8,1802.4 L684.4,1803.8 L685.0,1805.2 L685.6,1806.5 L686.2,1807.9 L686.7,1809.3 L687.3,1810.7 L687.9,1812.1 L688.5,1813.5 L689.1,1814.8 L689.7,1816.2 L690.3,1817.6 L690.8,1819.0 L691.4,1820.4 L692.0,1821.7 L692.6,1823.1 L693.2,1824.5 L693.8,1825.9 L694.4,1827.2 L695.0,1828.6 L695.6,1830.0 L696.2,1831.4 L696.8,1832.8 L697.4,1834.1 L698.0,1835.5 L698.6,1836.9 L699.2,1838.3 L699.8,1839.6 L700.4,1841.0 L701.0,1842.4 L701.6,1843.7 L702.2,1845.1 L702.8,1846.5 L703.4,1847.9 L704.0,1849.2 L704.6,1850.6 L705.3,1852.0 L705.9,1853.3 L706.5,1854.7 L707.1,1856.1 L707.7,1857.4 L708.4,1858.8 L709.0,1860.1 L709.6,1861.5 L710.3,1862.9 L710.9,1864.2 L711.5,1865.6 L712.2,1866.9 L712.8,1868.3 L713.4,1869.7 L714.1,1871.0 L714.7,1872.4 L715.4,1873.7 L716.0,1875.1 L716.7,1876.4 L717.3,1877.8 L718.0,1879.1 L718.7,1880.5 L719.3,1881.8 L720.0,1883.2 L720.7,1884.5 L721.3,1885.8 L722.0,1887.2 L722.7,1888.5 L723.4,1889.9 L724.0,1891.2 L724.7,1892.5 L725.4,1893.9 L726.1,1895.2 L726.8,1896.5 L727.5,1897.8 L728.2,1899.2 L728.9,1900.5 L729.6,1901.8 L730.3,1903.1 L731.0,1904.5 L731.8,1905.8 L732.5,1907.1 L733.2,1908.4 L733.9,1909.7 L734.7,1911.0 L735.4,1912.3 L736.1,1913.6 L736.9,1914.9 L737.6,1916.2 L738.4,1917.5 L739.1,1918.8 L739.9,1920.1 L740.6,1921.4 L741.4,1922.7 L742.2,1924.0 L742.9,1925.3 L743.7,1926.6 L744.5,1927.9 L745.3,1929.1 L746.1,1930.4 L746.9,1931.7 L747.7,1933.0 L748.5,1934.2 L749.3,1935.5 L750.1,1936.8 L750.9,1938.0 L751.7,1939.3 L752.5,1940.5 L753.3,1941.8 L754.2,1943.0 L755.0,1944.3 L755.8,1945.5 L756.7,1946.8 L757.5,1948.0 L758.4,1949.2 L759.2,1950.5 L760.1,1951.7 L761.0,1952.9 L761.8,1954.2 L762.7,1955.4 L763.6,1956.6 L764.5,1957.8 L765.3,1959.0 L766.2,1960.2 L767.1,1961.4 L768.0,1962.6 L768.9,1963.8 L769.8,1965.0 L770.7,1966.2 L771.6,1967.4 L772.5,1968.6 L773.5,1969.8 L774.4,1971.0 L775.3,1972.2 L776.2,1973.3 L777.2,1974.5 L778.1,1975.7 L779.1,1976.9 L780.0,1978.0 L780.9,1979.2 L781.9,1980.3 L782.9,1981.5 L783.8,1982.6 L784.8,1983.8 L785.8,1984.9 L786.7,1986.1 L787.7,1987.2 L788.7,1988.4 L789.7,1989.5 L790.6,1990.6 L791.6,1991.7 L792.6,1992.9 L793.6,1994.0 L794.6,1995.1 L795.6,1996.2 L796.6,1997.3 L797.6,1998.4 L798.7,1999.5 L799.7,2000.7 L800.7,2001.7 L801.7,2002.8 L802.8,2003.9 L803.8,2005.0 L804.8,2006.1 L805.9,2007.2 L806.9,2008.3 L808.0,2009.3 L809.0,2010.4 L810.1,2011.5 L811.1,2012.5 L812.2,2013.6 L813.2,2014.7 L814.3,2015.7 L815.4,2016.8 L816.4,2017.8 L817.5,2018.9 L818.6,2019.9 L819.7,2020.9 L820.8,2022.0 L821.9,2023.0 L822.9,2024.0 L824.0,2025.1 L825.1,2026.1 L826.2,2027.1 L827.3,2028.1 L828.5,2029.1 L829.6,2030.1 L830.7,2031.1 L831.8,2032.1 L832.9,2033.1 L834.0,2034.1 L835.2,2035.1 L836.3,2036.1 L837.4,2037.1 L838.6,2038.1 L839.7,2039.1 L840.8,2040.0 L842.0,2041.0 L843.1,2042.0 L844.3,2042.9 L845.4,2043.9 L846.6,2044.8 L847.8,2045.8 L848.9,2046.7 L850.1,2047.7 L851.3,2048.6 L852.4,2049.6 L853.6,2050.5 L854.8,2051.4 L856.0,2052.4 L857.1,2053.3 L858.3,2054.2 L859.5,2055.1 L860.7,2056.0 L861.9,2056.9 L863.1,2057.8 L864.3,2058.7 L865.5,2059.6 L866.7,2060.5 L867.9,2061.4 L869.1,2062.3 L870.3,2063.2 L871.5,2064.1 L872.8,2065.0 L874.0,2065.8 L875.2,2066.7 L876.4,2067.6 L877.6,2068.4 L878.9,2069.3 L880.1,2070.1 L881.3,2071.0 L882.6,2071.8 L883.8,2072.7 L885.1,2073.5 L886.3,2074.3 L887.6,2075.2 L888.8,2076.0 L890.1,2076.8 L891.3,2077.7 L892.6,2078.5 L893.8,2079.3 L895.1,2080.1 L896.4,2080.9 L897.6,2081.7 L898.9,2082.5 L900.2,2083.3 L901.4,2084.1 L902.7,2084.9 L904.0,2085.7 L905.3,2086.4 L906.6,2087.2 L907.9,2088.0 L909.1,2088.8 L910.4,2089.5 L911.7,2090.3 L913.0,2091.0 L914.3,2091.8 L915.6,2092.5 L916.9,2093.3 L918.2,2094.0 L919.5,2094.8 L920.8,2095.5 L922.1,2096.2 L923.5,2097.0 L924.8,2097.7 L926.1,2098.4 L927.4,2099.1 L928.7,2099.8 L930.0,2100.5 L931.4,2101.2 L932.7,2101.9 L934.0,2102.6 L935.4,2103.3 L936.7,2104.0 L938.0,2104.7 L939.4,2105.4 L940.7,2106.1 L942.0,2106.7 L943.4,2107.4 L944.7,2108.1 L946.1,2108.7 L947.4,2109.4 L948.8,2110.0 L950.1,2110.7 L951.5,2111.3 L952.8,2112.0 L954.2,2112.6 L955.5,2113.2 L956.9,2113.9 L958.1,2114.5 L959.3,2115.0 L960.4,2115.5 L961.3,2115.9" fill="none" stroke="#4cbf9c" stroke-width="3.8" stroke-linejoin="round" stroke-linecap="butt" clip-path="url(#clipC)" />
<path d="M89.1,2170.7 L89.5,2170.0 L90.0,2169.0 L90.6,2167.9 L91.2,2166.8 L91.9,2165.5 L92.6,2164.2 L93.3,2162.9 L94.0,2161.6 L94.8,2160.3 L95.5,2159.0 L96.2,2157.6 L96.9,2156.3 L97.6,2155.0 L98.4,2153.7 L99.1,2152.4 L99.8,2151.1 L100.5,2149.7 L101.2,2148.4 L102.0,2147.1 L102.7,2145.8 L103.4,2144.5 L104.1,2143.1 L104.8,2141.8 L105.5,2140.5 L106.2,2139.2 L106.9,2137.9 L107.6,2136.5 L108.4,2135.2 L109.1,2133.9 L109.8,2132.6 L110.5,2131.2 L111.2,2129.9 L111.9,2128.6 L112.6,2127.3 L113.3,2125.9 L114.0,2124.6 L114.6,2123.3 L115.3,2121.9 L116.0,2120.6 L116.7,2119.3 L117.4,2117.9 L118.1,2116.6 L118.8,2115.3 L119.4,2113.9 L120.1,2112.6 L120.8,2111.3 L121.5,2109.9 L122.1,2108.6 L122.8,2107.2 L123.4,2105.9 L124.1,2104.5 L124.8,2103.2 L125.4,2101.8 L126.1,2100.5 L126.7,2099.1 L127.3,2097.8 L128.0,2096.4 L128.6,2095.0 L129.2,2093.7 L129.9,2092.3 L130.5,2091.0 L131.1,2089.6 L131.7,2088.2 L132.4,2086.9 L133.0,2085.5 L133.6,2084.1 L134.2,2082.7 L134.8,2081.4 L135.4,2080.0 L135.9,2078.6 L136.5,2077.2 L137.1,2075.8 L137.7,2074.5 L138.3,2073.1 L138.8,2071.7 L139.4,2070.3 L139.9,2068.9 L140.5,2067.5 L141.0,2066.1 L141.6,2064.7 L142.1,2063.3 L142.7,2061.9 L143.2,2060.5 L143.7,2059.1 L144.2,2057.7 L144.7,2056.3 L145.2,2054.9 L145.7,2053.5 L146.2,2052.0 L146.7,2050.6 L147.2,2049.2 L147.7,2047.8 L148.2,2046.4 L148.6,2044.9 L149.1,2043.5 L149.5,2042.1 L150.0,2040.6 L150.4,2039.2 L150.9,2037.8 L151.3,2036.3 L151.7,2034.9 L152.2,2033.5 L152.6,2032.0 L153.0,2030.6 L153.4,2029.1 L153.8,2027.7 L154.2,2026.2 L154.6,2024.8 L155.0,2023.3 L155.3,2021.9 L155.7,2020.4 L156.1,2019.0 L156.4,2017.5 L156.8,2016.1 L157.1,2014.6 L157.5,2013.1 L157.8,2011.7 L158.1,2010.2 L158.4,2008.8 L158.8,2007.3 L159.1,2005.8 L159.4,2004.4 L159.7,2002.9 L160.0,2001.4 L160.3,1999.9 L160.6,1998.5 L160.9,1997.0 L161.2,1995.5 L161.5,1994.1 L161.9,1992.6 L162.2,1991.2 L162.5,1989.7 L162.9,1988.2 L163.2,1986.8 L163.6,1985.3 L164.0,1983.9 L164.4,1982.4 L164.8,1981.0 L165.2,1979.5 L165.6,1978.1 L166.1,1976.7 L166.5,1975.2 L167.0,1973.8 L167.6,1972.4 L168.1,1971.0 L168.7,1969.6 L169.3,1968.3 L169.9,1966.9 L170.6,1965.6 L171.2,1964.2 L172.0,1962.9 L172.7,1961.7 L173.6,1960.4 L174.4,1959.2 L175.3,1958.0 L176.3,1957.0 L177.3,1956.0 L178.4,1955.3 L179.6,1954.7 L180.8,1954.4 L181.9,1954.5 L183.0,1954.8 L184.0,1955.5 L184.9,1956.4 L185.7,1957.5 L186.4,1958.8 L186.9,1960.1 L187.5,1961.5 L187.9,1962.9 L188.3,1964.3 L188.7,1965.8 L189.1,1967.2 L189.5,1968.7 L189.9,1970.1 L190.2,1971.6 L190.6,1973.0 L190.9,1974.5 L191.3,1976.0 L191.6,1977.4 L192.0,1978.9 L192.3,1980.3 L192.7,1981.8 L193.0,1983.2 L193.4,1984.7 L193.7,1986.2 L194.0,1987.6 L194.4,1989.1 L194.7,1990.6 L195.0,1992.0 L195.3,1993.5 L195.6,1995.0 L195.9,1996.4 L196.1,1997.9 L196.4,1999.4 L196.6,2000.9 L196.9,2002.3 L197.1,2003.8 L197.3,2005.3 L197.5,2006.8 L197.7,2008.3 L197.9,2009.8 L198.1,2011.3 L198.3,2012.7 L198.5,2014.2 L198.7,2015.7 L198.9,2017.2 L199.1,2018.7 L199.3,2020.2 L199.4,2021.7 L199.6,2023.2 L199.8,2024.7 L200.0,2026.1 L200.2,2027.6 L200.4,2029.1 L200.6,2030.6 L200.8,2032.1 L201.0,2033.6 L201.1,2035.1 L201.3,2036.6 L201.5,2038.0 L201.7,2039.5 L201.9,2041.0 L202.1,2042.5 L202.3,2044.0 L202.5,2045.5 L202.6,2047.0 L202.8,2048.5 L203.0,2050.0 L203.2,2051.4 L203.4,2052.9 L203.6,2054.4 L203.7,2055.9 L203.9,2057.4 L204.1,2058.9 L204.3,2060.4 L204.4,2061.9 L204.6,2063.4 L204.8,2064.9 L204.9,2066.3 L205.1,2067.8 L205.2,2069.3 L205.4,2070.8 L205.6,2072.3 L205.7,2073.8 L205.9,2075.3 L206.1,2076.8 L206.3,2078.3 L206.4,2079.8 L206.6,2081.2 L206.8,2082.7 L207.0,2084.2 L207.2,2085.7 L207.5,2087.2 L207.7,2088.7 L207.9,2090.1 L208.2,2091.6 L208.5,2093.1 L208.7,2094.6 L209.0,2096.0 L209.3,2097.5 L209.7,2099.0 L210.0,2100.4 L210.3,2101.9 L210.7,2103.3 L211.1,2104.8 L211.5,2106.2 L212.0,2107.7 L212.4,2109.1 L212.9,2110.5 L213.4,2111.9 L213.9,2113.3 L214.5,2114.7 L215.0,2116.1 L215.6,2117.5 L216.3,2118.8 L216.9,2120.2 L217.6,2121.5 L218.3,2122.8 L219.1,2124.1 L219.8,2125.4 L220.6,2126.7 L221.5,2127.9 L222.3,2129.2 L223.2,2130.4 L224.1,2131.6 L225.0,2132.7 L226.0,2133.9 L227.0,2135.0 L228.0,2136.1 L229.1,2137.1 L230.2,2138.2 L231.3,2139.2 L232.4,2140.1 L233.6,2141.1 L234.8,2141.9 L236.1,2142.8 L237.3,2143.5 L238.6,2144.2 L240.0,2144.9 L241.3,2145.4 L242.7,2145.9 L244.2,2146.2 L245.6,2146.5 L247.1,2146.6 L248.5,2146.6 L250.0,2146.5 L251.4,2146.3 L252.9,2145.9 L254.3,2145.4 L255.6,2144.9 L257.0,2144.2 L258.2,2143.5 L259.5,2142.7 L260.7,2141.9 L261.9,2141.0 L263.1,2140.1 L264.2,2139.1 L265.3,2138.1 L266.4,2137.1 L267.5,2136.0 L268.6,2134.9 L269.6,2133.9 L270.6,2132.7 L271.6,2131.6 L272.6,2130.5 L273.6,2129.4 L274.5,2128.2 L275.5,2127.1 L276.4,2125.9 L277.4,2124.8 L278.3,2123.6 L279.3,2122.4 L280.2,2121.3 L281.2,2120.1 L282.1,2118.9 L283.1,2117.8 L284.0,2116.6 L285.0,2115.4 L285.9,2114.3 L286.9,2113.2 L287.9,2112.0 L288.9,2110.9 L289.9,2109.8 L290.9,2108.6 L291.9,2107.5 L292.9,2106.4 L293.9,2105.3 L294.9,2104.2 L295.9,2103.1 L296.9,2101.9 L297.9,2100.8 L298.8,2099.7 L299.8,2098.5 L300.8,2097.4 L301.7,2096.2 L302.6,2095.0 L303.5,2093.8 L304.4,2092.6 L305.3,2091.4 L306.2,2090.2 L307.0,2089.0 L307.9,2087.7 L308.7,2086.5 L309.5,2085.2 L310.3,2084.0 L311.1,2082.7 L311.9,2081.4 L312.7,2080.1 L313.5,2078.9 L314.2,2077.6 L315.0,2076.3 L315.7,2074.9 L316.4,2073.6 L317.2,2072.3 L317.9,2071.0 L318.6,2069.7 L319.2,2068.3 L319.9,2067.0 L320.6,2065.7 L321.3,2064.3 L321.9,2063.0 L322.6,2061.6 L323.2,2060.3 L323.9,2058.9 L324.5,2057.6 L325.1,2056.2 L325.8,2054.8 L326.4,2053.5 L327.0,2052.1 L327.6,2050.7 L328.2,2049.3 L328.8,2048.0 L329.4,2046.6 L330.0,2045.2 L330.5,2043.8 L331.1,2042.4 L331.7,2041.0 L332.2,2039.7 L332.8,2038.3 L333.4,2036.9 L333.9,2035.5 L334.5,2034.1 L335.0,2032.7 L335.5,2031.3 L336.1,2029.9 L336.6,2028.5 L337.1,2027.1 L337.7,2025.7 L338.2,2024.3 L338.7,2022.9 L339.2,2021.4 L339.7,2020.0 L340.2,2018.6 L340.7,2017.2 L341.2,2015.8 L341.7,2014.4 L342.2,2013.0 L342.7,2011.5 L343.2,2010.1 L343.7,2008.7 L344.2,2007.3 L344.6,2005.9 L345.1,2004.4 L345.6,2003.0 L346.0,2001.6 L346.5,2000.2 L347.0,1998.7 L347.4,1997.3 L347.9,1995.9 L348.4,1994.5 L348.8,1993.0 L349.3,1991.6 L349.7,1990.2 L350.2,1988.7 L350.6,1987.3 L351.1,1985.9 L351.5,1984.4 L351.9,1983.0 L352.4,1981.6 L352.8,1980.1 L353.3,1978.7 L353.7,1977.3 L354.1,1975.8 L354.6,1974.4 L355.0,1973.0 L355.4,1971.5 L355.9,1970.1 L356.3,1968.7 L356.7,1967.2 L357.2,1965.8 L357.6,1964.3 L358.0,1962.9 L358.4,1961.5 L358.9,1960.0 L359.3,1958.6 L359.7,1957.2 L360.2,1955.7 L360.6,1954.3 L361.0,1952.8 L361.5,1951.4 L361.9,1950.0 L362.3,1948.5 L362.7,1947.1 L363.2,1945.7 L363.6,1944.2 L364.0,1942.8 L364.5,1941.3 L364.9,1939.9 L365.3,1938.5 L365.8,1937.0 L366.2,1935.6 L366.7,1934.2 L367.1,1932.7 L367.5,1931.3 L368.0,1929.9 L368.4,1928.4 L368.9,1927.0 L369.3,1925.6 L369.8,1924.1 L370.2,1922.7 L370.7,1921.3 L371.1,1919.9 L371.6,1918.4 L372.1,1917.0 L372.5,1915.6 L373.0,1914.1 L373.4,1912.7 L373.9,1911.3 L374.3,1909.9 L374.8,1908.4 L375.3,1907.0 L375.7,1905.6 L376.2,1904.1 L376.6,1902.7 L377.1,1901.3 L377.5,1899.9 L378.0,1898.4 L378.5,1897.0 L378.9,1895.6 L379.4,1894.1 L379.8,1892.7 L380.3,1891.3 L380.8,1889.9 L381.3,1888.5 L381.8,1887.0 L382.3,1885.6 L382.8,1884.2 L383.4,1882.8 L383.9,1881.4 L384.5,1880.1 L385.1,1878.7 L385.8,1877.4 L386.5,1876.0 L387.2,1874.8 L388.0,1873.6 L388.9,1872.5 L389.9,1871.6 L391.0,1870.8 L392.1,1870.4 L393.3,1870.2 L394.5,1870.3 L395.7,1870.8 L396.8,1871.5 L397.8,1872.3 L398.8,1873.4 L399.7,1874.5 L400.5,1875.8 L401.2,1877.0 L402.0,1878.4 L402.7,1879.7 L403.3,1881.0 L403.9,1882.4 L404.5,1883.8 L405.1,1885.1 L405.7,1886.5 L406.3,1887.9 L406.8,1889.3 L407.3,1890.7 L407.8,1892.1 L408.3,1893.5 L408.8,1895.0 L409.3,1896.4 L409.8,1897.8 L410.3,1899.2 L410.7,1900.7 L411.2,1902.1 L411.6,1903.5 L412.0,1905.0 L412.4,1906.4 L412.9,1907.8 L413.3,1909.3 L413.7,1910.7 L414.1,1912.2 L414.5,1913.6 L414.9,1915.1 L415.3,1916.5 L415.7,1917.9 L416.1,1919.4 L416.5,1920.8 L417.0,1922.3 L417.4,1923.7 L417.8,1925.1 L418.3,1926.6 L418.7,1928.0 L419.2,1929.4 L419.7,1930.9 L420.1,1932.3 L420.6,1933.7 L421.1,1935.1 L421.6,1936.5 L422.1,1938.0 L422.6,1939.4 L423.1,1940.8 L423.6,1942.2 L424.1,1943.6 L424.6,1945.0 L425.1,1946.4 L425.6,1947.8 L426.1,1949.2 L426.7,1950.6 L427.2,1952.0 L427.7,1953.5 L428.3,1954.9 L428.8,1956.2 L429.4,1957.6 L429.9,1959.0 L430.5,1960.4 L431.0,1961.8 L431.6,1963.2 L432.1,1964.6 L432.7,1966.0 L433.3,1967.4 L433.8,1968.8 L434.4,1970.2 L435.0,1971.6 L435.6,1972.9 L436.1,1974.3 L436.7,1975.7 L437.3,1977.1 L437.9,1978.5 L438.5,1979.8 L439.1,1981.2 L439.7,1982.6 L440.3,1984.0 L440.9,1985.3 L441.5,1986.7 L442.1,1988.1 L442.7,1989.4 L443.4,1990.8 L444.0,1992.2 L444.6,1993.5 L445.2,1994.9 L445.9,1996.3 L446.5,1997.6 L447.2,1999.0 L447.8,2000.3 L448.5,2001.7 L449.1,2003.0 L449.8,2004.4 L450.5,2005.7 L451.1,2007.0 L451.8,2008.4 L452.5,2009.7 L453.2,2011.0 L453.9,2012.4 L454.6,2013.7 L455.3,2015.0 L456.0,2016.3 L456.7,2017.7 L457.5,2019.0 L458.2,2020.3 L458.9,2021.6 L459.7,2022.9 L460.4,2024.2 L461.2,2025.5 L461.9,2026.8 L462.7,2028.1 L463.5,2029.3 L464.3,2030.6 L465.0,2031.9 L465.8,2033.2 L466.6,2034.4 L467.4,2035.7 L468.3,2037.0 L469.1,2038.2 L469.9,2039.5 L470.7,2040.7 L471.6,2042.0 L472.4,2043.2 L473.2,2044.5 L474.1,2045.7 L475.0,2046.9 L475.8,2048.2 L476.7,2049.4 L477.6,2050.6 L478.4,2051.8 L479.3,2053.0 L480.2,2054.2 L481.1,2055.4 L482.0,2056.7 L482.9,2057.9 L483.8,2059.0 L484.7,2060.2 L485.6,2061.4 L486.5,2062.6 L487.4,2063.8 L488.4,2065.0 L489.3,2066.2 L490.2,2067.3 L491.2,2068.5 L492.1,2069.7 L493.0,2070.9 L494.0,2072.0 L494.9,2073.2 L495.9,2074.3 L496.8,2075.5 L497.8,2076.6 L498.8,2077.8 L499.7,2078.9 L500.7,2080.1 L501.7,2081.2 L502.7,2082.3 L503.7,2083.4 L504.7,2084.5 L505.8,2085.6 L506.8,2086.7 L507.8,2087.8 L508.9,2088.8 L510.0,2089.9 L511.1,2090.9 L512.2,2091.9 L513.3,2092.9 L514.4,2093.9 L515.6,2094.9 L516.7,2095.8 L517.9,2096.7 L519.1,2097.6 L520.4,2098.4 L521.7,2099.2 L522.9,2099.9 L524.3,2100.6 L525.6,2101.3 L527.0,2101.8 L528.4,2102.3 L529.8,2102.7 L531.3,2103.0 L532.7,2103.2 L534.2,2103.4 L535.7,2103.4 L537.1,2103.3 L538.6,2103.1 L540.1,2102.9 L541.5,2102.5 L542.9,2102.1 L544.3,2101.5 L545.7,2100.9 L547.0,2100.3 L548.3,2099.6 L549.6,2098.8 L550.8,2098.0 L552.0,2097.1 L553.2,2096.2 L554.4,2095.2 L555.5,2094.2 L556.6,2093.2 L557.7,2092.2 L558.7,2091.1 L559.8,2090.0 L560.8,2088.9 L561.8,2087.8 L562.7,2086.7 L563.7,2085.5 L564.6,2084.3 L565.5,2083.1 L566.4,2081.9 L567.3,2080.7 L568.1,2079.5 L569.0,2078.2 L569.8,2077.0 L570.6,2075.7 L571.4,2074.5 L572.2,2073.2 L573.0,2071.9 L573.8,2070.6 L574.5,2069.3 L575.3,2068.0 L576.0,2066.7 L576.7,2065.4 L577.4,2064.1 L578.1,2062.8 L578.8,2061.4 L579.5,2060.1 L580.2,2058.8 L580.8,2057.4 L581.5,2056.1 L582.1,2054.7 L582.8,2053.3 L583.4,2052.0 L584.0,2050.6 L584.6,2049.2 L585.2,2047.9 L585.8,2046.5 L586.3,2045.1 L586.9,2043.7 L587.5,2042.3 L588.0,2040.9 L588.6,2039.5 L589.1,2038.1 L589.6,2036.7 L590.1,2035.3 L590.6,2033.9 L591.1,2032.5 L591.6,2031.0 L592.1,2029.6 L592.6,2028.2 L593.0,2026.8 L593.5,2025.3 L593.9,2023.9 L594.4,2022.5 L594.8,2021.1 L595.3,2019.6 L595.7,2018.2 L596.1,2016.7 L596.5,2015.3 L597.0,2013.9 L597.4,2012.4 L597.8,2011.0 L598.2,2009.5 L598.6,2008.1 L599.0,2006.6 L599.4,2005.2 L599.7,2003.7 L600.1,2002.3 L600.5,2000.8 L600.9,1999.4 L601.3,1997.9 L601.7,1996.5 L602.0,1995.0 L602.4,1993.6 L602.8,1992.1 L603.1,1990.7 L603.5,1989.2 L603.9,1987.8 L604.2,1986.3 L604.6,1984.9 L605.0,1983.4 L605.3,1981.9 L605.7,1980.5 L606.0,1979.0 L606.4,1977.6 L606.7,1976.1 L607.1,1974.7 L607.4,1973.2 L607.8,1971.7 L608.1,1970.3 L608.5,1968.8 L608.8,1967.4 L609.2,1965.9 L609.5,1964.4 L609.9,1963.0 L610.2,1961.5 L610.5,1960.1 L610.9,1958.6 L611.2,1957.1 L611.6,1955.7 L611.9,1954.2 L612.2,1952.7 L612.6,1951.3 L612.9,1949.8 L613.2,1948.4 L613.6,1946.9 L613.9,1945.4 L614.2,1944.0 L614.6,1942.5 L614.9,1941.1 L615.2,1939.6 L615.6,1938.1 L615.9,1936.7 L616.2,1935.2 L616.6,1933.7 L616.9,1932.3 L617.2,1930.8 L617.6,1929.4 L617.9,1927.9 L618.2,1926.4 L618.6,1925.0 L618.9,1923.5 L619.2,1922.0 L619.6,1920.6 L619.9,1919.1 L620.2,1917.7 L620.6,1916.2 L620.9,1914.7 L621.3,1913.3 L621.6,1911.8 L621.9,1910.3 L622.3,1908.9 L622.6,1907.4 L623.0,1906.0 L623.3,1904.5 L623.6,1903.0 L624.0,1901.6 L624.3,1900.1 L624.6,1898.7 L625.0,1897.2 L625.3,1895.7 L625.6,1894.3 L625.9,1892.8 L626.3,1891.3 L626.6,1889.9 L626.9,1888.4 L627.2,1886.9 L627.5,1885.5 L627.9,1884.0 L628.2,1882.5 L628.5,1881.1 L628.8,1879.6 L629.2,1878.2 L629.5,1876.7 L629.9,1875.2 L630.3,1873.8 L630.6,1872.3 L631.0,1870.9 L631.5,1869.5 L631.9,1868.0 L632.4,1866.6 L632.9,1865.2 L633.4,1863.8 L634.0,1862.4 L634.6,1861.0 L635.2,1859.7 L635.9,1858.3 L636.6,1857.0 L637.3,1855.7 L638.1,1854.5 L639.0,1853.2 L639.8,1852.0 L640.8,1850.8 L641.7,1849.7 L642.8,1848.6 L643.8,1847.6 L645.0,1846.7 L646.1,1845.8 L647.4,1845.0 L648.7,1844.3 L650.0,1843.8 L651.4,1843.5 L652.8,1843.3 L654.1,1843.3 L655.5,1843.5 L656.8,1844.0 L658.1,1844.6 L659.2,1845.4 L660.3,1846.3 L661.3,1847.4 L662.3,1848.5 L663.2,1849.7 L664.0,1850.9 L664.8,1852.2 L665.6,1853.5 L666.3,1854.8 L667.1,1856.1 L667.8,1857.4 L668.6,1858.7 L669.3,1860.0 L670.0,1861.3 L670.7,1862.6 L671.4,1864.0 L672.1,1865.3 L672.8,1866.6 L673.6,1867.9 L674.3,1869.3 L675.0,1870.6 L675.6,1871.9 L676.3,1873.2 L677.0,1874.6 L677.7,1875.9 L678.4,1877.2 L679.1,1878.6 L679.8,1879.9 L680.4,1881.2 L681.1,1882.6 L681.8,1883.9 L682.5,1885.3 L683.1,1886.6 L683.8,1887.9 L684.5,1889.3 L685.2,1890.6 L685.8,1892.0 L686.5,1893.3 L687.2,1894.7 L687.8,1896.0 L688.5,1897.3 L689.2,1898.7 L689.8,1900.0 L690.5,1901.4 L691.2,1902.7 L691.8,1904.1 L692.5,1905.4 L693.2,1906.7 L693.9,1908.1 L694.5,1909.4 L695.2,1910.8 L695.9,1912.1 L696.6,1913.4 L697.3,1914.8 L698.0,1916.1 L698.6,1917.4 L699.3,1918.8 L700.0,1920.1 L700.7,1921.4 L701.4,1922.7 L702.2,1924.1 L702.9,1925.4 L703.6,1926.7 L704.3,1928.0 L705.0,1929.3 L705.8,1930.6 L706.5,1931.9 L707.3,1933.2 L708.0,1934.5 L708.8,1935.8 L709.5,1937.1 L710.3,1938.4 L711.0,1939.7 L711.8,1941.0 L712.6,1942.3 L713.4,1943.6 L714.1,1944.8 L714.9,1946.1 L715.7,1947.4 L716.5,1948.7 L717.3,1949.9 L718.1,1951.2 L718.9,1952.5 L719.8,1953.7 L720.6,1955.0 L721.4,1956.2 L722.2,1957.5 L723.1,1958.7 L723.9,1960.0 L724.7,1961.2 L725.6,1962.4 L726.4,1963.7 L727.3,1964.9 L728.2,1966.1 L729.0,1967.4 L729.9,1968.6 L730.8,1969.8 L731.6,1971.0 L732.5,1972.2 L733.4,1973.5 L734.3,1974.7 L735.2,1975.9 L736.1,1977.1 L737.0,1978.3 L737.9,1979.5 L738.8,1980.7 L739.7,1981.9 L740.6,1983.0 L741.5,1984.2 L742.5,1985.4 L743.4,1986.6 L744.3,1987.8 L745.3,1988.9 L746.2,1990.1 L747.2,1991.3 L748.1,1992.4 L749.1,1993.6 L750.0,1994.7 L751.0,1995.9 L751.9,1997.0 L752.9,1998.2 L753.9,1999.3 L754.9,2000.4 L755.9,2001.6 L756.8,2002.7 L757.8,2003.8 L758.8,2005.0 L759.8,2006.1 L760.8,2007.2 L761.8,2008.3 L762.9,2009.4 L763.9,2010.5 L764.9,2011.6 L765.9,2012.7 L766.9,2013.8 L768.0,2014.9 L769.0,2016.0 L770.0,2017.1 L771.1,2018.1 L772.1,2019.2 L773.2,2020.3 L774.2,2021.3 L775.3,2022.4 L776.4,2023.5 L777.4,2024.5 L778.5,2025.6 L779.6,2026.6 L780.6,2027.7 L781.7,2028.7 L782.8,2029.7 L783.9,2030.8 L785.0,2031.8 L786.1,2032.8 L787.2,2033.8 L788.3,2034.9 L789.4,2035.9 L790.5,2036.9 L791.6,2037.9 L792.7,2038.9 L793.9,2039.9 L795.0,2040.9 L796.1,2041.9 L797.2,2042.8 L798.4,2043.8 L799.5,2044.8 L800.7,2045.8 L801.8,2046.8 L802.9,2047.7 L804.1,2048.7 L805.3,2049.6 L806.4,2050.6 L807.6,2051.5 L808.7,2052.5 L809.9,2053.4 L811.1,2054.4 L812.2,2055.3 L813.4,2056.2 L814.6,2057.2 L815.8,2058.1 L817.0,2059.0 L818.2,2059.9 L819.4,2060.8 L820.5,2061.7 L821.7,2062.6 L822.9,2063.5 L824.2,2064.4 L825.4,2065.3 L826.6,2066.2 L827.8,2067.1 L829.0,2068.0 L830.2,2068.8 L831.4,2069.7 L832.7,2070.6 L833.9,2071.4 L835.1,2072.3 L836.3,2073.2 L837.6,2074.0 L838.8,2074.9 L840.1,2075.7 L841.3,2076.5 L842.6,2077.4 L843.8,2078.2 L845.1,2079.0 L846.3,2079.9 L847.6,2080.7 L848.8,2081.5 L850.1,2082.3 L851.3,2083.1 L852.6,2083.9 L853.9,2084.7 L855.2,2085.5 L856.4,2086.3 L857.7,2087.1 L859.0,2087.9 L860.3,2088.6 L861.5,2089.4 L862.8,2090.2 L864.1,2091.0 L865.4,2091.7 L866.7,2092.5 L868.0,2093.2 L869.3,2094.0 L870.6,2094.7 L871.9,2095.5 L873.2,2096.2 L874.5,2097.0 L875.8,2097.7 L877.1,2098.4 L878.4,2099.1 L879.8,2099.9 L881.1,2100.6 L882.4,2101.3 L883.7,2102.0 L885.0,2102.7 L886.4,2103.4 L887.7,2104.1 L889.0,2104.8 L890.4,2105.5 L891.7,2106.2 L893.0,2106.9 L894.4,2107.5 L895.7,2108.2 L897.1,2108.9 L898.4,2109.6 L899.7,2110.2 L901.1,2110.9 L902.4,2111.5 L903.8,2112.2 L905.1,2112.8 L906.5,2113.5 L907.9,2114.1 L909.2,2114.7 L910.6,2115.4 L911.9,2116.0 L913.3,2116.6 L914.7,2117.3 L916.0,2117.9 L917.4,2118.5 L918.8,2119.1 L920.1,2119.7 L921.5,2120.3 L922.9,2120.9 L924.3,2121.5 L925.6,2122.1 L927.0,2122.7 L928.4,2123.2 L929.8,2123.8 L931.2,2124.4 L932.6,2125.0 L934.0,2125.5 L935.3,2126.1 L936.7,2126.7 L938.1,2127.2 L939.5,2127.8 L940.9,2128.3 L942.3,2128.9 L943.7,2129.4 L945.1,2130.0 L946.5,2130.5 L947.9,2131.0 L949.3,2131.5 L950.7,2132.1 L952.1,2132.6 L953.5,2133.1 L954.9,2133.6 L956.3,2134.1 L957.7,2134.6 L958.9,2135.1 L960.1,2135.5 L961.1,2135.8 L961.9,2136.1" fill="none" stroke="#a8d03a" stroke-width="3.8" stroke-linejoin="round" stroke-linecap="butt" clip-path="url(#clipC)" />
<path d="M89.0,2166.1 L89.5,2165.4 L90.2,2164.5 L91.0,2163.4 L91.9,2162.3 L92.9,2161.1 L93.8,2160.0 L94.8,2158.9 L95.8,2157.8 L96.8,2156.7 L97.9,2155.6 L98.9,2154.5 L100.0,2153.5 L101.1,2152.4 L102.2,2151.4 L103.3,2150.4 L104.4,2149.4 L105.5,2148.4 L106.7,2147.4 L107.8,2146.4 L108.9,2145.5 L110.1,2144.5 L111.2,2143.6 L112.4,2142.6 L113.6,2141.6 L114.7,2140.7 L115.9,2139.7 L117.0,2138.8 L118.2,2137.8 L119.4,2136.9 L120.5,2135.9 L121.7,2135.0 L122.8,2134.0 L123.9,2133.0 L125.1,2132.0 L126.2,2131.0 L127.3,2130.0 L128.4,2129.0 L129.5,2128.0 L130.6,2127.0 L131.7,2125.9 L132.7,2124.9 L133.8,2123.8 L134.8,2122.7 L135.8,2121.6 L136.8,2120.4 L137.8,2119.3 L138.7,2118.1 L139.6,2117.0 L140.5,2115.8 L141.4,2114.6 L142.3,2113.3 L143.2,2112.1 L144.0,2110.9 L144.8,2109.6 L145.6,2108.3 L146.4,2107.1 L147.2,2105.8 L147.9,2104.5 L148.7,2103.2 L149.4,2101.9 L150.2,2100.6 L150.9,2099.3 L151.6,2097.9 L152.3,2096.6 L153.0,2095.3 L153.7,2094.0 L154.4,2092.7 L155.1,2091.3 L155.8,2090.0 L156.5,2088.7 L157.2,2087.3 L157.9,2086.0 L158.6,2084.7 L159.3,2083.4 L160.0,2082.1 L160.8,2080.7 L161.5,2079.4 L162.2,2078.1 L163.0,2076.8 L163.7,2075.5 L164.4,2074.2 L165.2,2072.9 L166.0,2071.6 L166.8,2070.3 L167.6,2069.1 L168.4,2067.8 L169.2,2066.6 L170.1,2065.4 L171.0,2064.2 L172.0,2063.0 L173.0,2061.9 L174.0,2060.9 L175.2,2060.0 L176.4,2059.2 L177.7,2058.6 L179.0,2058.2 L180.4,2058.1 L181.7,2058.3 L183.0,2058.7 L184.2,2059.4 L185.3,2060.4 L186.3,2061.4 L187.3,2062.6 L188.1,2063.8 L188.9,2065.1 L189.6,2066.4 L190.3,2067.7 L191.0,2069.0 L191.7,2070.4 L192.3,2071.7 L192.9,2073.1 L193.4,2074.5 L194.0,2075.9 L194.5,2077.3 L195.0,2078.7 L195.4,2080.2 L195.9,2081.6 L196.3,2083.0 L196.7,2084.5 L197.1,2085.9 L197.4,2087.4 L197.8,2088.8 L198.1,2090.3 L198.5,2091.8 L198.8,2093.2 L199.1,2094.7 L199.4,2096.2 L199.7,2097.6 L200.0,2099.1 L200.3,2100.6 L200.6,2102.0 L201.0,2103.5 L201.3,2105.0 L201.7,2106.4 L202.1,2107.9 L202.5,2109.3 L202.9,2110.8 L203.3,2112.2 L203.8,2113.6 L204.3,2115.0 L204.9,2116.4 L205.5,2117.8 L206.1,2119.1 L206.8,2120.5 L207.5,2121.8 L208.2,2123.1 L209.0,2124.3 L209.9,2125.6 L210.7,2126.8 L211.6,2128.0 L212.6,2129.2 L213.6,2130.3 L214.6,2131.4 L215.6,2132.5 L216.7,2133.5 L217.8,2134.5 L219.0,2135.5 L220.2,2136.4 L221.4,2137.3 L222.6,2138.1 L223.9,2138.9 L225.2,2139.6 L226.5,2140.3 L227.9,2140.9 L229.2,2141.5 L230.6,2142.1 L232.1,2142.5 L233.5,2142.9 L234.9,2143.3 L236.4,2143.6 L237.9,2143.8 L239.4,2144.0 L240.9,2144.1 L242.4,2144.1 L243.9,2144.1 L245.4,2144.1 L246.8,2144.0 L248.3,2143.8 L249.8,2143.7 L251.3,2143.5 L252.8,2143.3 L254.3,2143.1 L255.8,2142.9 L257.3,2142.6 L258.7,2142.4 L260.2,2142.2 L261.7,2142.0 L263.2,2141.8 L264.7,2141.6 L266.2,2141.4 L267.7,2141.3 L269.2,2141.2 L270.7,2141.1 L272.1,2141.0 L273.6,2140.9 L275.1,2140.8 L276.6,2140.6 L278.1,2140.3 L279.6,2140.0 L281.0,2139.6 L282.4,2139.2 L283.9,2138.7 L285.3,2138.2 L286.6,2137.7 L288.0,2137.1 L289.4,2136.4 L290.7,2135.8 L292.1,2135.1 L293.4,2134.4 L294.7,2133.7 L296.0,2132.9 L297.3,2132.2 L298.6,2131.4 L299.9,2130.6 L301.1,2129.8 L302.4,2129.0 L303.6,2128.2 L304.9,2127.3 L306.1,2126.4 L307.3,2125.6 L308.5,2124.7 L309.7,2123.8 L310.9,2122.8 L312.1,2121.9 L313.2,2121.0 L314.4,2120.0 L315.5,2119.0 L316.6,2118.0 L317.8,2117.0 L318.9,2116.0 L319.9,2115.0 L321.0,2113.9 L322.1,2112.9 L323.1,2111.8 L324.2,2110.7 L325.2,2109.6 L326.2,2108.5 L327.2,2107.4 L328.2,2106.3 L329.2,2105.2 L330.1,2104.0 L331.1,2102.8 L332.0,2101.7 L332.9,2100.5 L333.8,2099.3 L334.7,2098.1 L335.6,2096.9 L336.5,2095.6 L337.3,2094.4 L338.2,2093.2 L339.0,2091.9 L339.8,2090.7 L340.6,2089.4 L341.4,2088.1 L342.2,2086.8 L343.0,2085.6 L343.7,2084.3 L344.5,2083.0 L345.2,2081.6 L345.9,2080.3 L346.6,2079.0 L347.3,2077.7 L348.0,2076.4 L348.7,2075.0 L349.4,2073.7 L350.0,2072.3 L350.7,2071.0 L351.3,2069.6 L352.0,2068.3 L352.6,2066.9 L353.2,2065.5 L353.8,2064.2 L354.4,2062.8 L355.0,2061.4 L355.6,2060.0 L356.2,2058.7 L356.8,2057.3 L357.3,2055.9 L357.9,2054.5 L358.4,2053.1 L359.0,2051.7 L359.5,2050.3 L360.1,2048.9 L360.6,2047.5 L361.1,2046.1 L361.7,2044.7 L362.2,2043.3 L362.7,2041.9 L363.2,2040.5 L363.7,2039.0 L364.2,2037.6 L364.7,2036.2 L365.2,2034.8 L365.7,2033.4 L366.2,2032.0 L366.7,2030.6 L367.2,2029.1 L367.7,2027.7 L368.2,2026.3 L368.6,2024.9 L369.1,2023.5 L369.6,2022.0 L370.1,2020.6 L370.6,2019.2 L371.1,2017.8 L371.6,2016.4 L372.1,2015.0 L372.5,2013.5 L373.0,2012.1 L373.5,2010.7 L374.0,2009.3 L374.5,2007.9 L375.0,2006.5 L375.5,2005.0 L376.0,2003.6 L376.5,2002.2 L377.1,2000.8 L377.6,1999.4 L378.1,1998.0 L378.6,1996.6 L379.2,1995.2 L379.8,1993.8 L380.4,1992.4 L381.0,1991.1 L381.6,1989.7 L382.3,1988.4 L382.9,1987.0 L383.6,1985.7 L384.4,1984.4 L385.1,1983.1 L385.9,1981.8 L386.8,1980.6 L387.6,1979.4 L388.5,1978.2 L389.4,1977.0 L390.4,1975.8 L391.4,1974.7 L392.5,1973.7 L393.6,1972.7 L394.8,1971.9 L396.0,1971.1 L397.4,1970.6 L398.7,1970.2 L400.1,1970.1 L401.5,1970.2 L402.9,1970.6 L404.2,1971.2 L405.5,1971.9 L406.6,1972.8 L407.8,1973.8 L408.8,1974.8 L409.8,1975.9 L410.8,1977.0 L411.8,1978.2 L412.7,1979.4 L413.6,1980.6 L414.5,1981.8 L415.4,1983.0 L416.2,1984.2 L417.1,1985.5 L417.9,1986.7 L418.8,1987.9 L419.7,1989.2 L420.5,1990.4 L421.4,1991.6 L422.3,1992.8 L423.1,1994.0 L424.0,1995.2 L424.9,1996.4 L425.8,1997.7 L426.7,1998.9 L427.6,2000.1 L428.5,2001.3 L429.3,2002.5 L430.1,2003.8 L431.0,2005.0 L431.8,2006.3 L432.5,2007.6 L433.3,2008.9 L434.1,2010.2 L434.8,2011.5 L435.6,2012.8 L436.3,2014.1 L437.0,2015.4 L437.7,2016.7 L438.4,2018.1 L439.1,2019.4 L439.7,2020.7 L440.4,2022.1 L441.0,2023.4 L441.7,2024.8 L442.3,2026.2 L442.9,2027.5 L443.6,2028.9 L444.2,2030.3 L444.8,2031.6 L445.4,2033.0 L446.0,2034.4 L446.6,2035.8 L447.2,2037.1 L447.7,2038.5 L448.3,2039.9 L448.9,2041.3 L449.5,2042.7 L450.0,2044.1 L450.6,2045.5 L451.2,2046.8 L451.7,2048.2 L452.3,2049.6 L452.9,2051.0 L453.4,2052.4 L454.0,2053.8 L454.5,2055.2 L455.1,2056.6 L455.7,2058.0 L456.2,2059.4 L456.8,2060.7 L457.4,2062.1 L457.9,2063.5 L458.5,2064.9 L459.1,2066.3 L459.7,2067.7 L460.3,2069.1 L460.8,2070.4 L461.4,2071.8 L462.0,2073.2 L462.7,2074.6 L463.3,2075.9 L463.9,2077.3 L464.5,2078.6 L465.2,2080.0 L465.8,2081.4 L466.5,2082.7 L467.1,2084.1 L467.8,2085.4 L468.5,2086.7 L469.2,2088.1 L469.9,2089.4 L470.6,2090.7 L471.3,2092.0 L472.1,2093.3 L472.8,2094.6 L473.6,2095.9 L474.4,2097.2 L475.2,2098.4 L476.0,2099.7 L476.9,2100.9 L477.7,2102.2 L478.6,2103.4 L479.5,2104.6 L480.4,2105.8 L481.3,2107.0 L482.2,2108.2 L483.1,2109.3 L484.1,2110.5 L485.1,2111.6 L486.1,2112.7 L487.1,2113.8 L488.1,2114.9 L489.2,2116.0 L490.2,2117.1 L491.3,2118.1 L492.4,2119.1 L493.5,2120.2 L494.6,2121.2 L495.8,2122.1 L496.9,2123.1 L498.1,2124.0 L499.2,2125.0 L500.4,2125.9 L501.6,2126.8 L502.8,2127.7 L504.0,2128.6 L505.3,2129.4 L506.5,2130.2 L507.8,2131.1 L509.1,2131.9 L510.3,2132.6 L511.6,2133.4 L512.9,2134.2 L514.2,2134.9 L515.5,2135.6 L516.9,2136.3 L518.2,2137.0 L519.6,2137.6 L520.9,2138.2 L522.3,2138.8 L523.7,2139.4 L525.1,2140.0 L526.5,2140.5 L527.9,2141.0 L529.3,2141.5 L530.7,2142.0 L532.2,2142.4 L533.6,2142.8 L535.1,2143.2 L536.5,2143.5 L538.0,2143.8 L539.5,2144.0 L541.0,2144.3 L542.4,2144.4 L543.9,2144.6 L545.4,2144.6 L546.9,2144.7 L548.4,2144.7 L549.9,2144.6 L551.4,2144.5 L552.9,2144.3 L554.4,2144.1 L555.8,2143.8 L557.3,2143.4 L558.7,2143.0 L560.1,2142.5 L561.5,2141.9 L562.9,2141.3 L564.2,2140.7 L565.5,2140.0 L566.8,2139.2 L568.1,2138.4 L569.3,2137.5 L570.5,2136.7 L571.7,2135.7 L572.8,2134.8 L574.0,2133.8 L575.1,2132.7 L576.1,2131.7 L577.2,2130.6 L578.2,2129.5 L579.2,2128.4 L580.1,2127.2 L581.1,2126.1 L582.0,2124.9 L582.9,2123.7 L583.8,2122.5 L584.6,2121.3 L585.5,2120.0 L586.3,2118.8 L587.1,2117.5 L587.9,2116.2 L588.7,2114.9 L589.4,2113.6 L590.2,2112.3 L590.9,2111.0 L591.6,2109.7 L592.3,2108.4 L593.0,2107.1 L593.7,2105.7 L594.4,2104.4 L595.0,2103.0 L595.7,2101.7 L596.3,2100.3 L596.9,2098.9 L597.5,2097.6 L598.1,2096.2 L598.7,2094.8 L599.3,2093.4 L599.9,2092.1 L600.4,2090.7 L601.0,2089.3 L601.5,2087.9 L602.1,2086.5 L602.6,2085.1 L603.1,2083.7 L603.7,2082.3 L604.2,2080.9 L604.7,2079.4 L605.2,2078.0 L605.7,2076.6 L606.2,2075.2 L606.7,2073.8 L607.1,2072.4 L607.6,2070.9 L608.1,2069.5 L608.6,2068.1 L609.0,2066.7 L609.5,2065.2 L609.9,2063.8 L610.4,2062.4 L610.8,2060.9 L611.2,2059.5 L611.7,2058.1 L612.1,2056.6 L612.5,2055.2 L612.9,2053.7 L613.4,2052.3 L613.8,2050.9 L614.2,2049.4 L614.6,2048.0 L615.0,2046.5 L615.5,2045.1 L615.9,2043.7 L616.3,2042.2 L616.7,2040.8 L617.1,2039.3 L617.5,2037.9 L617.9,2036.4 L618.3,2035.0 L618.8,2033.6 L619.2,2032.1 L619.6,2030.7 L620.0,2029.2 L620.4,2027.8 L620.9,2026.4 L621.3,2024.9 L621.7,2023.5 L622.2,2022.1 L622.6,2020.6 L623.0,2019.2 L623.5,2017.8 L623.9,2016.3 L624.4,2014.9 L624.9,2013.5 L625.3,2012.1 L625.8,2010.6 L626.3,2009.2 L626.8,2007.8 L627.4,2006.4 L627.9,2005.0 L628.5,2003.6 L629.1,2002.2 L629.7,2000.9 L630.3,1999.5 L631.0,1998.2 L631.6,1996.8 L632.3,1995.5 L633.1,1994.2 L633.9,1992.9 L634.7,1991.7 L635.5,1990.4 L636.4,1989.2 L637.3,1988.0 L638.3,1986.9 L639.3,1985.8 L640.4,1984.8 L641.5,1983.7 L642.6,1982.8 L643.8,1981.9 L645.0,1981.1 L646.3,1980.3 L647.6,1979.6 L649.0,1979.0 L650.4,1978.5 L651.8,1978.1 L653.3,1977.8 L654.7,1977.7 L656.2,1977.7 L657.7,1977.8 L659.1,1978.1 L660.5,1978.6 L661.9,1979.2 L663.2,1979.8 L664.5,1980.6 L665.7,1981.5 L666.8,1982.4 L668.0,1983.4 L669.1,1984.4 L670.1,1985.4 L671.2,1986.5 L672.2,1987.6 L673.2,1988.8 L674.1,1989.9 L675.1,1991.1 L676.0,1992.2 L677.0,1993.4 L677.9,1994.6 L678.8,1995.7 L679.8,1996.9 L680.7,1998.1 L681.6,1999.3 L682.6,2000.4 L683.5,2001.6 L684.4,2002.8 L685.4,2004.0 L686.3,2005.1 L687.3,2006.3 L688.2,2007.5 L689.2,2008.6 L690.1,2009.8 L691.1,2010.9 L692.0,2012.1 L693.0,2013.2 L693.9,2014.4 L694.9,2015.5 L695.9,2016.7 L696.9,2017.8 L697.8,2019.0 L698.8,2020.1 L699.8,2021.2 L700.8,2022.4 L701.7,2023.5 L702.7,2024.6 L703.7,2025.8 L704.7,2026.9 L705.7,2028.0 L706.7,2029.1 L707.7,2030.2 L708.7,2031.3 L709.7,2032.5 L710.8,2033.6 L711.8,2034.7 L712.8,2035.8 L713.8,2036.9 L714.8,2038.0 L715.9,2039.0 L716.9,2040.1 L718.0,2041.2 L719.0,2042.3 L720.0,2043.4 L721.1,2044.4 L722.1,2045.5 L723.2,2046.6 L724.3,2047.6 L725.3,2048.7 L726.4,2049.7 L727.5,2050.8 L728.5,2051.8 L729.6,2052.9 L730.7,2053.9 L731.8,2054.9 L732.9,2056.0 L734.0,2057.0 L735.1,2058.0 L736.2,2059.0 L737.3,2060.0 L738.4,2061.0 L739.5,2062.1 L740.6,2063.0 L741.8,2064.0 L742.9,2065.0 L744.0,2066.0 L745.2,2067.0 L746.3,2068.0 L747.5,2068.9 L748.6,2069.9 L749.8,2070.9 L750.9,2071.8 L752.1,2072.8 L753.2,2073.7 L754.4,2074.6 L755.6,2075.6 L756.8,2076.5 L758.0,2077.4 L759.1,2078.3 L760.3,2079.2 L761.5,2080.1 L762.7,2081.0 L763.9,2081.9 L765.2,2082.8 L766.4,2083.7 L767.6,2084.6 L768.8,2085.4 L770.0,2086.3 L771.3,2087.1 L772.5,2088.0 L773.8,2088.8 L775.0,2089.7 L776.2,2090.5 L777.5,2091.3 L778.8,2092.1 L780.0,2093.0 L781.3,2093.8 L782.6,2094.6 L783.8,2095.4 L785.1,2096.1 L786.4,2096.9 L787.7,2097.7 L788.9,2098.5 L790.2,2099.2 L791.5,2100.0 L792.8,2100.8 L794.1,2101.5 L795.4,2102.3 L796.7,2103.0 L798.0,2103.7 L799.4,2104.5 L800.7,2105.2 L802.0,2105.9 L803.3,2106.6 L804.6,2107.3 L806.0,2108.0 L807.3,2108.7 L808.6,2109.4 L809.9,2110.1 L811.3,2110.8 L812.6,2111.5 L814.0,2112.1 L815.3,2112.8 L816.6,2113.5 L818.0,2114.1 L819.3,2114.8 L820.7,2115.4 L822.1,2116.1 L823.4,2116.7 L824.8,2117.3 L826.1,2118.0 L827.5,2118.6 L828.8,2119.2 L830.2,2119.9 L831.6,2120.5 L833.0,2121.1 L834.3,2121.7 L835.7,2122.3 L837.1,2122.9 L838.4,2123.5 L839.8,2124.1 L841.2,2124.7 L842.6,2125.3 L844.0,2125.8 L845.4,2126.4 L846.7,2127.0 L848.1,2127.6 L849.5,2128.1 L850.9,2128.7 L852.3,2129.3 L853.7,2129.8 L855.1,2130.4 L856.5,2130.9 L857.9,2131.5 L859.3,2132.0 L860.7,2132.6 L862.1,2133.1 L863.5,2133.6 L864.9,2134.2 L866.3,2134.7 L867.7,2135.2 L869.1,2135.8 L870.5,2136.3 L871.9,2136.8 L873.3,2137.3 L874.7,2137.8 L876.1,2138.4 L877.5,2138.9 L878.9,2139.4 L880.3,2139.9 L881.8,2140.4 L883.2,2140.9 L884.6,2141.4 L886.0,2141.9 L887.4,2142.4 L888.8,2142.9 L890.2,2143.4 L891.7,2143.9 L893.1,2144.4 L894.5,2144.8 L895.9,2145.3 L897.3,2145.8 L898.8,2146.3 L900.2,2146.8 L901.6,2147.3 L903.0,2147.7 L904.4,2148.2 L905.9,2148.7 L907.3,2149.2 L908.7,2149.6 L910.1,2150.1 L911.6,2150.6 L913.0,2151.0 L914.4,2151.5 L915.8,2152.0 L917.3,2152.4 L918.7,2152.9 L920.1,2153.4 L921.5,2153.8 L923.0,2154.3 L924.4,2154.8 L925.8,2155.2 L927.3,2155.7 L928.7,2156.1 L930.1,2156.6 L931.5,2157.1 L933.0,2157.5 L934.4,2158.0 L935.8,2158.4 L937.2,2158.9 L938.7,2159.4 L940.1,2159.8 L941.5,2160.3 L943.0,2160.7 L944.4,2161.2 L945.8,2161.7 L947.2,2162.1 L948.7,2162.6 L950.1,2163.0 L951.5,2163.5 L953.0,2164.0 L954.4,2164.4 L955.8,2164.9 L957.2,2165.3 L958.6,2165.8 L959.9,2166.2 L961.1,2166.6 L962.0,2166.9" fill="none" stroke="#f0b040" stroke-width="3.8" stroke-linejoin="round" stroke-linecap="butt" clip-path="url(#clipC)" />
<path d="M88.8,2176.8 L89.7,2176.4 L91.0,2175.8 L92.3,2175.1 L93.7,2174.5 L95.0,2173.9 L96.4,2173.3 L97.8,2172.7 L99.2,2172.1 L100.6,2171.6 L102.0,2171.0 L103.4,2170.5 L104.8,2170.0 L106.2,2169.5 L107.6,2169.0 L109.1,2168.5 L110.5,2168.1 L111.9,2167.6 L113.3,2167.1 L114.8,2166.7 L116.2,2166.2 L117.6,2165.8 L119.1,2165.3 L120.5,2164.8 L121.9,2164.4 L123.3,2163.9 L124.7,2163.4 L126.2,2162.9 L127.6,2162.4 L129.0,2161.9 L130.4,2161.3 L131.8,2160.8 L133.2,2160.2 L134.5,2159.6 L135.9,2159.0 L137.3,2158.4 L138.6,2157.7 L140.0,2157.0 L141.3,2156.3 L142.6,2155.6 L143.9,2154.9 L145.2,2154.1 L146.5,2153.3 L147.7,2152.5 L148.9,2151.6 L150.2,2150.8 L151.4,2149.9 L152.6,2149.0 L153.8,2148.1 L154.9,2147.1 L156.1,2146.2 L157.3,2145.3 L158.5,2144.3 L159.6,2143.4 L160.8,2142.5 L162.0,2141.5 L163.2,2140.6 L164.4,2139.7 L165.6,2138.9 L166.8,2138.0 L168.1,2137.2 L169.4,2136.4 L170.7,2135.7 L172.0,2135.0 L173.4,2134.4 L174.8,2134.0 L176.3,2133.6 L177.7,2133.3 L179.2,2133.3 L180.7,2133.3 L182.2,2133.6 L183.6,2134.0 L185.0,2134.6 L186.3,2135.3 L187.6,2136.0 L188.9,2136.8 L190.1,2137.7 L191.3,2138.6 L192.5,2139.5 L193.7,2140.5 L194.8,2141.4 L196.0,2142.3 L197.2,2143.3 L198.3,2144.2 L199.5,2145.1 L200.7,2146.0 L202.0,2146.9 L203.2,2147.7 L204.4,2148.6 L205.7,2149.3 L207.0,2150.1 L208.3,2150.9 L209.6,2151.6 L210.9,2152.3 L212.3,2153.0 L213.6,2153.6 L215.0,2154.3 L216.4,2154.9 L217.7,2155.5 L219.1,2156.0 L220.5,2156.6 L221.9,2157.1 L223.3,2157.6 L224.8,2158.1 L226.2,2158.6 L227.6,2159.0 L229.0,2159.4 L230.5,2159.8 L231.9,2160.2 L233.4,2160.6 L234.9,2160.9 L236.3,2161.3 L237.8,2161.6 L239.3,2161.9 L240.7,2162.2 L242.2,2162.4 L243.7,2162.7 L245.2,2162.9 L246.7,2163.1 L248.1,2163.3 L249.6,2163.4 L251.1,2163.6 L252.6,2163.7 L254.1,2163.8 L255.6,2163.9 L257.1,2164.0 L258.6,2164.0 L260.1,2164.0 L261.6,2164.1 L263.1,2164.1 L264.6,2164.0 L266.1,2164.0 L267.6,2163.9 L269.1,2163.9 L270.6,2163.8 L272.1,2163.6 L273.6,2163.5 L275.1,2163.4 L276.6,2163.2 L278.1,2163.0 L279.5,2162.8 L281.0,2162.5 L282.5,2162.3 L284.0,2162.0 L285.5,2161.7 L286.9,2161.4 L288.4,2161.0 L289.8,2160.7 L291.3,2160.3 L292.7,2159.9 L294.2,2159.5 L295.6,2159.0 L297.0,2158.6 L298.4,2158.1 L299.9,2157.6 L301.3,2157.0 L302.7,2156.5 L304.0,2155.9 L305.4,2155.3 L306.8,2154.7 L308.2,2154.1 L309.5,2153.4 L310.8,2152.8 L312.2,2152.1 L313.5,2151.4 L314.8,2150.7 L316.1,2149.9 L317.4,2149.1 L318.7,2148.4 L320.0,2147.6 L321.2,2146.7 L322.5,2145.9 L323.7,2145.0 L324.9,2144.2 L326.1,2143.3 L327.3,2142.4 L328.5,2141.4 L329.7,2140.5 L330.8,2139.5 L331.9,2138.6 L333.1,2137.6 L334.2,2136.6 L335.3,2135.5 L336.4,2134.5 L337.4,2133.4 L338.5,2132.4 L339.5,2131.3 L340.5,2130.2 L341.5,2129.1 L342.5,2127.9 L343.5,2126.8 L344.4,2125.6 L345.4,2124.5 L346.3,2123.3 L347.2,2122.1 L348.1,2120.9 L349.0,2119.7 L349.8,2118.4 L350.6,2117.2 L351.5,2115.9 L352.3,2114.7 L353.0,2113.4 L353.8,2112.1 L354.5,2110.8 L355.3,2109.5 L356.0,2108.2 L356.7,2106.8 L357.4,2105.5 L358.1,2104.2 L358.8,2102.8 L359.5,2101.5 L360.1,2100.2 L360.8,2098.8 L361.5,2097.5 L362.2,2096.1 L362.8,2094.8 L363.5,2093.5 L364.2,2092.1 L364.9,2090.8 L365.6,2089.5 L366.3,2088.1 L367.0,2086.8 L367.7,2085.5 L368.4,2084.2 L369.2,2082.9 L370.0,2081.6 L370.7,2080.3 L371.5,2079.1 L372.4,2077.8 L373.2,2076.6 L374.1,2075.3 L374.9,2074.1 L375.8,2072.9 L376.8,2071.7 L377.7,2070.6 L378.7,2069.4 L379.7,2068.3 L380.7,2067.2 L381.7,2066.1 L382.8,2065.1 L383.9,2064.1 L385.1,2063.1 L386.3,2062.2 L387.5,2061.4 L388.8,2060.6 L390.2,2060.0 L391.6,2059.6 L393.0,2059.3 L394.5,2059.3 L396.0,2059.5 L397.4,2059.9 L398.8,2060.5 L400.1,2061.2 L401.3,2062.1 L402.5,2063.0 L403.6,2063.9 L404.8,2065.0 L405.8,2066.0 L406.9,2067.1 L407.9,2068.2 L408.9,2069.3 L409.9,2070.4 L410.9,2071.5 L411.9,2072.6 L412.9,2073.7 L413.9,2074.9 L414.9,2076.0 L415.9,2077.1 L417.0,2078.2 L418.0,2079.3 L419.1,2080.3 L420.2,2081.3 L421.3,2082.3 L422.5,2083.2 L423.7,2084.2 L424.8,2085.1 L426.0,2086.0 L427.2,2087.0 L428.3,2087.9 L429.4,2088.9 L430.5,2090.0 L431.5,2091.1 L432.5,2092.2 L433.4,2093.4 L434.3,2094.6 L435.2,2095.8 L436.0,2097.1 L436.8,2098.4 L437.5,2099.7 L438.2,2101.0 L438.9,2102.3 L439.6,2103.7 L440.2,2105.0 L440.9,2106.4 L441.5,2107.8 L442.1,2109.1 L442.7,2110.5 L443.3,2111.9 L443.9,2113.2 L444.5,2114.6 L445.1,2116.0 L445.7,2117.4 L446.3,2118.7 L446.9,2120.1 L447.5,2121.5 L448.2,2122.8 L448.8,2124.2 L449.5,2125.5 L450.2,2126.8 L451.0,2128.1 L451.7,2129.4 L452.5,2130.7 L453.4,2131.9 L454.2,2133.2 L455.1,2134.4 L456.1,2135.5 L457.0,2136.7 L458.0,2137.8 L459.1,2138.9 L460.2,2139.9 L461.2,2140.9 L462.4,2141.9 L463.5,2142.9 L464.7,2143.8 L465.9,2144.7 L467.1,2145.6 L468.4,2146.4 L469.7,2147.2 L470.9,2148.0 L472.3,2148.7 L473.6,2149.4 L474.9,2150.1 L476.3,2150.7 L477.6,2151.3 L479.0,2151.9 L480.4,2152.5 L481.8,2153.0 L483.2,2153.5 L484.7,2154.0 L486.1,2154.4 L487.5,2154.8 L489.0,2155.2 L490.4,2155.6 L491.9,2155.9 L493.4,2156.2 L494.8,2156.5 L496.3,2156.8 L497.8,2157.1 L499.3,2157.3 L500.8,2157.5 L502.2,2157.7 L503.7,2157.9 L505.2,2158.0 L506.7,2158.2 L508.2,2158.3 L509.7,2158.4 L511.2,2158.5 L512.7,2158.6 L514.2,2158.6 L515.7,2158.6 L517.2,2158.7 L518.7,2158.7 L520.2,2158.7 L521.7,2158.7 L523.2,2158.6 L524.7,2158.6 L526.2,2158.5 L527.7,2158.4 L529.2,2158.3 L530.7,2158.2 L532.2,2158.1 L533.7,2158.0 L535.2,2157.9 L536.7,2157.7 L538.2,2157.6 L539.6,2157.4 L541.1,2157.2 L542.6,2157.0 L544.1,2156.7 L545.6,2156.5 L547.1,2156.2 L548.5,2155.9 L550.0,2155.6 L551.5,2155.3 L552.9,2154.9 L554.4,2154.5 L555.8,2154.1 L557.2,2153.7 L558.7,2153.3 L560.1,2152.8 L561.5,2152.3 L562.9,2151.8 L564.3,2151.2 L565.7,2150.6 L567.1,2150.0 L568.4,2149.3 L569.7,2148.7 L571.1,2148.0 L572.4,2147.2 L573.7,2146.5 L574.9,2145.7 L576.2,2144.8 L577.4,2144.0 L578.7,2143.1 L579.9,2142.2 L581.0,2141.3 L582.2,2140.4 L583.4,2139.4 L584.5,2138.5 L585.6,2137.5 L586.7,2136.4 L587.8,2135.4 L588.9,2134.4 L590.0,2133.3 L591.0,2132.3 L592.1,2131.2 L593.1,2130.1 L594.1,2129.0 L595.1,2127.9 L596.1,2126.7 L597.1,2125.6 L598.1,2124.5 L599.0,2123.3 L600.0,2122.1 L600.9,2121.0 L601.8,2119.8 L602.8,2118.6 L603.7,2117.4 L604.6,2116.2 L605.5,2115.0 L606.4,2113.8 L607.3,2112.6 L608.2,2111.4 L609.0,2110.2 L609.9,2109.0 L610.8,2107.8 L611.7,2106.6 L612.5,2105.3 L613.4,2104.1 L614.3,2102.9 L615.2,2101.7 L616.1,2100.5 L617.0,2099.3 L617.8,2098.1 L618.7,2096.9 L619.7,2095.7 L620.6,2094.5 L621.5,2093.3 L622.4,2092.1 L623.4,2090.9 L624.3,2089.8 L625.3,2088.6 L626.3,2087.5 L627.3,2086.4 L628.3,2085.3 L629.4,2084.3 L630.5,2083.2 L631.6,2082.2 L632.8,2081.3 L634.0,2080.5 L635.3,2079.7 L636.6,2079.0 L638.0,2078.4 L639.4,2077.9 L640.8,2077.6 L642.3,2077.4 L643.8,2077.3 L645.3,2077.3 L646.8,2077.4 L648.3,2077.6 L649.7,2077.9 L651.2,2078.3 L652.6,2078.8 L654.0,2079.3 L655.4,2079.9 L656.8,2080.5 L658.1,2081.1 L659.4,2081.8 L660.8,2082.6 L662.0,2083.3 L663.3,2084.1 L664.6,2085.0 L665.8,2085.8 L667.0,2086.7 L668.3,2087.5 L669.5,2088.4 L670.7,2089.3 L671.9,2090.2 L673.0,2091.2 L674.2,2092.1 L675.4,2093.1 L676.5,2094.0 L677.7,2095.0 L678.8,2096.0 L679.9,2096.9 L681.1,2097.9 L682.2,2098.9 L683.4,2099.9 L684.5,2100.9 L685.6,2101.8 L686.8,2102.8 L687.9,2103.8 L689.0,2104.7 L690.2,2105.7 L691.4,2106.7 L692.5,2107.6 L693.7,2108.5 L694.9,2109.5 L696.1,2110.4 L697.3,2111.2 L698.5,2112.1 L699.8,2113.0 L701.0,2113.8 L702.3,2114.6 L703.5,2115.4 L704.8,2116.2 L706.1,2116.9 L707.4,2117.7 L708.7,2118.4 L710.1,2119.1 L711.4,2119.8 L712.7,2120.5 L714.0,2121.2 L715.4,2121.8 L716.7,2122.5 L718.1,2123.2 L719.4,2123.8 L720.8,2124.5 L722.1,2125.1 L723.5,2125.8 L724.9,2126.4 L726.2,2127.0 L727.6,2127.7 L728.9,2128.3 L730.3,2128.9 L731.7,2129.5 L733.0,2130.1 L734.4,2130.7 L735.8,2131.4 L737.2,2132.0 L738.5,2132.6 L739.9,2133.2 L741.3,2133.8 L742.7,2134.3 L744.0,2134.9 L745.4,2135.5 L746.8,2136.1 L748.2,2136.7 L749.6,2137.2 L751.0,2137.8 L752.4,2138.4 L753.8,2138.9 L755.1,2139.5 L756.5,2140.0 L757.9,2140.6 L759.3,2141.1 L760.7,2141.7 L762.1,2142.2 L763.5,2142.7 L764.9,2143.3 L766.3,2143.8 L767.8,2144.3 L769.2,2144.8 L770.6,2145.3 L772.0,2145.8 L773.4,2146.3 L774.8,2146.8 L776.2,2147.3 L777.6,2147.8 L779.1,2148.3 L780.5,2148.8 L781.9,2149.3 L783.3,2149.7 L784.8,2150.2 L786.2,2150.7 L787.6,2151.1 L789.0,2151.6 L790.5,2152.0 L791.9,2152.5 L793.3,2152.9 L794.8,2153.4 L796.2,2153.8 L797.6,2154.2 L799.1,2154.7 L800.5,2155.1 L802.0,2155.5 L803.4,2155.9 L804.8,2156.3 L806.3,2156.7 L807.7,2157.1 L809.2,2157.5 L810.6,2157.9 L812.1,2158.3 L813.5,2158.7 L815.0,2159.0 L816.4,2159.4 L817.9,2159.8 L819.3,2160.1 L820.8,2160.5 L822.3,2160.9 L823.7,2161.2 L825.2,2161.6 L826.6,2161.9 L828.1,2162.2 L829.6,2162.6 L831.0,2162.9 L832.5,2163.2 L834.0,2163.6 L835.4,2163.9 L836.9,2164.2 L838.4,2164.5 L839.8,2164.8 L841.3,2165.1 L842.8,2165.4 L844.2,2165.7 L845.7,2166.0 L847.2,2166.3 L848.7,2166.5 L850.1,2166.8 L851.6,2167.1 L853.1,2167.4 L854.6,2167.6 L856.0,2167.9 L857.5,2168.2 L859.0,2168.4 L860.5,2168.7 L861.9,2168.9 L863.4,2169.2 L864.9,2169.4 L866.4,2169.6 L867.9,2169.9 L869.4,2170.1 L870.8,2170.3 L872.3,2170.5 L873.8,2170.8 L875.3,2171.0 L876.8,2171.2 L878.3,2171.4 L879.7,2171.6 L881.2,2171.8 L882.7,2172.0 L884.2,2172.2 L885.7,2172.4 L887.2,2172.6 L888.7,2172.8 L890.2,2172.9 L891.6,2173.1 L893.1,2173.3 L894.6,2173.5 L896.1,2173.6 L897.6,2173.8 L899.1,2174.0 L900.6,2174.1 L902.1,2174.3 L903.6,2174.4 L905.1,2174.6 L906.6,2174.7 L908.1,2174.9 L909.5,2175.0 L911.0,2175.2 L912.5,2175.3 L914.0,2175.4 L915.5,2175.6 L917.0,2175.7 L918.5,2175.8 L920.0,2175.9 L921.5,2176.0 L923.0,2176.2 L924.5,2176.3 L926.0,2176.4 L927.5,2176.5 L929.0,2176.6 L930.5,2176.7 L932.0,2176.8 L933.5,2176.9 L935.0,2177.0 L936.5,2177.1 L938.0,2177.2 L939.5,2177.2 L941.0,2177.3 L942.5,2177.4 L944.0,2177.5 L945.5,2177.6 L946.9,2177.6 L948.4,2177.7 L949.9,2177.8 L951.4,2177.8 L952.9,2177.9 L954.4,2178.0 L955.9,2178.0 L957.4,2178.1 L958.9,2178.1 L960.4,2178.2 L961.8,2178.2 L962.8,2178.3" fill="none" stroke="#d8481f" stroke-width="3.8" stroke-linejoin="round" stroke-linecap="butt" clip-path="url(#clipC)" />
<path d="M88.9,2186.6 L89.9,2186.5 L91.3,2186.4 L92.8,2186.4 L94.3,2186.3 L95.8,2186.3 L97.3,2186.2 L98.8,2186.2 L100.3,2186.2 L101.8,2186.2 L103.3,2186.1 L104.8,2186.1 L106.3,2186.1 L107.8,2186.1 L109.3,2186.1 L110.8,2186.1 L112.3,2186.0 L113.8,2186.0 L115.3,2186.0 L116.8,2185.9 L118.3,2185.9 L119.8,2185.8 L121.3,2185.8 L122.8,2185.7 L124.3,2185.6 L125.8,2185.5 L127.3,2185.4 L128.8,2185.2 L130.3,2185.1 L131.8,2184.9 L133.2,2184.7 L134.7,2184.5 L136.2,2184.3 L137.7,2184.1 L139.2,2183.8 L140.6,2183.5 L142.1,2183.2 L143.6,2182.8 L145.0,2182.4 L146.4,2182.0 L147.9,2181.6 L149.3,2181.1 L150.7,2180.6 L152.1,2180.0 L153.5,2179.4 L154.8,2178.8 L156.2,2178.2 L157.5,2177.5 L158.8,2176.8 L160.1,2176.0 L161.4,2175.2 L162.7,2174.4 L163.9,2173.6 L165.2,2172.8 L166.4,2171.9 L167.6,2171.0 L168.8,2170.1 L170.0,2169.1 L171.1,2168.2 L172.3,2167.2 L173.4,2166.3 L174.5,2165.3 L175.7,2164.3 L176.8,2163.2 L177.9,2162.2 L179.0,2161.2 L180.1,2160.2 L181.2,2159.2 L182.4,2158.3 L183.6,2157.4 L184.8,2156.5 L186.0,2155.7 L187.3,2154.9 L188.7,2154.3 L190.1,2153.7 L191.5,2153.3 L192.9,2152.9 L194.4,2152.6 L195.9,2152.5 L197.4,2152.3 L198.9,2152.3 L200.4,2152.4 L201.9,2152.5 L203.4,2152.6 L204.9,2152.8 L206.3,2153.1 L207.8,2153.4 L209.3,2153.7 L210.7,2154.0 L212.2,2154.4 L213.6,2154.8 L215.1,2155.2 L216.5,2155.7 L217.9,2156.1 L219.4,2156.6 L220.8,2157.1 L222.2,2157.6 L223.6,2158.0 L225.0,2158.5 L226.5,2159.0 L227.9,2159.5 L229.3,2159.9 L230.7,2160.4 L232.2,2160.8 L233.6,2161.3 L235.1,2161.7 L236.5,2162.0 L238.0,2162.4 L239.4,2162.7 L240.9,2163.0 L242.4,2163.2 L243.9,2163.4 L245.4,2163.6 L246.9,2163.7 L248.4,2163.7 L249.9,2163.7 L251.4,2163.6 L252.8,2163.4 L254.3,2163.2 L255.8,2162.9 L257.2,2162.5 L258.7,2162.0 L260.1,2161.5 L261.5,2160.9 L262.8,2160.3 L264.2,2159.6 L265.5,2159.0 L266.9,2158.3 L268.2,2157.7 L269.6,2157.1 L271.0,2156.5 L272.4,2156.0 L273.8,2155.5 L275.2,2155.1 L276.7,2154.7 L278.1,2154.3 L279.6,2154.0 L281.1,2153.6 L282.5,2153.2 L283.9,2152.8 L285.4,2152.3 L286.8,2151.8 L288.1,2151.2 L289.5,2150.6 L290.8,2149.9 L292.1,2149.1 L293.4,2148.3 L294.7,2147.5 L295.9,2146.7 L297.2,2145.9 L298.5,2145.1 L299.7,2144.3 L301.0,2143.6 L302.3,2142.8 L303.7,2142.2 L305.1,2141.6 L306.5,2141.0 L307.9,2140.6 L309.4,2140.3 L310.8,2140.0 L312.3,2139.8 L313.8,2139.6 L315.3,2139.5 L316.8,2139.4 L318.3,2139.2 L319.8,2139.1 L321.3,2138.9 L322.7,2138.7 L324.2,2138.4 L325.7,2138.1 L327.1,2137.7 L328.5,2137.2 L329.9,2136.6 L331.3,2136.0 L332.6,2135.3 L333.9,2134.6 L335.2,2133.8 L336.5,2133.0 L337.7,2132.2 L338.9,2131.2 L340.1,2130.3 L341.2,2129.3 L342.3,2128.3 L343.4,2127.2 L344.4,2126.2 L345.5,2125.1 L346.5,2124.0 L347.5,2122.9 L348.6,2121.8 L349.6,2120.7 L350.6,2119.7 L351.7,2118.6 L352.8,2117.6 L353.9,2116.5 L355.0,2115.5 L356.1,2114.6 L357.3,2113.6 L358.5,2112.8 L359.7,2111.9 L361.0,2111.1 L362.3,2110.3 L363.6,2109.6 L364.9,2108.9 L366.3,2108.2 L367.6,2107.6 L369.0,2107.1 L370.5,2106.6 L371.9,2106.2 L373.3,2105.8 L374.8,2105.5 L376.3,2105.2 L377.8,2105.0 L379.3,2104.9 L380.8,2104.9 L382.3,2105.0 L383.7,2105.2 L385.2,2105.4 L386.7,2105.8 L388.1,2106.3 L389.5,2106.8 L390.8,2107.5 L392.1,2108.2 L393.3,2109.1 L394.5,2110.0 L395.6,2111.0 L396.7,2112.1 L397.7,2113.2 L398.6,2114.4 L399.5,2115.6 L400.4,2116.8 L401.2,2118.1 L401.9,2119.4 L402.6,2120.7 L403.3,2122.0 L403.9,2123.4 L404.5,2124.8 L405.1,2126.1 L405.6,2127.5 L406.1,2129.0 L406.6,2130.4 L407.1,2131.8 L407.6,2133.2 L408.1,2134.6 L408.6,2136.1 L409.1,2137.5 L409.7,2138.8 L410.4,2140.2 L411.1,2141.5 L412.0,2142.7 L413.0,2143.7 L414.2,2144.6 L415.5,2145.2 L417.0,2145.6 L418.4,2145.7 L419.9,2145.6 L421.4,2145.2 L422.8,2144.7 L424.1,2144.1 L425.5,2143.5 L426.8,2142.8 L428.2,2142.2 L429.6,2141.7 L431.0,2141.3 L432.5,2141.1 L433.9,2141.3 L435.3,2141.7 L436.6,2142.5 L437.8,2143.4 L438.8,2144.4 L439.9,2145.5 L440.8,2146.7 L441.8,2147.8 L442.7,2149.0 L443.6,2150.2 L444.5,2151.4 L445.4,2152.6 L446.4,2153.7 L447.4,2154.9 L448.3,2156.0 L449.4,2157.1 L450.4,2158.2 L451.5,2159.2 L452.7,2160.1 L453.9,2161.0 L455.2,2161.8 L456.5,2162.4 L457.9,2163.0 L459.4,2163.4 L460.8,2163.6 L462.3,2163.7 L463.8,2163.8 L465.3,2163.7 L466.8,2163.5 L468.3,2163.3 L469.8,2163.1 L471.2,2162.8 L472.7,2162.5 L474.2,2162.1 L475.6,2161.8 L477.1,2161.4 L478.5,2161.1 L480.0,2160.8 L481.5,2160.5 L483.0,2160.3 L484.4,2160.0 L485.9,2159.8 L487.4,2159.7 L488.9,2159.5 L490.4,2159.4 L491.9,2159.2 L493.4,2159.1 L494.9,2159.0 L496.4,2158.8 L497.9,2158.7 L499.4,2158.6 L500.9,2158.4 L502.3,2158.2 L503.8,2158.0 L505.3,2157.8 L506.8,2157.6 L508.3,2157.3 L509.8,2157.1 L511.2,2156.8 L512.7,2156.6 L514.2,2156.3 L515.7,2156.0 L517.1,2155.7 L518.6,2155.4 L520.1,2155.1 L521.5,2154.8 L523.0,2154.5 L524.5,2154.2 L526.0,2153.9 L527.4,2153.6 L528.9,2153.3 L530.4,2153.0 L531.8,2152.7 L533.3,2152.4 L534.8,2152.2 L536.3,2151.9 L537.7,2151.7 L539.2,2151.4 L540.7,2151.2 L542.2,2150.9 L543.7,2150.7 L545.2,2150.5 L546.6,2150.3 L548.1,2150.1 L549.6,2149.9 L551.1,2149.7 L552.6,2149.5 L554.1,2149.3 L555.6,2149.1 L557.0,2148.9 L558.5,2148.7 L560.0,2148.5 L561.5,2148.3 L563.0,2148.1 L564.5,2147.8 L565.9,2147.5 L567.4,2147.3 L568.9,2147.0 L570.4,2146.7 L571.8,2146.4 L573.3,2146.0 L574.7,2145.7 L576.2,2145.4 L577.7,2145.0 L579.1,2144.7 L580.6,2144.3 L582.0,2144.0 L583.5,2143.6 L584.9,2143.2 L586.4,2142.9 L587.9,2142.5 L589.3,2142.1 L590.8,2141.7 L592.2,2141.4 L593.7,2141.0 L595.1,2140.6 L596.6,2140.3 L598.0,2139.9 L599.5,2139.6 L601.0,2139.2 L602.4,2138.9 L603.9,2138.5 L605.3,2138.2 L606.8,2137.9 L608.3,2137.6 L609.8,2137.3 L611.2,2137.0 L612.7,2136.8 L614.2,2136.5 L615.7,2136.3 L617.2,2136.1 L618.6,2136.0 L620.1,2135.8 L621.6,2135.7 L623.1,2135.7 L624.6,2135.7 L626.1,2135.7 L627.6,2135.8 L629.1,2135.9 L630.6,2136.1 L632.1,2136.3 L633.6,2136.6 L635.0,2136.9 L636.5,2137.3 L637.9,2137.7 L639.4,2138.1 L640.8,2138.6 L642.2,2139.1 L643.6,2139.6 L645.0,2140.2 L646.4,2140.7 L647.8,2141.3 L649.1,2142.0 L650.5,2142.6 L651.8,2143.2 L653.2,2143.9 L654.5,2144.5 L655.9,2145.2 L657.2,2145.9 L658.5,2146.6 L659.9,2147.3 L661.2,2148.0 L662.5,2148.7 L663.9,2149.4 L665.2,2150.1 L666.5,2150.8 L667.9,2151.4 L669.2,2152.1 L670.5,2152.8 L671.9,2153.4 L673.2,2154.1 L674.6,2154.7 L676.0,2155.4 L677.3,2156.0 L678.7,2156.6 L680.1,2157.2 L681.4,2157.8 L682.8,2158.4 L684.2,2159.0 L685.6,2159.6 L687.0,2160.1 L688.4,2160.7 L689.8,2161.2 L691.2,2161.8 L692.6,2162.3 L694.0,2162.8 L695.4,2163.3 L696.8,2163.9 L698.2,2164.3 L699.6,2164.8 L701.0,2165.3 L702.5,2165.8 L703.9,2166.3 L705.3,2166.7 L706.8,2167.2 L708.2,2167.6 L709.6,2168.0 L711.1,2168.4 L712.5,2168.9 L714.0,2169.3 L715.4,2169.7 L716.8,2170.0 L718.3,2170.4 L719.8,2170.8 L721.2,2171.2 L722.7,2171.5 L724.1,2171.9 L725.6,2172.2 L727.1,2172.5 L728.5,2172.8 L730.0,2173.2 L731.5,2173.5 L732.9,2173.8 L734.4,2174.1 L735.9,2174.3 L737.3,2174.6 L738.8,2174.9 L740.3,2175.1 L741.8,2175.4 L743.3,2175.6 L744.7,2175.8 L746.2,2176.1 L747.7,2176.3 L749.2,2176.5 L750.7,2176.7 L752.2,2176.9 L753.7,2177.1 L755.1,2177.2 L756.6,2177.4 L758.1,2177.6 L759.6,2177.7 L761.1,2177.9 L762.6,2178.0 L764.1,2178.1 L765.6,2178.3 L767.1,2178.4 L768.6,2178.5 L770.1,2178.6 L771.6,2178.7 L773.1,2178.7 L774.6,2178.8 L776.1,2178.9 L777.6,2178.9 L779.1,2179.0 L780.6,2179.0 L782.1,2179.1 L783.6,2179.1 L785.1,2179.1 L786.6,2179.2 L788.1,2179.2 L789.6,2179.2 L791.1,2179.2 L792.6,2179.2 L794.1,2179.1 L795.6,2179.1 L797.1,2179.1 L798.6,2179.1 L800.1,2179.0 L801.6,2179.0 L803.1,2178.9 L804.6,2178.9 L806.1,2178.8 L807.6,2178.7 L809.1,2178.7 L810.6,2178.6 L812.1,2178.5 L813.6,2178.4 L815.1,2178.3 L816.5,2178.2 L818.0,2178.1 L819.5,2178.0 L821.0,2177.9 L822.5,2177.7 L824.0,2177.6 L825.5,2177.5 L827.0,2177.3 L828.5,2177.2 L830.0,2177.1 L831.5,2176.9 L833.0,2176.8 L834.5,2176.6 L836.0,2176.4 L837.5,2176.3 L838.9,2176.1 L840.4,2175.9 L841.9,2175.7 L843.4,2175.6 L844.9,2175.4 L846.4,2175.2 L847.9,2175.0 L849.4,2174.8 L850.9,2174.6 L852.3,2174.4 L853.8,2174.2 L855.3,2174.0 L856.8,2173.8 L858.3,2173.5 L859.8,2173.3 L861.2,2173.1 L862.7,2172.9 L864.2,2172.7 L865.7,2172.4 L867.2,2172.2 L868.7,2172.0 L870.1,2171.7 L871.6,2171.5 L873.1,2171.3 L874.6,2171.0 L876.1,2170.8 L877.5,2170.5 L879.0,2170.3 L880.5,2170.0 L882.0,2169.8 L883.5,2169.5 L884.9,2169.3 L886.4,2169.0 L887.9,2168.8 L889.4,2168.5 L890.8,2168.2 L892.3,2168.0 L893.8,2167.7 L895.3,2167.4 L896.8,2167.2 L898.2,2166.9 L899.7,2166.7 L901.2,2166.4 L902.7,2166.1 L904.1,2165.9 L905.6,2165.6 L907.1,2165.3 L908.6,2165.0 L910.0,2164.8 L911.5,2164.5 L913.0,2164.2 L914.5,2164.0 L915.9,2163.7 L917.4,2163.4 L918.9,2163.2 L920.4,2162.9 L921.8,2162.6 L923.3,2162.4 L924.8,2162.1 L926.3,2161.8 L927.7,2161.6 L929.2,2161.3 L930.7,2161.0 L932.2,2160.8 L933.7,2160.5 L935.1,2160.2 L936.6,2160.0 L938.1,2159.7 L939.6,2159.4 L941.0,2159.2 L942.5,2158.9 L944.0,2158.7 L945.5,2158.4 L947.0,2158.2 L948.4,2157.9 L949.9,2157.7 L951.4,2157.4 L952.9,2157.2 L954.4,2156.9 L955.8,2156.7 L957.3,2156.5 L958.8,2156.2 L960.3,2156.0 L961.6,2155.8 L962.7,2155.6" fill="none" stroke="#6a0e10" stroke-width="3.8" stroke-linejoin="round" stroke-linecap="butt" clip-path="url(#clipC)" />
<line x1="353.9" y1="1578.6" x2="413.3" y2="1578.6" stroke="#220c2c" stroke-width="3.8"/>
<text x="433.5" y="1588.1" font-size="27.4">θ = 0°</text>
<line x1="353.9" y1="1617.4" x2="413.3" y2="1617.4" stroke="#4a78c4" stroke-width="3.8"/>
<text x="433.5" y="1626.9" font-size="27.4">θ = 10°</text>
<line x1="353.9" y1="1656.3" x2="413.3" y2="1656.3" stroke="#4cbf9c" stroke-width="3.8"/>
<text x="433.5" y="1665.8" font-size="27.4">θ = 20°</text>
<line x1="566.9" y1="1578.6" x2="625.7" y2="1578.6" stroke="#a8d03a" stroke-width="3.8"/>
<text x="645.5" y="1588.1" font-size="27.4">θ = 30°</text>
<line x1="566.9" y1="1617.4" x2="625.7" y2="1617.4" stroke="#f0b040" stroke-width="3.8"/>
<text x="645.5" y="1626.9" font-size="27.4">θ = 40°</text>
<line x1="779.5" y1="1578.6" x2="837.9" y2="1578.6" stroke="#d8481f" stroke-width="3.8"/>
<text x="858.7" y="1588.1" font-size="27.4">θ = 50°</text>
<line x1="779.5" y1="1617.4" x2="837.9" y2="1617.4" stroke="#6a0e10" stroke-width="3.8"/>
<text x="858.7" y="1626.9" font-size="27.4">θ = 60°</text>
<text x="103" y="1588" font-family='"Liberation Sans", sans-serif' font-weight="bold" font-size="42" fill="#1c1212">(c)</text>
<rect x="88.3" y="1544.6" width="875.2" height="651.7" fill="none" stroke="#000" stroke-width="1.6"/>
<line x1="163.3" y1="2196.3" x2="163.3" y2="2203.3" stroke="#000" stroke-width="1.6"/>
<text transform="translate(163.3,2229.9) scale(1,1.11)" text-anchor="middle" font-size="26">450</text>
<line x1="288.3" y1="2196.3" x2="288.3" y2="2203.3" stroke="#000" stroke-width="1.6"/>
<text transform="translate(288.3,2229.9) scale(1,1.11)" text-anchor="middle" font-size="26">500</text>
<line x1="413.4" y1="2196.3" x2="413.4" y2="2203.3" stroke="#000" stroke-width="1.6"/>
<text transform="translate(413.4,2229.9) scale(1,1.11)" text-anchor="middle" font-size="26">550</text>
<line x1="538.4" y1="2196.3" x2="538.4" y2="2203.3" stroke="#000" stroke-width="1.6"/>
<text transform="translate(538.4,2229.9) scale(1,1.11)" text-anchor="middle" font-size="26">600</text>
<line x1="663.4" y1="2196.3" x2="663.4" y2="2203.3" stroke="#000" stroke-width="1.6"/>
<text transform="translate(663.4,2229.9) scale(1,1.11)" text-anchor="middle" font-size="26">650</text>
<line x1="788.5" y1="2196.3" x2="788.5" y2="2203.3" stroke="#000" stroke-width="1.6"/>
<text transform="translate(788.5,2229.9) scale(1,1.11)" text-anchor="middle" font-size="26">700</text>
<line x1="913.5" y1="2196.3" x2="913.5" y2="2203.3" stroke="#000" stroke-width="1.6"/>
<text transform="translate(913.5,2229.9) scale(1,1.11)" text-anchor="middle" font-size="26">750</text>
<line x1="81.3" y1="2196.3" x2="88.3" y2="2196.3" stroke="#000" stroke-width="1.6"/>
<text transform="translate(73.2,2205.8) scale(1,1.11)" text-anchor="end" font-size="26">0.0</text>
<line x1="81.3" y1="2114.8" x2="88.3" y2="2114.8" stroke="#000" stroke-width="1.6"/>
<text transform="translate(73.2,2124.3) scale(1,1.11)" text-anchor="end" font-size="26">0.1</text>
<line x1="81.3" y1="2033.4" x2="88.3" y2="2033.4" stroke="#000" stroke-width="1.6"/>
<text transform="translate(73.2,2042.9) scale(1,1.11)" text-anchor="end" font-size="26">0.2</text>
<line x1="81.3" y1="1951.9" x2="88.3" y2="1951.9" stroke="#000" stroke-width="1.6"/>
<text transform="translate(73.2,1961.4) scale(1,1.11)" text-anchor="end" font-size="26">0.3</text>
<line x1="81.3" y1="1870.5" x2="88.3" y2="1870.5" stroke="#000" stroke-width="1.6"/>
<text transform="translate(73.2,1880.0) scale(1,1.11)" text-anchor="end" font-size="26">0.4</text>
<line x1="81.3" y1="1789.0" x2="88.3" y2="1789.0" stroke="#000" stroke-width="1.6"/>
<text transform="translate(73.2,1798.5) scale(1,1.11)" text-anchor="end" font-size="26">0.5</text>
<line x1="81.3" y1="1707.5" x2="88.3" y2="1707.5" stroke="#000" stroke-width="1.6"/>
<text transform="translate(73.2,1717.0) scale(1,1.11)" text-anchor="end" font-size="26">0.6</text>
<line x1="81.3" y1="1626.1" x2="88.3" y2="1626.1" stroke="#000" stroke-width="1.6"/>
<text transform="translate(73.2,1635.6) scale(1,1.11)" text-anchor="end" font-size="26">0.7</text>
<line x1="81.3" y1="1544.6" x2="88.3" y2="1544.6" stroke="#000" stroke-width="1.6"/>
<text transform="translate(73.2,1554.1) scale(1,1.11)" text-anchor="end" font-size="26">0.8</text>
<text x="525.9" y="2264.5" text-anchor="middle" font-size="31.4">Wavelength (nm)</text>
<text transform="translate(27.2,1870.5) rotate(-90)" text-anchor="middle" font-size="31.4">Reflectance</text>
</svg></body></html>
